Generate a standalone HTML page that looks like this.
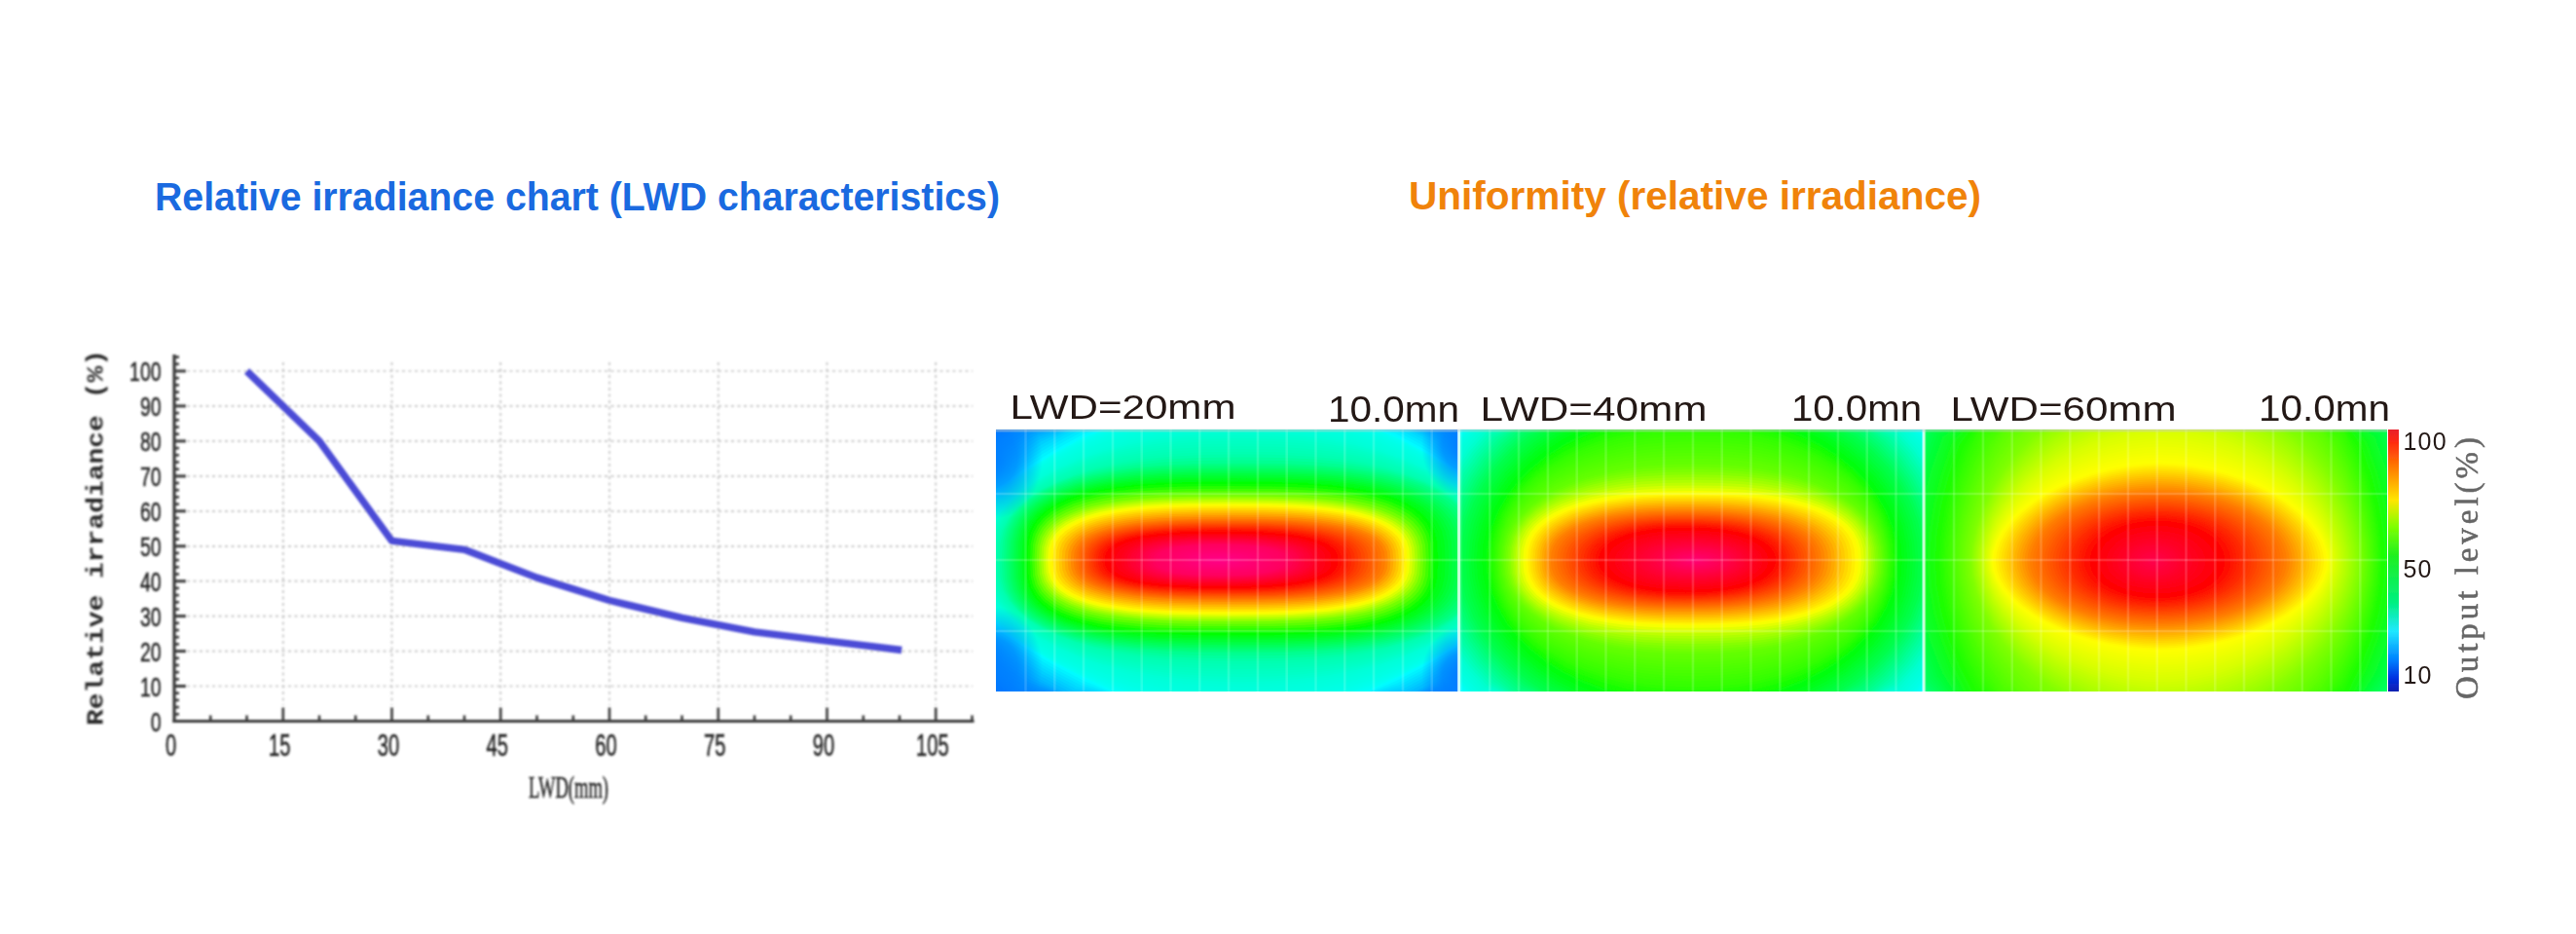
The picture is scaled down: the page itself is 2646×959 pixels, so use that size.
<!DOCTYPE html>
<html><head><meta charset="utf-8"><title>Relative irradiance</title>
<style>html,body{margin:0;padding:0;background:#fff;font-family:"Liberation Sans",sans-serif}svg{display:block}</style></head>
<body>
<svg width="2646" height="959" viewBox="0 0 2646 959">
<defs>
<clipPath id="h1c"><rect x="1023" y="441" width="475" height="269"/></clipPath>
<clipPath id="h2c"><rect x="1498" y="441" width="478" height="269"/></clipPath>
<clipPath id="h3c"><rect x="1976" y="441" width="476" height="269"/></clipPath>
<radialGradient id="h1b"><stop offset="0" stop-color="#007dff" stop-opacity="0.9"/><stop offset="0.45" stop-color="#007dff" stop-opacity="0.72"/><stop offset="1" stop-color="#007dff" stop-opacity="0"/></radialGradient>
<linearGradient id="cb" x1="0" y1="0" x2="0" y2="1">
<stop offset="0" stop-color="#e8202a"/>
<stop offset="0.05" stop-color="#ff2a10"/>
<stop offset="0.15" stop-color="#ff8000"/>
<stop offset="0.27" stop-color="#ffe600"/>
<stop offset="0.37" stop-color="#80ff00"/>
<stop offset="0.48" stop-color="#20f020"/>
<stop offset="0.66" stop-color="#00f080"/>
<stop offset="0.77" stop-color="#20e8ff"/>
<stop offset="0.88" stop-color="#0080ff"/>
<stop offset="0.95" stop-color="#0030e0"/>
<stop offset="1" stop-color="#1020b0"/>
</linearGradient>
<filter id="bl" x="-5%" y="-5%" width="110%" height="110%"><feGaussianBlur stdDeviation="0.8"/></filter>
<filter id="bl2" x="-5%" y="-5%" width="110%" height="110%"><feGaussianBlur stdDeviation="0.5"/></filter>
</defs>
<rect width="2646" height="959" fill="#fff"/>
<text x="159" y="215.5" font-family="'Liberation Sans',sans-serif" font-weight="700" font-size="40" fill="#1a6ae0" textLength="868" lengthAdjust="spacingAndGlyphs">Relative irradiance chart (LWD characteristics)</text>
<text x="1447" y="214.5" font-family="'Liberation Sans',sans-serif" font-weight="700" font-size="40" fill="#f0830a" textLength="588" lengthAdjust="spacingAndGlyphs">Uniformity (relative irradiance)</text>
<g filter="url(#bl)">
<g stroke="#c4c4c4" stroke-width="1.7" stroke-dasharray="3 3.5" fill="none">
<line x1="192" y1="704.5" x2="999" y2="704.5"/>
<line x1="192" y1="668.6" x2="999" y2="668.6"/>
<line x1="192" y1="632.6" x2="999" y2="632.6"/>
<line x1="192" y1="596.7" x2="999" y2="596.7"/>
<line x1="192" y1="560.8" x2="999" y2="560.8"/>
<line x1="192" y1="524.8" x2="999" y2="524.8"/>
<line x1="192" y1="488.9" x2="999" y2="488.9"/>
<line x1="192" y1="452.9" x2="999" y2="452.9"/>
<line x1="192" y1="416.9" x2="999" y2="416.9"/>
<line x1="192" y1="381.0" x2="999" y2="381.0"/>
<line x1="290.8" y1="372" x2="290.8" y2="724"/>
<line x1="402.5" y1="372" x2="402.5" y2="724"/>
<line x1="514.2" y1="372" x2="514.2" y2="724"/>
<line x1="626.0" y1="372" x2="626.0" y2="724"/>
<line x1="737.8" y1="372" x2="737.8" y2="724"/>
<line x1="849.5" y1="372" x2="849.5" y2="724"/>
<line x1="961.2" y1="372" x2="961.2" y2="724"/>
</g>
<g stroke="#3a3a3a" fill="none">
<line x1="179.0" y1="364" x2="179.0" y2="742.0" stroke-width="3.2"/>
<line x1="177.5" y1="740.5" x2="1000.5" y2="740.5" stroke-width="3.2"/>
<line x1="179.0" y1="740.5" x2="191.0" y2="740.5" stroke-width="3"/>
<line x1="179.0" y1="733.3" x2="184.0" y2="733.3" stroke-width="2.6"/>
<line x1="179.0" y1="726.1" x2="184.0" y2="726.1" stroke-width="2.6"/>
<line x1="179.0" y1="718.9" x2="184.0" y2="718.9" stroke-width="2.6"/>
<line x1="179.0" y1="711.7" x2="184.0" y2="711.7" stroke-width="2.6"/>
<line x1="179.0" y1="704.5" x2="191.0" y2="704.5" stroke-width="3"/>
<line x1="179.0" y1="697.4" x2="184.0" y2="697.4" stroke-width="2.6"/>
<line x1="179.0" y1="690.2" x2="184.0" y2="690.2" stroke-width="2.6"/>
<line x1="179.0" y1="683.0" x2="184.0" y2="683.0" stroke-width="2.6"/>
<line x1="179.0" y1="675.8" x2="184.0" y2="675.8" stroke-width="2.6"/>
<line x1="179.0" y1="668.6" x2="191.0" y2="668.6" stroke-width="3"/>
<line x1="179.0" y1="661.4" x2="184.0" y2="661.4" stroke-width="2.6"/>
<line x1="179.0" y1="654.2" x2="184.0" y2="654.2" stroke-width="2.6"/>
<line x1="179.0" y1="647.0" x2="184.0" y2="647.0" stroke-width="2.6"/>
<line x1="179.0" y1="639.8" x2="184.0" y2="639.8" stroke-width="2.6"/>
<line x1="179.0" y1="632.6" x2="191.0" y2="632.6" stroke-width="3"/>
<line x1="179.0" y1="625.5" x2="184.0" y2="625.5" stroke-width="2.6"/>
<line x1="179.0" y1="618.3" x2="184.0" y2="618.3" stroke-width="2.6"/>
<line x1="179.0" y1="611.1" x2="184.0" y2="611.1" stroke-width="2.6"/>
<line x1="179.0" y1="603.9" x2="184.0" y2="603.9" stroke-width="2.6"/>
<line x1="179.0" y1="596.7" x2="191.0" y2="596.7" stroke-width="3"/>
<line x1="179.0" y1="589.5" x2="184.0" y2="589.5" stroke-width="2.6"/>
<line x1="179.0" y1="582.3" x2="184.0" y2="582.3" stroke-width="2.6"/>
<line x1="179.0" y1="575.1" x2="184.0" y2="575.1" stroke-width="2.6"/>
<line x1="179.0" y1="567.9" x2="184.0" y2="567.9" stroke-width="2.6"/>
<line x1="179.0" y1="560.8" x2="191.0" y2="560.8" stroke-width="3"/>
<line x1="179.0" y1="553.6" x2="184.0" y2="553.6" stroke-width="2.6"/>
<line x1="179.0" y1="546.4" x2="184.0" y2="546.4" stroke-width="2.6"/>
<line x1="179.0" y1="539.2" x2="184.0" y2="539.2" stroke-width="2.6"/>
<line x1="179.0" y1="532.0" x2="184.0" y2="532.0" stroke-width="2.6"/>
<line x1="179.0" y1="524.8" x2="191.0" y2="524.8" stroke-width="3"/>
<line x1="179.0" y1="517.6" x2="184.0" y2="517.6" stroke-width="2.6"/>
<line x1="179.0" y1="510.4" x2="184.0" y2="510.4" stroke-width="2.6"/>
<line x1="179.0" y1="503.2" x2="184.0" y2="503.2" stroke-width="2.6"/>
<line x1="179.0" y1="496.0" x2="184.0" y2="496.0" stroke-width="2.6"/>
<line x1="179.0" y1="488.9" x2="191.0" y2="488.9" stroke-width="3"/>
<line x1="179.0" y1="481.7" x2="184.0" y2="481.7" stroke-width="2.6"/>
<line x1="179.0" y1="474.5" x2="184.0" y2="474.5" stroke-width="2.6"/>
<line x1="179.0" y1="467.3" x2="184.0" y2="467.3" stroke-width="2.6"/>
<line x1="179.0" y1="460.1" x2="184.0" y2="460.1" stroke-width="2.6"/>
<line x1="179.0" y1="452.9" x2="191.0" y2="452.9" stroke-width="3"/>
<line x1="179.0" y1="445.7" x2="184.0" y2="445.7" stroke-width="2.6"/>
<line x1="179.0" y1="438.5" x2="184.0" y2="438.5" stroke-width="2.6"/>
<line x1="179.0" y1="431.3" x2="184.0" y2="431.3" stroke-width="2.6"/>
<line x1="179.0" y1="424.1" x2="184.0" y2="424.1" stroke-width="2.6"/>
<line x1="179.0" y1="416.9" x2="191.0" y2="416.9" stroke-width="3"/>
<line x1="179.0" y1="409.8" x2="184.0" y2="409.8" stroke-width="2.6"/>
<line x1="179.0" y1="402.6" x2="184.0" y2="402.6" stroke-width="2.6"/>
<line x1="179.0" y1="395.4" x2="184.0" y2="395.4" stroke-width="2.6"/>
<line x1="179.0" y1="388.2" x2="184.0" y2="388.2" stroke-width="2.6"/>
<line x1="179.0" y1="381.0" x2="191.0" y2="381.0" stroke-width="3"/>
<line x1="179.0" y1="373.8" x2="184.0" y2="373.8" stroke-width="2.6"/>
<line x1="179.0" y1="366.6" x2="184.0" y2="366.6" stroke-width="2.6"/>
<line x1="216.2" y1="740.5" x2="216.2" y2="734.5" stroke-width="2.6"/>
<line x1="253.5" y1="740.5" x2="253.5" y2="734.5" stroke-width="2.6"/>
<line x1="290.8" y1="740.5" x2="290.8" y2="726.5" stroke-width="2.6"/>
<line x1="328.0" y1="740.5" x2="328.0" y2="734.5" stroke-width="2.6"/>
<line x1="365.2" y1="740.5" x2="365.2" y2="734.5" stroke-width="2.6"/>
<line x1="402.5" y1="740.5" x2="402.5" y2="726.5" stroke-width="2.6"/>
<line x1="439.8" y1="740.5" x2="439.8" y2="734.5" stroke-width="2.6"/>
<line x1="477.0" y1="740.5" x2="477.0" y2="734.5" stroke-width="2.6"/>
<line x1="514.2" y1="740.5" x2="514.2" y2="726.5" stroke-width="2.6"/>
<line x1="551.5" y1="740.5" x2="551.5" y2="734.5" stroke-width="2.6"/>
<line x1="588.8" y1="740.5" x2="588.8" y2="734.5" stroke-width="2.6"/>
<line x1="626.0" y1="740.5" x2="626.0" y2="726.5" stroke-width="2.6"/>
<line x1="663.2" y1="740.5" x2="663.2" y2="734.5" stroke-width="2.6"/>
<line x1="700.5" y1="740.5" x2="700.5" y2="734.5" stroke-width="2.6"/>
<line x1="737.8" y1="740.5" x2="737.8" y2="726.5" stroke-width="2.6"/>
<line x1="775.0" y1="740.5" x2="775.0" y2="734.5" stroke-width="2.6"/>
<line x1="812.2" y1="740.5" x2="812.2" y2="734.5" stroke-width="2.6"/>
<line x1="849.5" y1="740.5" x2="849.5" y2="726.5" stroke-width="2.6"/>
<line x1="886.8" y1="740.5" x2="886.8" y2="734.5" stroke-width="2.6"/>
<line x1="924.0" y1="740.5" x2="924.0" y2="734.5" stroke-width="2.6"/>
<line x1="961.2" y1="740.5" x2="961.2" y2="726.5" stroke-width="2.6"/>
<line x1="998.5" y1="740.5" x2="998.5" y2="734.5" stroke-width="2.6"/>
</g>
<text x="154.7" y="750.5" font-family="'Liberation Sans',sans-serif" font-size="28" fill="#222" stroke="#222" stroke-width="0.5" textLength="10.8" lengthAdjust="spacingAndGlyphs">0</text>
<text x="143.9" y="714.5" font-family="'Liberation Sans',sans-serif" font-size="28" fill="#222" stroke="#222" stroke-width="0.5" textLength="21.6" lengthAdjust="spacingAndGlyphs">10</text>
<text x="143.9" y="678.6" font-family="'Liberation Sans',sans-serif" font-size="28" fill="#222" stroke="#222" stroke-width="0.5" textLength="21.6" lengthAdjust="spacingAndGlyphs">20</text>
<text x="143.9" y="642.6" font-family="'Liberation Sans',sans-serif" font-size="28" fill="#222" stroke="#222" stroke-width="0.5" textLength="21.6" lengthAdjust="spacingAndGlyphs">30</text>
<text x="143.9" y="606.7" font-family="'Liberation Sans',sans-serif" font-size="28" fill="#222" stroke="#222" stroke-width="0.5" textLength="21.6" lengthAdjust="spacingAndGlyphs">40</text>
<text x="143.9" y="570.8" font-family="'Liberation Sans',sans-serif" font-size="28" fill="#222" stroke="#222" stroke-width="0.5" textLength="21.6" lengthAdjust="spacingAndGlyphs">50</text>
<text x="143.9" y="534.8" font-family="'Liberation Sans',sans-serif" font-size="28" fill="#222" stroke="#222" stroke-width="0.5" textLength="21.6" lengthAdjust="spacingAndGlyphs">60</text>
<text x="143.9" y="498.9" font-family="'Liberation Sans',sans-serif" font-size="28" fill="#222" stroke="#222" stroke-width="0.5" textLength="21.6" lengthAdjust="spacingAndGlyphs">70</text>
<text x="143.9" y="462.9" font-family="'Liberation Sans',sans-serif" font-size="28" fill="#222" stroke="#222" stroke-width="0.5" textLength="21.6" lengthAdjust="spacingAndGlyphs">80</text>
<text x="143.9" y="426.9" font-family="'Liberation Sans',sans-serif" font-size="28" fill="#222" stroke="#222" stroke-width="0.5" textLength="21.6" lengthAdjust="spacingAndGlyphs">90</text>
<text x="133.1" y="391.0" font-family="'Liberation Sans',sans-serif" font-size="28" fill="#222" stroke="#222" stroke-width="0.5" textLength="32.4" lengthAdjust="spacingAndGlyphs">100</text>
<text x="169.9" y="775.5" font-family="'Liberation Sans',sans-serif" font-size="30.5" fill="#222" stroke="#222" stroke-width="0.5" textLength="11.2" lengthAdjust="spacingAndGlyphs">0</text>
<text x="276.1" y="775.5" font-family="'Liberation Sans',sans-serif" font-size="30.5" fill="#222" stroke="#222" stroke-width="0.5" textLength="22.4" lengthAdjust="spacingAndGlyphs">15</text>
<text x="387.8" y="775.5" font-family="'Liberation Sans',sans-serif" font-size="30.5" fill="#222" stroke="#222" stroke-width="0.5" textLength="22.4" lengthAdjust="spacingAndGlyphs">30</text>
<text x="499.6" y="775.5" font-family="'Liberation Sans',sans-serif" font-size="30.5" fill="#222" stroke="#222" stroke-width="0.5" textLength="22.4" lengthAdjust="spacingAndGlyphs">45</text>
<text x="611.3" y="775.5" font-family="'Liberation Sans',sans-serif" font-size="30.5" fill="#222" stroke="#222" stroke-width="0.5" textLength="22.4" lengthAdjust="spacingAndGlyphs">60</text>
<text x="723.0" y="775.5" font-family="'Liberation Sans',sans-serif" font-size="30.5" fill="#222" stroke="#222" stroke-width="0.5" textLength="22.4" lengthAdjust="spacingAndGlyphs">75</text>
<text x="834.8" y="775.5" font-family="'Liberation Sans',sans-serif" font-size="30.5" fill="#222" stroke="#222" stroke-width="0.5" textLength="22.4" lengthAdjust="spacingAndGlyphs">90</text>
<text x="941.0" y="775.5" font-family="'Liberation Sans',sans-serif" font-size="30.5" fill="#222" stroke="#222" stroke-width="0.5" textLength="33.6" lengthAdjust="spacingAndGlyphs">105</text>
<text x="543" y="818.5" font-family="'Liberation Serif',serif" font-size="32" fill="#222" stroke="#222" stroke-width="0.5" textLength="82" lengthAdjust="spacingAndGlyphs">LWD(mm)</text>
<text transform="translate(105.5,745) rotate(-90)" font-family="'Liberation Mono',monospace" font-weight="700" font-size="23.5" fill="#2a2a2a" textLength="386" lengthAdjust="spacingAndGlyphs">Relative irradiance (%)</text>
<polyline fill="none" stroke="#4b4bd6" stroke-width="7.4" stroke-linejoin="round" stroke-linecap="butt" points="253.5,381.0 328.0,452.9 402.5,555.4 477.0,564.3 551.5,593.1 626.0,616.5 700.5,634.4 775.0,648.8 849.5,658.2 926.2,667.5"/>
</g>
<g filter="url(#bl2)">
<g clip-path="url(#h1c)">
<rect x="1023" y="441" width="475" height="269" fill="#006eff"/>
<g transform="translate(1260,575.5)">
<path fill="#0070ff" d="M241,137.5 -225.5,137.5 -241,121.4 -241,-127.8 -225.5,-137.5 241,-137.5Z"/>
<path fill="#0075ff" d="M241,137.5 -223.3,137.5 -241,119.8 -241,-126.1 -223.3,-137.5 241,-137.5Z"/>
<path fill="#0079ff" d="M241,137.5 -221.2,137.5 -241,118.1 -241,-124.3 -221.2,-137.5 241,-137.5Z"/>
<path fill="#007eff" d="M241,137.5 -219,137.5 -241,116.4 -241,-122.5 -219,-137.5 241,-137.5Z"/>
<path fill="#0082ff" d="M241,114.7 240.9,136 205.1,137.5 -181.1,137.5 -216.9,136 -241,114.7 -241,-120.8 -216.9,-137.5 240.9,-137.5 241,-120.8Z"/>
<path fill="#0086ff" d="M241,113.1 238.8,134.1 203.1,137.5 -179.1,137.5 -214.8,134.1 -241,113.1 -241,-119 -214.8,-137.5 238.8,-137.5 241,-119Z"/>
<path fill="#008bff" d="M241,111.4 236.6,132.3 201.2,137.5 -177.2,137.5 -212.6,132.3 -241,111.4 -241,-117.3 -212.6,-137.5 236.6,-137.5 241,-117.3Z"/>
<path fill="#008fff" d="M241,109.7 234.5,130.4 199.3,137.5 -175.3,137.5 -210.5,130.4 -241,109.7 -241,-115.5 -210.5,-137.2 -175.3,-137.5 199.3,-137.5 234.5,-137.2 241,-115.5Z"/>
<path fill="#0094ff" d="M241,108.1 232.4,128.5 197.4,137.5 -173.4,137.5 -208.4,128.5 -241,108.1 -241,-113.8 -208.4,-135.3 -173.4,-137.5 197.4,-137.5 232.4,-135.3 241,-113.8Z"/>
<path fill="#009aff" d="M241,106.5 230.2,126.6 195.5,137.5 -171.5,137.5 -206.2,126.6 -238.7,106.5 -241,85.5 -241,-90 -238.7,-112.1 -206.2,-133.3 -171.5,-137.5 195.5,-137.5 230.2,-133.3 241,-112.1Z"/>
<path fill="#00a3ff" d="M241,104.8 228,124.8 193.4,137.5 -169.1,137.5 -203.7,124.8 -235.9,104.8 -241,84.1 -241,-88.5 -235.9,-110.3 -203.7,-131.4 -169.1,-137.5 193.4,-137.5 228,-131.4 241,-110.3Z"/>
<path fill="#00acff" d="M241,103.2 225.8,123 191.4,137.5 -166.7,137.5 -201.1,123 -233.2,103.2 -241,82.7 -241,-87.1 -233.2,-108.6 -201.1,-129.5 -166.7,-137.5 191.4,-137.5 225.8,-129.5 241,-108.6Z"/>
<path fill="#00b5ff" d="M241,101.6 223.5,121.2 189.4,137.5 -164.4,137.5 -198.5,121.2 -230.5,101.6 -241,81.3 -241,-85.6 -230.5,-106.9 -198.5,-127.6 -164.4,-137.5 189.4,-137.5 223.5,-127.6 241,-106.9Z"/>
<path fill="#00bdff" d="M241,100 221.3,119.4 187.4,137.5 -162,137.5 -196,119.4 -227.8,100 -241,79.9 -241,-84.1 -227.8,-105.2 -196,-125.7 -162,-137.5 187.4,-137.5 221.3,-125.7 241,-105.2Z"/>
<path fill="#00c6ff" d="M241,98.4 219.1,117.6 185.3,135.6 150.5,137.5 -124.9,137.5 -159.7,135.6 -193.4,117.6 -225.1,98.4 -241,78.5 -241,-82.6 -225.1,-103.5 -193.4,-123.8 -159.7,-137.5 185.3,-137.5 219.1,-123.8 241,-103.5Z"/>
<path fill="#00cfff" d="M241,96.8 216.9,115.8 183.3,133.7 148.8,137.5 -122.8,137.5 -157.3,133.7 -190.9,115.8 -222.3,96.8 -241,77.1 -241,-81.2 -222.3,-101.8 -190.9,-121.9 -157.3,-137.5 183.3,-137.5 216.9,-121.9 241,-101.8Z"/>
<path fill="#00d8ff" d="M241,95.2 214.7,114 181.3,131.7 147.1,137.5 -120.7,137.5 -155,131.7 -188.3,114 -219.6,95.2 -241,75.8 -241,-79.7 -219.6,-100.2 -188.3,-120 -155,-137.5 181.3,-137.5 214.7,-120 241,-100.2Z"/>
<path fill="#00e0ff" d="M241,93.6 212.5,112.2 179.3,129.8 145.3,137.5 -118.7,137.5 -152.7,129.8 -185.8,112.2 -216.9,93.6 -241,74.4 -241,-78.3 -216.9,-98.5 -185.8,-118.1 -152.7,-136.6 -118.7,-137.5 145.3,-137.5 179.3,-136.6 212.5,-118.1 241,-98.5Z"/>
<path fill="#00e9ff" d="M241,92 210.3,110.5 177.4,127.8 143.6,137.5 -116.6,137.5 -150.4,127.8 -183.3,110.5 -214.2,92 -241,73 -241,-76.9 -214.2,-96.8 -183.3,-116.3 -150.4,-134.6 -116.6,-137.5 143.6,-137.5 177.4,-134.6 210.3,-116.3 241,-96.8Z"/>
<path fill="#00f2ff" d="M241,71.7 238.9,90.4 208.1,108.7 175.4,125.9 141.9,137.5 -114.5,137.5 -148,125.9 -180.7,108.7 -211.5,90.4 -239.4,71.7 -241,53.2 -241,-56 -239.4,-75.5 -211.5,-95.2 -180.7,-114.4 -148,-132.5 -114.5,-137.5 141.9,-137.5 175.4,-132.5 208.1,-114.4 238.9,-95.2 241,-75.5Z"/>
<path fill="#00fbff" d="M241,70.3 236.5,88.8 205.9,106.9 173.4,124 140.2,137.5 -112.5,137.5 -145.7,124 -178.2,106.9 -208.8,88.8 -236.6,70.3 -241,52.1 -241,-54.8 -236.6,-74 -208.8,-93.5 -178.2,-112.6 -145.7,-130.5 -112.5,-137.5 140.2,-137.5 173.4,-130.5 205.9,-112.6 236.5,-93.5 241,-74Z"/>
<path fill="#00fffe" d="M241,69 234.1,87.3 203.7,105.2 171.4,122.1 138.5,137.4 106,137.5 -78,137.5 -110.5,137.4 -143.4,122.1 -175.7,105.2 -206.1,87.3 -233.7,69 -241,51 -241,-53.7 -233.7,-72.6 -206.1,-91.9 -175.7,-110.7 -143.4,-128.5 -110.5,-137.5 138.5,-137.5 171.4,-128.5 203.7,-110.7 234.1,-91.9 241,-72.6Z"/>
<path fill="#00fffb" d="M241,69.7 234.4,87.5 204.7,104.9 173.1,121.3 140.6,136 108.4,137.5 -80.3,137.5 -112.5,136 -145,121.3 -176.6,104.9 -206.2,87.5 -233.1,69.7 -241,51.9 -241,-54.7 -233.1,-73.3 -206.2,-92.1 -176.6,-110.5 -145,-127.7 -112.5,-137.5 140.6,-137.5 173.1,-127.7 204.7,-110.5 234.4,-92.1 241,-73.3Z"/>
<path fill="#00fff9" d="M241,70.2 234.4,87.7 205.5,104.6 174.5,120.4 142.5,134.7 110.6,137.5 -82.4,137.5 -114.3,134.7 -146.3,120.4 -177.3,104.6 -206.2,87.7 -232.3,70.2 -241,52.7 -241,-55.5 -232.3,-73.9 -206.2,-92.3 -177.3,-110.1 -146.3,-126.8 -114.3,-137.5 142.5,-137.5 174.5,-126.8 205.5,-110.1 234.4,-92.3 241,-73.9Z"/>
<path fill="#00fff7" d="M241,70.6 234.4,87.7 206.2,104.2 175.9,119.5 144.4,133.2 112.7,137.5 -84.4,137.5 -116,133.2 -147.5,119.5 -177.8,104.2 -206,87.7 -231.4,70.6 -241,53.5 -241,-56.3 -231.4,-74.4 -206,-92.3 -177.8,-109.6 -147.5,-125.8 -116,-137.5 144.4,-137.5 175.9,-125.8 206.2,-109.6 234.4,-92.3 241,-74.4Z"/>
<path fill="#00fff4" d="M241,71 234.2,87.6 206.7,103.6 177,118.4 146,131.7 114.7,137.5 -86.2,137.5 -117.6,131.7 -148.5,118.4 -178.2,103.6 -205.8,87.6 -230.4,71 -241,54.1 -241,-56.9 -230.4,-74.7 -205.8,-92.3 -178.2,-109.1 -148.5,-124.7 -117.6,-137.5 146,-137.5 177,-124.7 206.7,-109.1 234.2,-92.3 241,-74.7Z"/>
<path fill="#00fff2" d="M241,71.2 233.9,87.5 207.1,103 178,117.3 147.6,130.1 116.6,137.5 -88,137.5 -119,130.1 -149.5,117.3 -178.5,103 -205.4,87.5 -229.3,71.2 -241,54.6 -241,-57.5 -229.3,-75 -205.4,-92.1 -178.5,-108.4 -149.5,-123.5 -119,-137 -88,-137.5 116.6,-137.5 147.6,-137 178,-123.5 207.1,-108.4 233.9,-92.1 241,-75Z"/>
<path fill="#00fff0" d="M241,71.4 233.5,87.2 207.4,102.3 178.9,116.2 149,128.5 118.3,137.5 -89.6,137.5 -120.3,128.5 -150.2,116.2 -178.7,102.3 -204.8,87.2 -228.1,71.4 -241,55.1 -241,-58 -228.1,-75.1 -204.8,-91.8 -178.7,-107.7 -150.2,-122.3 -120.3,-135.3 -89.6,-137.5 118.3,-137.5 149,-135.3 178.9,-122.3 207.4,-107.7 233.5,-91.8 241,-75.1Z"/>
<path fill="#00ffed" d="M241,71.4 233.1,86.9 207.5,101.5 179.7,114.9 150.3,126.8 120,137 89.8,137.5 -60.9,137.5 -91.2,137 -121.4,126.8 -150.9,114.9 -178.7,101.5 -204.2,86.9 -226.9,71.4 -241,55.5 -241,-58.4 -226.9,-75.2 -204.2,-91.4 -178.7,-106.8 -150.9,-121 -121.4,-133.5 -91.2,-137.5 120,-137.5 150.3,-133.5 179.7,-121 207.5,-106.8 233.1,-91.4 241,-75.2Z"/>
<path fill="#00ffeb" d="M241,71.4 232.5,86.4 207.6,100.6 180.3,113.6 151.4,125.1 121.5,134.8 91.5,137.5 -62.5,137.5 -92.6,134.8 -122.5,125.1 -151.4,113.6 -178.6,100.6 -203.5,86.4 -225.6,71.4 -241,55.8 -241,-58.7 -225.6,-75.1 -203.5,-91 -178.6,-105.9 -151.4,-119.6 -122.5,-131.7 -92.6,-137.5 121.5,-137.5 151.4,-131.7 180.3,-119.6 207.6,-105.9 232.5,-91 241,-75.1Z"/>
<path fill="#00ffe9" d="M241,71.3 231.8,85.9 207.5,99.7 180.9,112.3 152.5,123.3 122.9,132.7 93.1,137.5 -64,137.5 -93.9,132.7 -123.4,123.3 -151.8,112.3 -178.4,99.7 -202.7,85.9 -224.2,71.3 -241,56 -241,-59 -224.2,-75 -202.7,-90.5 -178.4,-104.9 -151.8,-118.2 -123.4,-129.8 -93.9,-137.5 122.9,-137.5 152.5,-129.8 180.9,-118.2 207.5,-104.9 231.8,-90.5 241,-75Z"/>
<path fill="#00ffe6" d="M241,71.1 231,85.3 207.3,98.7 181.3,110.8 153.4,121.5 124.3,130.5 94.6,137.5 -65.5,137.5 -95.1,130.5 -124.2,121.5 -152.1,110.8 -178.2,98.7 -201.9,85.3 -222.7,71.1 -240.4,56.2 -241,41 -241,-43.1 -240.4,-59.1 -222.7,-74.8 -201.9,-89.8 -178.2,-103.9 -152.1,-116.7 -124.2,-127.9 -95.1,-137.4 -65.5,-137.5 94.6,-137.5 124.3,-137.4 153.4,-127.9 181.3,-116.7 207.3,-103.9 231,-89.8 241,-74.8Z"/>
<path fill="#00ffe4" d="M241,70.8 230.2,84.7 207.1,97.6 181.6,109.4 154.2,119.7 125.5,128.4 96.1,135.3 66.8,137.5 -37.5,137.5 -66.8,135.3 -96.2,128.4 -124.9,119.7 -152.3,109.4 -177.8,97.6 -200.9,84.7 -221.2,70.8 -238.4,56.2 -241,41.3 -241,-43.5 -238.4,-59.2 -221.2,-74.5 -200.9,-89.1 -177.8,-102.8 -152.3,-115.1 -124.9,-126 -96.2,-135.1 -66.8,-137.5 96.1,-137.5 125.5,-135.1 154.2,-126 181.6,-115.1 207.1,-102.8 230.2,-89.1 241,-74.5Z"/>
<path fill="#00ffe2" d="M241,70.5 229.3,84 206.7,96.5 181.8,107.8 154.9,117.8 126.6,126.1 97.5,132.8 68.2,137.5 -38.8,137.5 -68.1,132.8 -97.2,126.1 -125.5,117.8 -152.4,107.8 -177.3,96.5 -199.9,84 -219.7,70.5 -236.3,56.2 -241,41.6 -241,-43.8 -236.3,-59.2 -219.7,-74.2 -199.9,-88.4 -177.3,-101.6 -152.4,-113.5 -125.5,-124 -97.2,-132.8 -68.1,-137.5 97.5,-137.5 126.6,-132.8 154.9,-124 181.8,-113.5 206.7,-101.6 229.3,-88.4 241,-74.2Z"/>
<path fill="#00ffdf" d="M241,70 228.3,83.2 206.3,95.3 181.9,106.3 155.5,115.8 127.6,123.9 98.8,130.3 69.5,134.9 40.8,137.5 -11.3,137.5 -40,134.9 -69.2,130.3 -98.1,123.9 -126,115.8 -152.4,106.3 -176.8,95.3 -198.8,83.2 -218,70 -234.2,56.2 -241,41.8 -241,-44 -234.2,-59.1 -218,-73.7 -198.8,-87.5 -176.8,-100.3 -152.4,-111.8 -126,-121.9 -98.1,-130.4 -69.2,-137.1 -40,-137.5 69.5,-137.5 98.8,-137.1 127.6,-130.4 155.5,-121.9 181.9,-111.8 206.3,-100.3 228.3,-87.5 241,-73.7Z"/>
<path fill="#00ffdd" d="M241,69.6 227.3,82.3 205.8,94.1 181.9,104.6 156,113.9 128.6,121.6 100,127.8 70.8,132.2 41.9,134.9 14.8,135.8 -12.2,134.9 -41.2,132.2 -70.3,127.8 -98.9,121.6 -126.4,113.9 -152.3,104.6 -176.1,94.1 -197.6,82.3 -216.4,69.6 -232.1,56 -241,41.9 -241,-44.2 -232.1,-59 -216.4,-73.2 -197.6,-86.6 -176.1,-99 -152.3,-110.1 -126.4,-119.9 -98.9,-128 -70.3,-134.5 -41.2,-137.5 70.8,-137.5 100,-134.5 128.6,-128 156,-119.9 181.9,-110.1 205.8,-99 227.3,-86.6 241,-73.2Z"/>
<path fill="#00ffdb" d="M241,69 226.2,81.4 205.2,92.8 181.9,103 156.5,111.9 129.4,119.3 101.1,125.2 72.1,129.5 42.9,132.1 14.9,133 -13.1,132.1 -42.3,129.5 -71.4,125.2 -99.7,119.3 -126.7,111.9 -152.1,103 -175.4,92.8 -196.4,81.4 -214.7,69 -230,55.8 -241,42 -241,-44.2 -230,-58.8 -214.7,-72.6 -196.4,-85.7 -175.4,-97.6 -152.1,-108.4 -126.7,-117.8 -99.7,-125.6 -71.4,-131.8 -42.3,-136.4 -13.1,-137.5 42.9,-137.5 72.1,-136.4 101.1,-131.8 129.4,-125.6 156.5,-117.8 181.9,-108.4 205.2,-97.6 226.2,-85.7 241,-72.6Z"/>
<path fill="#00ffd8" d="M241,68.4 225,80.4 204.5,91.4 181.7,101.3 156.8,109.8 130.2,117 102.2,122.7 73.3,126.8 43.9,129.3 14.9,130.2 -14,129.3 -43.4,126.8 -72.3,122.7 -100.3,117 -126.9,109.8 -151.8,101.3 -174.7,91.4 -195.1,80.4 -212.9,68.4 -227.8,55.6 -239.6,42.1 -241,28.1 -241,-29.6 -239.6,-44.3 -227.8,-58.5 -212.9,-72 -195.1,-84.6 -174.7,-96.2 -151.8,-106.6 -126.9,-115.6 -100.3,-123.2 -72.3,-129.2 -43.4,-133.5 -14,-136.1 14.9,-137 43.9,-136.1 73.3,-133.5 102.2,-129.2 130.2,-123.2 156.8,-115.6 181.7,-106.6 204.5,-96.2 225,-84.6 241,-72Z"/>
<path fill="#00ffd5" d="M241,67.7 223.7,79.4 203.8,90 181.5,99.5 157.1,107.8 130.8,114.7 103.2,120.2 74.4,124.1 44.9,126.5 15,127.3 -14.9,126.5 -44.4,124.1 -73.2,120.2 -100.8,114.7 -127.1,107.8 -151.5,99.5 -173.8,90 -193.7,79.4 -211.1,67.7 -225.6,55.2 -237,42 -241,28.3 -241,-29.8 -237,-44.3 -225.6,-58.1 -211.1,-71.3 -193.7,-83.5 -173.8,-94.8 -151.5,-104.8 -127.1,-113.5 -100.8,-120.7 -73.2,-126.5 -44.4,-130.6 -14.9,-133.2 15,-134 44.9,-133.2 74.4,-130.6 103.2,-126.5 130.8,-120.7 157.1,-113.5 181.5,-104.8 203.8,-94.8 223.7,-83.5 241,-71.3Z"/>
<path fill="#00ffd0" d="M241,55.1 240.4,67.2 223.5,78.5 204,88.8 182.1,98 158.1,105.9 132.2,112.6 104.7,117.8 76,121.6 46.1,123.9 15,124.7 -16.1,123.9 -46,121.6 -74.7,117.8 -102.2,112.6 -128.1,105.9 -152.1,98 -174,88.8 -193.5,78.5 -210.4,67.2 -224.5,55.1 -235.7,42.2 -241,28.7 -241,-30.2 -235.7,-44.4 -224.5,-58 -210.4,-70.8 -193.5,-82.7 -174,-93.5 -152.1,-103.1 -128.1,-111.5 -102.2,-118.5 -74.7,-124 -46,-128 -16.1,-130.4 15,-131.2 46.1,-130.4 76,-128 104.7,-124 132.2,-118.5 158.1,-111.5 182.1,-103.1 204,-93.5 223.5,-82.7 240.4,-70.8 241,-58Z"/>
<path fill="#00ffcc" d="M241,54.9 239.6,66.7 223.1,77.6 204.1,87.6 182.6,96.4 159,104.1 133.4,110.4 106.2,115.5 77.5,119.1 47.4,121.3 15,122 -17.4,121.3 -47.5,119.1 -76.2,115.5 -103.4,110.4 -129,104.1 -152.6,96.4 -174.1,87.6 -193.1,77.6 -209.6,66.7 -223.4,54.9 -234.3,42.2 -241,28.9 -241,-30.5 -234.3,-44.5 -223.4,-57.7 -209.6,-70.2 -193.1,-81.7 -174.1,-92.2 -152.6,-101.5 -129,-109.5 -103.4,-116.2 -76.2,-121.5 -47.5,-125.4 -17.4,-127.7 15,-128.4 47.4,-127.7 77.5,-125.4 106.2,-121.5 133.4,-116.2 159,-109.5 182.6,-101.5 204.1,-92.2 223.1,-81.7 239.6,-70.2 241,-57.7Z"/>
<path fill="#00ffc7" d="M241,54.6 238.9,66.1 222.8,76.7 204.1,86.3 183,94.8 159.8,102.1 134.6,108.3 107.6,113.1 79,116.6 48.6,118.7 15,119.4 -18.6,118.7 -49,116.6 -77.6,113.1 -104.6,108.3 -129.8,102.1 -153,94.8 -174.1,86.3 -192.8,76.7 -208.9,66.1 -222.3,54.6 -232.9,42.3 -240.5,29.2 -241,15.3 -241,-16.1 -240.5,-30.7 -232.9,-44.5 -222.3,-57.4 -208.9,-69.5 -192.8,-80.7 -174.1,-90.8 -153,-99.8 -129.8,-107.5 -104.6,-114 -77.6,-119 -49,-122.7 -18.6,-124.9 15,-125.7 48.6,-124.9 79,-122.7 107.6,-119 134.6,-114 159.8,-107.5 183,-99.8 204.1,-90.8 222.8,-80.7 238.9,-69.5 241,-57.4Z"/>
<path fill="#00ffc3" d="M241,54.2 238.1,65.4 222.3,75.7 204,84.9 183.4,93.1 160.6,100.2 135.7,106.1 109,110.7 80.4,114.1 49.8,116.1 15,116.7 -19.8,116.1 -50.4,114.1 -79,110.7 -105.7,106.1 -130.6,100.2 -153.4,93.1 -174,84.9 -192.3,75.7 -208.1,65.4 -221.2,54.2 -231.5,42.2 -238.9,29.4 -241,15.6 -241,-16.5 -238.9,-30.9 -231.5,-44.4 -221.2,-57.1 -208.1,-68.8 -192.3,-79.6 -174,-89.4 -153.4,-98 -130.6,-105.5 -105.7,-111.7 -79,-116.5 -50.4,-120.1 -19.8,-122.2 15,-122.9 49.8,-122.2 80.4,-120.1 109,-116.5 135.7,-111.7 160.6,-105.5 183.4,-98 204,-89.4 222.3,-79.6 238.1,-68.8 241,-57.1Z"/>
<path fill="#00ffbf" d="M241,53.8 237.2,64.7 221.8,74.6 203.9,83.5 183.7,91.4 161.3,98.2 136.7,103.9 110.2,108.3 81.7,111.5 51,113.5 15,114.1 -21,113.5 -51.7,111.5 -80.2,108.3 -106.7,103.9 -131.3,98.2 -153.7,91.4 -173.9,83.5 -191.8,74.6 -207.2,64.7 -220,53.8 -230,42.1 -237.3,29.5 -241,15.9 -241,-16.7 -237.3,-31.1 -230,-44.3 -220,-56.7 -207.2,-68.1 -191.8,-78.5 -173.9,-87.9 -153.7,-96.2 -131.3,-103.4 -106.7,-109.4 -80.2,-114 -51.7,-117.4 -21,-119.4 15,-120.1 51,-119.4 81.7,-117.4 110.2,-114 136.7,-109.4 161.3,-103.4 183.7,-96.2 203.9,-87.9 221.8,-78.5 237.2,-68.1 241,-56.7Z"/>
<path fill="#00ffba" d="M241,53.4 236.3,63.9 221.3,73.5 203.8,82.1 184,89.7 161.9,96.2 137.7,101.7 111.4,105.9 83.1,109 52.1,110.8 15,111.5 -22.1,110.8 -53.1,109 -81.4,105.9 -107.7,101.7 -131.9,96.2 -154,89.7 -173.8,82.1 -191.3,73.5 -206.3,63.9 -218.8,53.4 -228.6,41.9 -235.7,29.6 -239.9,16.1 -241,0 -239.9,-17 -235.7,-31.2 -228.6,-44.1 -218.8,-56.2 -206.3,-67.2 -191.3,-77.3 -173.8,-86.4 -154,-94.4 -131.9,-101.3 -107.7,-107 -81.4,-111.5 -53.1,-114.7 -22.1,-116.7 15,-117.3 52.1,-116.7 83.1,-114.7 111.4,-111.5 137.7,-107 161.9,-101.3 184,-94.4 203.8,-86.4 221.3,-77.3 236.3,-67.2 241,-56.2Z"/>
<path fill="#00ffb6" d="M241,52.8 235.4,63 220.7,72.3 203.6,80.6 184.1,88 162.4,94.2 138.6,99.4 112.6,103.5 84.3,106.5 53.3,108.2 15,108.8 -23.3,108.2 -54.3,106.5 -82.6,103.5 -108.6,99.4 -132.4,94.2 -154.1,88 -173.6,80.6 -190.7,72.3 -205.4,63 -217.6,52.8 -227.1,41.7 -234,29.6 -238.2,16.4 -239.6,0 -238.2,-17.2 -234,-31.2 -227.1,-43.9 -217.6,-55.6 -205.4,-66.4 -190.7,-76.1 -173.6,-84.9 -154.1,-92.6 -132.4,-99.2 -108.6,-104.7 -82.6,-109 -54.3,-112.1 -23.3,-113.9 15,-114.6 53.3,-113.9 84.3,-112.1 112.6,-109 138.6,-104.7 162.4,-99.2 184.1,-92.6 203.6,-84.9 220.7,-76.1 235.4,-66.4 241,-55.6Z"/>
<path fill="#00ffb1" d="M241,52.3 234.5,62.1 220.1,71.1 203.3,79.1 184.3,86.2 162.9,92.2 139.4,97.2 113.7,101.1 85.6,103.9 54.4,105.6 15,106.2 -24.4,105.6 -55.6,103.9 -83.7,101.1 -109.4,97.2 -132.9,92.2 -154.3,86.2 -173.3,79.1 -190.1,71.1 -204.5,62.1 -216.4,52.3 -225.7,41.5 -232.4,29.6 -236.4,16.5 -237.8,0 -236.4,-17.4 -232.4,-31.2 -225.7,-43.6 -216.4,-55 -204.5,-65.4 -190.1,-74.8 -173.3,-83.3 -154.3,-90.7 -132.9,-97.1 -109.4,-102.3 -83.7,-106.4 -55.6,-109.4 -24.4,-111.2 15,-111.8 54.4,-111.2 85.6,-109.4 113.7,-106.4 139.4,-102.3 162.9,-97.1 184.3,-90.7 203.3,-83.3 220.1,-74.8 234.5,-65.4 241,-55Z"/>
<path fill="#00ffa9" d="M241,51.6 233.5,61.2 219.5,69.9 203,77.6 184.3,84.3 163.4,90.1 140.2,94.9 114.7,98.7 86.7,101.4 55.5,103 15,103.5 -25.5,103 -56.7,101.4 -84.7,98.7 -110.2,94.9 -133.4,90.1 -154.3,84.3 -173,77.6 -189.5,69.9 -203.5,61.2 -215.1,51.6 -224.2,41.1 -230.7,29.6 -234.7,16.7 -236,0 -234.7,-17.6 -230.7,-31.2 -224.2,-43.3 -215.1,-54.4 -203.5,-64.4 -189.5,-73.5 -173,-81.7 -154.3,-88.8 -133.4,-94.9 -110.2,-99.9 -84.7,-103.9 -56.7,-106.7 -25.5,-108.4 15,-109 55.5,-108.4 86.7,-106.7 114.7,-103.9 140.2,-99.9 163.4,-94.9 184.3,-88.8 203,-81.7 219.5,-73.5 233.5,-64.4 241,-54.4Z"/>
<path fill="#00ff9e" d="M241,51.6 232.1,60.8 218.6,69 202.9,76.3 184.8,82.7 164.6,88.2 142,92.6 117,96.2 89.3,98.7 57.7,100.2 14.7,100.7 -28.4,100.2 -60,98.7 -87.7,96.2 -112.7,92.6 -135.2,88.2 -155.5,82.7 -173.5,76.3 -189.3,69 -202.7,60.8 -213.8,51.6 -222.5,41.5 -228.7,30.3 -232.4,17.5 -233.7,0 -232.4,-18.4 -228.7,-31.9 -222.5,-43.7 -213.8,-54.4 -202.7,-64 -189.3,-72.6 -173.5,-80.3 -155.5,-87.1 -135.2,-92.8 -112.7,-97.5 -87.7,-101.2 -60,-103.9 -28.4,-105.5 14.7,-106 57.7,-105.5 89.3,-103.9 117,-101.2 142,-97.5 164.6,-92.8 184.8,-87.1 202.9,-80.3 218.6,-72.6 232.1,-64 241,-54.4Z"/>
<path fill="#00ff92" d="M241,51.5 230.5,60.2 217.6,68 202.5,75 185.1,81 165.5,86.1 143.6,90.3 119.1,93.6 91.7,96 59.9,97.4 14.3,97.8 -31.3,97.4 -63,96 -90.4,93.6 -114.9,90.3 -136.9,86.1 -156.5,81 -173.8,75 -189,68 -201.8,60.2 -212.4,51.5 -220.7,41.7 -226.6,30.8 -230.1,18.2 -231.3,0 -230.1,-19.1 -226.6,-32.4 -220.7,-43.9 -212.4,-54.2 -201.8,-63.4 -189,-71.6 -173.8,-78.9 -156.5,-85.2 -136.9,-90.6 -114.9,-95.1 -90.4,-98.5 -63,-101 -31.3,-102.5 14.3,-103 59.9,-102.5 91.7,-101 119.1,-98.5 143.6,-95.1 165.5,-90.6 185.1,-85.2 202.5,-78.9 217.6,-71.6 230.5,-63.4 241,-54.2Z"/>
<path fill="#00ff86" d="M241,41.8 238.9,51.2 228.8,59.5 216.5,66.9 202,73.5 185.2,79.2 166.3,84 144.9,87.9 121,91 93.8,93.2 62,94.6 14,95 -34,94.6 -65.8,93.2 -93,91 -116.9,87.9 -138.3,84 -157.2,79.2 -174,73.5 -188.5,66.9 -200.8,59.5 -210.9,51.2 -218.8,41.8 -224.5,31.2 -227.9,18.8 -229,0 -227.9,-19.8 -224.5,-32.9 -218.8,-44 -210.9,-53.9 -200.8,-62.7 -188.5,-70.5 -174,-77.4 -157.2,-83.3 -138.3,-88.4 -116.9,-92.6 -93,-95.8 -65.8,-98.1 -34,-99.5 14,-100 62,-99.5 93.8,-98.1 121,-95.8 144.9,-92.6 166.3,-88.4 185.2,-83.3 202,-77.4 216.5,-70.5 228.8,-62.7 238.9,-53.9 241,-44Z"/>
<path fill="#00ff7a" d="M241,41.4 235.7,50.6 225.8,58.7 213.7,66 199.5,72.4 183,77.9 164.4,82.6 143.4,86.5 119.7,89.5 92.9,91.6 61.4,92.9 13.2,93.3 -34.9,92.9 -66.5,91.6 -93.3,89.5 -116.9,86.5 -137.9,82.6 -156.6,77.9 -173,72.4 -187.3,66 -199.3,58.7 -209.2,50.6 -217,41.4 -222.5,31 -225.8,18.7 -226.9,0 -225.8,-19.7 -222.5,-32.6 -217,-43.6 -209.2,-53.2 -199.3,-61.8 -187.3,-69.5 -173,-76.2 -156.6,-82 -137.9,-87 -116.9,-91 -93.3,-94.2 -66.5,-96.4 -34.9,-97.8 13.2,-98.2 61.4,-97.8 92.9,-96.4 119.7,-94.2 143.4,-91 164.4,-87 183,-82 199.5,-76.2 213.7,-69.5 225.8,-61.8 235.7,-53.2 241,-43.6Z"/>
<path fill="#00ff6f" d="M241,30.7 240,41 232.4,49.9 222.7,57.9 210.9,65 196.9,71.3 180.8,76.7 162.4,81.2 141.8,85 118.5,87.9 92,90 60.7,91.3 12.5,91.7 -35.8,91.3 -67.1,90 -93.6,87.9 -116.9,85 -137.5,81.2 -155.9,76.7 -172,71.3 -186,65 -197.8,57.9 -207.5,49.9 -215.1,41 -220.5,30.7 -223.8,18.6 -224.9,0 -223.8,-19.6 -220.5,-32.4 -215.1,-43.1 -207.5,-52.6 -197.8,-61 -186,-68.4 -172,-75 -155.9,-80.7 -137.5,-85.5 -116.9,-89.5 -93.6,-92.5 -67.1,-94.7 -35.8,-96.1 12.4,-96.5 60.7,-96.1 92,-94.7 118.5,-92.5 141.8,-89.5 162.4,-85.5 180.8,-80.7 196.9,-75 210.9,-68.4 222.7,-61 232.4,-52.6 240,-43.1 241,-32.4Z"/>
<path fill="#00ff63" d="M241,30.5 236.6,40.5 229.2,49.3 219.7,57.1 208.1,64 194.3,70.1 178.5,75.4 160.5,79.8 140.1,83.5 117.2,86.3 91.1,88.4 60.1,89.6 11.7,90 -36.7,89.6 -67.7,88.4 -93.9,86.3 -116.8,83.5 -137.1,79.8 -155.2,75.4 -171,70.1 -184.7,64 -196.3,57.1 -205.8,49.3 -213.3,40.5 -218.6,30.5 -221.8,18.6 -222.8,0 -221.8,-19.6 -218.6,-32.1 -213.3,-42.6 -205.8,-51.9 -196.3,-60.1 -184.7,-67.4 -171,-73.8 -155.2,-79.3 -137.1,-84 -116.8,-87.9 -93.9,-90.9 -67.7,-93 -36.7,-94.3 11.7,-94.8 60.1,-94.3 91.1,-93 117.2,-90.9 140.1,-87.9 160.5,-84 178.5,-79.3 194.3,-73.8 208.1,-67.4 219.7,-60.1 229.2,-51.9 236.6,-42.6 241,-32.1Z"/>
<path fill="#00ff58" d="M241,18.5 238.4,30.2 233.2,40 225.9,48.7 216.6,56.3 205.2,63 191.8,69 176.2,74.1 158.5,78.5 138.5,82 115.9,84.8 90.1,86.8 59.4,88 10.9,88.3 -37.6,88 -68.3,86.8 -94.1,84.8 -116.7,82 -136.7,78.5 -154.4,74.1 -170,69 -183.4,63 -194.8,56.3 -204.1,48.7 -211.4,40 -216.6,30.2 -219.7,18.5 -220.8,0 -219.7,-19.5 -216.6,-31.8 -211.4,-42.2 -204.1,-51.2 -194.8,-59.3 -183.4,-66.4 -170,-72.6 -154.4,-78 -136.7,-82.6 -116.7,-86.3 -94.1,-89.2 -68.3,-91.3 -37.6,-92.6 10.9,-93 59.4,-92.6 90.1,-91.3 115.9,-89.2 138.5,-86.3 158.5,-82.6 176.2,-78 191.8,-72.6 205.2,-66.4 216.6,-59.3 225.9,-51.2 233.2,-42.2 238.4,-31.8 241,-19.5Z"/>
<path fill="#00ff4c" d="M239,0 237.9,18.4 234.9,29.9 229.8,39.6 222.7,48 213.5,55.5 202.4,62 189.2,67.8 173.9,72.8 156.5,77.1 136.8,80.5 114.6,83.2 89.1,85.1 58.7,86.3 10.1,86.7 -38.4,86.3 -68.8,85.1 -94.3,83.2 -116.6,80.5 -136.3,77.1 -153.7,72.8 -168.9,67.8 -182.1,62 -193.3,55.5 -202.4,48 -209.5,39.6 -214.6,29.9 -217.7,18.4 -218.7,0 -217.7,-19.4 -214.6,-31.5 -209.5,-41.7 -202.4,-50.5 -193.3,-58.4 -182.1,-65.3 -168.9,-71.4 -153.7,-76.7 -136.3,-81.1 -116.6,-84.8 -94.3,-87.6 -68.8,-89.6 -38.4,-90.8 10.1,-91.2 58.7,-90.8 89.1,-89.6 114.6,-87.6 136.8,-84.8 156.5,-81.1 173.9,-76.7 189.2,-71.4 202.4,-65.3 213.5,-58.4 222.7,-50.5 229.8,-41.7 234.9,-31.5 237.9,-19.4Z"/>
<path fill="#00ff40" d="M235.3,0 234.4,18.3 231.4,29.6 226.4,39.1 219.4,47.3 210.4,54.6 199.5,61 186.6,66.7 171.6,71.5 154.5,75.7 135.1,79 113.2,81.6 88.1,83.5 58,84.6 9.4,85 -39.3,84.6 -69.4,83.5 -94.5,81.6 -116.4,79 -135.8,75.7 -152.9,71.5 -167.9,66.7 -180.8,61 -191.7,54.6 -200.7,47.3 -207.7,39.1 -212.7,29.6 -215.7,18.3 -216.7,0 -215.7,-19.3 -212.7,-31.2 -207.7,-41.1 -200.7,-49.8 -191.7,-57.5 -180.8,-64.2 -167.9,-70.2 -152.9,-75.3 -135.8,-79.6 -116.4,-83.2 -94.5,-85.9 -69.4,-87.9 -39.3,-89.1 9.3,-89.5 58,-89.1 88.1,-87.9 113.2,-85.9 135.1,-83.2 154.5,-79.6 171.6,-75.3 186.6,-70.2 199.5,-64.2 210.4,-57.5 219.4,-49.8 226.4,-41.1 231.4,-31.2 234.4,-19.3Z"/>
<path fill="#00ff34" d="M231.7,0 230.8,18.2 227.8,29.3 223,38.6 216.1,46.6 207.4,53.7 196.6,60 183.9,65.5 169.2,70.2 152.4,74.3 133.4,77.5 111.8,80.1 87,81.9 57.2,83 8.6,83.4 -40.1,83 -69.9,81.9 -94.7,80.1 -116.3,77.5 -135.3,74.3 -152.1,70.2 -166.8,65.5 -179.5,60 -190.2,53.7 -199,46.6 -205.8,38.6 -210.7,29.3 -213.6,18.2 -214.6,0 -213.6,-19.1 -210.7,-30.8 -205.8,-40.6 -199,-49.1 -190.2,-56.6 -179.5,-63.2 -166.8,-69 -152.1,-73.9 -135.3,-78.2 -116.3,-81.6 -94.7,-84.3 -69.9,-86.2 -40.1,-87.4 8.6,-87.8 57.2,-87.4 87,-86.2 111.8,-84.3 133.4,-81.6 152.4,-78.2 169.2,-73.9 183.9,-69 196.6,-63.2 207.4,-56.6 216.1,-49.1 223,-40.6 227.8,-30.8 230.8,-19.1Z"/>
<path fill="#00ff29" d="M228.1,0 227.2,18 224.3,29 219.5,38.1 212.8,45.9 204.2,52.9 193.7,59 181.3,64.3 166.9,68.9 150.4,72.8 131.7,76 110.4,78.5 86,80.3 56.5,81.3 7.8,81.7 -40.9,81.3 -70.4,80.3 -94.8,78.5 -116.1,76 -134.8,72.8 -151.3,68.9 -165.7,64.3 -178.1,59 -188.6,52.9 -197.2,45.9 -203.9,38.1 -208.7,29 -211.6,18 -212.5,0 -211.6,-19 -208.7,-30.5 -203.9,-40.1 -197.2,-48.4 -188.6,-55.7 -178.1,-62.1 -165.7,-67.7 -151.3,-72.6 -134.8,-76.7 -116.1,-80 -94.8,-82.6 -70.4,-84.5 -40.9,-85.6 7.8,-86 56.5,-85.6 86,-84.5 110.4,-82.6 131.7,-80 150.4,-76.7 166.9,-72.6 181.3,-67.7 193.7,-62.1 204.2,-55.7 212.8,-48.4 219.5,-40.1 224.3,-30.5 227.2,-19Z"/>
<path fill="#00ff1d" d="M224.5,0 223.6,17.9 220.8,28.6 216.1,37.5 209.6,45.2 201.1,52 190.8,57.9 178.6,63.2 164.5,67.6 148.3,71.4 129.9,74.5 109,76.9 84.9,78.7 55.7,79.7 7,80 -41.6,79.7 -70.8,78.7 -94.9,76.9 -115.9,74.5 -134.3,71.4 -150.4,67.6 -164.6,63.2 -176.8,57.9 -187.1,52 -195.5,45.2 -202.1,37.5 -206.7,28.6 -209.5,17.9 -210.5,0 -209.5,-18.9 -206.7,-30.2 -202.1,-39.5 -195.5,-47.6 -187.1,-54.7 -176.8,-61 -164.6,-66.5 -150.4,-71.2 -134.3,-75.2 -115.9,-78.5 -94.9,-81 -70.8,-82.8 -41.6,-83.9 7,-84.2 55.7,-83.9 84.9,-82.8 109,-81 129.9,-78.5 148.3,-75.2 164.5,-71.2 178.6,-66.5 190.8,-61 201.1,-54.7 209.6,-47.6 216.1,-39.5 220.8,-30.2 223.6,-18.9Z"/>
<path fill="#00ff12" d="M220.9,0 220,17.8 217.3,28.3 212.7,37 206.3,44.5 198,51.1 187.9,56.9 176,62 162.1,66.3 146.2,70 128.1,73 107.5,75.4 83.8,77 54.9,78 6.3,78.4 -42.4,78 -71.3,77 -95,75.4 -115.6,73 -133.7,70 -149.6,66.3 -163.5,62 -175.4,56.9 -185.5,51.1 -193.8,44.5 -200.2,37 -204.8,28.3 -207.5,17.8 -208.4,0 -207.5,-18.7 -204.8,-29.8 -200.2,-38.9 -193.8,-46.8 -185.5,-53.8 -175.4,-59.9 -163.5,-65.2 -149.6,-69.8 -133.7,-73.7 -115.6,-76.9 -95,-79.3 -71.3,-81.1 -42.4,-82.1 6.2,-82.5 54.9,-82.1 83.8,-81.1 107.5,-79.3 128.1,-76.9 146.2,-73.7 162.1,-69.8 176,-65.2 187.9,-59.9 198,-53.8 206.3,-46.8 212.7,-38.9 217.3,-29.8 220,-18.7Z"/>
<path fill="#00ff06" d="M217.3,0 216.4,17.6 213.7,27.9 209.2,36.4 203,43.8 194.9,50.2 185,55.8 173.3,60.8 159.7,65 144.1,68.6 126.3,71.5 106.1,73.8 82.6,75.4 54.1,76.4 5.5,76.7 -43.1,76.4 -71.7,75.4 -95.1,73.8 -115.4,71.5 -133.1,68.6 -148.7,65 -162.3,60.8 -174.1,55.8 -183.9,50.2 -192,43.8 -198.3,36.4 -202.8,27.9 -205.5,17.6 -206.4,0 -205.5,-18.5 -202.8,-29.4 -198.3,-38.3 -192,-46.1 -183.9,-52.8 -174.1,-58.8 -162.3,-64 -148.7,-68.4 -133.1,-72.2 -115.4,-75.3 -95.1,-77.7 -71.7,-79.4 -43.1,-80.4 5.5,-80.8 54.1,-80.4 82.6,-79.4 106.1,-77.7 126.3,-75.3 144.1,-72.2 159.7,-68.4 173.3,-64 185,-58.8 194.9,-52.8 203,-46.1 209.2,-38.3 213.7,-29.4 216.4,-18.5Z"/>
<path fill="#0dff00" d="M213.7,0 212.8,17.4 210.2,27.6 205.8,35.9 199.7,43 191.8,49.3 182.1,54.8 170.6,59.6 157.2,63.7 141.9,67.2 124.5,70 104.6,72.2 81.4,73.8 53.3,74.7 4.7,75 -43.9,74.7 -72,73.8 -95.2,72.2 -115.1,70 -132.5,67.2 -147.8,63.7 -161.2,59.6 -172.7,54.8 -182.4,49.3 -190.3,43 -196.4,35.9 -200.8,27.6 -203.4,17.4 -204.3,0 -203.4,-18.4 -200.8,-29 -196.4,-37.7 -190.3,-45.3 -182.4,-51.9 -172.7,-57.7 -161.2,-62.7 -147.8,-67 -132.5,-70.7 -115.1,-73.7 -95.2,-76 -72,-77.7 -43.9,-78.7 4.7,-79 53.3,-78.7 81.4,-77.7 104.6,-76 124.5,-73.7 141.9,-70.7 157.2,-67 170.6,-62.7 182.1,-57.7 191.8,-51.9 199.7,-45.3 205.8,-37.7 210.2,-29 212.8,-18.4Z"/>
<path fill="#26ff00" d="M210.8,0 209.9,16.7 207.3,26.5 202.9,34.5 196.8,41.4 189,47.5 179.3,52.9 167.9,57.5 154.7,61.5 139.5,64.9 122.2,67.7 102.5,69.8 79.6,71.4 51.8,72.3 4.4,72.6 -43.1,72.3 -70.9,71.4 -93.8,69.8 -113.5,67.7 -130.8,64.9 -146,61.5 -159.2,57.5 -170.6,52.9 -180.2,47.5 -188.1,41.4 -194.2,34.5 -198.6,26.5 -201.2,16.7 -202,0 -201.2,-17.6 -198.6,-27.9 -194.2,-36.3 -188.1,-43.6 -180.2,-50 -170.6,-55.6 -159.2,-60.5 -146,-64.8 -130.8,-68.3 -113.5,-71.2 -93.8,-73.5 -70.9,-75.1 -43.1,-76.1 4.4,-76.4 51.8,-76.1 79.6,-75.1 102.5,-73.5 122.2,-71.2 139.5,-68.3 154.7,-64.8 167.9,-60.5 179.3,-55.6 189,-50 196.8,-43.6 202.9,-36.3 207.3,-27.9 209.9,-17.6Z"/>
<path fill="#40ff00" d="M207.8,0 207,16 204.4,25.4 200,33.2 194,39.9 186.1,45.8 176.6,51 165.3,55.5 152.1,59.4 137.1,62.7 119.9,65.3 100.4,67.4 77.9,68.9 50.4,69.8 4,70.1 -42.4,69.8 -69.8,68.9 -92.4,67.4 -111.9,65.3 -129,62.7 -144.1,59.4 -157.2,55.5 -168.6,51 -178.1,45.8 -185.9,39.9 -192,33.2 -196.3,25.4 -198.9,16 -199.8,0 -198.9,-16.8 -196.3,-26.7 -192,-34.9 -185.9,-42 -178.1,-48.2 -168.6,-53.6 -157.2,-58.4 -144.1,-62.5 -129,-66 -111.9,-68.8 -92.4,-71 -69.8,-72.5 -42.4,-73.5 4,-73.8 50.4,-73.5 77.9,-72.5 100.4,-71 119.9,-68.8 137.1,-66 152.1,-62.5 165.3,-58.4 176.6,-53.6 186.1,-48.2 194,-42 200,-34.9 204.4,-26.7 207,-16.8Z"/>
<path fill="#5aff00" d="M204.9,0 204,15.3 201.4,24.3 197.1,31.8 191.1,38.3 183.3,44 173.9,49 162.6,53.4 149.6,57.2 134.7,60.4 117.7,63 98.4,65 76.1,66.5 49,67.4 3.7,67.6 -41.7,67.4 -68.7,66.5 -91,65 -110.3,63 -127.3,60.4 -142.2,57.2 -155.3,53.4 -166.5,49 -176,44 -183.7,38.3 -189.8,31.8 -194.1,24.3 -196.7,15.3 -197.5,0 -196.7,-16.1 -194.1,-25.6 -189.8,-33.5 -183.7,-40.3 -176,-46.3 -166.5,-51.6 -155.3,-56.2 -142.2,-60.2 -127.3,-63.6 -110.3,-66.3 -91,-68.5 -68.7,-70 -41.7,-70.9 3.7,-71.2 49,-70.9 76.1,-70 98.4,-68.5 117.7,-66.3 134.7,-63.6 149.6,-60.2 162.6,-56.2 173.9,-51.6 183.3,-46.3 191.1,-40.3 197.1,-33.5 201.4,-25.6 204,-16.1Z"/>
<path fill="#73ff00" d="M201.9,0 201.1,14.5 198.5,23.3 194.2,30.5 188.2,36.8 180.5,42.3 171.1,47.2 160,51.4 147,55.1 132.2,58.2 115.4,60.7 96.3,62.6 74.3,64 47.7,64.9 3.3,65.2 -41,64.9 -67.6,64 -89.7,62.6 -108.8,60.7 -125.6,58.2 -140.4,55.1 -153.3,51.4 -164.5,47.2 -173.9,42.3 -181.6,36.8 -187.6,30.5 -191.8,23.3 -194.4,14.5 -195.3,0 -194.4,-15.3 -191.8,-24.5 -187.6,-32.1 -181.6,-38.7 -173.9,-44.5 -164.5,-49.6 -153.3,-54.1 -140.4,-58 -125.6,-61.2 -108.8,-63.9 -89.7,-65.9 -67.6,-67.4 -41,-68.3 3.3,-68.6 47.7,-68.3 74.3,-67.4 96.3,-65.9 115.4,-63.9 132.2,-61.2 147,-58 160,-54.1 171.1,-49.6 180.5,-44.5 188.2,-38.7 194.2,-32.1 198.5,-24.5 201.1,-15.3Z"/>
<path fill="#8dff00" d="M199,0 198.1,13.9 195.6,22.2 191.3,29.2 185.4,35.3 177.8,40.6 168.4,45.3 157.3,49.4 144.5,52.9 129.8,55.9 113.2,58.3 94.3,60.3 72.5,61.6 46.3,62.4 3,62.7 -40.3,62.4 -66.5,61.6 -88.3,60.3 -107.2,58.3 -123.8,55.9 -138.5,52.9 -151.3,49.4 -162.4,45.3 -171.8,40.6 -179.4,35.3 -185.3,29.2 -189.6,22.2 -192.1,13.9 -193,0 -192.1,-14.6 -189.6,-23.4 -185.3,-30.7 -179.4,-37.1 -171.8,-42.7 -162.4,-47.6 -151.3,-52 -138.5,-55.7 -123.8,-58.8 -107.2,-61.4 -88.3,-63.4 -66.5,-64.9 -40.3,-65.7 3,-66 46.3,-65.7 72.5,-64.9 94.3,-63.4 113.2,-61.4 129.8,-58.8 144.5,-55.7 157.3,-52 168.4,-47.6 177.8,-42.7 185.4,-37.1 191.3,-30.7 195.6,-23.4 198.1,-14.6Z"/>
<path fill="#a6ff00" d="M196.3,0 195.4,13.3 192.9,21.5 188.7,28.3 182.8,34.2 175.2,39.3 165.9,43.9 154.9,47.9 142.2,51.4 127.6,54.3 111.1,56.7 92.4,58.6 70.9,59.9 45.1,60.7 2.8,61 -39.5,60.7 -65.4,59.9 -86.9,58.6 -105.6,56.7 -122.1,54.3 -136.6,51.4 -149.3,47.9 -160.3,43.9 -169.6,39.3 -177.2,34.2 -183.1,28.3 -187.3,21.5 -189.9,13.3 -190.7,0 -189.9,-14 -187.3,-22.6 -183.1,-29.7 -177.2,-36 -169.6,-41.4 -160.3,-46.2 -149.3,-50.5 -136.6,-54.1 -122.1,-57.2 -105.6,-59.7 -86.9,-61.7 -65.4,-63.1 -39.5,-63.9 2.8,-64.2 45.1,-63.9 70.9,-63.1 92.4,-61.7 111.1,-59.7 127.6,-57.2 142.2,-54.1 154.9,-50.5 165.9,-46.2 175.2,-41.4 182.8,-36 188.7,-29.7 192.9,-22.6 195.4,-14Z"/>
<path fill="#c0ff00" d="M193.6,0 192.7,12.8 190.2,20.7 186,27.3 180.1,33.1 172.6,38.1 163.4,42.6 152.5,46.5 139.8,49.9 125.4,52.8 109.1,55.1 90.6,56.9 69.3,58.2 43.9,59 2.6,59.3 -38.7,59 -64.2,58.2 -85.5,56.9 -104,55.1 -120.3,52.8 -134.7,49.9 -147.3,46.5 -158.2,42.6 -167.5,38.1 -175,33.1 -180.9,27.3 -185.1,20.7 -187.6,12.8 -188.4,0 -187.6,-13.5 -185.1,-21.8 -180.9,-28.8 -175,-34.8 -167.5,-40.1 -158.2,-44.8 -147.3,-49 -134.7,-52.5 -120.3,-55.5 -104,-58 -85.5,-59.9 -64.2,-61.3 -38.7,-62.1 2.6,-62.4 43.9,-62.1 69.3,-61.3 90.6,-59.9 109.1,-58 125.4,-55.5 139.8,-52.5 152.5,-49 163.4,-44.8 172.6,-40.1 180.1,-34.8 186,-28.8 190.2,-21.8 192.7,-13.5Z"/>
<path fill="#d9ff00" d="M190.8,0 190,12.3 187.5,20 183.3,26.4 177.5,32 170,36.9 160.8,41.3 150,45.1 137.5,48.4 123.2,51.2 107,53.5 88.7,55.3 67.8,56.5 42.7,57.3 2.3,57.6 -38,57.3 -63.1,56.5 -84.1,55.3 -102.4,53.5 -118.5,51.2 -132.8,48.4 -145.3,45.1 -156.2,41.3 -165.3,36.9 -172.8,32 -178.6,26.4 -182.8,20 -185.3,12.3 -186.2,0 -185.3,-13 -182.8,-21 -178.6,-27.8 -172.8,-33.7 -165.3,-38.9 -156.2,-43.4 -145.3,-47.5 -132.8,-51 -118.5,-53.9 -102.4,-56.3 -84.1,-58.2 -63.1,-59.5 -38,-60.3 2.3,-60.6 42.7,-60.3 67.8,-59.5 88.7,-58.2 107,-56.3 123.2,-53.9 137.5,-51 150,-47.5 160.8,-43.4 170,-38.9 177.5,-33.7 183.3,-27.8 187.5,-21 190,-13Z"/>
<path fill="#f2ff00" d="M188.1,0 187.3,11.8 184.8,19.2 180.7,25.5 174.9,30.9 167.4,35.7 158.3,40 147.6,43.7 135.2,46.9 121,49.6 105,51.9 86.9,53.6 66.2,54.9 41.5,55.6 2.1,55.9 -37.2,55.6 -62,54.9 -82.7,53.6 -100.8,51.9 -116.8,49.6 -130.9,46.9 -143.3,43.7 -154.1,40 -163.2,35.7 -170.6,30.9 -176.4,25.5 -180.6,19.2 -183,11.8 -183.9,0 -183,-12.4 -180.6,-20.3 -176.4,-26.8 -170.6,-32.5 -163.2,-37.6 -154.1,-42.1 -143.3,-46 -130.9,-49.4 -116.8,-52.3 -100.8,-54.6 -82.7,-56.4 -62,-57.8 -37.2,-58.5 2.1,-58.8 41.5,-58.5 66.2,-57.8 86.9,-56.4 105,-54.6 121,-52.3 135.2,-49.4 147.6,-46 158.3,-42.1 167.4,-37.6 174.9,-32.5 180.7,-26.8 184.8,-20.3 187.3,-12.4Z"/>
<path fill="#fff700" d="M185.4,0 184.6,11.3 182.1,18.5 178,24.5 172.2,29.8 164.8,34.5 155.8,38.6 145.2,42.3 132.8,45.4 118.8,48.1 103,50.3 85.1,52 64.6,53.2 40.3,53.9 1.9,54.1 -36.5,53.9 -60.8,53.2 -81.3,52 -99.2,50.3 -115,48.1 -129,45.4 -141.4,42.3 -152,38.6 -161,34.5 -168.4,29.8 -174.2,24.5 -178.3,18.5 -180.8,11.3 -181.6,0 -180.8,-11.9 -178.3,-19.5 -174.2,-25.8 -168.4,-31.4 -161,-36.3 -152,-40.7 -141.4,-44.5 -129,-47.8 -115,-50.6 -99.2,-52.9 -81.3,-54.7 -60.8,-56 -36.5,-56.7 1.9,-57 40.3,-56.7 64.6,-56 85.1,-54.7 103,-52.9 118.8,-50.6 132.8,-47.8 145.2,-44.5 155.8,-40.7 164.8,-36.3 172.2,-31.4 178,-25.8 182.1,-19.5 184.6,-11.9Z"/>
<path fill="#ffe700" d="M182.6,0 181.8,10.9 179.3,17.9 175.2,23.7 169.6,28.8 162.3,33.4 153.3,37.4 142.8,40.9 130.7,44 116.8,46.6 101.2,48.7 83.6,50.4 63.4,51.5 39.5,52.3 2,52.5 -35.5,52.3 -59.4,51.5 -79.5,50.4 -97.2,48.7 -112.8,46.6 -126.6,44 -138.8,40.9 -149.3,37.4 -158.2,33.4 -165.5,28.8 -171.2,23.7 -175.3,17.9 -177.7,10.9 -178.6,0 -177.7,-11.5 -175.3,-18.8 -171.2,-25 -165.5,-30.3 -158.2,-35.1 -149.3,-39.4 -138.8,-43.1 -126.6,-46.3 -112.8,-49 -97.2,-51.3 -79.5,-53 -59.4,-54.3 -35.5,-55 2,-55.2 39.5,-55 63.4,-54.3 83.6,-53 101.2,-51.3 116.8,-49 130.7,-46.3 142.8,-43.1 153.3,-39.4 162.3,-35.1 169.6,-30.3 175.2,-25 179.3,-18.8 181.8,-11.5Z"/>
<path fill="#ffd700" d="M179.8,0 178.9,10.5 176.5,17.2 172.5,22.9 166.9,27.8 159.7,32.3 150.9,36.2 140.5,39.6 128.5,42.6 114.8,45.1 99.4,47.1 82.1,48.8 62.3,49.9 38.8,50.6 2.1,50.8 -34.5,50.6 -58,49.9 -77.8,48.8 -95.2,47.1 -110.6,45.1 -124.2,42.6 -136.2,39.6 -146.6,36.2 -155.4,32.3 -162.6,27.8 -168.3,22.9 -172.3,17.2 -174.7,10.5 -175.5,0 -174.7,-11 -172.3,-18.1 -168.3,-24.1 -162.6,-29.3 -155.4,-33.9 -146.6,-38.1 -136.2,-41.7 -124.2,-44.8 -110.6,-47.5 -95.2,-49.6 -77.8,-51.3 -58,-52.5 -34.5,-53.3 2.1,-53.5 38.8,-53.3 62.3,-52.5 82.1,-51.3 99.4,-49.6 114.8,-47.5 128.5,-44.8 140.5,-41.7 150.9,-38.1 159.7,-33.9 166.9,-29.3 172.5,-24.1 176.5,-18.1 178.9,-11Z"/>
<path fill="#ffc700" d="M176.9,0 176.1,10.1 173.7,16.6 169.8,22 164.2,26.9 157.1,31.1 148.4,34.9 138.2,38.3 126.3,41.1 112.9,43.6 97.7,45.6 80.6,47.1 61.1,48.3 38,48.9 2.2,49.2 -33.6,48.9 -56.6,48.3 -76.1,47.1 -93.2,45.6 -108.4,43.6 -121.8,41.1 -133.7,38.3 -143.9,34.9 -152.6,31.1 -159.7,26.9 -165.3,22 -169.3,16.6 -171.7,10.1 -172.4,0 -171.7,-10.6 -169.3,-17.4 -165.3,-23.2 -159.7,-28.3 -152.6,-32.8 -143.9,-36.8 -133.7,-40.3 -121.8,-43.3 -108.4,-45.9 -93.2,-48 -76.1,-49.6 -56.6,-50.8 -33.6,-51.5 2.2,-51.8 38,-51.5 61.1,-50.8 80.6,-49.6 97.7,-48 112.9,-45.9 126.3,-43.3 138.2,-40.3 148.4,-36.8 157.1,-32.8 164.2,-28.3 169.8,-23.2 173.7,-17.4 176.1,-10.6Z"/>
<path fill="#ffb800" d="M174.1,0 173.3,9.7 171,15.9 167,21.2 161.6,25.9 154.5,30 146,33.7 135.8,36.9 124.2,39.7 110.9,42.1 95.9,44 79.1,45.5 59.9,46.6 37.3,47.3 2.4,47.5 -32.6,47.3 -55.2,46.6 -74.4,45.5 -91.2,44 -106.2,42.1 -119.5,39.7 -131.1,36.9 -141.3,33.7 -149.8,30 -156.9,25.9 -162.3,21.2 -166.3,15.9 -168.6,9.7 -169.4,0 -168.6,-10.2 -166.3,-16.8 -162.3,-22.3 -156.9,-27.2 -149.8,-31.6 -141.3,-35.5 -131.1,-38.9 -119.5,-41.8 -106.2,-44.3 -91.2,-46.3 -74.4,-47.9 -55.2,-49.1 -32.6,-49.8 2.3,-50 37.3,-49.8 59.9,-49.1 79.1,-47.9 95.9,-46.3 110.9,-44.3 124.2,-41.8 135.8,-38.9 146,-35.5 154.5,-31.6 161.6,-27.2 167,-22.3 171,-16.8 173.3,-10.2Z"/>
<path fill="#ffa800" d="M171.3,0 170.5,9.3 168.2,15.3 164.3,20.4 158.9,24.9 152,28.9 143.5,32.5 133.5,35.6 122,38.3 108.9,40.6 94.2,42.5 77.6,43.9 58.8,45 36.6,45.6 2.5,45.8 -31.6,45.6 -53.8,45 -72.7,43.9 -89.3,42.5 -104,40.6 -117.1,38.3 -128.6,35.6 -138.6,32.5 -147,28.9 -154,24.9 -159.4,20.4 -163.2,15.3 -165.6,9.3 -166.3,0 -165.6,-9.7 -163.2,-16.1 -159.4,-21.5 -154,-26.2 -147,-30.4 -138.6,-34.2 -128.6,-37.5 -117.1,-40.3 -104,-42.7 -89.3,-44.7 -72.7,-46.3 -53.8,-47.4 -31.6,-48 2.5,-48.2 36.6,-48 58.8,-47.4 77.6,-46.3 94.2,-44.7 108.9,-42.7 122,-40.3 133.5,-37.5 143.5,-34.2 152,-30.4 158.9,-26.2 164.3,-21.5 168.2,-16.1 170.5,-9.7Z"/>
<path fill="#ff9800" d="M168.4,0 167.7,8.9 165.4,14.7 161.6,19.6 156.2,23.9 149.4,27.8 141,31.2 131.2,34.3 119.8,36.9 107,39.1 92.4,40.9 76.1,42.3 57.6,43.4 35.8,44 2.6,44.2 -30.7,44 -52.5,43.4 -71,42.3 -87.3,40.9 -101.8,39.1 -114.7,36.9 -126,34.3 -135.9,31.2 -144.2,27.8 -151.1,23.9 -156.4,19.6 -160.2,14.7 -162.5,8.9 -163.3,0 -162.5,-9.3 -160.2,-15.4 -156.4,-20.6 -151.1,-25.2 -144.2,-29.3 -135.9,-32.9 -126,-36.1 -114.7,-38.8 -101.8,-41.2 -87.3,-43.1 -71,-44.6 -52.5,-45.6 -30.7,-46.3 2.6,-46.5 35.8,-46.3 57.6,-45.6 76.1,-44.6 92.4,-43.1 107,-41.2 119.8,-38.8 131.2,-36.1 141,-32.9 149.4,-29.3 156.2,-25.2 161.6,-20.6 165.4,-15.4 167.7,-9.3Z"/>
<path fill="#ff8800" d="M165.6,0 164.9,8.5 162.6,14 158.8,18.8 153.6,23 146.8,26.7 138.6,30 128.9,32.9 117.7,35.5 105,37.6 90.7,39.4 74.7,40.7 56.5,41.7 35.1,42.3 2.7,42.5 -29.7,42.3 -51.1,41.7 -69.3,40.7 -85.3,39.4 -99.6,37.6 -112.3,35.5 -123.5,32.9 -133.2,30 -141.4,26.7 -148.2,23 -153.5,18.8 -157.2,14 -159.5,8.5 -160.2,0 -159.5,-8.9 -157.2,-14.8 -153.5,-19.8 -148.2,-24.2 -141.4,-28.1 -133.2,-31.6 -123.5,-34.7 -112.3,-37.3 -99.6,-39.6 -85.3,-41.4 -69.3,-42.9 -51.1,-43.9 -29.7,-44.5 2.7,-44.8 35.1,-44.5 56.5,-43.9 74.7,-42.9 90.7,-41.4 105,-39.6 117.7,-37.3 128.9,-34.7 138.6,-31.6 146.8,-28.1 153.6,-24.2 158.8,-19.8 162.6,-14.8 164.9,-8.9Z"/>
<path fill="#ff7c00" d="M162.8,0 162.1,8.1 159.8,13.4 156.1,18 150.9,22 144.2,25.6 136.1,28.8 126.6,31.6 115.6,34 103.1,36.1 89,37.8 73.2,39.1 55.4,40.1 34.4,40.7 2.8,40.9 -28.8,40.7 -49.8,40.1 -67.6,39.1 -83.4,37.8 -97.5,36.1 -110,34 -121,31.6 -130.5,28.8 -138.6,25.6 -145.3,22 -150.5,18 -154.2,13.4 -156.5,8.1 -157.2,0 -156.5,-8.5 -154.2,-14.1 -150.5,-18.9 -145.3,-23.2 -138.6,-26.9 -130.5,-30.3 -121,-33.3 -110,-35.8 -97.5,-38 -83.4,-39.8 -67.6,-41.2 -49.8,-42.2 -28.8,-42.8 2.8,-43 34.4,-42.8 55.4,-42.2 73.2,-41.2 89,-39.8 103.1,-38 115.6,-35.8 126.6,-33.3 136.1,-30.3 144.2,-26.9 150.9,-23.2 156.1,-18.9 159.8,-14.1 162.1,-8.5Z"/>
<path fill="#ff7300" d="M159.3,0 158.6,7.9 156.4,13.1 152.8,17.6 147.6,21.5 141.1,25 133.1,28.1 123.7,30.9 112.9,33.3 100.6,35.3 86.7,37 71.2,38.3 53.7,39.2 33.1,39.8 2.2,40 -28.7,39.8 -49.3,39.2 -66.8,38.3 -82.3,37 -96.1,35.3 -108.4,33.3 -119.3,30.9 -128.7,28.1 -136.7,25 -143.2,21.5 -148.3,17.6 -152,13.1 -154.2,7.9 -154.9,0 -154.2,-8.3 -152,-13.8 -148.3,-18.5 -143.2,-22.6 -136.7,-26.3 -128.7,-29.6 -119.3,-32.5 -108.4,-35 -96.1,-37.2 -82.3,-38.9 -66.8,-40.3 -49.3,-41.3 -28.7,-41.9 2.2,-42.1 33.1,-41.9 53.7,-41.3 71.2,-40.3 86.7,-38.9 100.6,-37.2 112.9,-35 123.7,-32.5 133.1,-29.6 141.1,-26.3 147.6,-22.6 152.8,-18.5 156.4,-13.8 158.6,-8.3Z"/>
<path fill="#ff6b00" d="M155.9,0 155.2,7.7 153,12.8 149.4,17.1 144.4,21 137.9,24.4 130.1,27.5 120.8,30.2 110.2,32.5 98.1,34.5 84.5,36.2 69.3,37.4 52,38.3 31.9,38.9 1.6,39.1 -28.6,38.9 -48.8,38.3 -66,37.4 -81.2,36.2 -94.8,34.5 -106.9,32.5 -117.6,30.2 -126.8,27.5 -134.7,24.4 -141.1,21 -146.1,17.1 -149.8,12.8 -151.9,7.7 -152.6,0 -151.9,-8.1 -149.8,-13.4 -146.1,-18 -141.1,-22.1 -134.7,-25.7 -126.8,-28.9 -117.6,-31.8 -106.9,-34.2 -94.8,-36.3 -81.2,-38.1 -66,-39.4 -48.8,-40.4 -28.6,-40.9 1.6,-41.1 31.9,-40.9 52,-40.4 69.3,-39.4 84.5,-38.1 98.1,-36.3 110.2,-34.2 120.8,-31.8 130.1,-28.9 137.9,-25.7 144.4,-22.1 149.4,-18 153,-13.4 155.2,-8.1Z"/>
<path fill="#ff6200" d="M152.4,0 151.7,7.5 149.6,12.4 146.1,16.7 141.1,20.5 134.8,23.8 127,26.8 117.9,29.5 107.5,31.8 95.6,33.7 82.2,35.3 67.3,36.6 50.4,37.5 30.6,38 1,38.2 -28.5,38 -48.3,37.5 -65.2,36.6 -80.2,35.3 -93.5,33.7 -105.4,31.8 -115.9,29.5 -125,26.8 -132.7,23.8 -139,20.5 -144,16.7 -147.5,12.4 -149.6,7.5 -150.4,0 -149.6,-7.8 -147.5,-13.1 -144,-17.6 -139,-21.6 -132.7,-25.1 -125,-28.3 -115.9,-31 -105.4,-33.5 -93.5,-35.5 -80.2,-37.2 -65.2,-38.5 -48.3,-39.4 -28.5,-40 1,-40.2 30.6,-40 50.4,-39.4 67.3,-38.5 82.2,-37.2 95.6,-35.5 107.5,-33.5 117.9,-31 127,-28.3 134.8,-25.1 141.1,-21.6 146.1,-17.6 149.6,-13.1 151.7,-7.8Z"/>
<path fill="#ff5a00" d="M149,0 148.3,7.2 146.2,12.1 142.7,16.3 137.8,20 131.6,23.3 124,26.2 115.1,28.8 104.8,31 93.1,32.9 80,34.5 65.3,35.7 48.7,36.6 29.3,37.1 0.5,37.3 -28.4,37.1 -47.8,36.6 -64.4,35.7 -79.1,34.5 -92.2,32.9 -103.9,31 -114.2,28.8 -123.1,26.2 -130.7,23.3 -136.9,20 -141.8,16.3 -145.3,12.1 -147.4,7.2 -148.1,0 -147.4,-7.6 -145.3,-12.8 -141.8,-17.1 -136.9,-21 -130.7,-24.5 -123.1,-27.6 -114.2,-30.3 -103.9,-32.7 -92.2,-34.7 -79.1,-36.3 -64.4,-37.6 -47.8,-38.5 -28.4,-39.1 0.5,-39.3 29.3,-39.1 48.7,-38.5 65.3,-37.6 80,-36.3 93.1,-34.7 104.8,-32.7 115.1,-30.3 124,-27.6 131.6,-24.5 137.8,-21 142.7,-17.1 146.2,-12.8 148.3,-7.6Z"/>
<path fill="#ff5100" d="M145.5,0 144.8,7 142.8,11.8 139.4,15.9 134.6,19.5 128.4,22.7 121,25.6 112.2,28.1 102.1,30.3 90.6,32.1 77.7,33.7 63.3,34.9 47.1,35.7 28.1,36.2 -0.1,36.4 -28.3,36.2 -47.3,35.7 -63.6,34.9 -78,33.7 -90.9,32.1 -102.3,30.3 -112.5,28.1 -121.2,25.6 -128.7,22.7 -134.8,19.5 -139.6,15.9 -143.1,11.8 -145.1,7 -145.8,0 -145.1,-7.4 -143.1,-12.4 -139.6,-16.7 -134.8,-20.5 -128.7,-23.9 -121.2,-26.9 -112.5,-29.6 -102.3,-31.9 -90.9,-33.8 -78,-35.4 -63.6,-36.7 -47.3,-37.6 -28.3,-38.2 -0.1,-38.3 28.1,-38.2 47.1,-37.6 63.3,-36.7 77.7,-35.4 90.6,-33.8 102.1,-31.9 112.2,-29.6 121,-26.9 128.4,-23.9 134.6,-20.5 139.4,-16.7 142.8,-12.4 144.8,-7.4Z"/>
<path fill="#ff4900" d="M142.1,0 141.4,6.8 139.4,11.5 136,15.4 131.3,19 125.3,22.1 118,24.9 109.3,27.4 99.4,29.5 88.1,31.4 75.5,32.9 61.4,34 45.4,34.9 26.8,35.4 -0.7,35.5 -28.2,35.4 -46.9,34.9 -62.8,34 -76.9,32.9 -89.6,31.4 -100.8,29.5 -110.8,27.4 -119.4,24.9 -126.7,22.1 -132.8,19 -137.5,15.4 -140.8,11.5 -142.8,6.8 -143.5,0 -142.8,-7.2 -140.8,-12.1 -137.5,-16.3 -132.8,-20 -126.7,-23.3 -119.4,-26.2 -110.8,-28.8 -100.8,-31.1 -89.6,-33 -76.9,-34.6 -62.8,-35.8 -46.9,-36.7 -28.2,-37.2 -0.7,-37.4 26.8,-37.2 45.4,-36.7 61.4,-35.8 75.5,-34.6 88.1,-33 99.4,-31.1 109.3,-28.8 118,-26.2 125.3,-23.3 131.3,-20 136,-16.3 139.4,-12.1 141.4,-7.2Z"/>
<path fill="#ff4000" d="M138.6,0 138,6.7 136,11.2 132.7,15 128,18.5 122.1,21.5 114.9,24.3 106.5,26.7 96.7,28.8 85.7,30.6 73.3,32 59.4,33.2 43.8,34 25.6,34.5 -1.3,34.6 -28.2,34.5 -46.4,34 -62,33.2 -75.9,32 -88.3,30.6 -99.3,28.8 -109.1,26.7 -117.5,24.3 -124.7,21.5 -130.7,18.5 -135.3,15 -138.6,11.2 -140.6,6.7 -141.2,0 -140.6,-7 -138.6,-11.7 -135.3,-15.8 -130.7,-19.4 -124.7,-22.7 -117.5,-25.5 -109.1,-28.1 -99.3,-30.3 -88.3,-32.2 -75.9,-33.7 -62,-34.9 -46.4,-35.8 -28.2,-36.3 -1.3,-36.5 25.6,-36.3 43.8,-35.8 59.4,-34.9 73.3,-33.7 85.7,-32.2 96.7,-30.3 106.5,-28.1 114.9,-25.5 122.1,-22.7 128,-19.4 132.7,-15.8 136,-11.7 138,-7Z"/>
<path fill="#ff3700" d="M135.2,0 134.5,6.5 132.6,10.8 129.3,14.6 124.8,18 119,21 111.9,23.6 103.6,26 94,28 83.2,29.8 71,31.2 57.4,32.3 42.1,33.1 24.3,33.6 -1.9,33.8 -28.1,33.6 -45.9,33.1 -61.2,32.3 -74.8,31.2 -87,29.8 -97.8,28 -107.4,26 -115.7,23.6 -122.8,21 -128.6,18 -133.1,14.6 -136.4,10.8 -138.3,6.5 -139,0 -138.3,-6.8 -136.4,-11.4 -133.1,-15.4 -128.6,-18.9 -122.8,-22.1 -115.7,-24.9 -107.4,-27.3 -97.8,-29.5 -87,-31.3 -74.8,-32.8 -61.2,-34 -45.9,-34.9 -28.1,-35.4 -1.9,-35.5 24.3,-35.4 42.1,-34.9 57.4,-34 71,-32.8 83.2,-31.3 94,-29.5 103.6,-27.3 111.9,-24.9 119,-22.1 124.8,-18.9 129.3,-15.4 132.6,-11.4 134.5,-6.8Z"/>
<path fill="#ff2f00" d="M131.7,0 131.1,6.3 129.2,10.5 126,14.2 121.5,17.5 115.8,20.4 108.9,23 100.7,25.3 91.3,27.3 80.7,29 68.8,30.4 55.5,31.5 40.5,32.2 23.1,32.7 -2.5,32.9 -28,32.7 -45.5,32.2 -60.5,31.5 -73.8,30.4 -85.7,29 -96.3,27.3 -105.7,25.3 -113.9,23 -120.8,20.4 -126.5,17.5 -130.9,14.2 -134.1,10.5 -136,6.3 -136.7,0 -136,-6.6 -134.1,-11.1 -130.9,-14.9 -126.5,-18.4 -120.8,-21.5 -113.9,-24.2 -105.7,-26.6 -96.3,-28.7 -85.7,-30.5 -73.8,-32 -60.5,-33.1 -45.5,-33.9 -28,-34.4 -2.5,-34.6 23.1,-34.4 40.5,-33.9 55.5,-33.1 68.8,-32 80.7,-30.5 91.3,-28.7 100.7,-26.6 108.9,-24.2 115.8,-21.5 121.5,-18.4 126,-14.9 129.2,-11.1 131.1,-6.6Z"/>
<path fill="#ff2600" d="M128.3,0 127.6,6.1 125.8,10.2 122.6,13.8 118.3,17 112.7,19.8 105.9,22.3 97.9,24.6 88.7,26.5 78.3,28.2 66.6,29.5 53.6,30.6 38.9,31.4 21.8,31.8 -3.1,32 -28,31.8 -45,31.4 -59.7,30.6 -72.7,29.5 -84.4,28.2 -94.8,26.5 -104,24.6 -112,22.3 -118.8,19.8 -124.4,17 -128.8,13.8 -131.9,10.2 -133.8,6.1 -134.4,0 -133.8,-6.4 -131.9,-10.8 -128.8,-14.5 -124.4,-17.9 -118.8,-20.8 -112,-23.5 -104,-25.9 -94.8,-27.9 -84.4,-29.7 -72.7,-31.1 -59.7,-32.2 -45,-33 -28,-33.5 -3.1,-33.7 21.8,-33.5 38.9,-33 53.6,-32.2 66.6,-31.1 78.3,-29.7 88.7,-27.9 97.9,-25.9 105.9,-23.5 112.7,-20.8 118.3,-17.9 122.6,-14.5 125.8,-10.8 127.6,-6.4Z"/>
<path fill="#ff1e00" d="M124.8,0 124.2,5.9 122.4,9.9 119.3,13.4 115,16.5 109.5,19.2 102.9,21.7 95,23.9 86,25.8 75.8,27.4 64.4,28.7 51.6,29.8 37.3,30.5 20.6,30.9 -3.7,31.1 -27.9,30.9 -44.6,30.5 -58.9,29.8 -71.7,28.7 -83.1,27.4 -93.3,25.8 -102.3,23.9 -110.2,21.7 -116.8,19.2 -122.3,16.5 -126.6,13.4 -129.7,9.9 -131.5,5.9 -132.1,0 -131.5,-6.2 -129.7,-10.4 -126.6,-14.1 -122.3,-17.3 -116.8,-20.2 -110.2,-22.8 -102.3,-25.1 -93.3,-27.1 -83.1,-28.8 -71.7,-30.2 -58.9,-31.3 -44.6,-32.1 -27.9,-32.6 -3.7,-32.7 20.6,-32.6 37.3,-32.1 51.6,-31.3 64.4,-30.2 75.8,-28.8 86,-27.1 95,-25.1 102.9,-22.8 109.5,-20.2 115,-17.3 119.3,-14.1 122.4,-10.4 124.2,-6.2Z"/>
<path fill="#ff1500" d="M121.4,0 120.8,5.7 118.9,9.6 115.9,13 111.7,16 106.4,18.7 99.8,21.1 92.2,23.2 83.3,25 73.3,26.6 62.2,27.9 49.7,28.9 35.6,29.6 19.4,30.1 -4.2,30.2 -27.9,30.1 -44.1,29.6 -58.2,28.9 -70.6,27.9 -81.8,26.6 -91.8,25 -100.6,23.2 -108.3,21.1 -114.9,18.7 -120.2,16 -124.4,13 -127.4,9.6 -129.2,5.7 -129.8,0 -129.2,-6 -127.4,-10.1 -124.4,-13.7 -120.2,-16.8 -114.9,-19.6 -108.3,-22.2 -100.6,-24.4 -91.8,-26.4 -81.8,-28 -70.6,-29.4 -58.2,-30.4 -44.1,-31.2 -27.9,-31.6 -4.2,-31.8 19.4,-31.6 35.6,-31.2 49.7,-30.4 62.2,-29.4 73.3,-28 83.3,-26.4 92.2,-24.4 99.8,-22.2 106.4,-19.6 111.7,-16.8 115.9,-13.7 118.9,-10.1 120.8,-6Z"/>
<path fill="#ff0d00" d="M117.9,0 117.3,5.5 115.5,9.3 112.6,12.6 108.5,15.5 103.2,18.1 96.8,20.4 89.3,22.5 80.7,24.3 70.9,25.8 60,27.1 47.7,28.1 34,28.8 18.1,29.2 -4.8,29.3 -27.8,29.2 -43.7,28.8 -57.4,28.1 -69.6,27.1 -80.5,25.8 -90.3,24.3 -99,22.5 -106.5,20.4 -112.9,18.1 -118.1,15.5 -122.3,12.6 -125.2,9.3 -127,5.5 -127.6,0 -127,-5.8 -125.2,-9.8 -122.3,-13.2 -118.1,-16.3 -112.9,-19 -106.5,-21.5 -99,-23.7 -90.3,-25.6 -80.5,-27.2 -69.6,-28.5 -57.4,-29.5 -43.7,-30.3 -27.8,-30.7 -4.8,-30.9 18.1,-30.7 34,-30.3 47.7,-29.5 60,-28.5 70.9,-27.2 80.7,-25.6 89.3,-23.7 96.8,-21.5 103.2,-19 108.5,-16.3 112.6,-13.2 115.5,-9.8 117.3,-5.8Z"/>
<path fill="#ff0400" d="M114.5,0 113.9,5.3 112.1,9 109.3,12.2 105.2,15 100.1,17.5 93.8,19.8 86.5,21.8 78,23.5 68.4,25 57.8,26.2 45.8,27.2 32.4,27.9 16.9,28.3 -5.4,28.4 -27.8,28.3 -43.3,27.9 -56.6,27.2 -68.6,26.2 -79.3,25 -88.8,23.5 -97.3,21.8 -104.7,19.8 -110.9,17.5 -116.1,15 -120.1,12.2 -123,9 -124.7,5.3 -125.3,0 -124.7,-5.6 -123,-9.4 -120.1,-12.8 -116.1,-15.8 -110.9,-18.4 -104.7,-20.8 -97.3,-22.9 -88.8,-24.8 -79.3,-26.3 -68.6,-27.6 -56.6,-28.6 -43.3,-29.4 -27.8,-29.8 -5.4,-29.9 16.9,-29.8 32.4,-29.4 45.8,-28.6 57.8,-27.6 68.4,-26.3 78,-24.8 86.5,-22.9 93.8,-20.8 100.1,-18.4 105.2,-15.8 109.3,-12.8 112.1,-9.4 113.9,-5.6Z"/>
<path fill="#ff0003" d="M111,0 110.4,5.1 108.7,8.7 105.9,11.7 102,14.5 96.9,17 90.8,19.2 83.6,21.1 75.4,22.8 66,24.2 55.6,25.4 43.9,26.4 30.8,27 15.7,27.4 -6,27.5 -27.7,27.4 -42.8,27 -55.9,26.4 -67.6,25.4 -78,24.2 -87.4,22.8 -95.6,21.1 -102.8,19.2 -108.9,17 -114,14.5 -117.9,11.7 -120.7,8.7 -122.4,5.1 -123,0 -122.4,-5.4 -120.7,-9.1 -117.9,-12.4 -114,-15.3 -108.9,-17.8 -102.8,-20.2 -95.6,-22.2 -87.4,-24 -78,-25.5 -67.6,-26.8 -55.9,-27.7 -42.8,-28.4 -27.7,-28.9 -6,-29 15.7,-28.9 30.8,-28.4 43.9,-27.7 55.6,-26.8 66,-25.5 75.4,-24 83.6,-22.2 90.8,-20.2 96.9,-17.8 102,-15.3 105.9,-12.4 108.7,-9.1 110.4,-5.4Z"/>
<path fill="#ff0008" d="M107.9,0 107.4,5 105.7,8.4 103,11.4 99.1,14.1 94.2,16.5 88.2,18.6 81.2,20.5 73.1,22.2 64,23.6 53.8,24.8 42.5,25.7 29.7,26.3 15,26.7 -6.1,26.8 -27.1,26.7 -41.8,26.3 -54.6,25.7 -65.9,24.8 -76.1,23.6 -85.3,22.2 -93.3,20.5 -100.4,18.6 -106.3,16.5 -111.3,14.1 -115.1,11.4 -117.8,8.4 -119.5,5 -120.1,0 -119.5,-5.2 -117.8,-8.9 -115.1,-12 -111.3,-14.8 -106.3,-17.4 -100.4,-19.6 -93.3,-21.6 -85.3,-23.4 -76.1,-24.8 -65.9,-26.1 -54.6,-27 -41.8,-27.7 -27.1,-28.1 -6.1,-28.2 15,-28.1 29.7,-27.7 42.5,-27 53.8,-26.1 64,-24.8 73.1,-23.4 81.2,-21.6 88.2,-19.6 94.2,-17.4 99.1,-14.8 103,-12 105.7,-8.9 107.4,-5.2Z"/>
<path fill="#ff000e" d="M104.9,0 104.3,4.8 102.7,8.2 100,11.1 96.3,13.7 91.5,16 85.7,18.1 78.8,20 70.9,21.6 62,22.9 52.1,24.1 41,25 28.6,25.6 14.3,26 -6.1,26.1 -26.6,26 -40.9,25.6 -53.3,25 -64.3,24.1 -74.3,22.9 -83.2,21.6 -91,20 -97.9,18.1 -103.7,16 -108.5,13.7 -112.3,11.1 -115,8.2 -116.6,4.8 -117.1,0 -116.6,-5.1 -115,-8.6 -112.3,-11.7 -108.5,-14.4 -103.7,-16.9 -97.9,-19.1 -91,-21 -83.2,-22.7 -74.3,-24.2 -64.3,-25.3 -53.3,-26.3 -40.9,-26.9 -26.6,-27.3 -6.1,-27.5 14.3,-27.3 28.6,-26.9 41,-26.3 52.1,-25.3 62,-24.2 70.9,-22.7 78.8,-21 85.7,-19.1 91.5,-16.9 96.3,-14.4 100,-11.7 102.7,-8.6 104.3,-5.1Z"/>
<path fill="#ff0014" d="M101.8,0 101.3,4.7 99.7,7.9 97.1,10.8 93.4,13.3 88.8,15.6 83.1,17.6 76.4,19.4 68.7,21 60.1,22.3 50.4,23.4 39.6,24.3 27.5,24.9 13.6,25.2 -6.2,25.4 -26,25.2 -39.9,24.9 -52,24.3 -62.7,23.4 -72.4,22.3 -81.1,21 -88.8,19.4 -95.4,17.6 -101.1,15.6 -105.8,13.3 -109.5,10.8 -112.1,7.9 -113.7,4.7 -114.2,0 -113.7,-4.9 -112.1,-8.3 -109.5,-11.3 -105.8,-14 -101.1,-16.4 -95.4,-18.5 -88.8,-20.4 -81.1,-22.1 -72.4,-23.5 -62.7,-24.6 -52,-25.5 -39.9,-26.2 -26,-26.6 -6.2,-26.7 13.6,-26.6 27.5,-26.2 39.6,-25.5 50.4,-24.6 60.1,-23.5 68.7,-22.1 76.4,-20.4 83.1,-18.5 88.8,-16.4 93.4,-14 97.1,-11.3 99.7,-8.3 101.3,-4.9Z"/>
<path fill="#ff0019" d="M98.8,0 98.3,4.5 96.7,7.7 94.2,10.4 90.6,12.9 86,15.1 80.5,17.1 74,18.8 66.5,20.4 58.1,21.7 48.7,22.7 38.2,23.6 26.5,24.2 13,24.5 -6.2,24.6 -25.4,24.5 -38.9,24.2 -50.7,23.6 -61.2,22.7 -70.6,21.7 -79,20.4 -86.5,18.8 -93,17.1 -98.5,15.1 -103.1,12.9 -106.6,10.4 -109.2,7.7 -110.7,4.5 -111.2,0 -110.7,-4.7 -109.2,-8.1 -106.6,-11 -103.1,-13.6 -98.5,-15.9 -93,-18 -86.5,-19.8 -79,-21.4 -70.6,-22.8 -61.2,-23.9 -50.7,-24.8 -38.9,-25.4 -25.4,-25.8 -6.2,-25.9 13,-25.8 26.5,-25.4 38.2,-24.8 48.7,-23.9 58.1,-22.8 66.5,-21.4 74,-19.8 80.5,-18 86,-15.9 90.6,-13.6 94.2,-11 96.7,-8.1 98.3,-4.7Z"/>
<path fill="#ff001f" d="M95.7,0 95.2,4.4 93.7,7.4 91.2,10.1 87.8,12.5 83.3,14.6 77.9,16.6 71.6,18.3 64.3,19.7 56.1,21 47,22.1 36.8,22.9 25.4,23.4 12.3,23.8 -6.3,23.9 -24.9,23.8 -38,23.4 -49.4,22.9 -59.6,22.1 -68.7,21 -76.9,19.7 -84.2,18.3 -90.5,16.6 -95.9,14.6 -100.3,12.5 -103.8,10.1 -106.3,7.4 -107.8,4.4 -108.3,0 -107.8,-4.6 -106.3,-7.8 -103.8,-10.6 -100.3,-13.1 -95.9,-15.4 -90.5,-17.4 -84.2,-19.2 -76.9,-20.8 -68.7,-22.1 -59.6,-23.2 -49.4,-24.1 -38,-24.7 -24.9,-25.1 -6.3,-25.2 12.3,-25.1 25.4,-24.7 36.8,-24.1 47,-23.2 56.1,-22.1 64.3,-20.8 71.6,-19.2 77.9,-17.4 83.3,-15.4 87.8,-13.1 91.2,-10.6 93.7,-7.8 95.2,-4.6Z"/>
<path fill="#ff0024" d="M92.6,0 92.2,4.2 90.7,7.2 88.3,9.8 84.9,12.1 80.6,14.2 75.4,16 69.2,17.7 62.1,19.1 54.2,20.4 45.3,21.4 35.4,22.2 24.3,22.7 11.6,23.1 -6.4,23.2 -24.3,23.1 -37,22.7 -48.1,22.2 -58,21.4 -66.9,20.4 -74.8,19.1 -81.9,17.7 -88.1,16 -93.3,14.2 -97.6,12.1 -101,9.8 -103.4,7.2 -104.9,4.2 -105.4,0 -104.9,-4.4 -103.4,-7.6 -101,-10.3 -97.6,-12.7 -93.3,-14.9 -88.1,-16.9 -81.9,-18.6 -74.8,-20.1 -66.9,-21.4 -58,-22.5 -48.1,-23.3 -37,-23.9 -24.3,-24.3 -6.4,-24.4 11.6,-24.3 24.3,-23.9 35.4,-23.3 45.3,-22.5 54.2,-21.4 62.1,-20.1 69.2,-18.6 75.4,-16.9 80.6,-14.9 84.9,-12.7 88.3,-10.3 90.7,-7.6 92.2,-4.4Z"/>
<path fill="#ff002a" d="M89.6,0 89.1,4.1 87.7,6.9 85.4,9.5 82.1,11.7 77.9,13.7 72.8,15.5 66.8,17.1 59.9,18.5 52.2,19.7 43.6,20.7 34,21.5 23.2,22 10.9,22.4 -6.4,22.5 -23.8,22.4 -36.1,22 -46.8,21.5 -56.4,20.7 -65,19.7 -72.8,18.5 -79.6,17.1 -85.6,15.5 -90.7,13.7 -94.9,11.7 -98.2,9.5 -100.5,6.9 -101.9,4.1 -102.4,0 -101.9,-4.3 -100.5,-7.3 -98.2,-9.9 -94.9,-12.3 -90.7,-14.4 -85.6,-16.3 -79.6,-18 -72.8,-19.5 -65,-20.8 -56.4,-21.8 -46.8,-22.6 -36.1,-23.2 -23.8,-23.5 -6.4,-23.6 10.9,-23.5 23.2,-23.2 34,-22.6 43.6,-21.8 52.2,-20.8 59.9,-19.5 66.8,-18 72.8,-16.3 77.9,-14.4 82.1,-12.3 85.4,-9.9 87.7,-7.3 89.1,-4.3Z"/>
<path fill="#ff0030" d="M86.5,0 86.1,3.9 84.7,6.7 82.4,9.1 79.2,11.3 75.2,13.3 70.2,15 64.4,16.6 57.8,17.9 50.3,19.1 41.9,20 32.6,20.8 22.2,21.3 10.3,21.6 -6.5,21.7 -23.2,21.6 -35.1,21.3 -45.5,20.8 -54.8,20 -63.2,19.1 -70.7,17.9 -77.4,16.6 -83.2,15 -88.1,13.3 -92.2,11.3 -95.4,9.1 -97.6,6.7 -99,3.9 -99.5,0 -99,-4.1 -97.6,-7.1 -95.4,-9.6 -92.2,-11.9 -88.1,-14 -83.2,-15.8 -77.4,-17.4 -70.7,-18.9 -63.2,-20.1 -54.8,-21.1 -45.5,-21.9 -35.1,-22.4 -23.2,-22.8 -6.5,-22.9 10.3,-22.8 22.2,-22.4 32.6,-21.9 41.9,-21.1 50.3,-20.1 57.8,-18.9 64.4,-17.4 70.2,-15.8 75.2,-14 79.2,-11.9 82.4,-9.6 84.7,-7.1 86.1,-4.1Z"/>
<path fill="#ff0035" d="M83.5,0 83,3.8 81.7,6.5 79.5,8.8 76.4,10.9 72.4,12.8 67.7,14.5 62,16 55.6,17.3 48.3,18.4 40.2,19.4 31.2,20.1 21.1,20.6 9.6,20.9 -6.5,21 -22.7,20.9 -34.2,20.6 -44.2,20.1 -53.2,19.4 -61.4,18.4 -68.6,17.3 -75.1,16 -80.7,14.5 -85.5,12.8 -89.5,10.9 -92.5,8.8 -94.8,6.5 -96.1,3.8 -96.5,0 -96.1,-4 -94.8,-6.8 -92.5,-9.3 -89.5,-11.5 -85.5,-13.5 -80.7,-15.3 -75.1,-16.8 -68.6,-18.2 -61.4,-19.4 -53.2,-20.4 -44.2,-21.1 -34.2,-21.7 -22.7,-22 -6.5,-22.1 9.6,-22 21.1,-21.7 31.2,-21.1 40.2,-20.4 48.3,-19.4 55.6,-18.2 62,-16.8 67.7,-15.3 72.4,-13.5 76.4,-11.5 79.5,-9.3 81.7,-6.8 83,-4Z"/>
<path fill="#ff003b" d="M80.4,0 80,3.6 78.7,6.2 76.5,8.5 73.6,10.5 69.7,12.3 65.1,14 59.6,15.4 53.4,16.7 46.4,17.8 38.5,18.7 29.8,19.4 20.1,19.9 8.9,20.2 -6.6,20.3 -22.1,20.2 -33.2,19.9 -43,19.4 -51.7,18.7 -59.5,17.8 -66.6,16.7 -72.8,15.4 -78.3,14 -82.9,12.3 -86.7,10.5 -89.7,8.5 -91.9,6.2 -93.2,3.6 -93.6,0 -93.2,-3.8 -91.9,-6.5 -89.7,-8.9 -86.7,-11.1 -82.9,-13 -78.3,-14.7 -72.8,-16.3 -66.6,-17.6 -59.5,-18.7 -51.7,-19.7 -43,-20.4 -33.2,-20.9 -22.1,-21.2 -6.6,-21.4 8.9,-21.2 20.1,-20.9 29.8,-20.4 38.5,-19.7 46.4,-18.7 53.4,-17.6 59.6,-16.3 65.1,-14.7 69.7,-13 73.6,-11.1 76.5,-8.9 78.7,-6.5 80,-3.8Z"/>
<path fill="#ff0040" d="M77.4,0 76.9,3.5 75.7,6 73.6,8.2 70.7,10.1 67,11.9 62.5,13.5 57.3,14.9 51.2,16.1 44.4,17.2 36.8,18 28.4,18.7 19,19.2 8.3,19.5 -6.6,19.6 -21.6,19.5 -32.3,19.2 -41.7,18.7 -50.1,18 -57.7,17.2 -64.5,16.1 -70.6,14.9 -75.8,13.5 -80.3,11.9 -84,10.1 -86.9,8.2 -89,6 -90.2,3.5 -90.6,0 -90.2,-3.7 -89,-6.3 -86.9,-8.6 -84,-10.7 -80.3,-12.5 -75.8,-14.2 -70.6,-15.7 -64.5,-17 -57.7,-18.1 -50.1,-19 -41.7,-19.7 -32.3,-20.2 -21.6,-20.5 -6.6,-20.6 8.3,-20.5 19,-20.2 28.4,-19.7 36.8,-19 44.4,-18.1 51.2,-17 57.3,-15.7 62.5,-14.2 67,-12.5 70.7,-10.7 73.6,-8.6 75.7,-6.3 76.9,-3.7Z"/>
<path fill="#ff0046" d="M74.3,0 73.9,3.3 72.7,5.7 70.7,7.8 67.9,9.7 64.3,11.4 60,13 54.9,14.3 49,15.5 42.5,16.5 35.2,17.3 27,18 18,18.5 7.6,18.7 -6.7,18.8 -21,18.7 -31.4,18.5 -40.4,18 -48.6,17.3 -55.9,16.5 -62.5,15.5 -68.3,14.3 -73.4,13 -77.7,11.4 -81.3,9.7 -84.1,7.8 -86.1,5.7 -87.3,3.3 -87.7,0 -87.3,-3.5 -86.1,-6 -84.1,-8.3 -81.3,-10.2 -77.7,-12 -73.4,-13.6 -68.3,-15.1 -62.5,-16.3 -55.9,-17.4 -48.6,-18.3 -40.4,-18.9 -31.4,-19.4 -21,-19.7 -6.7,-19.8 7.6,-19.7 18,-19.4 27,-18.9 35.2,-18.3 42.5,-17.4 49,-16.3 54.9,-15.1 60,-13.6 64.3,-12 67.9,-10.2 70.7,-8.3 72.7,-6 73.9,-3.5Z"/>
<path fill="#ff004b" d="M71.2,0 70.8,3.2 69.7,5.5 67.7,7.5 65,9.3 61.6,11 57.4,12.5 52.5,13.8 46.9,14.9 40.5,15.9 33.5,16.7 25.7,17.3 16.9,17.7 7,18 -6.8,18.1 -20.5,18 -30.5,17.7 -39.2,17.3 -47,16.7 -54.1,15.9 -60.4,14.9 -66,13.8 -70.9,12.5 -75.1,11 -78.6,9.3 -81.3,7.5 -83.2,5.5 -84.4,3.2 -84.8,0 -84.4,-3.4 -83.2,-5.8 -81.3,-7.9 -78.6,-9.8 -75.1,-11.6 -70.9,-13.1 -66,-14.5 -60.4,-15.7 -54.1,-16.7 -47,-17.5 -39.2,-18.2 -30.5,-18.7 -20.5,-19 -6.8,-19.1 7,-19 16.9,-18.7 25.7,-18.2 33.5,-17.5 40.5,-16.7 46.9,-15.7 52.5,-14.5 57.4,-13.1 61.6,-11.6 65,-9.8 67.7,-7.9 69.7,-5.8 70.8,-3.4Z"/>
<path fill="#ff0051" d="M68.2,0 67.8,3.1 66.7,5.3 64.8,7.2 62.2,9 58.9,10.5 54.9,11.9 50.1,13.2 44.7,14.3 38.6,15.2 31.8,16 24.3,16.6 15.9,17 6.3,17.3 -6.8,17.4 -20,17.3 -29.6,17 -37.9,16.6 -45.5,16 -52.3,15.2 -58.4,14.3 -63.8,13.2 -68.5,11.9 -72.5,10.5 -75.9,9 -78.5,7.2 -80.3,5.3 -81.4,3.1 -81.8,0 -81.4,-3.2 -80.3,-5.5 -78.5,-7.6 -75.9,-9.4 -72.5,-11.1 -68.5,-12.6 -63.8,-13.9 -58.4,-15 -52.3,-16 -45.5,-16.8 -37.9,-17.5 -29.6,-17.9 -20,-18.2 -6.8,-18.3 6.3,-18.2 15.9,-17.9 24.3,-17.5 31.8,-16.8 38.6,-16 44.7,-15 50.1,-13.9 54.9,-12.6 58.9,-11.1 62.2,-9.4 64.8,-7.6 66.7,-5.5 67.8,-3.2Z"/>
<path fill="#ff0057" d="M65.1,0 64.8,2.9 63.7,5 61.9,6.9 59.4,8.6 56.2,10.1 52.3,11.4 47.8,12.6 42.5,13.7 36.7,14.6 30.2,15.3 22.9,15.9 14.9,16.3 5.7,16.6 -6.9,16.7 -19.5,16.6 -28.6,16.3 -36.7,15.9 -43.9,15.3 -50.4,14.6 -56.3,13.7 -61.5,12.6 -66.1,11.4 -69.9,10.1 -73.1,8.6 -75.6,6.9 -77.4,5 -78.5,2.9 -78.9,0 -78.5,-3.1 -77.4,-5.3 -75.6,-7.3 -73.1,-9 -69.9,-10.6 -66.1,-12 -61.5,-13.3 -56.3,-14.4 -50.4,-15.4 -43.9,-16.1 -36.7,-16.7 -28.6,-17.2 -19.5,-17.4 -6.9,-17.5 5.7,-17.4 14.9,-17.2 22.9,-16.7 30.2,-16.1 36.7,-15.4 42.5,-14.4 47.8,-13.3 52.3,-12 56.2,-10.6 59.4,-9 61.9,-7.3 63.7,-5.3 64.8,-3.1Z"/>
<path fill="#ff005c" d="M62.1,0 61.7,2.8 60.7,4.8 59,6.6 56.5,8.2 53.5,9.6 49.8,10.9 45.4,12.1 40.4,13.1 34.8,13.9 28.5,14.7 21.6,15.2 13.9,15.6 5.1,15.8 -6.9,15.9 -19,15.8 -27.7,15.6 -35.4,15.2 -42.4,14.7 -48.6,13.9 -54.3,13.1 -59.3,12.1 -63.6,10.9 -67.4,9.6 -70.4,8.2 -72.8,6.6 -74.6,4.8 -75.6,2.8 -75.9,0 -75.6,-2.9 -74.6,-5.1 -72.8,-6.9 -70.4,-8.6 -67.4,-10.1 -63.6,-11.5 -59.3,-12.7 -54.3,-13.8 -48.6,-14.7 -42.4,-15.4 -35.4,-16 -27.7,-16.4 -19,-16.7 -6.9,-16.8 5.1,-16.7 13.9,-16.4 21.6,-16 28.5,-15.4 34.8,-14.7 40.4,-13.8 45.4,-12.7 49.8,-11.5 53.5,-10.1 56.5,-8.6 59,-6.9 60.7,-5.1 61.7,-2.9Z"/>
<path fill="#ff0060" d="M59,0 58.7,2.6 57.7,4.6 56,6.3 53.7,7.8 50.8,9.2 47.2,10.4 43,11.5 38.2,12.5 32.8,13.3 26.8,14 20.2,14.5 12.8,14.9 4.5,15.1 -7,15.2 -18.5,15.1 -26.8,14.9 -34.2,14.5 -40.8,14 -46.8,13.3 -52.2,12.5 -57,11.5 -61.2,10.4 -64.8,9.2 -67.7,7.8 -70,6.3 -71.7,4.6 -72.7,2.6 -73,0 -72.7,-2.8 -71.7,-4.8 -70,-6.6 -67.7,-8.2 -64.8,-9.7 -61.2,-11 -57,-12.1 -52.2,-13.1 -46.8,-14 -40.8,-14.7 -34.2,-15.3 -26.8,-15.7 -18.5,-15.9 -7,-16 4.5,-15.9 12.8,-15.7 20.2,-15.3 26.8,-14.7 32.8,-14 38.2,-13.1 43,-12.1 47.2,-11 50.8,-9.7 53.7,-8.2 56,-6.6 57.7,-4.8 58.7,-2.8Z"/>
<path fill="#ff0062" d="M56,0 55.7,2.5 54.7,4.3 53.1,6 50.9,7.4 48.1,8.7 44.7,9.9 40.7,11 36.1,11.9 31,12.7 25.2,13.3 18.9,13.9 11.9,14.2 3.9,14.4 -7,14.5 -17.9,14.4 -25.9,14.2 -32.9,13.9 -39.2,13.3 -45,12.7 -50.1,11.9 -54.7,11 -58.7,9.9 -62.1,8.7 -64.9,7.4 -67.1,6 -68.7,4.3 -69.7,2.5 -70,0 -69.7,-2.6 -68.7,-4.6 -67.1,-6.3 -64.9,-7.8 -62.1,-9.2 -58.7,-10.5 -54.7,-11.6 -50.1,-12.5 -45,-13.4 -39.2,-14 -32.9,-14.6 -25.9,-15 -17.9,-15.2 -7,-15.3 3.9,-15.2 11.9,-15 18.9,-14.6 25.2,-14 31,-13.4 36.1,-12.5 40.7,-11.6 44.7,-10.5 48.1,-9.2 50.9,-7.8 53.1,-6.3 54.7,-4.6 55.7,-2.6Z"/>
<path fill="#ff0064" d="M53,0 52.7,2.4 51.8,4.1 50.3,5.7 48.2,7.1 45.5,8.3 42.2,9.4 38.4,10.5 34,11.3 29.1,12.1 23.6,12.7 17.6,13.2 10.9,13.5 3.3,13.7 -7,13.8 -17.3,13.7 -24.9,13.5 -31.6,13.2 -37.6,12.7 -43.1,12.1 -48,11.3 -52.4,10.5 -56.2,9.4 -59.5,8.3 -62.2,7.1 -64.3,5.7 -65.8,4.1 -66.7,2.4 -67,0 -66.7,-2.5 -65.8,-4.3 -64.3,-6 -62.2,-7.4 -59.5,-8.7 -56.2,-9.9 -52.4,-11 -48,-11.9 -43.1,-12.7 -37.6,-13.4 -31.6,-13.9 -24.9,-14.3 -17.3,-14.5 3.3,-14.5 10.9,-14.3 17.6,-13.9 23.6,-13.4 29.1,-12.7 34,-11.9 38.4,-11 42.2,-9.9 45.5,-8.7 48.2,-7.4 50.3,-6 51.8,-4.3 52.7,-2.5Z"/>
<path fill="#ff0065" d="M50,0 49.7,2.2 48.8,3.9 47.4,5.4 45.4,6.7 42.8,7.9 39.7,9 36.1,9.9 31.9,10.8 27.2,11.5 22,12.1 16.3,12.5 9.9,12.9 2.7,13.1 -16.7,13.1 -23.9,12.9 -30.3,12.5 -36,12.1 -41.2,11.5 -45.9,10.8 -50.1,9.9 -53.7,9 -56.8,7.9 -59.4,6.7 -61.4,5.4 -62.8,3.9 -63.7,2.2 -64,0 -63.7,-2.4 -62.8,-4.1 -61.4,-5.6 -59.4,-7 -56.8,-8.3 -53.7,-9.4 -50.1,-10.4 -45.9,-11.3 -41.2,-12.1 -36,-12.7 -30.3,-13.2 -23.9,-13.5 -16.7,-13.7 -7,-13.8 2.7,-13.7 9.9,-13.5 16.3,-13.2 22,-12.7 27.2,-12.1 31.9,-11.3 36.1,-10.4 39.7,-9.4 42.8,-8.3 45.4,-7 47.4,-5.6 48.8,-4.1 49.7,-2.4Z"/>
<path fill="#ff0067" d="M47,0 46.7,2.1 45.9,3.7 44.5,5.1 42.6,6.3 40.2,7.5 37.2,8.5 33.8,9.4 29.8,10.2 25.4,10.9 20.4,11.4 15,11.9 8.9,12.2 2.1,12.4 -16.1,12.4 -22.9,12.2 -29,11.9 -34.4,11.4 -39.4,10.9 -43.8,10.2 -47.8,9.4 -51.2,8.5 -54.2,7.5 -56.6,6.3 -58.5,5.1 -59.9,3.7 -60.7,2.1 -61,0 -60.7,-2.2 -59.9,-3.9 -58.5,-5.3 -56.6,-6.6 -54.2,-7.8 -51.2,-8.9 -47.8,-9.9 -43.8,-10.7 -39.4,-11.4 -34.4,-12 -29,-12.5 -22.9,-12.8 -16.1,-13 -7,-13.1 2.1,-13 8.9,-12.8 15,-12.5 20.4,-12 25.4,-11.4 29.8,-10.7 33.8,-9.9 37.2,-8.9 40.2,-7.8 42.6,-6.6 44.5,-5.3 45.9,-3.9 46.7,-2.2Z"/>
<path fill="#ff0069" d="M44,0 43.7,2 43,3.5 41.7,4.8 39.8,5.9 37.5,7 34.7,8 31.5,8.9 27.7,9.6 23.5,10.3 18.8,10.8 13.7,11.2 8,11.5 1.6,11.7 -15.6,11.7 -22,11.5 -27.7,11.2 -32.8,10.8 -37.5,10.3 -41.7,9.6 -45.5,8.9 -48.7,8 -51.5,7 -53.8,5.9 -55.7,4.8 -57,3.5 -57.7,2 -58,0 -57.7,-2.1 -57,-3.6 -55.7,-5 -53.8,-6.3 -51.5,-7.4 -48.7,-8.4 -45.5,-9.3 -41.7,-10.1 -37.5,-10.8 -32.8,-11.4 -27.7,-11.8 -22,-12.1 -15.6,-12.3 -7,-12.4 1.6,-12.3 8,-12.1 13.7,-11.8 18.8,-11.4 23.5,-10.8 27.7,-10.1 31.5,-9.3 34.7,-8.4 37.5,-7.4 39.8,-6.3 41.7,-5 43,-3.6 43.7,-2.1Z"/>
<path fill="#ff006b" d="M41,0 40.8,1.8 40,3.2 38.8,4.5 37.1,5.6 34.9,6.6 32.2,7.5 29.2,8.3 25.6,9 21.6,9.6 17.2,10.2 12.4,10.5 7,10.8 1,11 -7,11.1 -15,11 -21,10.8 -26.4,10.5 -31.2,10.2 -35.6,9.6 -39.6,9 -43.2,8.3 -46.2,7.5 -48.9,6.6 -51.1,5.6 -52.8,4.5 -54,3.2 -54.8,1.8 -55,0 -54.8,-1.9 -54,-3.4 -52.8,-4.7 -51.1,-5.9 -48.9,-6.9 -46.2,-7.9 -43.2,-8.8 -39.6,-9.5 -35.6,-10.2 -31.2,-10.7 -26.4,-11.1 -21,-11.4 -15,-11.6 1,-11.6 7,-11.4 12.4,-11.1 17.2,-10.7 21.6,-10.2 25.6,-9.5 29.2,-8.8 32.2,-7.9 34.9,-6.9 37.1,-5.9 38.8,-4.7 40,-3.4 40.8,-1.9Z"/>
<path fill="#ff006d" d="M38,0 37.8,1.7 37.1,3 35.9,4.2 34.3,5.2 32.3,6.2 29.8,7 26.9,7.8 23.5,8.5 19.8,9 15.7,9.5 11.1,9.9 6.1,10.1 0.5,10.3 -7,10.4 -14.5,10.3 -20.1,10.1 -25.1,9.9 -29.7,9.5 -33.8,9 -37.5,8.5 -40.9,7.8 -43.8,7 -46.3,6.2 -48.3,5.2 -49.9,4.2 -51.1,3 -51.8,1.7 -52,0 -51.8,-1.8 -51.1,-3.2 -49.9,-4.4 -48.3,-5.5 -46.3,-6.5 -43.8,-7.4 -40.9,-8.2 -37.5,-8.9 -33.8,-9.5 -29.7,-10 -25.1,-10.4 -20.1,-10.7 -14.5,-10.9 0.5,-10.9 6.1,-10.7 11.1,-10.4 15.7,-10 19.8,-9.5 23.5,-8.9 26.9,-8.2 29.8,-7.4 32.3,-6.5 34.3,-5.5 35.9,-4.4 37.1,-3.2 37.8,-1.8Z"/>
<path fill="#ff006e" d="M35,0 34.8,1.6 34.1,2.8 33,3.9 31.5,4.9 29.6,5.8 27.3,6.6 24.6,7.3 21.5,7.9 18,8.4 14.1,8.9 9.9,9.2 5.2,9.5 -0.1,9.6 -7,9.7 -13.9,9.6 -19.2,9.5 -23.9,9.2 -28.1,8.9 -32,8.4 -35.5,7.9 -38.6,7.3 -41.3,6.6 -43.6,5.8 -45.5,4.9 -47,3.9 -48.1,2.8 -48.8,1.6 -49,0 -48.8,-1.7 -48.1,-3 -47,-4.1 -45.5,-5.1 -43.6,-6.1 -41.3,-6.9 -38.6,-7.7 -35.5,-8.3 -32,-8.9 -28.1,-9.3 -23.9,-9.7 -19.2,-10 -13.9,-10.1 -7,-10.2 -0.1,-10.1 5.2,-10 9.9,-9.7 14.1,-9.3 18,-8.9 21.5,-8.3 24.6,-7.7 27.3,-6.9 29.6,-6.1 31.5,-5.1 33,-4.1 34.1,-3 34.8,-1.7Z"/>
<path fill="#ff0070" d="M32,0 31.8,1.5 31.2,2.6 30.2,3.6 28.8,4.5 27,5.3 24.8,6.1 22.3,6.7 19.4,7.3 16.1,7.8 12.6,8.2 8.6,8.6 4.3,8.8 -0.6,8.9 -7,9 -13.4,8.9 -18.3,8.8 -22.6,8.6 -26.6,8.2 -30.1,7.8 -33.4,7.3 -36.3,6.7 -38.8,6.1 -41,5.3 -42.8,4.5 -44.2,3.6 -45.2,2.6 -45.8,1.5 -46,0 -45.8,-1.5 -45.2,-2.7 -44.2,-3.8 -42.8,-4.7 -41,-5.6 -38.8,-6.4 -36.3,-7.1 -33.4,-7.7 -30.1,-8.2 -26.6,-8.7 -22.6,-9 -18.3,-9.3 -13.4,-9.4 -7,-9.5 -0.6,-9.4 4.3,-9.3 8.6,-9 12.6,-8.7 16.1,-8.2 19.4,-7.7 22.3,-7.1 24.8,-6.4 27,-5.6 28.8,-4.7 30.2,-3.8 31.2,-2.7 31.8,-1.5Z"/>
<path fill="#ff0072" d="M29,0 28.8,1.3 28.2,2.4 27.3,3.3 26,4.1 24.4,4.9 22.3,5.6 20,6.2 17.3,6.8 14.3,7.2 11,7.6 7.4,7.9 3.3,8.1 -1.2,8.2 -7,8.3 -12.8,8.2 -17.3,8.1 -21.4,7.9 -25,7.6 -28.3,7.2 -31.3,6.8 -34,6.2 -36.3,5.6 -38.4,4.9 -40,4.1 -41.3,3.3 -42.2,2.4 -42.8,1.3 -43,0 -42.8,-1.4 -42.2,-2.5 -41.3,-3.5 -40,-4.4 -38.4,-5.2 -36.3,-5.9 -34,-6.5 -31.3,-7.1 -28.3,-7.6 -25,-8 -21.4,-8.3 -17.3,-8.5 -12.8,-8.7 -1.2,-8.7 3.3,-8.5 7.4,-8.3 11,-8 14.3,-7.6 17.3,-7.1 20,-6.5 22.3,-5.9 24.4,-5.2 26,-4.4 27.3,-3.5 28.2,-2.5 28.8,-1.4Z"/>
<path fill="#ff0074" d="M26,0 25.8,1.2 25.3,2.2 24.4,3 23.3,3.8 21.7,4.5 19.9,5.1 17.7,5.7 15.3,6.2 12.5,6.6 9.5,7 6.1,7.2 2.4,7.4 -1.7,7.6 -12.3,7.6 -16.4,7.4 -20.1,7.2 -23.5,7 -26.5,6.6 -29.3,6.2 -31.7,5.7 -33.9,5.1 -35.7,4.5 -37.3,3.8 -38.4,3 -39.3,2.2 -39.8,1.2 -40,0 -39.8,-1.3 -39.3,-2.3 -38.4,-3.2 -37.3,-4 -35.7,-4.7 -33.9,-5.4 -31.7,-6 -29.3,-6.5 -26.5,-7 -23.5,-7.3 -20.1,-7.6 -16.4,-7.8 -12.3,-8 -1.7,-8 2.4,-7.8 6.1,-7.6 9.5,-7.3 12.5,-7 15.3,-6.5 17.7,-6 19.9,-5.4 21.7,-4.7 23.3,-4 24.4,-3.2 25.3,-2.3 25.8,-1.3Z"/>
<path fill="#ff0076" d="M23,0 22.8,1.1 22.4,2 21.6,2.7 20.5,3.4 19.1,4.1 17.4,4.7 15.4,5.2 13.2,5.6 10.7,6 7.9,6.3 4.9,6.6 1.5,6.8 -2.2,6.9 -11.8,6.9 -15.5,6.8 -18.9,6.6 -21.9,6.3 -24.7,6 -27.2,5.6 -29.4,5.2 -31.4,4.7 -33.1,4.1 -34.5,3.4 -35.6,2.7 -36.4,2 -36.8,1.1 -37,0 -36.8,-1.2 -36.4,-2.1 -35.6,-2.9 -34.5,-3.6 -33.1,-4.3 -31.4,-4.9 -29.4,-5.4 -27.2,-5.9 -24.7,-6.3 -21.9,-6.7 -18.9,-6.9 -15.5,-7.1 -11.8,-7.2 -7,-7.3 -2.2,-7.2 1.5,-7.1 4.9,-6.9 7.9,-6.7 10.7,-6.3 13.2,-5.9 15.4,-5.4 17.4,-4.9 19.1,-4.3 20.5,-3.6 21.6,-2.9 22.4,-2.1 22.8,-1.2Z"/>
<path fill="#ff0078" d="M20,0 19.9,1 19.4,1.8 18.7,2.5 17.7,3.1 16.5,3.7 15,4.2 13.2,4.6 11.2,5.1 8.9,5.4 6.4,5.7 3.7,5.9 0.6,6.1 -2.7,6.2 -11.3,6.2 -14.6,6.1 -17.7,5.9 -20.4,5.7 -22.9,5.4 -25.2,5.1 -27.2,4.6 -29,4.2 -30.5,3.7 -31.7,3.1 -32.7,2.5 -33.4,1.8 -33.9,1 -34,0 -33.9,-1 -33.4,-1.9 -32.7,-2.6 -31.7,-3.2 -30.5,-3.9 -29,-4.4 -27.2,-4.9 -25.2,-5.3 -22.9,-5.7 -20.4,-6 -17.7,-6.2 -14.6,-6.4 -11.3,-6.5 -2.7,-6.5 0.6,-6.4 3.7,-6.2 6.4,-6 8.9,-5.7 11.2,-5.3 13.2,-4.9 15,-4.4 16.5,-3.9 17.7,-3.2 18.7,-2.6 19.4,-1.9 19.9,-1Z"/>
<path fill="#ff0079" d="M17,0 16.9,0.9 16.5,1.6 15.9,2.2 15,2.7 13.9,3.2 12.5,3.7 10.9,4.1 9.1,4.5 7.1,4.8 4.9,5.1 2.4,5.3 -0.2,5.4 -3.2,5.5 -10.8,5.5 -13.8,5.4 -16.4,5.3 -18.9,5.1 -21.1,4.8 -23.1,4.5 -24.9,4.1 -26.5,3.7 -27.9,3.2 -29,2.7 -29.9,2.2 -30.5,1.6 -30.9,0.9 -31,0 -30.9,-0.9 -30.5,-1.6 -29.9,-2.3 -29,-2.9 -27.9,-3.4 -26.5,-3.9 -24.9,-4.3 -23.1,-4.7 -21.1,-5.1 -18.9,-5.3 -16.4,-5.5 -13.8,-5.7 -10.8,-5.8 -3.2,-5.8 -0.2,-5.7 2.4,-5.5 4.9,-5.3 7.1,-5.1 9.1,-4.7 10.9,-4.3 12.5,-3.9 13.9,-3.4 15,-2.9 15.9,-2.3 16.5,-1.6 16.9,-0.9Z"/>
<path fill="#ff007b" d="M14,0 13.9,0.8 13.6,1.4 13,1.9 12.2,2.4 11.2,2.8 10.1,3.2 8.7,3.6 7.1,3.9 5.3,4.2 3.4,4.4 1.2,4.6 -1.1,4.7 -3.7,4.8 -10.3,4.8 -12.9,4.7 -15.2,4.6 -17.4,4.4 -19.3,4.2 -21.1,3.9 -22.7,3.6 -24.1,3.2 -25.2,2.8 -26.2,2.4 -27,1.9 -27.6,1.4 -27.9,0.8 -28,0 -27.9,-0.8 -27.6,-1.4 -27,-2 -26.2,-2.5 -25.2,-3 -24.1,-3.4 -22.7,-3.8 -21.1,-4.1 -19.3,-4.4 -17.4,-4.7 -15.2,-4.8 -12.9,-5 -10.3,-5.1 -3.7,-5.1 -1.1,-5 1.2,-4.8 3.4,-4.7 5.3,-4.4 7.1,-4.1 8.7,-3.8 10.1,-3.4 11.2,-3 12.2,-2.5 13,-2 13.6,-1.4 13.9,-0.8Z"/>
<path fill="#ff007d" d="M11,0 10.9,0.6 10.6,1.2 10.1,1.6 9.5,2 8.6,2.4 7.6,2.8 6.4,3.1 5.1,3.4 1.9,3.8 0,3.9 -2,4.1 -12,4.1 -14,3.9 -15.9,3.8 -19.1,3.4 -20.4,3.1 -21.6,2.8 -22.6,2.4 -23.5,2 -24.1,1.6 -24.6,1.2 -24.9,0.6 -25,0 -24.9,-0.7 -24.6,-1.2 -24.1,-1.7 -23.5,-2.1 -22.6,-2.6 -21.6,-2.9 -20.4,-3.3 -19.1,-3.5 -17.5,-3.8 -15.9,-4 -14,-4.2 -12,-4.3 -9.8,-4.3 -7,-4.4 -4.2,-4.3 -2,-4.3 0,-4.2 1.9,-4 3.5,-3.8 5.1,-3.5 6.4,-3.3 7.6,-2.9 8.6,-2.6 9.5,-2.1 10.1,-1.7 10.6,-1.2 10.9,-0.7Z"/>
<path fill="#ff007f" d="M8,0 7.9,0.5 7.7,1 7.3,1.3 6.7,1.7 6,2 5.2,2.3 4.2,2.6 1.8,3 0.4,3.2 -2.8,3.4 -4.7,3.4 -7,3.5 -9.3,3.4 -11.2,3.4 -14.4,3.2 -15.8,3 -18.2,2.6 -19.2,2.3 -20,2 -20.7,1.7 -21.3,1.3 -21.7,1 -21.9,0.5 -22,0 -21.9,-0.6 -21.7,-1 -21.3,-1.4 -20.7,-1.8 -20,-2.1 -19.2,-2.4 -18.2,-2.7 -17,-2.9 -15.8,-3.2 -14.4,-3.3 -12.8,-3.5 -11.2,-3.6 -2.8,-3.6 -1.2,-3.5 0.4,-3.3 1.8,-3.2 3,-2.9 4.2,-2.7 5.2,-2.4 6,-2.1 6.7,-1.8 7.3,-1.4 7.7,-1 7.9,-0.6Z"/>
<path fill="#ff0081" d="M5,0 4.9,0.4 4.7,0.8 4.4,1.1 4,1.4 3.4,1.6 2.7,1.8 1.9,2.1 1,2.2 0,2.4 -1.1,2.5 -3.7,2.7 -5.2,2.7 -7,2.8 -8.8,2.7 -10.3,2.7 -12.9,2.5 -14,2.4 -15,2.2 -15.9,2.1 -16.7,1.8 -17.4,1.6 -18,1.4 -18.4,1.1 -18.7,0.8 -18.9,0.4 -19,0 -18.9,-0.4 -18.7,-0.8 -18.4,-1.1 -18,-1.4 -17.4,-1.7 -16.7,-1.9 -15.9,-2.2 -15,-2.4 -14,-2.5 -12.9,-2.7 -11.6,-2.8 -10.3,-2.8 -8.8,-2.9 -5.2,-2.9 -3.7,-2.8 -2.4,-2.8 -1.1,-2.7 0,-2.5 1,-2.4 1.9,-2.2 2.7,-1.9 3.4,-1.7 4,-1.4 4.4,-1.1 4.7,-0.8 4.9,-0.4Z"/>
<path fill="#ff0082" d="M2,0.3 1.8,0.6 1.6,0.8 0.8,1.2 0.3,1.4 -0.3,1.5 -1,1.7 -2.6,1.9 -3.5,2 -4.5,2 -5.6,2.1 -8.4,2.1 -9.5,2 -10.5,2 -11.4,1.9 -13,1.7 -13.7,1.5 -14.3,1.4 -14.8,1.2 -15.6,0.8 -15.8,0.6 -16,0.3 -16,-0.3 -15.8,-0.6 -15.6,-0.8 -15.2,-1.1 -14.8,-1.3 -14.3,-1.5 -13.7,-1.6 -13,-1.8 -11.4,-2 -10.5,-2.1 -9.5,-2.1 -8.4,-2.2 -5.6,-2.2 -4.5,-2.1 -3.5,-2.1 -2.6,-2 -1,-1.8 -0.3,-1.6 0.3,-1.5 0.8,-1.3 1.2,-1.1 1.6,-0.8 1.8,-0.6 2,-0.3Z"/>
<path fill="#ff0084" d="M-1,0.2 -1.1,0.4 -1.3,0.5 -1.5,0.7 -2.1,0.9 -2.6,1 -3,1.1 -3.5,1.2 -4.1,1.3 -4.7,1.3 -5.4,1.4 -8.6,1.4 -9.3,1.3 -9.9,1.3 -10.5,1.2 -11,1.1 -11.4,1 -11.9,0.9 -12.5,0.7 -12.7,0.5 -12.9,0.4 -13,0.2 -13,-0.2 -12.9,-0.4 -12.7,-0.6 -12.5,-0.7 -12.2,-0.8 -11.9,-1 -11.4,-1.1 -11,-1.2 -10.5,-1.3 -9.9,-1.3 -9.3,-1.4 -7.9,-1.4 -7,-1.5 -6.1,-1.4 -4.7,-1.4 -4.1,-1.3 -3.5,-1.3 -3,-1.2 -2.6,-1.1 -2.1,-1 -1.8,-0.8 -1.5,-0.7 -1.3,-0.6 -1.1,-0.4 -1,-0.2Z"/>
<path fill="#ff0086" d="M-4,0.1 -4.1,0.2 -4.1,0.3 -4.3,0.3 -4.4,0.4 -4.6,0.5 -4.8,0.5 -5,0.6 -5.5,0.6 -5.9,0.7 -8.1,0.7 -8.5,0.6 -9,0.6 -9.2,0.5 -9.4,0.5 -9.6,0.4 -9.7,0.3 -9.9,0.3 -9.9,0.2 -10,0.1 -10,-0.1 -9.9,-0.2 -9.9,-0.3 -9.7,-0.4 -9.6,-0.4 -9.4,-0.5 -9.2,-0.5 -9,-0.6 -8.7,-0.6 -8.5,-0.7 -5.5,-0.7 -5.3,-0.6 -5,-0.6 -4.8,-0.5 -4.6,-0.5 -4.4,-0.4 -4.3,-0.4 -4.1,-0.3 -4.1,-0.2 -4,-0.1Z"/>
<ellipse cx="-237" cy="-105" rx="48" ry="62" fill="url(#h1b)"/>
<ellipse cx="240" cy="-118" rx="40" ry="52" fill="url(#h1b)"/>
<ellipse cx="-237" cy="108" rx="48" ry="60" fill="url(#h1b)"/>
<ellipse cx="240" cy="118" rx="40" ry="50" fill="url(#h1b)"/>
</g></g>
<g clip-path="url(#h2c)">
<rect x="1498" y="441" width="478" height="269" fill="#00ffff"/>
<g transform="translate(1738,575.5)">
<path fill="#00fffd" d="M243,123.9 234.5,137.5 -234.5,137.5 -243,123.9 -243,-127.7 -234.5,-137.5 234.5,-137.5 243,-127.7Z"/>
<path fill="#00fff8" d="M243,122.6 232.4,137.5 -232.4,137.5 -243,122.6 -243,-126.4 -232.4,-137.5 232.4,-137.5 243,-126.4Z"/>
<path fill="#00fff4" d="M243,121.3 230.2,137.5 -230.2,137.5 -243,121.3 -243,-125 -230.2,-137.5 230.2,-137.5 243,-125Z"/>
<path fill="#00ffef" d="M243,120 228,137.5 -228,137.5 -243,120 -243,-123.7 -228,-137.5 228,-137.5 243,-123.7Z"/>
<path fill="#00ffeb" d="M243,118.7 225.8,137.5 -225.8,137.5 -243,118.7 -243,-122.4 -225.8,-137.5 225.8,-137.5 243,-122.4Z"/>
<path fill="#00ffe6" d="M243,95.7 242.2,117.4 223.6,137.5 -223.6,137.5 -242.2,117.4 -243,95.7 -243,-98.7 -242.2,-121 -223.6,-137.5 223.6,-137.5 242.2,-121 243,-98.7Z"/>
<path fill="#00ffe2" d="M243,94.7 239.8,116.1 221.4,136.1 200.3,137.5 -200.3,137.5 -221.4,136.1 -239.8,116.1 -243,94.7 -243,-97.6 -239.8,-119.7 -221.4,-137.5 221.4,-137.5 239.8,-119.7 243,-97.6Z"/>
<path fill="#00ffdd" d="M243,93.6 237.4,114.8 219.2,134.6 198.3,137.5 -198.3,137.5 -219.2,134.6 -237.4,114.8 -243,93.6 -243,-96.5 -237.4,-118.4 -219.2,-137.5 219.2,-137.5 237.4,-118.4 243,-96.5Z"/>
<path fill="#00ffd9" d="M243,92.6 235.1,113.5 217,133.1 196.3,137.5 -196.3,137.5 -217,133.1 -235.1,113.5 -243,92.6 -243,-95.5 -235.1,-117 -217,-137.2 -196.3,-137.5 196.3,-137.5 217,-137.2 235.1,-117 243,-95.5Z"/>
<path fill="#00ffd4" d="M243,91.5 232.7,112.2 214.8,131.5 194.3,137.5 -194.3,137.5 -214.8,131.5 -232.7,112.2 -243,91.5 -243,-94.4 -232.7,-115.7 -214.8,-135.6 -194.3,-137.5 194.3,-137.5 214.8,-135.6 232.7,-115.7 243,-94.4Z"/>
<path fill="#00ffcd" d="M243,90.5 230.3,111 212.7,130 192.3,137.5 -192.3,137.5 -212.7,130 -230.3,111 -243,90.5 -243,-93.3 -230.3,-114.4 -212.7,-134.1 -192.3,-137.5 192.3,-137.5 212.7,-134.1 230.3,-114.4 243,-93.3Z"/>
<path fill="#00ffc3" d="M243,68.1 242.5,89.4 227.9,109.7 210.4,128.5 190.3,137.5 -190.3,137.5 -210.4,128.5 -227.9,109.7 -242.5,89.4 -243,68.1 -243,-70.2 -242.5,-92.2 -227.9,-113.1 -210.4,-132.5 -190.3,-137.5 190.3,-137.5 210.4,-132.5 227.9,-113.1 242.5,-92.2 243,-70.2Z"/>
<path fill="#00ffb9" d="M243,67.3 240,88.4 225.5,108.4 208.2,127 188.3,137.5 -188.3,137.5 -208.2,127 -225.5,108.4 -240,88.4 -243,67.3 -243,-69.4 -240,-91.1 -225.5,-111.7 -208.2,-130.9 -188.3,-137.5 188.3,-137.5 208.2,-130.9 225.5,-111.7 240,-91.1 243,-69.4Z"/>
<path fill="#00ffaf" d="M243,66.5 237.4,87.3 223.1,107.1 206,125.5 186.3,137.5 -186.3,137.5 -206,125.5 -223.1,107.1 -237.4,87.3 -243,66.5 -243,-68.5 -237.4,-90 -223.1,-110.4 -206,-129.4 -186.3,-137.5 186.3,-137.5 206,-129.4 223.1,-110.4 237.4,-90 243,-68.5Z"/>
<path fill="#00ffa5" d="M243,65.7 234.9,86.3 220.7,105.8 203.8,124 184.3,137.5 -184.3,137.5 -203.8,124 -220.7,105.8 -234.9,86.3 -243,65.7 -243,-67.7 -234.9,-88.9 -220.7,-109.1 -203.8,-127.8 -184.3,-137.5 184.3,-137.5 203.8,-127.8 220.7,-109.1 234.9,-88.9 243,-67.7Z"/>
<path fill="#00ff9b" d="M243,64.9 232.3,85.2 218.3,104.5 201.6,122.5 182.3,137.5 -182.3,137.5 -201.6,122.5 -218.3,104.5 -232.3,85.2 -243,64.9 -243,-66.9 -232.3,-87.9 -218.3,-107.7 -201.6,-126.3 -182.3,-137.5 182.3,-137.5 201.6,-126.3 218.3,-107.7 232.3,-87.9 243,-66.9Z"/>
<path fill="#00ff91" d="M243,43.2 240.7,64.1 229.7,84.2 215.9,103.2 199.4,121 180.3,137.2 159,137.5 -159,137.5 -180.3,137.2 -199.4,121 -215.9,103.2 -229.7,84.2 -240.7,64.1 -243,43.2 -243,-44.5 -240.7,-66.1 -229.7,-86.8 -215.9,-106.4 -199.4,-124.7 -180.3,-137.5 180.3,-137.5 199.4,-124.7 215.9,-106.4 229.7,-86.8 240.7,-66.1 243,-44.5Z"/>
<path fill="#00ff87" d="M243,42.6 238.4,63.2 227.6,83 213.9,101.7 197.5,119.2 178.6,135.2 157.5,137.5 -157.5,137.5 -178.6,135.2 -197.5,119.2 -213.9,101.7 -227.6,83 -238.4,63.2 -243,42.6 -243,-43.9 -238.4,-65.1 -227.6,-85.5 -213.9,-104.9 -197.5,-122.9 -178.6,-137.5 178.6,-137.5 197.5,-122.9 213.9,-104.9 227.6,-85.5 238.4,-65.1 243,-43.9Z"/>
<path fill="#00ff7d" d="M243,41.9 236.1,62.2 225.4,81.8 211.8,100.3 195.6,117.5 176.9,133.3 156,137.5 -156,137.5 -176.9,133.3 -195.6,117.5 -211.8,100.3 -225.4,81.8 -236.1,62.2 -243,41.9 -243,-43.2 -236.1,-64.2 -225.4,-84.3 -211.8,-103.4 -195.6,-121.1 -176.9,-137.4 -156,-137.5 156,-137.5 176.9,-137.4 195.6,-121.1 211.8,-103.4 225.4,-84.3 236.1,-64.2 243,-43.2Z"/>
<path fill="#00ff73" d="M243,20.8 241.5,41.3 233.8,61.3 223.2,80.6 209.7,98.8 193.7,115.8 175.2,131.3 154.4,137.5 -154.4,137.5 -175.2,131.3 -193.7,115.8 -209.7,98.8 -223.2,80.6 -233.8,61.3 -241.5,41.3 -243,20.8 -243,-21.4 -241.5,-42.6 -233.8,-63.2 -223.2,-83.1 -209.7,-101.8 -193.7,-119.4 -175.2,-135.4 -154.4,-137.5 154.4,-137.5 175.2,-135.4 193.7,-119.4 209.7,-101.8 223.2,-83.1 233.8,-63.2 241.5,-42.6 243,-21.4Z"/>
<path fill="#00ff69" d="M243,20.5 239.1,40.7 231.5,60.4 221,79.4 207.7,97.3 191.8,114 173.4,129.3 152.9,137.5 -152.9,137.5 -173.4,129.3 -191.8,114 -207.7,97.3 -221,79.4 -231.5,60.4 -239.1,40.7 -243,20.5 -243,-21.1 -239.1,-42 -231.5,-62.3 -221,-81.8 -207.7,-100.3 -191.8,-117.6 -173.4,-133.3 -152.9,-137.5 152.9,-137.5 173.4,-133.3 191.8,-117.6 207.7,-100.3 221,-81.8 231.5,-62.3 239.1,-42 243,-21.1Z"/>
<path fill="#00ff5f" d="M242.9,0 241.3,20.2 236.8,40.1 229.2,59.5 218.8,78.2 205.6,95.8 189.9,112.3 171.7,127.4 151.4,137.5 -151.4,137.5 -171.7,127.4 -189.9,112.3 -205.6,95.8 -218.8,78.2 -229.2,59.5 -236.8,40.1 -241.3,20.2 -242.9,0 -241.3,-20.8 -236.8,-41.3 -229.2,-61.3 -218.8,-80.6 -205.6,-98.8 -189.9,-115.8 -171.7,-131.3 -151.4,-137.5 151.4,-137.5 171.7,-131.3 189.9,-115.8 205.6,-98.8 218.8,-80.6 229.2,-61.3 236.8,-41.3 241.3,-20.8Z"/>
<path fill="#00ff55" d="M240.4,0 238.9,19.9 234.4,39.5 226.9,58.6 216.6,77 203.6,94.4 188,110.6 170,125.4 149.9,137.5 -149.9,137.5 -170,125.4 -188,110.6 -203.6,94.4 -216.6,77 -226.9,58.6 -234.4,39.5 -238.9,19.9 -240.4,0 -238.9,-20.5 -234.4,-40.7 -226.9,-60.4 -216.6,-79.3 -203.6,-97.3 -188,-114 -170,-129.3 -149.9,-137.5 149.9,-137.5 170,-129.3 188,-114 203.6,-97.3 216.6,-79.3 226.9,-60.4 234.4,-40.7 238.9,-20.5Z"/>
<path fill="#00ff4c" d="M238,0 236.5,19.5 232,38.9 224.6,57.7 214.4,75.8 201.5,92.9 186.1,108.9 168.3,123.5 148.4,136.5 126.6,137.5 -126.6,137.5 -148.4,136.5 -168.3,123.5 -186.1,108.9 -201.5,92.9 -214.4,75.8 -224.6,57.7 -232,38.9 -236.5,19.5 -238,0 -236.5,-20.2 -232,-40.1 -224.6,-59.5 -214.4,-78.1 -201.5,-95.8 -186.1,-112.2 -168.3,-127.3 -148.4,-137.5 148.4,-137.5 168.3,-127.3 186.1,-112.2 201.5,-95.8 214.4,-78.1 224.6,-59.5 232,-40.1 236.5,-20.2Z"/>
<path fill="#00ff44" d="M235.2,0 233.7,19.2 229.3,38.3 222,56.8 211.9,74.6 199.2,91.5 183.9,107.2 166.3,121.6 146.7,134.4 125.1,137.5 -125.1,137.5 -146.7,134.4 -166.3,121.6 -183.9,107.2 -199.2,91.5 -211.9,74.6 -222,56.8 -229.3,38.3 -233.7,19.2 -235.2,0 -233.7,-19.8 -229.3,-39.4 -222,-58.5 -211.9,-76.9 -199.2,-94.3 -183.9,-110.5 -166.3,-125.3 -146.7,-137.5 146.7,-137.5 166.3,-125.3 183.9,-110.5 199.2,-94.3 211.9,-76.9 222,-58.5 229.3,-39.4 233.7,-19.8Z"/>
<path fill="#00ff3d" d="M232.4,0 231,18.9 226.6,37.7 219.4,55.9 209.4,73.4 196.8,90 181.7,105.5 164.4,119.7 144.9,132.3 123.7,137.5 -123.7,137.5 -144.9,132.3 -164.4,119.7 -181.7,105.5 -196.8,90 -209.4,73.4 -219.4,55.9 -226.6,37.7 -231,18.9 -232.4,0 -231,-19.5 -226.6,-38.8 -219.4,-57.6 -209.4,-75.7 -196.8,-92.8 -181.7,-108.8 -164.4,-123.4 -144.9,-136.4 -123.7,-137.5 123.7,-137.5 144.9,-136.4 164.4,-123.4 181.7,-108.8 196.8,-92.8 209.4,-75.7 219.4,-57.6 226.6,-38.8 231,-19.5Z"/>
<path fill="#00ff35" d="M229.7,0 228.2,18.6 223.9,37.1 216.8,55 206.9,72.2 194.5,88.6 179.6,103.8 162.4,117.7 143.2,130.2 122.2,137.5 -122.2,137.5 -143.2,130.2 -162.4,117.7 -179.6,103.8 -194.5,88.6 -206.9,72.2 -216.8,55 -223.9,37.1 -228.2,18.6 -229.7,0 -228.2,-19.2 -223.9,-38.2 -216.8,-56.7 -206.9,-74.5 -194.5,-91.3 -179.6,-107 -162.4,-121.4 -143.2,-134.2 -122.2,-137.5 122.2,-137.5 143.2,-134.2 162.4,-121.4 179.6,-107 194.5,-91.3 206.9,-74.5 216.8,-56.7 223.9,-38.2 228.2,-19.2Z"/>
<path fill="#00ff2d" d="M226.9,0 225.5,18.3 221.2,36.5 214.2,54.1 204.4,71.1 192.1,87.2 177.4,102.1 160.4,115.8 141.5,128.1 120.7,137.5 -120.7,137.5 -141.5,128.1 -160.4,115.8 -177.4,102.1 -192.1,87.2 -204.4,71.1 -214.2,54.1 -221.2,36.5 -225.5,18.3 -226.9,0 -225.5,-18.9 -221.2,-37.6 -214.2,-55.8 -204.4,-73.3 -192.1,-89.9 -177.4,-105.3 -160.4,-119.4 -141.5,-132 -120.7,-137.5 120.7,-137.5 141.5,-132 160.4,-119.4 177.4,-105.3 192.1,-89.9 204.4,-73.3 214.2,-55.8 221.2,-37.6 225.5,-18.9Z"/>
<path fill="#00ff25" d="M224.1,0 222.7,18 218.5,35.9 211.5,53.2 201.9,69.9 189.8,85.7 175.2,100.5 158.5,113.9 139.7,126 119.2,136.4 97.2,137.5 -97.2,137.5 -119.2,136.4 -139.7,126 -158.5,113.9 -175.2,100.5 -189.8,85.7 -201.9,69.9 -211.5,53.2 -218.5,35.9 -222.7,18 -224.1,0 -222.7,-18.6 -218.5,-37 -211.5,-54.9 -201.9,-72.1 -189.8,-88.4 -175.2,-103.6 -158.5,-117.5 -139.7,-129.9 -119.2,-137.5 119.2,-137.5 139.7,-129.9 158.5,-117.5 175.2,-103.6 189.8,-88.4 201.9,-72.1 211.5,-54.9 218.5,-37 222.7,-18.6Z"/>
<path fill="#00ff1d" d="M221.3,0 219.9,17.7 215.8,35.3 208.9,52.3 199.4,68.7 187.4,84.3 173,98.8 156.5,112 138,123.9 117.8,134.1 96,137.5 -96,137.5 -117.8,134.1 -138,123.9 -156.5,112 -173,98.8 -187.4,84.3 -199.4,68.7 -208.9,52.3 -215.8,35.3 -219.9,17.7 -221.3,0 -219.9,-18.3 -215.8,-36.3 -208.9,-53.9 -199.4,-70.9 -187.4,-86.9 -173,-101.8 -156.5,-115.5 -138,-127.7 -117.8,-137.5 117.8,-137.5 138,-127.7 156.5,-115.5 173,-101.8 187.4,-86.9 199.4,-70.9 208.9,-53.9 215.8,-36.3 219.9,-18.3Z"/>
<path fill="#00ff16" d="M218.6,0 217.2,17.4 213.1,34.7 206.3,51.4 196.9,67.6 185.1,82.9 170.9,97.1 154.5,110.1 136.3,121.8 116.3,131.9 94.8,137.5 -94.8,137.5 -116.3,131.9 -136.3,121.8 -154.5,110.1 -170.9,97.1 -185.1,82.9 -196.9,67.6 -206.3,51.4 -213.1,34.7 -217.2,17.4 -218.6,0 -217.2,-18 -213.1,-35.7 -206.3,-53 -196.9,-69.7 -185.1,-85.4 -170.9,-100.1 -154.5,-113.5 -136.3,-125.5 -116.3,-135.9 -94.8,-137.5 94.8,-137.5 116.3,-135.9 136.3,-125.5 154.5,-113.5 170.9,-100.1 185.1,-85.4 196.9,-69.7 206.3,-53 213.1,-35.7 217.2,-18Z"/>
<path fill="#00ff0e" d="M215.8,0 214.4,17.1 210.4,34.1 203.7,50.5 194.4,66.4 182.7,81.4 168.7,95.4 152.6,108.2 134.5,119.7 114.8,129.6 93.6,137.5 -93.6,137.5 -114.8,129.6 -134.5,119.7 -152.6,108.2 -168.7,95.4 -182.7,81.4 -194.4,66.4 -203.7,50.5 -210.4,34.1 -214.4,17.1 -215.8,0 -214.4,-17.7 -210.4,-35.1 -203.7,-52.1 -194.4,-68.5 -182.7,-83.9 -168.7,-98.4 -152.6,-111.6 -134.5,-123.4 -114.8,-133.6 -93.6,-137.5 93.6,-137.5 114.8,-133.6 134.5,-123.4 152.6,-111.6 168.7,-98.4 182.7,-83.9 194.4,-68.5 203.7,-52.1 210.4,-35.1 214.4,-17.7Z"/>
<path fill="#04ff09" d="M213,0 211.7,16.8 207.7,33.5 201,49.7 191.9,65.2 180.4,80 166.5,93.7 150.6,106.3 132.8,117.5 113.3,127.3 92.4,135.5 70.3,137.5 -70.3,137.5 -92.4,135.5 -113.3,127.3 -132.8,117.5 -150.6,106.3 -166.5,93.7 -180.4,80 -191.9,65.2 -201,49.7 -207.7,33.5 -211.7,16.8 -213,0 -211.7,-17.4 -207.7,-34.5 -201,-51.2 -191.9,-67.3 -180.4,-82.5 -166.5,-96.6 -150.6,-109.6 -132.8,-121.2 -113.3,-131.2 -92.4,-137.5 92.4,-137.5 113.3,-131.2 132.8,-121.2 150.6,-109.6 166.5,-96.6 180.4,-82.5 191.9,-67.3 201,-51.2 207.7,-34.5 211.7,-17.4Z"/>
<path fill="#0bff08" d="M211.6,0 210.3,16.8 206.4,33.2 199.9,49.1 190.8,64.4 179.4,78.8 165.8,92.2 150,104.5 132.4,115.5 113.1,125 92.4,132.9 70.5,137.5 -70.4,137.5 -92.3,132.9 -113,125 -132.3,115.5 -149.9,104.5 -165.6,92.2 -179.3,78.8 -190.7,64.4 -199.7,49.1 -206.2,33.2 -210.2,16.8 -211.5,0 -210.2,-17.3 -206.2,-34.2 -199.7,-50.6 -190.7,-66.3 -179.3,-81.2 -165.6,-95.1 -149.9,-107.7 -132.3,-119 -113,-128.9 -92.3,-137 -70.4,-137.5 70.5,-137.5 92.4,-137 113.1,-128.9 132.4,-119 150,-107.7 165.8,-95.1 179.4,-81.2 190.8,-66.3 199.9,-50.6 206.4,-34.2 210.3,-17.3Z"/>
<path fill="#12ff06" d="M210.3,0 209,16.7 205.1,32.8 198.7,48.5 189.8,63.5 178.5,77.6 165,90.7 149.5,102.7 132,113.4 112.9,122.7 92.4,130.4 70.6,136.5 47.9,137.5 -47.6,137.5 -70.4,136.5 -92.1,130.4 -112.7,122.7 -131.8,113.4 -149.2,102.7 -164.7,90.7 -178.2,77.6 -189.5,63.5 -198.4,48.5 -204.8,32.8 -208.7,16.7 -210,0 -208.7,-17.2 -204.8,-33.9 -198.4,-50 -189.5,-65.4 -178.2,-80 -164.7,-93.5 -149.2,-105.9 -131.8,-116.9 -112.7,-126.5 -92.1,-134.4 -70.4,-137.5 70.6,-137.5 92.4,-134.4 112.9,-126.5 132,-116.9 149.5,-105.9 165,-93.5 178.5,-80 189.8,-65.4 198.7,-50 205.1,-33.9 209,-17.2Z"/>
<path fill="#19ff05" d="M208.9,0 207.6,16.6 203.8,32.5 197.5,47.9 188.7,62.5 177.6,76.4 164.2,89.2 148.9,100.9 131.6,111.3 112.7,120.3 92.4,127.9 70.8,133.8 48.1,137.5 -47.7,137.5 -70.3,133.8 -91.9,127.9 -112.3,120.3 -131.2,111.3 -148.4,100.9 -163.8,89.2 -177.1,76.4 -188.2,62.5 -197,47.9 -203.4,32.5 -207.2,16.6 -208.5,0 -207.2,-17.1 -203.4,-33.5 -197,-49.4 -188.2,-64.5 -177.1,-78.7 -163.8,-91.9 -148.4,-104 -131.2,-114.7 -112.3,-124.1 -91.9,-131.8 -70.3,-137.5 70.8,-137.5 92.4,-131.8 112.7,-124.1 131.6,-114.7 148.9,-104 164.2,-91.9 177.6,-78.7 188.7,-64.5 197.5,-49.4 203.8,-33.5 207.6,-17.1Z"/>
<path fill="#20ff04" d="M207.6,0 206.3,16.5 202.5,32.2 196.3,47.2 187.6,61.6 176.6,75.1 163.5,87.6 148.3,99 131.2,109.2 112.5,118 92.3,125.3 70.9,131.1 48.4,135.3 24.9,137.5 -24.4,137.5 -47.8,135.3 -70.3,131.1 -91.8,125.3 -111.9,118 -130.7,109.2 -147.7,99 -162.9,87.6 -176,75.1 -187,61.6 -195.7,47.2 -201.9,32.2 -205.7,16.5 -207,0 -205.7,-17 -201.9,-33.2 -195.7,-48.7 -187,-63.5 -176,-77.4 -162.9,-90.3 -147.7,-102.1 -130.7,-112.6 -111.9,-121.6 -91.8,-129.2 -70.3,-135.2 -47.8,-137.5 48.4,-137.5 70.9,-135.2 92.3,-129.2 112.5,-121.6 131.2,-112.6 148.3,-102.1 163.5,-90.3 176.6,-77.4 187.6,-63.5 196.3,-48.7 202.5,-33.2 206.3,-17Z"/>
<path fill="#27ff02" d="M206.2,0 205,16.4 201.2,31.8 195,46.6 186.5,60.6 175.7,73.8 162.7,86.1 147.7,97.2 130.8,107.1 112.3,115.6 92.3,122.8 71,128.4 48.6,132.5 25.2,135 0.4,135.8 -24.5,135 -47.9,132.5 -70.3,128.4 -91.6,122.8 -111.6,115.6 -130.1,107.1 -147,97.2 -162,86.1 -174.9,73.8 -185.8,60.6 -194.3,46.6 -200.5,31.8 -204.3,16.4 -205.5,0 -204.3,-16.9 -200.5,-32.8 -194.3,-48 -185.8,-62.5 -174.9,-76.1 -162,-88.7 -147,-100.2 -130.1,-110.4 -111.6,-119.2 -91.6,-126.6 -70.3,-132.4 -47.9,-136.6 -24.5,-137.5 25.2,-137.5 48.6,-136.6 71,-132.4 92.3,-126.6 112.3,-119.2 130.8,-110.4 147.7,-100.2 162.7,-88.7 175.7,-76.1 186.5,-62.5 195,-48 201.2,-32.8 205,-16.9Z"/>
<path fill="#2eff01" d="M204.9,0 203.6,16.3 199.9,31.5 193.8,45.9 185.4,59.7 174.7,72.6 161.9,84.5 147.1,95.3 130.4,105 112,113.3 92.2,120.2 71.1,125.7 48.8,129.7 25.5,132.1 0.4,132.9 -24.6,132.1 -48,129.7 -70.2,125.7 -91.4,120.2 -111.2,113.3 -129.5,105 -146.2,95.3 -161,84.5 -173.9,72.6 -184.5,59.7 -193,45.9 -199.1,31.5 -202.8,16.3 -204,0 -202.8,-16.8 -199.1,-32.4 -193,-47.4 -184.5,-61.5 -173.9,-74.8 -161,-87.1 -146.2,-98.3 -129.5,-108.2 -111.2,-116.8 -91.4,-124 -70.2,-129.6 -48,-133.7 -24.6,-136.2 0.4,-137 25.5,-136.2 48.8,-133.7 71.1,-129.6 92.2,-124 112,-116.8 130.4,-108.2 147.1,-98.3 161.9,-87.1 174.7,-74.8 185.4,-61.5 193.8,-47.4 199.9,-32.4 203.6,-16.8Z"/>
<path fill="#34ff00" d="M203.5,0 202.3,16.2 198.6,31.1 192.6,45.3 184.3,58.7 173.8,71.3 161.1,82.9 146.4,93.4 129.9,102.8 111.8,110.9 92.2,117.7 71.2,123 49,126.9 25.7,129.2 0.5,130 -24.7,129.2 -48,126.9 -70.2,123 -91.2,117.7 -110.8,110.9 -128.9,102.8 -145.4,93.4 -160.1,82.9 -172.8,71.3 -183.3,58.7 -191.6,45.3 -197.6,31.1 -201.3,16.2 -202.5,0 -201.3,-16.7 -197.6,-32 -191.6,-46.7 -183.3,-60.5 -172.8,-73.5 -160.1,-85.4 -145.4,-96.3 -128.9,-106 -110.8,-114.4 -91.2,-121.3 -70.2,-126.8 -48,-130.8 -24.7,-133.2 0.5,-134 25.7,-133.2 49,-130.8 71.2,-126.8 92.2,-121.3 111.8,-114.4 129.9,-106 146.4,-96.3 161.1,-85.4 173.8,-73.5 184.3,-60.5 192.6,-46.7 198.6,-32 202.3,-16.7Z"/>
<path fill="#38ff00" d="M202.8,0 201.6,15.9 198,30.6 192,44.5 183.7,57.6 173.3,69.9 160.7,81.2 146.1,91.5 129.7,100.7 111.7,108.6 92.1,115.2 71.3,120.4 49.2,124.1 25.9,126.4 0.5,127.2 -24.8,126.4 -48.1,124.1 -70.2,120.4 -91.1,115.2 -110.6,108.6 -128.7,100.7 -145,91.5 -159.6,81.2 -172.2,69.9 -182.7,57.6 -190.9,44.5 -196.9,30.6 -200.5,15.9 -201.7,0 -200.5,-16.4 -196.9,-31.5 -190.9,-45.8 -182.7,-59.4 -172.2,-72 -159.6,-83.7 -145,-94.4 -128.7,-103.8 -110.6,-111.9 -91.1,-118.7 -70.2,-124.1 -48.1,-128 -24.8,-130.3 0.5,-131.1 25.9,-130.3 49.2,-128 71.3,-124.1 92.1,-118.7 111.7,-111.9 129.7,-103.8 146.1,-94.4 160.7,-83.7 173.3,-72 183.7,-59.4 192,-45.8 198,-31.5 201.6,-16.4Z"/>
<path fill="#3cff00" d="M202.1,0 200.9,15.7 197.3,30.1 191.4,43.6 183.2,56.5 172.8,68.5 160.3,79.6 145.8,89.6 129.5,98.5 111.6,106.2 92.1,112.7 71.3,117.7 49.3,121.4 26,123.6 0.6,124.3 -24.9,123.6 -48.1,121.4 -70.2,117.7 -91,112.7 -110.4,106.2 -128.4,98.5 -144.6,89.6 -159.1,79.6 -171.6,68.5 -182,56.5 -190.2,43.6 -196.1,30.1 -199.7,15.7 -200.9,0 -199.7,-16.2 -196.1,-31 -190.2,-45 -182,-58.2 -171.6,-70.6 -159.1,-82 -144.6,-92.4 -128.4,-101.6 -110.4,-109.5 -91,-116.1 -70.2,-121.4 -48.1,-125.1 -24.9,-127.4 0.6,-128.2 26,-127.4 49.3,-125.1 71.3,-121.4 92.1,-116.1 111.6,-109.5 129.5,-101.6 145.8,-92.4 160.3,-82 172.8,-70.6 183.2,-58.2 191.4,-45 197.3,-31 200.9,-16.2Z"/>
<path fill="#41ff00" d="M201.4,0 200.2,15.5 196.6,29.5 190.8,42.8 182.6,55.4 172.3,67.1 159.9,77.9 145.5,87.7 129.3,96.4 111.5,103.9 92.1,110.1 71.4,115.1 49.4,118.6 26.2,120.8 0.6,121.5 -24.9,120.8 -48.2,118.6 -70.1,115.1 -90.9,110.1 -110.2,103.9 -128.1,96.4 -144.3,87.7 -158.6,77.9 -171,67.1 -181.4,55.4 -189.5,42.8 -195.4,29.5 -198.9,15.5 -200.1,0 -198.9,-16 -195.4,-30.4 -189.5,-44.2 -181.4,-57.1 -171,-69.2 -158.6,-80.3 -144.3,-90.4 -128.1,-99.4 -110.2,-107.1 -90.9,-113.5 -70.1,-118.6 -48.2,-122.3 -24.9,-124.5 0.6,-125.2 26.2,-124.5 49.4,-122.3 71.4,-118.6 92.1,-113.5 111.5,-107.1 129.3,-99.4 145.5,-90.4 159.9,-80.3 172.3,-69.2 182.6,-57.1 190.8,-44.2 196.6,-30.4 200.2,-16Z"/>
<path fill="#45ff00" d="M200.7,0 199.5,15.2 196,29 190.1,42 182,54.2 171.8,65.7 159.5,76.2 145.2,85.7 129.1,94.2 111.4,101.5 92.1,107.6 71.5,112.4 49.6,115.9 26.3,118 0.7,118.7 -25,118 -48.2,115.9 -70.1,112.4 -90.8,107.6 -110,101.5 -127.8,94.2 -143.9,85.7 -158.1,76.2 -170.4,65.7 -180.7,54.2 -188.8,42 -194.6,29 -198.2,15.2 -199.3,0 -198.2,-15.7 -194.6,-29.9 -188.8,-43.3 -180.7,-55.9 -170.4,-67.7 -158.1,-78.6 -143.9,-88.4 -127.8,-97.1 -110,-104.7 -90.8,-110.9 -70.1,-115.9 -48.2,-119.5 -25,-121.6 0.7,-122.3 26.3,-121.6 49.6,-119.5 71.5,-115.9 92.1,-110.9 111.4,-104.7 129.1,-97.1 145.2,-88.4 159.5,-78.6 171.8,-67.7 182,-55.9 190.1,-43.3 196,-29.9 199.5,-15.7Z"/>
<path fill="#49ff00" d="M200,0 198.8,15 195.3,28.5 189.5,41.2 181.5,53.1 171.3,64.3 159,74.5 144.9,83.8 128.9,92 111.2,99.2 92.1,105.1 71.5,109.8 49.7,113.1 26.5,115.2 0.7,115.8 -25.1,115.2 -48.3,113.1 -70.1,109.8 -90.7,105.1 -109.8,99.2 -127.5,92 -143.4,83.8 -157.6,74.5 -169.9,64.3 -180.1,53.1 -188.1,41.2 -193.9,28.5 -197.4,15 -198.5,0 -197.4,-15.5 -193.9,-29.3 -188.1,-42.4 -180.1,-54.8 -169.9,-66.2 -157.6,-76.8 -143.4,-86.4 -127.5,-94.9 -109.8,-102.2 -90.7,-108.3 -70.1,-113.1 -48.3,-116.6 -25.1,-118.7 0.7,-119.4 26.5,-118.7 49.7,-116.6 71.5,-113.1 92.1,-108.3 111.2,-102.2 128.9,-94.9 144.9,-86.4 159,-76.8 171.3,-66.2 181.5,-54.8 189.5,-42.4 195.3,-29.3 198.8,-15.5Z"/>
<path fill="#4dff00" d="M199.2,0 198.1,14.7 194.6,27.9 188.9,40.3 180.9,52 170.8,62.8 158.6,72.8 144.5,81.9 128.7,89.9 111.1,96.8 92,102.6 71.6,107.1 49.8,110.4 26.6,112.3 0.8,113 -25.1,112.3 -48.3,110.4 -70.1,107.1 -90.5,102.6 -109.6,96.8 -127.2,89.9 -143,81.9 -157.1,72.8 -169.3,62.8 -179.4,52 -187.4,40.3 -193.1,27.9 -196.6,14.7 -197.8,0 -196.6,-15.2 -193.1,-28.8 -187.4,-41.6 -179.4,-53.6 -169.3,-64.8 -157.1,-75.1 -143,-84.4 -127.2,-92.7 -109.6,-99.8 -90.5,-105.7 -70.1,-110.4 -48.3,-113.8 -25.1,-115.8 0.7,-116.5 26.6,-115.8 49.8,-113.8 71.6,-110.4 92,-105.7 111.1,-99.8 128.7,-92.7 144.5,-84.4 158.6,-75.1 170.8,-64.8 180.9,-53.6 188.9,-41.6 194.6,-28.8 198.1,-15.2Z"/>
<path fill="#51ff00" d="M198.5,0 197.4,14.5 193.9,27.4 188.2,39.5 180.3,50.8 170.3,61.4 158.2,71.1 144.2,79.9 128.4,87.7 111,94.4 92,100 71.6,104.4 49.9,107.6 26.8,109.5 0.8,110.2 -25.2,109.5 -48.3,107.6 -70.1,104.4 -90.4,100 -109.4,94.4 -126.9,87.7 -142.6,79.9 -156.6,71.1 -168.7,61.4 -178.7,50.8 -186.7,39.5 -192.4,27.4 -195.8,14.5 -197,0 -195.8,-14.9 -192.4,-28.2 -186.7,-40.7 -178.7,-52.4 -168.7,-63.3 -156.6,-73.3 -142.6,-82.4 -126.9,-90.4 -109.4,-97.4 -90.4,-103.1 -70.1,-107.7 -48.3,-110.9 -25.2,-112.9 0.8,-113.6 26.8,-112.9 49.9,-110.9 71.6,-107.7 92,-103.1 111,-97.4 128.4,-90.4 144.2,-82.4 158.2,-73.3 170.3,-63.3 180.3,-52.4 188.2,-40.7 193.9,-28.2 197.4,-14.9Z"/>
<path fill="#55ff00" d="M197.8,0 196.7,14.2 193.3,26.8 187.6,38.6 179.8,49.7 169.8,60 157.8,69.4 143.9,78 128.2,85.5 110.9,92.1 92,97.5 71.7,101.8 50,104.9 26.9,106.7 0.8,107.3 -25.3,106.7 -48.4,104.9 -70,101.8 -90.3,97.5 -109.2,92.1 -126.5,85.5 -142.2,78 -156.1,69.4 -168.1,60 -178.1,49.7 -185.9,38.6 -191.6,26.8 -195,14.2 -196.2,0 -195,-14.7 -191.6,-27.6 -185.9,-39.8 -178.1,-51.2 -168.1,-61.8 -156.1,-71.6 -142.2,-80.4 -126.5,-88.2 -109.2,-94.9 -90.3,-100.5 -70,-104.9 -48.4,-108.1 -25.3,-110 0.8,-110.7 26.9,-110 50,-108.1 71.7,-104.9 92,-100.5 110.9,-94.9 128.2,-88.2 143.9,-80.4 157.8,-71.6 169.8,-61.8 179.8,-51.2 187.6,-39.8 193.3,-27.6 196.7,-14.7Z"/>
<path fill="#5aff00" d="M197.1,0 196,14 192.6,26.2 187,37.7 179.2,48.5 169.3,58.5 157.4,67.7 143.6,76 128,83.3 110.7,89.7 91.9,95 71.7,99.1 50.2,102.1 27.1,103.9 0.9,104.5 -25.3,103.9 -48.4,102.1 -70,99.1 -90.2,95 -109,89.7 -126.2,83.3 -141.8,76 -155.6,67.7 -167.5,58.5 -177.4,48.5 -185.2,37.7 -190.8,26.2 -194.2,14 -195.4,0 -194.2,-14.4 -190.8,-27.1 -185.2,-38.9 -177.4,-50 -167.5,-60.3 -155.6,-69.8 -141.8,-78.3 -126.2,-85.9 -109,-92.5 -90.2,-97.9 -70,-102.2 -48.4,-105.3 -25.3,-107.1 0.9,-107.8 27.1,-107.1 50.2,-105.3 71.7,-102.2 91.9,-97.9 110.7,-92.5 128,-85.9 143.6,-78.3 157.4,-69.8 169.3,-60.3 179.2,-50 187,-38.9 192.6,-27.1 196,-14.4Z"/>
<path fill="#5eff00" d="M196.4,0 195.3,13.7 191.9,25.7 186.3,36.9 178.6,47.3 168.8,57 157,66 143.2,74 127.7,81.2 110.6,87.3 91.9,92.4 71.8,96.4 50.3,99.4 27.2,101.1 0.9,101.7 -25.4,101.1 -48.4,99.4 -69.9,96.4 -90.1,92.4 -108.8,87.3 -125.9,81.2 -141.4,74 -155.1,66 -166.9,57 -176.8,47.3 -184.5,36.9 -190.1,25.7 -193.5,13.7 -194.6,0 -193.5,-14.1 -190.1,-26.5 -184.5,-38 -176.8,-48.8 -166.9,-58.8 -155.1,-68 -141.4,-76.3 -125.9,-83.7 -108.8,-90 -90.1,-95.3 -69.9,-99.4 -48.4,-102.4 -25.4,-104.2 0.9,-104.8 27.2,-104.2 50.3,-102.4 71.8,-99.4 91.9,-95.3 110.6,-90 127.7,-83.7 143.2,-76.3 157,-68 168.8,-58.8 178.6,-48.8 186.3,-38 191.9,-26.5 195.3,-14.1Z"/>
<path fill="#62ff00" d="M195.7,0 194.6,13.4 191.2,25.1 185.7,36 178,46.1 168.3,55.6 156.5,64.2 142.9,72.1 127.5,79 110.5,84.9 91.9,89.9 71.8,93.8 50.4,96.6 27.4,98.3 1,98.9 -25.4,98.3 -48.5,96.6 -69.9,93.8 -89.9,89.9 -108.5,84.9 -125.6,79 -141,72.1 -154.6,64.2 -166.4,55.6 -176.1,46.1 -183.8,36 -189.3,25.1 -192.7,13.4 -193.8,0 -192.7,-13.8 -189.3,-25.9 -183.8,-37.1 -176.1,-47.6 -166.4,-57.3 -154.6,-66.2 -141,-74.3 -125.6,-81.4 -108.5,-87.6 -89.9,-92.7 -69.9,-96.7 -48.5,-99.6 -25.4,-101.3 1,-101.9 27.4,-101.3 50.4,-99.6 71.8,-96.7 91.9,-92.7 110.5,-87.6 127.5,-81.4 142.9,-74.3 156.5,-66.2 168.3,-57.3 178,-47.6 185.7,-37.1 191.2,-25.9 194.6,-13.8Z"/>
<path fill="#69ff00" d="M195,0 193.9,13.1 190.6,24.5 185.1,35.1 177.5,45 167.8,54.1 156.1,62.5 142.6,70.1 127.3,76.8 110.3,82.6 91.8,87.3 71.9,91.1 50.5,93.8 27.5,95.5 1,96 -25.5,95.5 -48.5,93.8 -69.9,91.1 -89.8,87.3 -108.3,82.6 -125.3,76.8 -140.6,70.1 -154.1,62.5 -165.8,54.1 -175.5,45 -183.1,35.1 -188.6,24.5 -191.9,13.1 -193,0 -191.9,-13.5 -188.6,-25.3 -183.1,-36.2 -175.5,-46.3 -165.8,-55.8 -154.1,-64.4 -140.6,-72.2 -125.3,-79.2 -108.3,-85.1 -89.8,-90 -69.9,-93.9 -48.5,-96.7 -25.5,-98.4 1,-99 27.5,-98.4 50.5,-96.7 71.9,-93.9 91.8,-90 110.3,-85.1 127.3,-79.2 142.6,-72.2 156.1,-64.4 167.8,-55.8 177.5,-46.3 185.1,-36.2 190.6,-25.3 193.9,-13.5Z"/>
<path fill="#72ff00" d="M193.3,0 192.2,13.2 189,24.3 183.6,34.6 176.2,44.2 166.7,53.1 155.3,61.2 142,68.5 127,75 110.3,80.5 92.1,85.1 72.3,88.7 51.1,91.3 28.1,92.9 1,93.4 -26.1,92.9 -49.1,91.3 -70.3,88.7 -90.1,85.1 -108.3,80.5 -125,75 -140,68.5 -153.3,61.2 -164.7,53.1 -174.2,44.2 -181.6,34.6 -187,24.3 -190.2,13.2 -191.3,0 -190.2,-13.6 -187,-25.1 -181.6,-35.7 -174.2,-45.6 -164.7,-54.7 -153.3,-63.1 -140,-70.6 -125,-77.3 -108.3,-83 -90.1,-87.7 -70.3,-91.5 -49.1,-94.2 -26.1,-95.8 1,-96.3 28.1,-95.8 51.1,-94.2 72.3,-91.5 92.1,-87.7 110.3,-83 127,-77.3 142,-70.6 155.3,-63.1 166.7,-54.7 176.2,-45.6 183.6,-35.7 189,-25.1 192.2,-13.6Z"/>
<path fill="#7bff00" d="M191.7,0 190.6,13.2 187.4,24.1 182.2,34.2 174.9,43.5 165.6,52.1 154.4,59.9 141.4,66.9 126.7,73.1 110.3,78.5 92.3,82.9 72.7,86.3 51.6,88.8 28.6,90.4 1,90.9 -26.6,90.4 -49.6,88.8 -70.7,86.3 -90.3,82.9 -108.3,78.5 -124.7,73.1 -139.4,66.9 -152.4,59.9 -163.6,52.1 -172.9,43.5 -180.2,34.2 -185.4,24.1 -188.6,13.2 -189.7,0 -188.6,-13.6 -185.4,-24.9 -180.2,-35.2 -172.9,-44.8 -163.6,-53.7 -152.4,-61.7 -139.4,-69 -124.7,-75.4 -108.3,-80.9 -90.3,-85.4 -70.7,-89 -49.6,-91.6 -26.6,-93.1 1,-93.7 28.6,-93.1 51.6,-91.6 72.7,-89 92.3,-85.4 110.3,-80.9 126.7,-75.4 141.4,-69 154.4,-61.7 165.6,-53.7 174.9,-44.8 182.2,-35.2 187.4,-24.9 190.6,-13.6Z"/>
<path fill="#86ff00" d="M190,0 189,13.2 185.9,23.9 180.7,33.7 173.6,42.7 164.5,51 153.6,58.5 140.8,65.3 126.3,71.3 110.2,76.4 92.4,80.6 73.1,83.9 52.2,86.3 29.2,87.8 1,88.3 -27.2,87.8 -50.2,86.3 -71.1,83.9 -90.4,80.6 -108.2,76.4 -124.3,71.3 -138.8,65.3 -151.6,58.5 -162.5,51 -171.6,42.7 -178.7,33.7 -183.9,23.9 -187,13.2 -188,0 -187,-13.6 -183.9,-24.6 -178.7,-34.7 -171.6,-44 -162.5,-52.6 -151.6,-60.3 -138.8,-67.3 -124.3,-73.5 -108.2,-78.7 -90.4,-83.1 -71.1,-86.5 -50.2,-89 -27.2,-90.5 1,-91 29.2,-90.5 52.2,-89 73.1,-86.5 92.4,-83.1 110.2,-78.7 126.3,-73.5 140.8,-67.3 153.6,-60.3 164.5,-52.6 173.6,-44 180.7,-34.7 185.9,-24.6 189,-13.6Z"/>
<path fill="#94ff00" d="M188.1,0 187.1,13 184.1,23.5 179,33 172.1,41.7 163.2,49.7 152.4,57 139.9,63.5 125.6,69.3 109.7,74.2 92.2,78.3 73.1,81.5 52.3,83.8 29.3,85.1 0.9,85.6 -27.6,85.1 -50.5,83.8 -71.3,81.5 -90.4,78.3 -107.9,74.2 -123.8,69.3 -138.1,63.5 -150.6,57 -161.4,49.7 -170.3,41.7 -177.3,33 -182.3,23.5 -185.4,13 -186.4,0 -185.4,-13.4 -182.3,-24.2 -177.3,-34 -170.3,-43 -161.4,-51.3 -150.6,-58.8 -138.1,-65.5 -123.8,-71.4 -107.9,-76.5 -90.4,-80.7 -71.3,-84 -50.5,-86.3 -27.6,-87.8 0.9,-88.2 29.3,-87.8 52.3,-86.3 73.1,-84 92.2,-80.7 109.7,-76.5 125.6,-71.4 139.9,-65.5 152.4,-58.8 163.2,-51.3 172.1,-43 179,-34 184.1,-24.2 187.1,-13.4Z"/>
<path fill="#a0ff00" d="M186.2,0 185.3,12.9 182.3,23.1 177.4,32.3 170.5,40.7 161.8,48.5 151.2,55.5 138.9,61.8 124.8,67.3 109.2,72 91.9,75.9 73,79 52.4,81.2 29.5,82.5 0.8,82.9 -28,82.5 -50.9,81.2 -71.5,79 -90.4,75.9 -107.7,72 -123.3,67.3 -137.4,61.8 -149.7,55.5 -160.3,48.5 -169,40.7 -175.9,32.3 -180.8,23.1 -183.8,12.9 -184.8,0 -183.8,-13.3 -180.8,-23.8 -175.9,-33.3 -169,-42 -160.3,-50 -149.7,-57.2 -137.4,-63.7 -123.3,-69.3 -107.7,-74.2 -90.4,-78.2 -71.5,-81.4 -50.9,-83.7 -28,-85 0.7,-85.5 29.5,-85 52.4,-83.7 73,-81.4 91.9,-78.2 109.2,-74.2 124.8,-69.3 138.9,-63.7 151.2,-57.2 161.8,-50 170.5,-42 177.4,-33.3 182.3,-23.8 185.3,-13.3Z"/>
<path fill="#aeff00" d="M184.4,0 183.4,12.7 180.5,22.6 175.7,31.6 168.9,39.7 160.4,47.2 150,53.9 137.9,60 124.1,65.2 108.6,69.8 91.6,73.5 72.9,76.5 52.5,78.6 29.7,79.8 0.6,80.3 -28.4,79.8 -51.2,78.6 -71.7,76.5 -90.3,73.5 -107.4,69.8 -122.8,65.2 -136.6,60 -148.7,53.9 -159.1,47.2 -167.7,39.7 -174.4,31.6 -179.2,22.6 -182.2,12.7 -183.1,0 -182.2,-13.1 -179.2,-23.3 -174.4,-32.6 -167.7,-41 -159.1,-48.6 -148.7,-55.6 -136.6,-61.8 -122.8,-67.3 -107.4,-71.9 -90.3,-75.8 -71.7,-78.8 -51.2,-81 -28.4,-82.3 0.6,-82.8 29.7,-82.3 52.5,-81 72.9,-78.8 91.6,-75.8 108.6,-71.9 124.1,-67.3 137.9,-61.8 150,-55.6 160.4,-48.6 168.9,-41 175.7,-32.6 180.5,-23.3 183.4,-13.1Z"/>
<path fill="#bdff00" d="M182.5,0 181.5,12.5 178.7,22.2 173.9,30.8 167.4,38.7 158.9,45.9 148.8,52.3 136.8,58.1 123.3,63.2 108.1,67.6 91.3,71.1 72.8,74 52.5,76 29.9,77.2 0.5,77.6 -28.9,77.2 -51.5,76 -71.8,74 -90.3,71.1 -107.1,67.6 -122.3,63.2 -135.8,58.1 -147.8,52.3 -157.9,45.9 -166.4,38.7 -172.9,30.8 -177.7,22.2 -180.5,12.5 -181.5,0 -180.5,-12.9 -177.7,-22.9 -172.9,-31.8 -166.4,-39.9 -157.9,-47.3 -147.8,-54 -135.8,-59.9 -122.3,-65.2 -107.1,-69.6 -90.3,-73.3 -71.8,-76.2 -51.5,-78.3 -28.9,-79.6 0.5,-80 29.9,-79.6 52.5,-78.3 72.8,-76.2 91.3,-73.3 108.1,-69.6 123.3,-65.2 136.8,-59.9 148.8,-54 158.9,-47.3 167.4,-39.9 173.9,-31.8 178.7,-22.9 181.5,-12.9Z"/>
<path fill="#d0ff00" d="M179.6,0 178.7,12.3 175.9,21.7 171.3,30 164.9,37.6 156.6,44.5 146.7,50.7 135.1,56.2 121.8,61.1 106.9,65.2 90.4,68.6 72.3,71.3 52.3,73.3 29.8,74.4 0.4,74.8 -29.1,74.4 -51.5,73.3 -71.5,71.3 -89.7,68.6 -106.1,65.2 -121,61.1 -134.3,56.2 -145.9,50.7 -155.9,44.5 -164.1,37.6 -170.5,30 -175.2,21.7 -177.9,12.3 -178.9,0 -177.9,-12.7 -175.2,-22.3 -170.5,-30.9 -164.1,-38.7 -155.9,-45.8 -145.9,-52.2 -134.3,-58 -121,-63 -106.1,-67.2 -89.7,-70.8 -71.5,-73.5 -51.5,-75.5 -29.1,-76.7 0.4,-77.1 29.8,-76.7 52.3,-75.5 72.3,-73.5 90.4,-70.8 106.9,-67.2 121.8,-63 135.1,-58 146.7,-52.2 156.6,-45.8 164.9,-38.7 171.3,-30.9 175.9,-22.3 178.7,-12.7Z"/>
<path fill="#e3ff00" d="M176.8,0 175.8,12.1 173.1,21.1 168.6,29.2 162.3,36.4 154.3,43 144.6,49 133.3,54.3 120.3,58.9 105.7,62.9 89.5,66.1 71.7,68.7 52,70.5 29.8,71.7 0.3,72 -29.3,71.7 -51.5,70.5 -71.2,68.7 -89,66.1 -105.2,62.9 -119.8,58.9 -132.8,54.3 -144.1,49 -153.8,43 -161.8,36.4 -168.1,29.2 -172.6,21.1 -175.3,12.1 -176.2,0 -175.3,-12.4 -172.6,-21.8 -168.1,-30.1 -161.8,-37.6 -153.8,-44.4 -144.1,-50.5 -132.8,-56 -119.8,-60.7 -105.2,-64.8 -89,-68.2 -71.2,-70.8 -51.5,-72.7 -29.3,-73.9 0.2,-74.2 29.8,-73.9 52,-72.7 71.7,-70.8 89.5,-68.2 105.7,-64.8 120.3,-60.7 133.3,-56 144.6,-50.5 154.3,-44.4 162.3,-37.6 168.6,-30.1 173.1,-21.8 175.8,-12.4Z"/>
<path fill="#f6ff00" d="M173.9,0 173,11.8 170.3,20.6 166,28.3 159.8,35.3 152,41.6 142.5,47.3 131.4,52.3 118.7,56.7 104.5,60.5 88.6,63.6 71.1,66.1 51.7,67.8 29.7,68.9 0.1,69.2 -29.5,68.9 -51.5,67.8 -70.9,66.1 -88.4,63.6 -104.2,60.5 -118.5,56.7 -131.2,52.3 -142.3,47.3 -151.8,41.6 -159.6,35.3 -165.7,28.3 -170.1,20.6 -172.7,11.8 -173.6,0 -172.7,-12.2 -170.1,-21.2 -165.7,-29.2 -159.6,-36.4 -151.8,-42.9 -142.3,-48.7 -131.2,-53.9 -118.5,-58.5 -104.2,-62.4 -88.4,-65.6 -70.9,-68.1 -51.5,-69.9 -29.5,-71 0.1,-71.4 29.7,-71 51.7,-69.9 71.1,-68.1 88.6,-65.6 104.5,-62.4 118.7,-58.5 131.4,-53.9 142.5,-48.7 152,-42.9 159.8,-36.4 166,-29.2 170.3,-21.2 173,-12.2Z"/>
<path fill="#fff900" d="M171,0 170.1,11.5 167.6,20 163.3,27.4 157.3,34.1 149.7,40.1 140.4,45.5 129.6,50.4 117.2,54.6 103.2,58.2 87.7,61.1 70.5,63.4 51.4,65.1 29.7,66.1 0,66.4 -29.7,66.1 -51.4,65.1 -70.5,63.4 -87.7,61.1 -103.2,58.2 -117.2,54.6 -129.6,50.4 -140.4,45.5 -149.7,40.1 -157.3,34.1 -163.3,27.4 -167.6,20 -170.1,11.5 -171,0 -170.1,-11.9 -167.6,-20.6 -163.3,-28.2 -157.3,-35.1 -149.7,-41.3 -140.4,-46.9 -129.6,-51.9 -117.2,-56.3 -103.2,-60 -87.7,-63 -70.5,-65.4 -51.4,-67.1 -29.7,-68.2 0,-68.5 29.7,-68.2 51.4,-67.1 70.5,-65.4 87.7,-63 103.2,-60 117.2,-56.3 129.6,-51.9 140.4,-46.9 149.7,-41.3 157.3,-35.1 163.3,-28.2 167.6,-20.6 170.1,-11.9Z"/>
<path fill="#ffee00" d="M167.5,0 166.7,11.2 164.2,19.4 159.9,26.7 154,33.2 146.5,39.1 137.4,44.4 126.7,49.1 114.5,53.3 100.7,56.8 85.4,59.7 68.5,62 49.8,63.6 28.4,64.6 -0.5,64.9 -29.5,64.6 -50.8,63.6 -69.6,62 -86.5,59.7 -101.8,56.8 -115.6,53.3 -127.8,49.1 -138.5,44.4 -147.6,39.1 -155.1,33.2 -161,26.7 -165.2,19.4 -167.8,11.2 -168.6,0 -167.8,-11.5 -165.2,-20 -161,-27.5 -155.1,-34.2 -147.6,-40.3 -138.5,-45.8 -127.8,-50.7 -115.6,-54.9 -101.8,-58.5 -86.5,-61.5 -69.6,-63.9 -50.8,-65.6 -29.5,-66.6 -0.5,-66.9 28.4,-66.6 49.8,-65.6 68.5,-63.9 85.4,-61.5 100.7,-58.5 114.5,-54.9 126.7,-50.7 137.4,-45.8 146.5,-40.3 154,-34.2 159.9,-27.5 164.2,-20 166.7,-11.5Z"/>
<path fill="#ffe200" d="M164.1,0 163.3,10.9 160.7,18.9 156.6,25.9 150.8,32.3 143.4,38.1 134.4,43.3 123.8,47.9 111.8,52 98.2,55.4 83.2,58.3 66.6,60.5 48.1,62.1 27.2,63 -1.1,63.4 -29.4,63 -50.3,62.1 -68.7,60.5 -85.4,58.3 -100.4,55.4 -114,52 -126,47.9 -136.6,43.3 -145.5,38.1 -153,32.3 -158.8,25.9 -162.9,18.9 -165.4,10.9 -166.3,0 -165.4,-11.2 -162.9,-19.5 -158.8,-26.7 -153,-33.3 -145.5,-39.3 -136.6,-44.6 -126,-49.4 -114,-53.6 -100.4,-57.1 -85.4,-60.1 -68.7,-62.3 -50.3,-64 -29.4,-65 -1.1,-65.3 27.2,-65 48.1,-64 66.6,-62.3 83.2,-60.1 98.2,-57.1 111.8,-53.6 123.8,-49.4 134.4,-44.6 143.4,-39.3 150.8,-33.3 156.6,-26.7 160.7,-19.5 163.3,-11.2Z"/>
<path fill="#ffd700" d="M160.6,0 159.8,10.5 157.3,18.3 153.2,25.2 147.5,31.5 140.2,37.1 131.3,42.2 121,46.7 109.1,50.7 95.8,54 81,56.8 64.6,59 46.5,60.6 26,61.5 -1.6,61.8 -29.2,61.5 -49.8,60.6 -67.9,59 -84.2,56.8 -99,54 -112.4,50.7 -124.2,46.7 -134.6,42.2 -143.5,37.1 -150.8,31.5 -156.5,25.2 -160.6,18.3 -163.1,10.5 -163.9,0 -163.1,-10.8 -160.6,-18.9 -156.5,-26 -150.8,-32.4 -143.5,-38.3 -134.6,-43.5 -124.2,-48.1 -112.4,-52.2 -99,-55.7 -84.2,-58.6 -67.9,-60.8 -49.8,-62.4 -29.2,-63.4 -1.6,-63.7 26,-63.4 46.5,-62.4 64.6,-60.8 81,-58.6 95.8,-55.7 109.1,-52.2 121,-48.1 131.3,-43.5 140.2,-38.3 147.5,-32.4 153.2,-26 157.3,-18.9 159.8,-10.8Z"/>
<path fill="#ffcb00" d="M157.2,0 156.4,10.2 153.9,17.8 149.9,24.5 144.2,30.6 137,36.1 128.3,41.1 118.1,45.5 106.4,49.4 93.3,52.7 78.7,55.4 62.7,57.5 44.9,59 24.8,60 -2.2,60.3 -29.1,60 -49.2,59 -67,57.5 -83.1,55.4 -97.7,52.7 -110.8,49.4 -122.5,45.5 -132.7,41.1 -141.4,36.1 -148.6,30.6 -154.2,24.5 -158.3,17.8 -160.7,10.2 -161.5,0 -160.7,-10.5 -158.3,-18.3 -154.2,-25.3 -148.6,-31.5 -141.4,-37.2 -132.7,-42.3 -122.5,-46.9 -110.8,-50.9 -97.7,-54.3 -83.1,-57.1 -67,-59.3 -49.2,-60.9 -29.1,-61.8 -2.2,-62.1 24.8,-61.8 44.9,-60.9 62.7,-59.3 78.7,-57.1 93.3,-54.3 106.4,-50.9 118.1,-46.9 128.3,-42.3 137,-37.2 144.2,-31.5 149.9,-25.3 153.9,-18.3 156.4,-10.5Z"/>
<path fill="#ffc000" d="M153.7,0 152.9,9.9 150.5,17.3 146.5,23.8 141,29.7 133.9,35.1 125.3,40 115.2,44.3 103.7,48.1 90.8,51.3 76.5,53.9 60.7,56 43.3,57.5 23.5,58.4 -2.7,58.7 -29,58.4 -48.7,57.5 -66.2,56 -82,53.9 -96.3,51.3 -109.2,48.1 -120.7,44.3 -130.8,40 -139.3,35.1 -146.4,29.7 -152,23.8 -156,17.3 -158.4,9.9 -159.2,0 -158.4,-10.2 -156,-17.8 -152,-24.6 -146.4,-30.7 -139.3,-36.2 -130.8,-41.2 -120.7,-45.6 -109.2,-49.5 -96.3,-52.9 -82,-55.6 -66.2,-57.8 -48.7,-59.3 -29,-60.2 -2.7,-60.5 23.5,-60.2 43.3,-59.3 60.7,-57.8 76.5,-55.6 90.8,-52.9 103.7,-49.5 115.2,-45.6 125.3,-41.2 133.9,-36.2 141,-30.7 146.5,-24.6 150.5,-17.8 152.9,-10.2Z"/>
<path fill="#ffb400" d="M150.3,0 149.5,9.5 147.1,16.7 143.2,23.1 137.7,28.9 130.7,34.1 122.3,38.9 112.4,43.1 101.1,46.8 88.4,49.9 74.3,52.5 58.8,54.5 41.7,56 22.3,56.9 -3.3,57.2 -28.9,56.9 -48.2,56 -65.3,54.5 -80.8,52.5 -94.9,49.9 -107.6,46.8 -118.9,43.1 -128.8,38.9 -137.3,34.1 -144.3,28.9 -149.7,23.1 -153.7,16.7 -156,9.5 -156.8,0 -156,-9.8 -153.7,-17.2 -149.7,-23.8 -144.3,-29.8 -137.3,-35.2 -128.8,-40.1 -118.9,-44.4 -107.6,-48.2 -94.9,-51.5 -80.8,-54.1 -65.3,-56.2 -48.2,-57.7 -28.9,-58.7 -3.3,-59 22.3,-58.7 41.7,-57.7 58.8,-56.2 74.3,-54.1 88.4,-51.5 101.1,-48.2 112.4,-44.4 122.3,-40.1 130.7,-35.2 137.7,-29.8 143.2,-23.8 147.1,-17.2 149.5,-9.8Z"/>
<path fill="#ffa800" d="M146.8,0 146,9.2 143.7,16.2 139.8,22.4 134.5,28 127.6,33.1 119.3,37.8 109.5,41.9 98.4,45.5 85.9,48.5 72.1,51.1 56.9,53.1 40.1,54.5 21.1,55.4 -3.8,55.6 -28.8,55.4 -47.7,54.5 -64.5,53.1 -79.7,51.1 -93.6,48.5 -106,45.5 -117.2,41.9 -126.9,37.8 -135.2,33.1 -142.1,28 -147.5,22.4 -151.3,16.2 -153.7,9.2 -154.5,0 -153.7,-9.5 -151.3,-16.7 -147.5,-23.1 -142.1,-28.9 -135.2,-34.2 -126.9,-38.9 -117.2,-43.2 -106,-46.9 -93.6,-50 -79.7,-52.7 -64.5,-54.7 -47.7,-56.2 -28.8,-57.1 -3.8,-57.4 21.1,-57.1 40.1,-56.2 56.9,-54.7 72.1,-52.7 85.9,-50 98.4,-46.9 109.5,-43.2 119.3,-38.9 127.6,-34.2 134.5,-28.9 139.8,-23.1 143.7,-16.7 146,-9.5Z"/>
<path fill="#ff9d00" d="M143.4,0 142.6,8.9 140.3,15.7 136.5,21.7 131.2,27.2 124.4,32.2 116.2,36.7 106.7,40.7 95.7,44.2 83.5,47.2 69.9,49.6 54.9,51.6 38.5,53 20,53.8 -4.4,54.1 -28.7,53.8 -47.2,53 -63.7,51.6 -78.6,49.6 -92.2,47.2 -104.5,44.2 -115.4,40.7 -125,36.7 -133.2,32.2 -139.9,27.2 -145.2,21.7 -149,15.7 -151.3,8.9 -152.1,0 -151.3,-9.2 -149,-16.2 -145.2,-22.4 -139.9,-28 -133.2,-33.2 -125,-37.8 -115.4,-41.9 -104.5,-45.5 -92.2,-48.6 -78.6,-51.2 -63.7,-53.2 -47.2,-54.6 -28.7,-55.5 -4.4,-55.8 20,-55.5 38.5,-54.6 54.9,-53.2 69.9,-51.2 83.5,-48.6 95.7,-45.5 106.7,-41.9 116.2,-37.8 124.4,-33.2 131.2,-28 136.5,-22.4 140.3,-16.2 142.6,-9.2Z"/>
<path fill="#ff9100" d="M139.9,0 139.2,8.6 136.9,15.2 133.2,21 127.9,26.3 121.3,31.2 113.2,35.6 103.8,39.5 93.1,42.9 81,45.8 67.7,48.2 53,50.1 36.9,51.5 18.8,52.3 -4.9,52.6 -28.6,52.3 -46.7,51.5 -62.8,50.1 -77.5,48.2 -90.8,45.8 -102.9,42.9 -113.6,39.5 -123.1,35.6 -131.1,31.2 -137.8,26.3 -143,21 -146.7,15.2 -149,8.6 -149.7,0 -149,-8.9 -146.7,-15.6 -143,-21.7 -137.8,-27.2 -131.1,-32.2 -123.1,-36.7 -113.6,-40.7 -102.9,-44.2 -90.8,-47.2 -77.5,-49.7 -62.8,-51.7 -46.7,-53.1 -28.6,-53.9 -4.9,-54.2 18.8,-53.9 36.9,-53.1 53,-51.7 67.7,-49.7 81,-47.2 93.1,-44.2 103.8,-40.7 113.2,-36.7 121.3,-32.2 127.9,-27.2 133.2,-21.7 136.9,-15.6 139.2,-8.9Z"/>
<path fill="#ff8600" d="M136.5,0 135.7,8.3 133.5,14.7 129.8,20.3 124.7,25.5 118.1,30.2 110.2,34.5 101,38.3 90.4,41.6 78.6,44.4 65.5,46.8 51.1,48.6 35.3,49.9 17.6,50.7 -5.5,51 -28.5,50.7 -46.2,49.9 -62,48.6 -76.4,46.8 -89.5,44.4 -101.3,41.6 -111.9,38.3 -121.1,34.5 -129.1,30.2 -135.6,25.5 -140.7,20.3 -144.4,14.7 -146.6,8.3 -147.4,0 -146.6,-8.5 -144.4,-15.1 -140.7,-21 -135.6,-26.3 -129.1,-31.1 -121.1,-35.5 -111.9,-39.4 -101.3,-42.9 -89.5,-45.8 -76.4,-48.2 -62,-50.1 -46.2,-51.5 -28.5,-52.3 -5.5,-52.6 17.6,-52.3 35.3,-51.5 51.1,-50.1 65.5,-48.2 78.6,-45.8 90.4,-42.9 101,-39.4 110.2,-35.5 118.1,-31.1 124.7,-26.3 129.8,-21 133.5,-15.1 135.7,-8.5Z"/>
<path fill="#ff7c00" d="M133,0 132.3,8 130.1,14.1 126.5,19.7 121.4,24.7 115,29.2 107.2,33.4 98.1,37.1 87.8,40.3 76.2,43.1 63.3,45.4 49.2,47.1 33.7,48.4 16.4,49.2 -6,49.5 -28.4,49.2 -45.7,48.4 -61.2,47.1 -75.3,45.4 -88.2,43.1 -99.8,40.3 -110.1,37.1 -119.2,33.4 -127,29.2 -133.4,24.7 -138.5,19.7 -142.1,14.1 -144.3,8 -145,0 -144.3,-8.2 -142.1,-14.6 -138.5,-20.3 -133.4,-25.4 -127,-30.1 -119.2,-34.4 -110.1,-38.2 -99.8,-41.5 -88.2,-44.4 -75.3,-46.8 -61.2,-48.6 -45.7,-49.9 -28.4,-50.7 -6,-51 16.4,-50.7 33.7,-49.9 49.2,-48.6 63.3,-46.8 76.2,-44.4 87.8,-41.5 98.1,-38.2 107.2,-34.4 115,-30.1 121.4,-25.4 126.5,-20.3 130.1,-14.6 132.3,-8.2Z"/>
<path fill="#ff7500" d="M130.1,0 129.3,7.7 127.2,13.8 123.6,19.2 118.7,24.1 112.4,28.6 104.7,32.6 95.8,36.2 85.6,39.4 74.2,42.1 61.6,44.4 47.8,46.2 32.7,47.4 15.8,48.2 -5.9,48.4 -27.7,48.2 -44.6,47.4 -59.7,46.2 -73.5,44.4 -86.1,42.1 -97.5,39.4 -107.7,36.2 -116.6,32.6 -124.3,28.6 -130.6,24.1 -135.5,19.2 -139.1,13.8 -141.2,7.7 -141.9,0 -141.2,-8 -139.1,-14.2 -135.5,-19.7 -130.6,-24.8 -124.3,-29.4 -116.6,-33.6 -107.7,-37.4 -97.5,-40.6 -86.1,-43.4 -73.5,-45.8 -59.7,-47.6 -44.6,-48.9 -27.7,-49.7 -5.9,-49.9 15.8,-49.7 32.7,-48.9 47.8,-47.6 61.6,-45.8 74.2,-43.4 85.6,-40.6 95.8,-37.4 104.7,-33.6 112.4,-29.4 118.7,-24.8 123.6,-19.7 127.2,-14.2 129.3,-8Z"/>
<path fill="#ff6d00" d="M127.1,0 126.4,7.5 124.3,13.4 120.8,18.7 115.9,23.5 109.7,27.9 102.2,31.9 93.5,35.4 83.5,38.5 72.3,41.2 60,43.4 46.5,45.2 31.7,46.4 15.2,47.2 -5.9,47.4 -26.9,47.2 -43.4,46.4 -58.2,45.2 -71.7,43.4 -84.1,41.2 -95.3,38.5 -105.2,35.4 -114,31.9 -121.5,27.9 -127.7,23.5 -132.6,18.7 -136.1,13.4 -138.2,7.5 -138.9,0 -138.2,-7.7 -136.1,-13.8 -132.6,-19.2 -127.7,-24.2 -121.5,-28.7 -114,-32.8 -105.2,-36.5 -95.3,-39.7 -84.1,-42.5 -71.7,-44.8 -58.2,-46.6 -43.4,-47.8 -26.9,-48.6 -5.9,-48.9 15.2,-48.6 31.7,-47.8 46.5,-46.6 60,-44.8 72.3,-42.5 83.5,-39.7 93.5,-36.5 102.2,-32.8 109.7,-28.7 115.9,-24.2 120.8,-19.2 124.3,-13.8 126.4,-7.7Z"/>
<path fill="#ff6600" d="M124.2,0 123.5,7.3 121.4,13 118,18.2 113.2,22.9 107.1,27.2 99.7,31.1 91.1,34.6 81.4,37.7 70.4,40.3 58.3,42.5 45.1,44.2 30.6,45.4 14.6,46.1 -5.8,46.4 -26.2,46.1 -42.3,45.4 -56.8,44.2 -70,42.5 -82.1,40.3 -93,37.7 -102.8,34.6 -111.4,31.1 -118.8,27.2 -124.8,22.9 -129.6,18.2 -133.1,13 -135.1,7.3 -135.8,0 -135.1,-7.5 -133.1,-13.4 -129.6,-18.7 -124.8,-23.6 -118.8,-28 -111.4,-32.1 -102.8,-35.7 -93,-38.8 -82.1,-41.5 -70,-43.8 -56.8,-45.5 -42.3,-46.8 -26.2,-47.6 -5.8,-47.8 14.6,-47.6 30.6,-46.8 45.1,-45.5 58.3,-43.8 70.4,-41.5 81.4,-38.8 91.1,-35.7 99.7,-32.1 107.1,-28 113.2,-23.6 118,-18.7 121.4,-13.4 123.5,-7.5Z"/>
<path fill="#ff5e00" d="M121.2,0 120.6,7.1 118.5,12.6 115.2,17.7 110.5,22.3 104.5,26.5 97.3,30.4 88.8,33.8 79.2,36.8 68.5,39.4 56.7,41.5 43.8,43.2 29.6,44.4 14,45.1 -5.8,45.4 -25.5,45.1 -41.2,44.4 -55.3,43.2 -68.2,41.5 -80,39.4 -90.8,36.8 -100.4,33.8 -108.8,30.4 -116,26.5 -122,22.3 -126.7,17.7 -130.1,12.6 -132.1,7.1 -132.8,0 -132.1,-7.3 -130.1,-13 -126.7,-18.2 -122,-23 -116,-27.4 -108.8,-31.3 -100.4,-34.8 -90.8,-37.9 -80,-40.6 -68.2,-42.8 -55.3,-44.5 -41.2,-45.8 -25.5,-46.5 -5.8,-46.8 14,-46.5 29.6,-45.8 43.8,-44.5 56.7,-42.8 68.5,-40.6 79.2,-37.9 88.8,-34.8 97.3,-31.3 104.5,-27.4 110.5,-23 115.2,-18.2 118.5,-13 120.6,-7.3Z"/>
<path fill="#ff5700" d="M118.3,0 117.6,6.8 115.6,12.3 112.3,17.2 107.7,21.7 101.9,25.9 94.8,29.6 86.5,33 77.1,35.9 66.6,38.5 55.1,40.6 42.4,42.2 28.6,43.4 13.4,44.1 -5.7,44.3 -24.8,44.1 -40.1,43.4 -53.8,42.2 -66.5,40.6 -78,38.5 -88.5,35.9 -97.9,33 -106.2,29.6 -113.3,25.9 -119.1,21.7 -123.7,17.2 -127,12.3 -129,6.8 -129.7,0 -129,-7 -127,-12.7 -123.7,-17.7 -119.1,-22.4 -113.3,-26.7 -106.2,-30.5 -97.9,-34 -88.5,-37 -78,-39.7 -66.5,-41.8 -53.8,-43.5 -40.1,-44.7 -24.8,-45.5 -5.7,-45.7 13.4,-45.5 28.6,-44.7 42.4,-43.5 55.1,-41.8 66.6,-39.7 77.1,-37 86.5,-34 94.8,-30.5 101.9,-26.7 107.7,-22.4 112.3,-17.7 115.6,-12.7 117.6,-7Z"/>
<path fill="#ff4f00" d="M115.4,0 114.7,6.6 112.7,11.9 109.5,16.7 105,21.1 99.2,25.2 92.3,28.9 84.2,32.2 75,35.1 64.7,37.5 53.4,39.6 41.1,41.2 27.7,42.4 12.8,43.1 -5.6,43.3 -24.1,43.1 -38.9,42.4 -52.4,41.2 -64.7,39.6 -76,37.5 -86.3,35.1 -95.5,32.2 -103.6,28.9 -110.5,25.2 -116.3,21.1 -120.8,16.7 -124,11.9 -126,6.6 -126.6,0 -126,-6.8 -124,-12.3 -120.8,-17.2 -116.3,-21.8 -110.5,-26 -103.6,-29.8 -95.5,-33.2 -86.3,-36.1 -76,-38.7 -64.7,-40.8 -52.4,-42.5 -38.9,-43.7 -24.1,-44.4 -5.6,-44.6 12.8,-44.4 27.7,-43.7 41.1,-42.5 53.4,-40.8 64.7,-38.7 75,-36.1 84.2,-33.2 92.3,-29.8 99.2,-26 105,-21.8 109.5,-17.2 112.7,-12.3 114.7,-6.8Z"/>
<path fill="#ff4800" d="M112.4,0 111.8,6.4 109.9,11.6 106.7,16.3 102.3,20.6 96.6,24.5 89.8,28.1 81.9,31.4 72.9,34.2 62.9,36.6 51.8,38.6 39.8,40.2 26.7,41.4 12.2,42.1 -5.6,42.3 -23.4,42.1 -37.9,41.4 -51,40.2 -63,38.6 -74,36.6 -84.1,34.2 -93.1,31.4 -101,28.1 -107.8,24.5 -113.4,20.6 -117.9,16.3 -121,11.6 -122.9,6.4 -123.6,0 -122.9,-6.6 -121,-11.9 -117.9,-16.8 -113.4,-21.2 -107.8,-25.3 -101,-29 -93.1,-32.3 -84.1,-35.2 -74,-37.8 -63,-39.8 -51,-41.5 -37.9,-42.6 -23.4,-43.4 -5.6,-43.6 12.2,-43.4 26.7,-42.6 39.8,-41.5 51.8,-39.8 62.9,-37.8 72.9,-35.2 81.9,-32.3 89.8,-29 96.6,-25.3 102.3,-21.2 106.7,-16.8 109.9,-11.9 111.8,-6.6Z"/>
<path fill="#ff4000" d="M109.5,0 108.8,6.2 107,11.2 103.9,15.8 99.5,20 94,23.9 87.4,27.4 79.6,30.5 70.8,33.3 61,35.7 50.2,37.7 38.5,39.2 25.7,40.4 11.7,41 -5.5,41.3 -22.7,41 -36.8,40.4 -49.5,39.2 -61.3,37.7 -72.1,35.7 -81.9,33.3 -90.7,30.5 -98.4,27.4 -105.1,23.9 -110.6,20 -114.9,15.8 -118,11.2 -119.9,6.2 -120.5,0 -119.9,-6.4 -118,-11.6 -114.9,-16.3 -110.6,-20.6 -105.1,-24.6 -98.4,-28.2 -90.7,-31.5 -81.9,-34.4 -72.1,-36.8 -61.3,-38.9 -49.5,-40.5 -36.8,-41.6 -22.7,-42.3 -5.5,-42.5 11.7,-42.3 25.7,-41.6 38.5,-40.5 50.2,-38.9 61,-36.8 70.8,-34.4 79.6,-31.5 87.4,-28.2 94,-24.6 99.5,-20.6 103.9,-16.3 107,-11.6 108.8,-6.4Z"/>
<path fill="#ff3800" d="M106.5,0 105.9,6 104.1,10.9 101,15.3 96.8,19.4 91.4,23.2 84.9,26.6 77.3,29.7 68.7,32.5 59.1,34.8 48.6,36.7 37.2,38.3 24.7,39.3 11.1,40 -5.5,40.2 -22.1,40 -35.7,39.3 -48.1,38.3 -59.6,36.7 -70.1,34.8 -79.7,32.5 -88.3,29.7 -95.8,26.6 -102.3,23.2 -107.7,19.4 -112,15.3 -115,10.9 -116.9,6 -117.5,0 -116.9,-6.1 -115,-11.2 -112,-15.8 -107.7,-20 -102.3,-23.9 -95.8,-27.5 -88.3,-30.7 -79.7,-33.5 -70.1,-35.9 -59.6,-37.9 -48.1,-39.4 -35.7,-40.6 -22.1,-41.2 -5.5,-41.5 11.1,-41.2 24.7,-40.6 37.2,-39.4 48.6,-37.9 59.1,-35.9 68.7,-33.5 77.3,-30.7 84.9,-27.5 91.4,-23.9 96.8,-20 101,-15.8 104.1,-11.2 105.9,-6.1Z"/>
<path fill="#ff3100" d="M103.6,0 103,5.8 101.2,10.5 98.2,14.8 94.1,18.9 88.8,22.5 82.4,25.9 75,28.9 66.6,31.6 57.3,33.9 47,35.8 35.9,37.3 23.8,38.3 10.6,39 -5.4,39.2 -21.4,39 -34.6,38.3 -46.7,37.3 -57.9,35.8 -68.1,33.9 -77.5,31.6 -85.9,28.9 -93.3,25.9 -99.6,22.5 -104.9,18.9 -109,14.8 -112,10.5 -113.8,5.8 -114.4,0 -113.8,-5.9 -112,-10.8 -109,-15.3 -104.9,-19.4 -99.6,-23.2 -93.3,-26.7 -85.9,-29.8 -77.5,-32.6 -68.1,-34.9 -57.9,-36.9 -46.7,-38.4 -34.6,-39.5 -21.4,-40.2 -5.4,-40.4 10.6,-40.2 23.8,-39.5 35.9,-38.4 47,-36.9 57.3,-34.9 66.6,-32.6 75,-29.8 82.4,-26.7 88.8,-23.2 94.1,-19.4 98.2,-15.3 101.2,-10.8 103,-5.9Z"/>
<path fill="#ff2900" d="M100.6,0 100.1,5.5 98.3,10.2 95.4,14.4 91.3,18.3 86.2,21.9 80,25.2 72.8,28.1 64.6,30.7 55.4,33 45.5,34.8 34.6,36.3 22.9,37.3 10.1,38 -5.4,38.2 -20.8,38 -33.6,37.3 -45.3,36.3 -56.2,34.8 -66.2,33 -75.3,30.7 -83.5,28.1 -90.7,25.2 -96.9,21.9 -102,18.3 -106.1,14.4 -109,10.2 -110.8,5.5 -111.4,0 -110.8,-5.7 -109,-10.5 -106.1,-14.8 -102,-18.9 -96.9,-22.6 -90.7,-26 -83.5,-29 -75.3,-31.7 -66.2,-34 -56.2,-35.9 -45.3,-37.4 -33.6,-38.5 -20.8,-39.1 -5.4,-39.4 10.1,-39.1 22.9,-38.5 34.6,-37.4 45.5,-35.9 55.4,-34 64.6,-31.7 72.8,-29 80,-26 86.2,-22.6 91.3,-18.9 95.4,-14.8 98.3,-10.5 100.1,-5.7Z"/>
<path fill="#ff2200" d="M97.7,0 97.1,5.3 95.4,9.8 92.6,13.9 88.6,17.7 83.6,21.2 77.5,24.4 70.5,27.3 62.5,29.9 53.6,32.1 43.9,33.9 33.3,35.3 21.9,36.3 9.5,36.9 -5.3,37.1 -20.1,36.9 -32.5,36.3 -43.9,35.3 -54.5,33.9 -64.2,32.1 -73.1,29.9 -81.1,27.3 -88.1,24.4 -94.2,21.2 -99.2,17.7 -103.2,13.9 -106,9.8 -107.7,5.3 -108.3,0 -107.7,-5.5 -106,-10.1 -103.2,-14.4 -99.2,-18.3 -94.2,-21.9 -88.1,-25.2 -81.1,-28.2 -73.1,-30.8 -64.2,-33 -54.5,-34.9 -43.9,-36.4 -32.5,-37.4 -20.1,-38.1 -5.3,-38.3 9.5,-38.1 21.9,-37.4 33.3,-36.4 43.9,-34.9 53.6,-33 62.5,-30.8 70.5,-28.2 77.5,-25.2 83.6,-21.9 88.6,-18.3 92.6,-14.4 95.4,-10.1 97.1,-5.5Z"/>
<path fill="#ff1a00" d="M94.8,0 94.2,5.1 92.5,9.5 89.8,13.5 85.9,17.2 81,20.6 75.1,23.7 68.2,26.5 60.4,29 51.8,31.1 42.3,32.9 32.1,34.3 21,35.3 9,35.9 -5.2,36.1 -19.5,35.9 -31.5,35.3 -42.5,34.3 -52.8,32.9 -62.3,31.1 -70.9,29 -78.7,26.5 -85.6,23.7 -91.5,20.6 -96.4,17.2 -100.2,13.5 -103,9.5 -104.7,5.1 -105.2,0 -104.7,-5.3 -103,-9.8 -100.2,-13.9 -96.4,-17.7 -91.5,-21.2 -85.6,-24.5 -78.7,-27.4 -70.9,-29.9 -62.3,-32.1 -52.8,-33.9 -42.5,-35.4 -31.5,-36.4 -19.5,-37 -5.2,-37.2 9,-37 21,-36.4 32.1,-35.4 42.3,-33.9 51.8,-32.1 60.4,-29.9 68.2,-27.4 75.1,-24.5 81,-21.2 85.9,-17.7 89.8,-13.9 92.5,-9.8 94.2,-5.3Z"/>
<path fill="#ff1300" d="M91.8,0 91.3,4.9 89.6,9.1 86.9,13 83.2,16.6 78.4,20 72.7,23 66,25.7 58.4,28.2 50,30.2 40.8,32 30.8,33.3 20.1,34.3 8.5,34.9 -5.2,35.1 -18.9,34.9 -30.5,34.3 -41.2,33.3 -51.1,32 -60.3,30.2 -68.7,28.2 -76.3,25.7 -83,23 -88.8,20 -93.5,16.6 -97.3,13 -100,9.1 -101.6,4.9 -102.2,0 -101.6,-5.1 -100,-9.4 -97.3,-13.4 -93.5,-17.1 -88.8,-20.6 -83,-23.7 -76.3,-26.5 -68.7,-29 -60.3,-31.2 -51.1,-33 -41.2,-34.4 -30.5,-35.4 -18.9,-36 -5.2,-36.2 8.5,-36 20.1,-35.4 30.8,-34.4 40.8,-33 50,-31.2 58.4,-29 66,-26.5 72.7,-23.7 78.4,-20.6 83.2,-17.1 86.9,-13.4 89.6,-9.4 91.3,-5.1Z"/>
<path fill="#ff0b00" d="M88.9,0 88.4,4.8 86.8,8.8 84.1,12.6 80.5,16.1 75.8,19.3 70.2,22.3 63.7,24.9 56.3,27.3 48.2,29.3 39.2,31 29.6,32.3 19.2,33.3 8,33.9 -5.1,34.1 -18.2,33.9 -29.4,33.3 -39.8,32.3 -49.5,31 -58.4,29.3 -66.6,27.3 -73.9,24.9 -80.5,22.3 -86.1,19.3 -90.7,16.1 -94.4,12.6 -97,8.8 -98.6,4.8 -99.1,0 -98.6,-4.9 -97,-9.1 -94.4,-13 -90.7,-16.6 -86.1,-19.9 -80.5,-23 -73.9,-25.7 -66.6,-28.1 -58.4,-30.2 -49.5,-32 -39.8,-33.3 -29.4,-34.3 -18.2,-34.9 -5.1,-35.1 8,-34.9 19.2,-34.3 29.6,-33.3 39.2,-32 48.2,-30.2 56.3,-28.1 63.7,-25.7 70.2,-23 75.8,-19.9 80.5,-16.6 84.1,-13 86.8,-9.1 88.4,-4.9Z"/>
<path fill="#ff0400" d="M85.9,0 85.4,4.6 83.9,8.5 81.3,12.1 77.8,15.5 73.2,18.7 67.8,21.6 61.5,24.1 54.3,26.4 46.4,28.4 37.7,30.1 28.4,31.4 18.3,32.3 7.5,32.8 -5.1,33 -17.6,32.8 -28.4,32.3 -38.5,31.4 -47.8,30.1 -56.5,28.4 -64.4,26.4 -71.6,24.1 -77.9,21.6 -83.3,18.7 -87.9,15.5 -91.4,12.1 -94,8.5 -95.5,4.6 -96.1,0 -95.5,-4.7 -94,-8.8 -91.4,-12.5 -87.9,-16 -83.3,-19.2 -77.9,-22.2 -71.6,-24.9 -64.4,-27.3 -56.5,-29.3 -47.8,-31 -38.5,-32.3 -28.4,-33.3 -17.6,-33.9 -5.1,-34.1 7.5,-33.9 18.3,-33.3 28.4,-32.3 37.7,-31 46.4,-29.3 54.3,-27.3 61.5,-24.9 67.8,-22.2 73.2,-19.2 77.8,-16 81.3,-12.5 83.9,-8.8 85.4,-4.7Z"/>
<path fill="#ff0002" d="M83,0 82.5,4.4 81,8.2 78.5,11.7 75,15 70.6,18 65.4,20.8 59.2,23.4 52.3,25.6 44.6,27.5 36.2,29.1 27.1,30.4 17.4,31.3 7,31.8 -5,32 -17,31.8 -27.4,31.3 -37.1,30.4 -46.2,29.1 -54.6,27.5 -62.3,25.6 -69.2,23.4 -75.4,20.8 -80.6,18 -85,15 -88.5,11.7 -91,8.2 -92.5,4.4 -93,0 -92.5,-4.5 -91,-8.4 -88.5,-12.1 -85,-15.4 -80.6,-18.6 -75.4,-21.5 -69.2,-24.1 -62.3,-26.4 -54.6,-28.4 -46.2,-30 -37.1,-31.3 -27.4,-32.2 -17,-32.8 -5,-33 7,-32.8 17.4,-32.2 27.1,-31.3 36.2,-30 44.6,-28.4 52.3,-26.4 59.2,-24.1 65.4,-21.5 70.6,-18.6 75,-15.4 78.5,-12.1 81,-8.4 82.5,-4.5Z"/>
<path fill="#ff0006" d="M80.5,0 80,4.2 78.6,7.9 76.1,11.3 72.8,14.5 68.5,17.4 63.4,20.1 57.5,22.6 50.7,24.7 43.3,26.6 35.2,28.1 26.4,29.4 17,30.2 7,30.8 -4.6,30.9 -16.2,30.8 -26.2,30.2 -35.6,29.4 -44.4,28.1 -52.5,26.6 -59.9,24.7 -66.7,22.6 -72.6,20.1 -77.7,17.4 -82,14.5 -85.3,11.3 -87.8,7.9 -89.2,4.2 -89.7,0 -89.2,-4.3 -87.8,-8.1 -85.3,-11.6 -82,-14.9 -77.7,-17.9 -72.6,-20.7 -66.7,-23.3 -59.9,-25.5 -52.5,-27.4 -44.4,-29 -35.6,-30.3 -26.2,-31.2 -16.2,-31.7 -4.6,-31.9 7,-31.7 17,-31.2 26.4,-30.3 35.2,-29 43.3,-27.4 50.7,-25.5 57.5,-23.3 63.4,-20.7 68.5,-17.9 72.8,-14.9 76.1,-11.6 78.6,-8.1 80,-4.3Z"/>
<path fill="#ff000a" d="M78,0 77.5,4 76.1,7.6 73.8,10.9 70.6,13.9 66.4,16.8 61.5,19.4 55.7,21.8 49.2,23.9 42,25.7 34.2,27.2 25.7,28.3 16.6,29.2 6.9,29.7 -4.2,29.9 -15.3,29.7 -25,29.2 -34.1,28.3 -42.5,27.2 -50.4,25.7 -57.6,23.9 -64.1,21.8 -69.8,19.4 -74.8,16.8 -78.9,13.9 -82.2,10.9 -84.5,7.6 -85.9,4 -86.4,0 -85.9,-4.2 -84.5,-7.8 -82.2,-11.2 -78.9,-14.4 -74.8,-17.3 -69.8,-20 -64.1,-22.4 -57.6,-24.6 -50.4,-26.4 -42.5,-28 -34.1,-29.2 -25,-30.1 -15.3,-30.6 -4.2,-30.8 6.9,-30.6 16.6,-30.1 25.7,-29.2 34.2,-28 42,-26.4 49.2,-24.6 55.7,-22.4 61.5,-20 66.4,-17.3 70.6,-14.4 73.8,-11.2 76.1,-7.8 77.5,-4.2Z"/>
<path fill="#ff000e" d="M75.5,0 75.1,3.9 73.7,7.3 71.4,10.4 68.3,13.4 64.3,16.2 59.5,18.7 54,21 47.7,23 40.7,24.7 33.1,26.2 25,27.3 16.2,28.1 6.9,28.6 -3.8,28.8 -14.5,28.6 -23.8,28.1 -32.5,27.3 -40.7,26.2 -48.3,24.7 -55.2,23 -61.5,21 -67.1,18.7 -71.9,16.2 -75.9,13.4 -79,10.4 -81.3,7.3 -82.6,3.9 -83.1,0 -82.6,-4 -81.3,-7.5 -79,-10.8 -75.9,-13.8 -71.9,-16.7 -67.1,-19.3 -61.5,-21.6 -55.2,-23.7 -48.3,-25.5 -40.7,-27 -32.5,-28.2 -23.8,-29 -14.5,-29.5 -3.8,-29.7 6.9,-29.5 16.2,-29 25,-28.2 33.1,-27 40.7,-25.5 47.7,-23.7 54,-21.6 59.5,-19.3 64.3,-16.7 68.3,-13.8 71.4,-10.8 73.7,-7.5 75.1,-4Z"/>
<path fill="#ff0012" d="M73,0 72.6,3.7 71.3,7 69.1,10 66.1,12.9 62.2,15.5 57.6,18 52.2,20.2 46.2,22.1 39.4,23.8 32.1,25.2 24.3,26.3 15.9,27.1 6.9,27.6 -3.4,27.7 -13.6,27.6 -22.6,27.1 -31,26.3 -38.9,25.2 -46.2,23.8 -52.9,22.1 -59,20.2 -64.3,18 -69,15.5 -72.8,12.9 -75.9,10 -78,7 -79.4,3.7 -79.8,0 -79.4,-3.8 -78,-7.2 -75.9,-10.3 -72.8,-13.3 -69,-16 -64.3,-18.5 -59,-20.8 -52.9,-22.8 -46.2,-24.5 -38.9,-26 -31,-27.1 -22.6,-27.9 -13.6,-28.4 -3.4,-28.6 6.9,-28.4 15.9,-27.9 24.3,-27.1 32.1,-26 39.4,-24.5 46.2,-22.8 52.2,-20.8 57.6,-18.5 62.2,-16 66.1,-13.3 69.1,-10.3 71.3,-7.2 72.6,-3.8Z"/>
<path fill="#ff0016" d="M70.6,0 70.1,3.6 68.9,6.7 66.7,9.6 63.8,12.4 60.1,14.9 55.7,17.3 50.5,19.4 44.6,21.2 38.2,22.9 31.1,24.2 23.6,25.3 15.5,26 6.8,26.5 -3,26.6 -12.8,26.5 -21.4,26 -29.5,25.3 -37.1,24.2 -44.1,22.9 -50.6,21.2 -56.4,19.4 -61.6,17.3 -66.1,14.9 -69.8,12.4 -72.7,9.6 -74.8,6.7 -76.1,3.6 -76.5,0 -76.1,-3.7 -74.8,-6.9 -72.7,-9.9 -69.8,-12.7 -66.1,-15.4 -61.6,-17.8 -56.4,-20 -50.6,-21.9 -44.1,-23.6 -37.1,-25 -29.5,-26.1 -21.4,-26.8 -12.8,-27.3 -3,-27.5 6.8,-27.3 15.5,-26.8 23.6,-26.1 31.1,-25 38.2,-23.6 44.6,-21.9 50.5,-20 55.7,-17.8 60.1,-15.4 63.8,-12.7 66.7,-9.9 68.9,-6.9 70.1,-3.7Z"/>
<path fill="#ff001a" d="M68.1,0 67.7,3.4 66.4,6.4 64.4,9.2 61.6,11.8 58,14.3 53.7,16.5 48.7,18.6 43.1,20.4 36.9,21.9 30.1,23.2 22.9,24.3 15.1,25 6.8,25.4 -2.6,25.6 -11.9,25.4 -20.2,25 -28,24.3 -35.3,23.2 -42,21.9 -48.3,20.4 -53.9,18.6 -58.9,16.5 -63.2,14.3 -66.7,11.8 -69.5,9.2 -71.6,6.4 -72.8,3.4 -73.2,0 -72.8,-3.5 -71.6,-6.6 -69.5,-9.5 -66.7,-12.2 -63.2,-14.7 -58.9,-17.1 -53.9,-19.2 -48.3,-21 -42,-22.6 -35.3,-24 -28,-25 -20.2,-25.8 -11.9,-26.2 -2.6,-26.4 6.8,-26.2 15.1,-25.8 22.9,-25 30.1,-24 36.9,-22.6 43.1,-21 48.7,-19.2 53.7,-17.1 58,-14.7 61.6,-12.2 64.4,-9.5 66.4,-6.6 67.7,-3.5Z"/>
<path fill="#ff001e" d="M65.6,0 65.2,3.2 64,6.1 62.1,8.8 59.3,11.3 55.9,13.7 51.8,15.8 47,17.8 41.6,19.5 35.6,21 29.1,22.3 22.2,23.2 14.7,23.9 6.8,24.4 -2.2,24.5 -11.1,24.4 -19,23.9 -26.5,23.2 -33.5,22.3 -40,21 -45.9,19.5 -51.3,17.8 -56.1,15.8 -60.2,13.7 -63.7,11.3 -66.4,8.8 -68.3,6.1 -69.5,3.2 -69.9,0 -69.5,-3.3 -68.3,-6.3 -66.4,-9.1 -63.7,-11.7 -60.2,-14.1 -56.1,-16.3 -51.3,-18.3 -45.9,-20.1 -40,-21.7 -33.5,-22.9 -26.5,-23.9 -19,-24.7 -11.1,-25.1 -2.2,-25.3 6.8,-25.1 14.7,-24.7 22.2,-23.9 29.1,-22.9 35.6,-21.7 41.6,-20.1 47,-18.3 51.8,-16.3 55.9,-14.1 59.3,-11.7 62.1,-9.1 64,-6.3 65.2,-3.3Z"/>
<path fill="#ff0022" d="M63.1,0 62.7,3.1 61.6,5.8 59.7,8.4 57.1,10.8 53.8,13.1 49.9,15.1 45.3,17 40.1,18.7 34.4,20.1 28.1,21.3 21.5,22.2 14.3,22.9 6.8,23.3 -1.8,23.4 -10.3,23.3 -17.9,22.9 -25,22.2 -31.7,21.3 -37.9,20.1 -43.6,18.7 -48.8,17 -53.4,15.1 -57.3,13.1 -60.6,10.8 -63.2,8.4 -65.1,5.8 -66.2,3.1 -66.6,0 -66.2,-3.2 -65.1,-6 -63.2,-8.7 -60.6,-11.1 -57.3,-13.5 -53.4,-15.6 -48.8,-17.5 -43.6,-19.2 -37.9,-20.7 -31.7,-21.9 -25,-22.9 -17.9,-23.6 -10.3,-24 -1.8,-24.2 6.8,-24 14.3,-23.6 21.5,-22.9 28.1,-21.9 34.4,-20.7 40.1,-19.2 45.3,-17.5 49.9,-15.6 53.8,-13.5 57.1,-11.1 59.7,-8.7 61.6,-6 62.7,-3.2Z"/>
<path fill="#ff0026" d="M60.6,0 60.2,2.9 59.2,5.5 57.4,8 54.9,10.3 51.7,12.4 47.9,14.4 43.5,16.2 38.6,17.8 33.1,19.2 27.2,20.3 20.8,21.2 14,21.8 6.7,22.2 -1.4,22.4 -9.5,22.2 -16.7,21.8 -23.5,21.2 -29.9,20.3 -35.8,19.2 -41.3,17.8 -46.2,16.2 -50.6,14.4 -54.4,12.4 -57.6,10.3 -60.1,8 -61.9,5.5 -62.9,2.9 -63.3,0 -62.9,-3 -61.9,-5.7 -60.1,-8.2 -57.6,-10.6 -54.4,-12.8 -50.6,-14.9 -46.2,-16.7 -41.3,-18.3 -35.8,-19.8 -29.9,-20.9 -23.5,-21.8 -16.7,-22.5 -9.5,-22.9 -1.4,-23.1 6.7,-22.9 14,-22.5 20.8,-21.8 27.2,-20.9 33.1,-19.8 38.6,-18.3 43.5,-16.7 47.9,-14.9 51.7,-12.8 54.9,-10.6 57.4,-8.2 59.2,-5.7 60.2,-3Z"/>
<path fill="#ff0029" d="M58.1,0 57.8,2.8 56.7,5.3 55,7.6 52.6,9.8 49.6,11.8 46,13.7 41.8,15.4 37.1,16.9 31.9,18.2 26.2,19.3 20.1,20.2 13.6,20.8 6.7,21.2 -0.9,21.3 -8.6,21.2 -15.5,20.8 -22,20.2 -28.1,19.3 -33.8,18.2 -39,16.9 -43.7,15.4 -47.9,13.7 -51.5,11.8 -54.5,9.8 -56.9,7.6 -58.6,5.3 -59.7,2.8 -60,0 -59.7,-2.9 -58.6,-5.4 -56.9,-7.8 -54.5,-10.1 -51.5,-12.2 -47.9,-14.1 -43.7,-15.9 -39,-17.5 -33.8,-18.8 -28.1,-19.9 -22,-20.8 -15.5,-21.4 -8.6,-21.8 -0.9,-21.9 6.7,-21.8 13.6,-21.4 20.1,-20.8 26.2,-19.9 31.9,-18.8 37.1,-17.5 41.8,-15.9 46,-14.1 49.6,-12.2 52.6,-10.1 55,-7.8 56.7,-5.4 57.8,-2.9Z"/>
<path fill="#ff002d" d="M55.6,0 55.3,2.6 54.3,5 52.7,7.2 50.4,9.3 47.5,11.2 44.1,13 40.1,14.6 35.6,16.1 30.6,17.3 25.2,18.3 19.4,19.2 13.3,19.7 6.7,20.1 -0.5,20.2 -7.8,20.1 -14.3,19.7 -20.5,19.2 -26.3,18.3 -31.7,17.3 -36.7,16.1 -41.2,14.6 -45.2,13 -48.6,11.2 -51.5,9.3 -53.8,7.2 -55.4,5 -56.4,2.6 -56.7,0 -56.4,-2.7 -55.4,-5.1 -53.8,-7.4 -51.5,-9.6 -48.6,-11.6 -45.2,-13.4 -41.2,-15.1 -36.7,-16.6 -31.7,-17.8 -26.3,-18.9 -20.5,-19.7 -14.3,-20.4 -7.8,-20.7 -0.5,-20.8 6.7,-20.7 13.3,-20.4 19.4,-19.7 25.2,-18.9 30.6,-17.8 35.6,-16.6 40.1,-15.1 44.1,-13.4 47.5,-11.6 50.4,-9.6 52.7,-7.4 54.3,-5.1 55.3,-2.7Z"/>
<path fill="#ff0031" d="M53.1,0 52.8,2.5 51.9,4.7 50.3,6.8 48.2,8.8 45.4,10.6 42.2,12.3 38.4,13.8 34.1,15.2 29.4,16.4 24.2,17.4 18.7,18.1 12.9,18.7 6.7,19 -0.1,19.1 -7,19 -13.2,18.7 -19,18.1 -24.5,17.4 -29.6,16.4 -34.4,15.2 -38.6,13.8 -42.4,12.3 -45.7,10.6 -48.4,8.8 -50.6,6.8 -52.1,4.7 -53.1,2.5 -53.4,0 -53.1,-2.5 -52.1,-4.8 -50.6,-7 -48.4,-9 -45.7,-10.9 -42.4,-12.7 -38.6,-14.3 -34.4,-15.7 -29.6,-16.9 -24.5,-17.9 -19,-18.7 -13.2,-19.3 -7,-19.6 -0.1,-19.7 6.7,-19.6 12.9,-19.3 18.7,-18.7 24.2,-17.9 29.4,-16.9 34.1,-15.7 38.4,-14.3 42.2,-12.7 45.4,-10.9 48.2,-9 50.3,-7 51.9,-4.8 52.8,-2.5Z"/>
<path fill="#ff0035" d="M50.6,0 50.3,2.3 49.5,4.4 48,6.4 45.9,8.3 43.4,10 40.3,11.6 36.7,13.1 32.6,14.3 28.1,15.5 23.3,16.4 18.1,17.1 12.6,17.6 6.7,18 0.3,18.1 -6.2,18 -12,17.6 -17.5,17.1 -22.7,16.4 -27.6,15.5 -32.1,14.3 -36.1,13.1 -39.7,11.6 -42.8,10 -45.4,8.3 -47.4,6.4 -48.9,4.4 -49.8,2.3 -50.1,0 -49.8,-2.4 -48.9,-4.5 -47.4,-6.6 -45.4,-8.5 -42.8,-10.3 -39.7,-12 -36.1,-13.5 -32.1,-14.8 -27.6,-15.9 -22.7,-16.9 -17.5,-17.6 -12,-18.2 -6.2,-18.5 0.3,-18.6 6.7,-18.5 12.6,-18.2 18.1,-17.6 23.3,-16.9 28.1,-15.9 32.6,-14.8 36.7,-13.5 40.3,-12 43.4,-10.3 45.9,-8.5 48,-6.6 49.5,-4.5 50.3,-2.4Z"/>
<path fill="#ff0039" d="M48.1,0 47.9,2.2 47,4.1 45.6,6 43.7,7.8 41.3,9.4 38.3,10.9 34.9,12.3 31.1,13.5 26.9,14.5 22.3,15.4 17.4,16.1 12.2,16.6 6.7,16.9 0.7,17 -5.4,16.9 -10.9,16.6 -16.1,16.1 -21,15.4 -25.5,14.5 -29.8,13.5 -33.6,12.3 -37,10.9 -39.9,9.4 -42.4,7.8 -44.3,6 -45.7,4.1 -46.5,2.2 -46.8,0 -46.5,-2.2 -45.7,-4.3 -44.3,-6.2 -42.4,-8 -39.9,-9.7 -37,-11.2 -33.6,-12.7 -29.8,-13.9 -25.5,-15 -21,-15.9 -16.1,-16.6 -10.9,-17.1 -5.4,-17.4 0.7,-17.5 6.7,-17.4 12.2,-17.1 17.4,-16.6 22.3,-15.9 26.9,-15 31.1,-13.9 34.9,-12.7 38.3,-11.2 41.3,-9.7 43.7,-8 45.6,-6.2 47,-4.3 47.9,-2.2Z"/>
<path fill="#ff003d" d="M45.7,0 45.4,2 44.6,3.9 43.3,5.6 41.5,7.2 39.2,8.8 36.4,10.2 33.2,11.5 29.6,12.6 25.7,13.6 21.4,14.4 16.8,15.1 11.9,15.6 6.7,15.8 1.1,15.9 -4.6,15.8 -9.7,15.6 -14.6,15.1 -19.2,14.4 -23.5,13.6 -27.5,12.6 -31.1,11.5 -34.3,10.2 -37,8.8 -39.3,7.2 -41.1,5.6 -42.4,3.9 -43.2,2 -43.5,0 -43.2,-2.1 -42.4,-4 -41.1,-5.8 -39.3,-7.5 -37,-9.1 -34.3,-10.5 -31.1,-11.8 -27.5,-13 -23.5,-14 -19.2,-14.9 -14.6,-15.6 -9.7,-16 -4.6,-16.3 1.1,-16.4 6.7,-16.3 11.9,-16 16.8,-15.6 21.4,-14.9 25.7,-14 29.6,-13 33.2,-11.8 36.4,-10.5 39.2,-9.1 41.5,-7.5 43.3,-5.8 44.6,-4 45.4,-2.1Z"/>
<path fill="#ff0041" d="M43.2,0 42.9,1.9 42.2,3.6 41,5.2 39.3,6.7 37.1,8.2 34.5,9.5 31.5,10.7 28.2,11.8 24.4,12.7 20.4,13.5 16.1,14.1 11.6,14.5 6.7,14.8 1.5,14.9 -3.8,14.8 -8.6,14.5 -13.1,14.1 -17.4,13.5 -21.5,12.7 -25.2,11.8 -28.6,10.7 -31.5,9.5 -34.1,8.2 -36.3,6.7 -38,5.2 -39.2,3.6 -40,1.9 -40.2,0 -40,-1.9 -39.2,-3.7 -38,-5.4 -36.3,-7 -34.1,-8.4 -31.5,-9.8 -28.6,-11 -25.2,-12.1 -21.5,-13.1 -17.4,-13.9 -13.1,-14.5 -8.6,-15 -3.8,-15.2 1.5,-15.3 6.7,-15.2 11.6,-15 16.1,-14.5 20.4,-13.9 24.4,-13.1 28.2,-12.1 31.5,-11 34.5,-9.8 37.1,-8.4 39.3,-7 41,-5.4 42.2,-3.7 42.9,-1.9Z"/>
<path fill="#ff0045" d="M40.7,0 40.4,1.7 39.8,3.3 38.6,4.8 37,6.2 35,7.6 32.6,8.8 29.8,9.9 26.7,10.9 23.2,11.8 19.5,12.5 15.5,13.1 11.2,13.5 6.8,13.7 1.9,13.8 -3,13.7 -7.4,13.5 -11.7,13.1 -15.7,12.5 -19.4,11.8 -22.9,10.9 -26,9.9 -28.8,8.8 -31.2,7.6 -33.3,6.2 -34.8,4.8 -36,3.3 -36.7,1.7 -36.9,0 -36.7,-1.8 -36,-3.4 -34.8,-5 -33.3,-6.4 -31.2,-7.8 -28.8,-9.1 -26,-10.2 -22.9,-11.3 -19.4,-12.1 -15.7,-12.9 -11.7,-13.5 -7.4,-13.9 -3,-14.1 1.9,-14.2 6.8,-14.1 11.2,-13.9 15.5,-13.5 19.5,-12.9 23.2,-12.1 26.7,-11.3 29.8,-10.2 32.6,-9.1 35,-7.8 37,-6.4 38.6,-5 39.8,-3.4 40.4,-1.8Z"/>
<path fill="#ff0049" d="M38.2,0 38,1.6 37.3,3 36.3,4.4 34.8,5.8 32.9,7 30.7,8.1 28.1,9.1 25.2,10.1 22,10.9 18.5,11.5 14.8,12 10.9,12.4 6.8,12.6 2.3,12.7 -2.2,12.6 -6.3,12.4 -10.2,12 -13.9,11.5 -17.4,10.9 -20.6,10.1 -23.5,9.1 -26.1,8.1 -28.4,7 -30.2,5.8 -31.7,4.4 -32.7,3 -33.4,1.6 -33.6,0 -33.4,-1.6 -32.7,-3.1 -31.7,-4.6 -30.2,-5.9 -28.4,-7.2 -26.1,-8.4 -23.5,-9.4 -20.6,-10.4 -17.4,-11.2 -13.9,-11.9 -10.2,-12.4 -6.3,-12.8 -2.2,-13 2.3,-13.1 6.8,-13 10.9,-12.8 14.8,-12.4 18.5,-11.9 22,-11.2 25.2,-10.4 28.1,-9.4 30.7,-8.4 32.9,-7.2 34.8,-5.9 36.3,-4.6 37.3,-3.1 38,-1.6Z"/>
<path fill="#ff004d" d="M35.7,0 35.5,1.4 34.9,2.8 33.9,4.1 32.6,5.3 30.9,6.4 28.8,7.4 26.4,8.4 23.7,9.2 20.8,9.9 17.6,10.5 14.2,11 10.6,11.4 6.8,11.6 -1.4,11.6 -5.2,11.4 -8.8,11 -12.2,10.5 -15.4,9.9 -18.3,9.2 -21,8.4 -23.4,7.4 -25.5,6.4 -27.2,5.3 -28.5,4.1 -29.5,2.8 -30.1,1.4 -30.3,0 -30.1,-1.5 -29.5,-2.9 -28.5,-4.2 -27.2,-5.4 -25.5,-6.6 -23.4,-7.7 -21,-8.6 -18.3,-9.5 -15.4,-10.2 -12.2,-10.9 -8.8,-11.4 -5.2,-11.7 -1.4,-11.9 2.7,-12 6.8,-11.9 10.6,-11.7 14.2,-11.4 17.6,-10.9 20.8,-10.2 23.7,-9.5 26.4,-8.6 28.8,-7.7 30.9,-6.6 32.6,-5.4 33.9,-4.2 34.9,-2.9 35.5,-1.5Z"/>
<path fill="#ff0050" d="M32.7,0 32.5,1.3 32,2.5 31.1,3.7 29.9,4.8 28.3,5.8 26.4,6.7 24.2,7.6 21.8,8.4 19.1,9 16.2,9.6 13.1,10 9.8,10.3 6.4,10.5 2.7,10.6 -1,10.5 -4.4,10.3 -7.7,10 -10.8,9.6 -13.7,9 -16.4,8.4 -18.8,7.6 -21,6.7 -22.9,5.8 -24.5,4.8 -25.7,3.7 -26.6,2.5 -27.1,1.3 -27.3,0 -27.1,-1.3 -26.6,-2.6 -25.7,-3.8 -24.5,-4.9 -22.9,-6 -21,-6.9 -18.8,-7.8 -16.4,-8.6 -13.7,-9.3 -10.8,-9.9 -7.7,-10.3 -4.4,-10.6 -1,-10.8 2.7,-10.9 6.4,-10.8 9.8,-10.6 13.1,-10.3 16.2,-9.9 19.1,-9.3 21.8,-8.6 24.2,-7.8 26.4,-6.9 28.3,-6 29.9,-4.9 31.1,-3.8 32,-2.6 32.5,-1.3Z"/>
<path fill="#ff0054" d="M29.7,0 29.5,1.2 29,2.2 28.2,3.3 27.1,4.3 25.7,5.2 24,6 22.1,6.8 19.8,7.5 17.4,8.1 14.8,8.6 12,9 9.1,9.3 6,9.5 -0.6,9.5 -3.7,9.3 -6.6,9 -9.4,8.6 -12,8.1 -14.4,7.5 -16.7,6.8 -18.6,6 -20.3,5.2 -21.7,4.3 -22.8,3.3 -23.6,2.2 -24.1,1.2 -24.3,0 -24.1,-1.2 -23.6,-2.3 -22.8,-3.4 -21.7,-4.4 -20.3,-5.4 -18.6,-6.2 -16.7,-7 -14.4,-7.8 -12,-8.4 -9.4,-8.9 -6.6,-9.3 -3.7,-9.6 -0.6,-9.8 6,-9.8 9.1,-9.6 12,-9.3 14.8,-8.9 17.4,-8.4 19.8,-7.8 22.1,-7 24,-6.2 25.7,-5.4 27.1,-4.4 28.2,-3.4 29,-2.3 29.5,-1.2Z"/>
<path fill="#ff0058" d="M26.7,0 26.6,1 26.1,2 25.4,2.9 24.4,3.8 23.1,4.6 21.6,5.4 19.9,6.1 17.9,6.7 15.8,7.2 13.4,7.7 10.9,8 8.3,8.3 5.6,8.4 2.7,8.5 -0.2,8.4 -2.9,8.3 -5.5,8 -8,7.7 -10.4,7.2 -12.5,6.7 -14.5,6.1 -16.2,5.4 -17.7,4.6 -19,3.8 -20,2.9 -20.7,2 -21.2,1 -21.3,0 -21.2,-1.1 -20.7,-2 -20,-3 -19,-3.9 -17.7,-4.7 -16.2,-5.5 -14.5,-6.2 -12.5,-6.9 -10.4,-7.4 -8,-7.9 -5.5,-8.3 -2.9,-8.5 -0.2,-8.7 5.6,-8.7 8.3,-8.5 10.9,-8.3 13.4,-7.9 15.8,-7.4 17.9,-6.9 19.9,-6.2 21.6,-5.5 23.1,-4.7 24.4,-3.9 25.4,-3 26.1,-2 26.6,-1.1Z"/>
<path fill="#ff005b" d="M23.7,0 23.6,0.9 23.2,1.7 22.6,2.5 21.7,3.3 20.6,4 19.2,4.7 17.7,5.3 16,5.8 14.1,6.3 12,6.7 9.9,7 7.6,7.2 5.2,7.4 0.2,7.4 -2.2,7.2 -4.5,7 -6.6,6.7 -8.7,6.3 -10.6,5.8 -12.3,5.3 -13.8,4.7 -15.2,4 -16.3,3.3 -17.2,2.5 -17.8,1.7 -18.2,0.9 -18.3,0 -18.2,-0.9 -17.8,-1.8 -17.2,-2.6 -16.3,-3.4 -15.2,-4.1 -13.8,-4.8 -12.3,-5.5 -10.6,-6 -8.7,-6.5 -6.6,-6.9 -4.5,-7.2 -2.2,-7.5 0.2,-7.6 5.2,-7.6 7.6,-7.5 9.9,-7.2 12,-6.9 14.1,-6.5 16,-6 17.7,-5.5 19.2,-4.8 20.6,-4.1 21.7,-3.4 22.6,-2.6 23.2,-1.8 23.6,-0.9Z"/>
<path fill="#ff005f" d="M20.7,0 20.6,0.8 20.3,1.5 19.7,2.2 19,2.8 18,3.4 16.9,4 14.1,5 12.4,5.4 10.7,5.7 8.8,6 6.9,6.2 4.8,6.3 0.6,6.3 -1.5,6.2 -3.4,6 -5.3,5.7 -7,5.4 -8.7,5 -11.5,4 -12.6,3.4 -13.6,2.8 -14.3,2.2 -14.9,1.5 -15.2,0.8 -15.3,0 -15.2,-0.8 -14.9,-1.5 -14.3,-2.2 -13.6,-2.9 -12.6,-3.5 -11.5,-4.1 -10.1,-4.7 -8.7,-5.2 -7,-5.6 -5.3,-5.9 -3.4,-6.2 -1.5,-6.4 0.6,-6.5 4.8,-6.5 6.9,-6.4 8.8,-6.2 10.7,-5.9 12.4,-5.6 14.1,-5.2 15.5,-4.7 16.9,-4.1 18,-3.5 19,-2.9 19.7,-2.2 20.3,-1.5 20.6,-0.8Z"/>
<path fill="#ff0063" d="M17.7,0 17.6,0.6 17.3,1.2 16.9,1.8 16.2,2.3 15.4,2.9 14.5,3.3 13.4,3.8 12.2,4.2 10.8,4.5 9.3,4.8 7.8,5 6.2,5.2 4.5,5.3 0.9,5.3 -0.8,5.2 -2.4,5 -3.9,4.8 -5.4,4.5 -6.8,4.2 -8,3.8 -9.1,3.3 -10,2.9 -10.8,2.3 -11.5,1.8 -11.9,1.2 -12.2,0.6 -12.3,0 -12.2,-0.6 -11.9,-1.3 -11.5,-1.8 -10.8,-2.4 -10,-2.9 -9.1,-3.4 -8,-3.9 -6.8,-4.3 -5.4,-4.6 -2.4,-5.2 -0.8,-5.3 0.9,-5.4 2.7,-5.5 4.5,-5.4 6.2,-5.3 7.8,-5.2 10.8,-4.6 12.2,-4.3 13.4,-3.9 14.5,-3.4 15.4,-2.9 16.2,-2.4 16.9,-1.8 17.3,-1.3 17.6,-0.6Z"/>
<path fill="#ff0066" d="M14.7,0 14.6,0.5 14.4,1 13.5,1.9 12.9,2.3 12.1,2.7 11.2,3 9.2,3.6 8,3.8 6.7,4 4.1,4.2 1.3,4.2 -1.3,4 -2.6,3.8 -3.8,3.6 -5.8,3 -6.7,2.7 -7.5,2.3 -8.1,1.9 -9,1 -9.2,0.5 -9.3,0 -9.2,-0.5 -9,-1 -8.6,-1.5 -8.1,-1.9 -7.5,-2.3 -6.7,-2.7 -5.8,-3.1 -3.8,-3.7 -2.6,-3.9 0,-4.3 1.3,-4.3 2.7,-4.4 4.1,-4.3 5.4,-4.3 8,-3.9 9.2,-3.7 11.2,-3.1 12.1,-2.7 12.9,-2.3 13.5,-1.9 14,-1.5 14.4,-1 14.6,-0.5Z"/>
<path fill="#ff006a" d="M11.7,0 11.6,0.4 11.5,0.7 11.2,1.1 10.8,1.4 9.8,2 9.1,2.3 7.5,2.7 6.6,2.9 5.7,3 3.7,3.2 1.7,3.2 -0.3,3 -1.2,2.9 -2.1,2.7 -3.7,2.3 -4.4,2 -5.4,1.4 -5.8,1.1 -6.1,0.7 -6.2,0.4 -6.3,0 -6.2,-0.4 -6.1,-0.7 -5.8,-1.1 -5.4,-1.4 -4.9,-1.8 -4.4,-2.1 -3.7,-2.3 -2.9,-2.6 -2.1,-2.8 -1.2,-3 -0.3,-3.1 1.7,-3.3 3.7,-3.3 5.7,-3.1 6.6,-3 7.5,-2.8 8.3,-2.6 9.1,-2.3 9.8,-2.1 10.3,-1.8 10.8,-1.4 11.2,-1.1 11.5,-0.7 11.6,-0.4Z"/>
<path fill="#ff006e" d="M8.7,0.2 8.6,0.5 8.4,0.7 7.8,1.1 7,1.5 6.5,1.7 4.1,2.1 1.3,2.1 -1.1,1.7 -1.6,1.5 -2.4,1.1 -3,0.7 -3.2,0.5 -3.3,0.2 -3.3,-0.2 -3.2,-0.5 -2.7,-1 -2.4,-1.2 -2,-1.4 -1.6,-1.5 -1.1,-1.7 -0.5,-1.9 0.7,-2.1 1.3,-2.1 2,-2.2 3.4,-2.2 4.1,-2.1 4.7,-2.1 5.9,-1.9 6.5,-1.7 7,-1.5 7.4,-1.4 7.8,-1.2 8.1,-1 8.6,-0.5 8.7,-0.2Z"/>
<path fill="#ff0071" d="M5.7,0.1 5.6,0.2 5.5,0.4 5.4,0.5 5,0.7 4.8,0.7 4.6,0.8 4,1 3.4,1 3,1.1 2.4,1.1 2,1 1.4,1 0.8,0.8 0.6,0.7 0.4,0.7 0,0.5 -0.1,0.4 -0.2,0.2 -0.3,0.1 -0.3,-0.1 -0.2,-0.2 -0.1,-0.4 0,-0.5 0.8,-0.9 1.1,-0.9 1.4,-1 1.7,-1 2,-1.1 3.4,-1.1 3.7,-1 4,-1 4.3,-0.9 4.6,-0.9 5.4,-0.5 5.5,-0.4 5.6,-0.2 5.7,-0.1Z"/>
</g></g>
<g clip-path="url(#h3c)">
<rect x="1976" y="441" width="476" height="269" fill="#00ff8c"/>
<g transform="translate(2217,576.5)">
<path fill="#00ff89" d="M244,128.1 241.1,138.5 -241.1,138.5 -244,128.1 -244,-138.5 244,-138.5Z"/>
<path fill="#00ff82" d="M244,127.2 238.6,138.5 -238.6,138.5 -244,127.2 -244,-138.5 244,-138.5Z"/>
<path fill="#00ff7b" d="M244,126.3 236.2,138.5 -236.2,138.5 -244,126.3 -244,-138.5 244,-138.5Z"/>
<path fill="#00ff75" d="M244,125.5 233.8,138.5 -233.8,138.5 -244,125.5 -244,-138.5 244,-138.5Z"/>
<path fill="#00ff6e" d="M244,124.6 231.4,138.5 -231.4,138.5 -244,124.6 -244,-138.4 -231.4,-138.5 231.4,-138.5 244,-138.4Z"/>
<path fill="#00ff67" d="M244,123.7 228.9,138.5 -228.9,138.5 -244,123.7 -244,-137.4 -228.9,-138.5 228.9,-138.5 244,-137.4Z"/>
<path fill="#00ff61" d="M244,90.7 242.7,122.8 226.5,138.5 -226.5,138.5 -242.7,122.8 -244,90.7 -244,-100.7 -242.7,-136.4 -226.5,-138.5 226.5,-138.5 242.7,-136.4 244,-100.7Z"/>
<path fill="#00ff5a" d="M244,90 240.1,121.9 224.1,138.5 -224.1,138.5 -240.1,121.9 -244,90 -244,-100 -240.1,-135.4 -224.1,-138.5 224.1,-138.5 240.1,-135.4 244,-100Z"/>
<path fill="#00ff53" d="M244,89.4 237.5,121 221.7,138.5 -221.7,138.5 -237.5,121 -244,89.4 -244,-99.3 -237.5,-134.4 -221.7,-138.5 221.7,-138.5 237.5,-134.4 244,-99.3Z"/>
<path fill="#00ff4d" d="M244,88.7 234.9,120.1 219.2,138.5 -219.2,138.5 -234.9,120.1 -244,88.7 -244,-98.6 -234.9,-133.5 -219.2,-138.5 219.2,-138.5 234.9,-133.5 244,-98.6Z"/>
<path fill="#00ff46" d="M244,88 232.3,119.2 216.8,138.5 -216.8,138.5 -232.3,119.2 -244,88 -244,-97.8 -232.3,-132.5 -216.8,-138.5 216.8,-138.5 232.3,-132.5 244,-97.8Z"/>
<path fill="#00ff3f" d="M244,56.3 241.9,87.4 229.7,118.3 214.4,138.5 -214.4,138.5 -229.7,118.3 -241.9,87.4 -244,56.3 -244,-62.6 -241.9,-97.1 -229.7,-131.5 -214.4,-138.5 214.4,-138.5 229.7,-131.5 241.9,-97.1 244,-62.6Z"/>
<path fill="#02ff39" d="M244,55.9 239.2,86.7 227.1,117.4 212,138.5 -212,138.5 -227.1,117.4 -239.2,86.7 -244,55.9 -244,-62.1 -239.2,-96.4 -227.1,-130.5 -212,-138.5 212,-138.5 227.1,-130.5 239.2,-96.4 244,-62.1Z"/>
<path fill="#04ff33" d="M244,55.4 236.8,85.9 224.9,116.4 209.9,138.5 -209.5,138.5 -224.5,116.4 -236.4,85.9 -244,55.4 -244,-61.6 -236.4,-95.5 -224.5,-129.3 -209.5,-138.5 209.9,-138.5 224.9,-129.3 236.8,-95.5 244,-61.6Z"/>
<path fill="#08ff2d" d="M244,25.6 243.1,54.9 234.5,85.2 222.7,115.3 207.9,138.5 -207.1,138.5 -221.9,115.3 -233.7,85.2 -242.3,54.9 -244,25.6 -244,-28.4 -242.3,-61 -233.7,-94.6 -221.9,-128.1 -207.1,-138.5 207.9,-138.5 222.7,-128.1 234.5,-94.6 243.1,-61 244,-28.4Z"/>
<path fill="#0aff27" d="M244,25.4 240.6,54.4 232.2,84.4 220.5,114.2 205.8,138.5 -204.6,138.5 -219.3,114.2 -231,84.4 -239.4,54.4 -244,25.4 -244,-28.2 -239.4,-60.4 -231,-93.7 -219.3,-126.9 -204.6,-138.5 205.8,-138.5 220.5,-126.9 232.2,-93.7 240.6,-60.4 244,-28.2Z"/>
<path fill="#0eff21" d="M244,0 243.3,25.1 238.2,53.9 229.8,83.6 218.3,113.2 203.8,138.5 -202.2,138.5 -216.7,113.2 -228.2,83.6 -236.6,53.9 -241.7,25.1 -243.4,0 -241.7,-27.9 -236.6,-59.9 -228.2,-92.9 -216.7,-125.8 -202.2,-138.5 203.8,-138.5 218.3,-125.8 229.8,-92.9 238.2,-59.9 243.3,-27.9Z"/>
<path fill="#10ff1b" d="M242.5,0 240.8,24.9 235.8,53.4 227.5,82.8 216.1,112.1 201.7,138.5 -199.7,138.5 -214.1,112.1 -225.5,82.8 -233.8,53.4 -238.8,24.9 -240.5,0 -238.8,-27.7 -233.8,-59.3 -225.5,-92 -214.1,-124.6 -199.7,-138.5 201.7,-138.5 216.1,-124.6 227.5,-92 235.8,-59.3 240.8,-27.7Z"/>
<path fill="#14ff15" d="M240,0 238.3,24.7 233.4,52.9 225.2,82 213.9,111 199.7,138.5 -197.3,138.5 -211.5,111 -222.8,82 -231,52.9 -235.9,24.7 -237.6,0 -235.9,-27.4 -231,-58.8 -222.8,-91.1 -211.5,-123.4 -197.3,-138.5 199.7,-138.5 213.9,-123.4 225.2,-91.1 233.4,-58.8 238.3,-27.4Z"/>
<path fill="#16ff0f" d="M237.5,0 235.9,24.4 230.9,52.4 222.8,81.2 211.7,110 197.6,137.9 181,138.5 -178.2,138.5 -194.8,137.9 -208.9,110 -220,81.2 -228.1,52.4 -233.1,24.4 -234.7,0 -233.1,-27.1 -228.1,-58.2 -220,-90.2 -208.9,-122.2 -194.8,-138.5 197.6,-138.5 211.7,-122.2 222.8,-90.2 230.9,-58.2 235.9,-27.1Z"/>
<path fill="#1aff09" d="M235,0 233.4,24.2 228.5,51.9 220.5,80.4 209.5,108.9 195.6,136.6 179.2,138.5 -176,138.5 -192.4,136.6 -206.3,108.9 -217.3,80.4 -225.3,51.9 -230.2,24.2 -231.8,0 -230.2,-26.9 -225.3,-57.6 -217.3,-89.4 -206.3,-121 -192.4,-138.5 195.6,-138.5 209.5,-121 220.5,-89.4 228.5,-57.6 233.4,-26.9Z"/>
<path fill="#1cff03" d="M232.5,0 230.9,23.9 226.1,51.4 218.2,79.6 207.3,107.8 193.6,135.3 177.3,138.5 -173.7,138.5 -190,135.3 -203.7,107.8 -214.6,79.6 -222.5,51.4 -227.3,23.9 -228.9,0 -227.3,-26.6 -222.5,-57.1 -214.6,-88.5 -203.7,-119.8 -190,-138.5 193.6,-138.5 207.3,-119.8 218.2,-88.5 226.1,-57.1 230.9,-26.6Z"/>
<path fill="#1fff00" d="M230,0 228.4,23.7 223.7,50.8 215.8,78.8 205.1,106.8 191.5,133.9 175.4,138.5 -171.4,138.5 -187.5,133.9 -201.1,106.8 -211.8,78.8 -219.7,50.8 -224.4,23.7 -226,0 -224.4,-26.3 -219.7,-56.5 -211.8,-87.6 -201.1,-118.6 -187.5,-138.5 191.5,-138.5 205.1,-118.6 215.8,-87.6 223.7,-56.5 228.4,-26.3Z"/>
<path fill="#22ff00" d="M229.4,0 227.8,23.5 223.1,50.3 215.3,78.1 204.5,105.7 191,132.6 175,138.5 -170.7,138.5 -186.8,132.6 -200.2,105.7 -211,78.1 -218.8,50.3 -223.5,23.5 -225.1,0 -223.5,-26.1 -218.8,-55.9 -211,-86.7 -200.2,-117.5 -186.8,-138.5 191,-138.5 204.5,-117.5 215.3,-86.7 223.1,-55.9 227.8,-26.1Z"/>
<path fill="#25ff00" d="M228.8,0 227.2,23.2 222.5,49.8 214.7,77.3 204,104.7 190.5,131.3 174.6,138.5 -170,138.5 -186,131.3 -199.4,104.7 -210.1,77.3 -217.9,49.8 -222.6,23.2 -224.2,0 -222.6,-25.8 -217.9,-55.4 -210.1,-85.9 -199.4,-116.3 -186,-138.5 190.5,-138.5 204,-116.3 214.7,-85.9 222.5,-55.4 227.2,-25.8Z"/>
<path fill="#27ff00" d="M228.1,0 226.6,23 221.9,49.3 214.1,76.5 203.4,103.6 190,129.9 174.1,138.5 -169.3,138.5 -185.2,129.9 -198.6,103.6 -209.3,76.5 -217,49.3 -221.7,23 -223.3,0 -221.7,-25.6 -217,-54.8 -209.3,-85 -198.6,-115.1 -185.2,-138.5 190,-138.5 203.4,-115.1 214.1,-85 221.9,-54.8 226.6,-25.6Z"/>
<path fill="#2aff00" d="M227.5,0 225.9,22.8 221.3,48.8 213.5,75.7 202.9,102.5 189.5,128.6 173.7,138.5 -168.6,138.5 -184.5,128.6 -197.8,102.5 -208.4,75.7 -216.2,48.8 -220.9,22.8 -222.4,0 -220.9,-25.3 -216.2,-54.3 -208.4,-84.1 -197.8,-113.9 -184.5,-138.5 189.5,-138.5 202.9,-113.9 213.5,-84.1 221.3,-54.3 225.9,-25.3Z"/>
<path fill="#2dff00" d="M226.9,0 225.3,22.5 220.7,48.3 213,74.9 202.4,101.5 189,127.3 173.2,138.5 -167.9,138.5 -183.7,127.3 -197,101.5 -207.6,74.9 -215.3,48.3 -220,22.5 -221.5,0 -220,-25 -215.3,-53.7 -207.6,-83.3 -197,-112.8 -183.7,-138.5 189,-138.5 202.4,-112.8 213,-83.3 220.7,-53.7 225.3,-25Z"/>
<path fill="#2fff00" d="M226.3,0 224.7,22.3 220.1,47.8 212.4,74.2 201.8,100.4 188.6,126 172.8,138.5 -167.2,138.5 -182.9,126 -196.2,100.4 -206.8,74.2 -214.4,47.8 -219.1,22.3 -220.6,0 -219.1,-24.8 -214.4,-53.1 -206.8,-82.4 -196.2,-111.6 -182.9,-138.5 188.6,-138.5 201.8,-111.6 212.4,-82.4 220.1,-53.1 224.7,-24.8Z"/>
<path fill="#32ff00" d="M225.6,0 224.1,22.1 219.5,47.3 211.8,73.4 201.3,99.4 188.1,124.6 172.4,138.5 -166.5,138.5 -182.2,124.6 -195.4,99.4 -205.9,73.4 -213.6,47.3 -218.2,22.1 -219.8,0 -218.2,-24.5 -213.6,-52.6 -205.9,-81.5 -195.4,-110.4 -182.2,-138.5 188.1,-138.5 201.3,-110.4 211.8,-81.5 219.5,-52.6 224.1,-24.5Z"/>
<path fill="#35ff00" d="M225,0 223.5,21.8 218.9,46.8 211.2,72.6 200.7,98.3 187.6,123.3 171.9,138.5 -165.8,138.5 -181.4,123.3 -194.6,98.3 -205.1,72.6 -212.7,46.8 -217.3,21.8 -218.9,0 -217.3,-24.2 -212.7,-52 -205.1,-80.7 -194.6,-109.2 -181.4,-137 -165.8,-138.5 171.9,-138.5 187.6,-137 200.7,-109.2 211.2,-80.7 218.9,-52 223.5,-24.2Z"/>
<path fill="#37ff00" d="M224.4,0 222.9,21.6 218.3,46.3 210.7,71.8 200.2,97.2 187.1,122 171.5,138.5 -165.1,138.5 -180.6,122 -193.8,97.2 -204.2,71.8 -211.8,46.3 -216.4,21.6 -218,0 -216.4,-24 -211.8,-51.5 -204.2,-79.8 -193.8,-108.1 -180.6,-135.5 -165.1,-138.5 171.5,-138.5 187.1,-135.5 200.2,-108.1 210.7,-79.8 218.3,-51.5 222.9,-24Z"/>
<path fill="#3aff00" d="M223.8,0 222.2,21.4 217.7,45.8 210.1,71 199.7,96.2 186.6,120.6 171,138.5 -164.3,138.5 -179.9,120.6 -193,96.2 -203.4,71 -210.9,45.8 -215.5,21.4 -217.1,0 -215.5,-23.7 -210.9,-50.9 -203.4,-78.9 -193,-106.9 -179.9,-134.1 -164.3,-138.5 171,-138.5 186.6,-134.1 199.7,-106.9 210.1,-78.9 217.7,-50.9 222.2,-23.7Z"/>
<path fill="#3cff00" d="M223.2,0 221.6,21.1 217.1,45.3 209.5,70.3 199.1,95.1 186.1,119.3 170.6,138.5 -163.6,138.5 -179.1,119.3 -192.2,95.1 -202.5,70.3 -210.1,45.3 -214.7,21.1 -216.2,0 -214.7,-23.5 -210.1,-50.3 -202.5,-78.1 -192.2,-105.7 -179.1,-132.6 -163.6,-138.5 170.6,-138.5 186.1,-132.6 199.1,-105.7 209.5,-78.1 217.1,-50.3 221.6,-23.5Z"/>
<path fill="#3fff00" d="M222.5,0 221,20.9 216.5,44.8 208.9,69.5 198.6,94.1 185.6,118 170.2,138.5 -162.9,138.5 -178.3,118 -191.3,94.1 -201.7,69.5 -209.2,44.8 -213.8,20.9 -215.3,0 -213.8,-23.2 -209.2,-49.8 -201.7,-77.2 -191.3,-104.5 -178.3,-131.1 -162.9,-138.5 170.2,-138.5 185.6,-131.1 198.6,-104.5 208.9,-77.2 216.5,-49.8 221,-23.2Z"/>
<path fill="#42ff00" d="M221.9,0 220.4,20.6 215.8,44.3 208.4,68.7 198,93 185.1,116.7 169.7,138.5 -162.2,138.5 -177.6,116.7 -190.5,93 -200.8,68.7 -208.3,44.3 -212.9,20.6 -214.4,0 -212.9,-22.9 -208.3,-49.2 -200.8,-76.3 -190.5,-103.3 -177.6,-129.6 -162.2,-138.5 169.7,-138.5 185.1,-129.6 198,-103.3 208.4,-76.3 215.8,-49.2 220.4,-22.9Z"/>
<path fill="#44ff00" d="M221.3,0 219.8,20.4 215.2,43.8 207.8,67.9 197.5,92 184.6,115.3 169.3,137.6 151.8,138.5 -144,138.5 -161.5,137.6 -176.8,115.3 -189.7,92 -200,67.9 -207.5,43.8 -212,20.4 -213.5,0 -212,-22.7 -207.5,-48.7 -200,-75.5 -189.7,-102.2 -176.8,-128.2 -161.5,-138.5 169.3,-138.5 184.6,-128.2 197.5,-102.2 207.8,-75.5 215.2,-48.7 219.8,-22.7Z"/>
<path fill="#47ff00" d="M220.7,0 219.2,20.2 214.6,43.3 207.2,67.1 197,90.9 184.1,114 168.8,136 151.4,138.5 -143.4,138.5 -160.8,136 -176.1,114 -188.9,90.9 -199.2,67.1 -206.6,43.3 -211.1,20.2 -212.6,0 -211.1,-22.4 -206.6,-48.1 -199.2,-74.6 -188.9,-101 -176.1,-126.7 -160.8,-138.5 168.8,-138.5 184.1,-126.7 197,-101 207.2,-74.6 214.6,-48.1 219.2,-22.4Z"/>
<path fill="#4aff00" d="M220.1,0 218.5,19.9 214,42.8 206.6,66.3 196.4,89.8 183.6,112.7 168.4,134.4 151.1,138.5 -142.7,138.5 -160.1,134.4 -175.3,112.7 -188.1,89.8 -198.3,66.3 -205.7,42.8 -210.2,19.9 -211.7,0 -210.2,-22.2 -205.7,-47.5 -198.3,-73.7 -188.1,-99.8 -175.3,-125.2 -160.1,-138.5 168.4,-138.5 183.6,-125.2 196.4,-99.8 206.6,-73.7 214,-47.5 218.5,-22.2Z"/>
<path fill="#4cff00" d="M219.4,0 217.9,19.7 213.4,42.3 206.1,65.6 195.9,88.8 183.1,111.4 168,132.8 150.7,138.5 -142.1,138.5 -159.4,132.8 -174.5,111.4 -187.3,88.8 -197.5,65.6 -204.9,42.3 -209.3,19.7 -210.8,0 -209.3,-21.9 -204.9,-47 -197.5,-72.8 -187.3,-98.6 -174.5,-123.7 -159.4,-138.5 168,-138.5 183.1,-123.7 195.9,-98.6 206.1,-72.8 213.4,-47 217.9,-21.9Z"/>
<path fill="#4fff00" d="M218.8,0 217.3,19.5 212.8,41.8 205.5,64.8 195.4,87.7 182.6,110 167.5,131.2 150.3,138.5 -141.4,138.5 -158.7,131.2 -173.8,110 -186.5,87.7 -196.6,64.8 -204,41.8 -208.4,19.5 -209.9,0 -208.4,-21.6 -204,-46.4 -196.6,-72 -186.5,-97.5 -173.8,-122.3 -158.7,-138.5 167.5,-138.5 182.6,-122.3 195.4,-97.5 205.5,-72 212.8,-46.4 217.3,-21.6Z"/>
<path fill="#52ff00" d="M218.2,0 216.7,19.2 212.2,41.3 204.9,64 194.8,86.7 182.1,108.7 167.1,129.7 149.9,138.5 -140.8,138.5 -157.9,129.7 -173,108.7 -185.7,86.7 -195.8,64 -203.1,41.3 -207.6,19.2 -209.1,0 -207.6,-21.4 -203.1,-45.9 -195.8,-71.1 -185.7,-96.3 -173,-120.8 -157.9,-138.5 167.1,-138.5 182.1,-120.8 194.8,-96.3 204.9,-71.1 212.2,-45.9 216.7,-21.4Z"/>
<path fill="#54ff00" d="M217.6,0 216.1,19 211.6,40.8 204.3,63.2 194.3,85.6 181.6,107.4 166.6,128.1 149.5,138.5 -140.1,138.5 -157.2,128.1 -172.2,107.4 -184.9,85.6 -194.9,63.2 -202.2,40.8 -206.7,19 -208.2,0 -206.7,-21.1 -202.2,-45.3 -194.9,-70.2 -184.9,-95.1 -172.2,-119.3 -157.2,-138.5 166.6,-138.5 181.6,-119.3 194.3,-95.1 204.3,-70.2 211.6,-45.3 216.1,-21.1Z"/>
<path fill="#57ff00" d="M216.9,0 215.5,18.8 211,40.3 203.8,62.4 193.7,84.5 181.1,106.1 166.2,126.5 149.2,138.5 -139.5,138.5 -156.5,126.5 -171.5,106.1 -184.1,84.5 -194.1,62.4 -201.4,40.3 -205.8,18.8 -207.3,0 -205.8,-20.9 -201.4,-44.7 -194.1,-69.4 -184.1,-93.9 -171.5,-117.8 -156.5,-138.5 166.2,-138.5 181.1,-117.8 193.7,-93.9 203.8,-69.4 211,-44.7 215.5,-20.9Z"/>
<path fill="#5aff00" d="M216.3,0 214.8,18.5 210.4,39.8 203.2,61.7 193.2,83.5 180.7,104.7 165.8,124.9 148.8,138.5 -138.8,138.5 -155.8,124.9 -170.7,104.7 -183.3,83.5 -193.2,61.7 -200.5,39.8 -204.9,18.5 -206.4,0 -204.9,-20.6 -200.5,-44.2 -193.2,-68.5 -183.3,-92.8 -170.7,-116.4 -155.8,-138.5 165.8,-138.5 180.7,-116.4 193.2,-92.8 203.2,-68.5 210.4,-44.2 214.8,-20.6Z"/>
<path fill="#5cff00" d="M215.7,0 214.2,18.3 209.8,39.3 202.6,60.9 192.7,82.4 180.2,103.4 165.3,123.3 148.4,138.5 -138.2,138.5 -155.1,123.3 -169.9,103.4 -182.4,82.4 -192.4,60.9 -199.6,39.3 -204,18.3 -205.5,0 -204,-20.3 -199.6,-43.6 -192.4,-67.6 -182.4,-91.6 -169.9,-114.9 -155.1,-137 -138.2,-138.5 148.4,-138.5 165.3,-137 180.2,-114.9 192.7,-91.6 202.6,-67.6 209.8,-43.6 214.2,-20.3Z"/>
<path fill="#5fff00" d="M215.1,0 213.6,18.1 209.2,38.7 202,60.1 192.1,81.4 179.7,102.1 164.9,121.7 148,138.5 -137.5,138.5 -154.4,121.7 -169.2,102.1 -181.6,81.4 -191.6,60.1 -198.8,38.7 -203.1,18.1 -204.6,0 -203.1,-20.1 -198.8,-43.1 -191.6,-66.8 -181.6,-90.4 -169.2,-113.4 -154.4,-135.3 -137.5,-138.5 148,-138.5 164.9,-135.3 179.7,-113.4 192.1,-90.4 202,-66.8 209.2,-43.1 213.6,-20.1Z"/>
<path fill="#62ff00" d="M214.5,0 213,17.8 208.6,38.2 201.5,59.3 191.6,80.3 179.2,100.7 164.4,120.2 147.6,138.2 129.1,138.5 -118.3,138.5 -136.9,138.2 -153.7,120.2 -168.4,100.7 -180.8,80.3 -190.7,59.3 -197.9,38.2 -202.2,17.8 -203.7,0 -202.2,-19.8 -197.9,-42.5 -190.7,-65.9 -180.8,-89.2 -168.4,-111.9 -153.7,-133.5 -136.9,-138.5 147.6,-138.5 164.4,-133.5 179.2,-111.9 191.6,-89.2 201.5,-65.9 208.6,-42.5 213,-19.8Z"/>
<path fill="#64ff00" d="M213.8,0 212.4,17.6 208,37.7 200.9,58.5 191,79.3 178.7,99.4 164,118.6 147.3,136.4 128.8,138.5 -117.7,138.5 -136.2,136.4 -153,118.6 -167.6,99.4 -180,79.3 -189.9,58.5 -197,37.7 -201.4,17.6 -202.8,0 -201.4,-19.6 -197,-41.9 -189.9,-65 -180,-88.1 -167.6,-110.5 -153,-131.8 -136.2,-138.5 147.3,-138.5 164,-131.8 178.7,-110.5 191,-88.1 200.9,-65 208,-41.9 212.4,-19.6Z"/>
<path fill="#67ff00" d="M213.2,0 211.8,17.4 207.4,37.2 200.3,57.8 190.5,78.2 178.2,98.1 163.6,117 146.9,134.6 128.4,138.5 -117.1,138.5 -135.6,134.6 -152.3,117 -166.9,98.1 -179.2,78.2 -189,57.8 -196.1,37.2 -200.5,17.4 -201.9,0 -200.5,-19.3 -196.1,-41.4 -189,-64.2 -179.2,-86.9 -166.9,-109 -152.3,-130 -135.6,-138.5 146.9,-138.5 163.6,-130 178.2,-109 190.5,-86.9 200.3,-64.2 207.4,-41.4 211.8,-19.3Z"/>
<path fill="#69ff00" d="M212.6,0 211.2,17.1 206.8,36.7 199.7,57 190,77.1 177.7,96.8 163.1,115.4 146.5,132.7 128.1,138.5 -116.6,138.5 -134.9,132.7 -151.5,115.4 -166.1,96.8 -178.4,77.1 -188.2,57 -195.3,36.7 -199.6,17.1 -201,0 -199.6,-19 -195.3,-40.8 -188.2,-63.3 -178.4,-85.7 -166.1,-107.5 -151.5,-128.2 -134.9,-138.5 146.5,-138.5 163.1,-128.2 177.7,-107.5 190,-85.7 199.7,-63.3 206.8,-40.8 211.2,-19Z"/>
<path fill="#6cff00" d="M212,0 210.5,16.9 206.2,36.2 199.2,56.2 189.4,76.1 177.2,95.4 162.7,113.8 146.1,130.9 127.8,138.5 -116,138.5 -134.3,130.9 -150.8,113.8 -165.4,95.4 -177.6,76.1 -187.3,56.2 -194.4,36.2 -198.7,16.9 -200.1,0 -198.7,-18.8 -194.4,-40.3 -187.3,-62.4 -177.6,-84.5 -165.4,-106 -150.8,-126.5 -134.3,-138.5 146.1,-138.5 162.7,-126.5 177.2,-106 189.4,-84.5 199.2,-62.4 206.2,-40.3 210.5,-18.8Z"/>
<path fill="#6fff00" d="M211.4,0 209.9,16.7 205.6,35.7 198.6,55.4 188.9,75 176.7,94.1 162.2,112.2 145.7,129.1 127.5,138.5 -115.4,138.5 -133.6,129.1 -150.1,112.2 -164.6,94.1 -176.8,75 -186.5,55.4 -193.5,35.7 -197.8,16.7 -199.2,0 -197.8,-18.5 -193.5,-39.7 -186.5,-61.6 -176.8,-83.4 -164.6,-104.6 -150.1,-124.7 -133.6,-138.5 145.7,-138.5 162.2,-124.7 176.7,-104.6 188.9,-83.4 198.6,-61.6 205.6,-39.7 209.9,-18.5Z"/>
<path fill="#71ff00" d="M210.7,0 209.3,16.4 205,35.2 198,54.6 188.4,74 176.2,92.8 161.8,110.7 145.4,127.3 127.2,138.5 -114.8,138.5 -133,127.3 -149.4,110.7 -163.8,92.8 -176,74 -185.6,54.6 -192.7,35.2 -196.9,16.4 -198.4,0 -196.9,-18.2 -192.7,-39.1 -185.6,-60.7 -176,-82.2 -163.8,-103.1 -149.4,-123 -133,-138.5 145.4,-138.5 161.8,-123 176.2,-103.1 188.4,-82.2 198,-60.7 205,-39.1 209.3,-18.2Z"/>
<path fill="#74ff00" d="M210.1,0 208.7,16.2 204.4,34.7 197.4,53.8 187.8,72.9 175.7,91.5 161.4,109.1 145,125.5 126.9,138.5 -114.2,138.5 -132.3,125.5 -148.7,109.1 -163.1,91.5 -175.2,72.9 -184.8,53.8 -191.8,34.7 -196,16.2 -197.5,0 -196,-18 -191.8,-38.6 -184.8,-59.8 -175.2,-81 -163.1,-101.6 -148.7,-121.2 -132.3,-138.5 145,-138.5 161.4,-121.2 175.7,-101.6 187.8,-81 197.4,-59.8 204.4,-38.6 208.7,-18Z"/>
<path fill="#77ff00" d="M209.5,0 208.1,16 203.8,34.2 196.9,53.1 187.3,71.9 175.2,90.1 160.9,107.5 144.6,123.6 126.6,138.2 107.2,138.5 -94.2,138.5 -113.7,138.2 -131.7,123.6 -148,107.5 -162.3,90.1 -174.4,71.9 -183.9,53.1 -190.9,34.2 -195.1,16 -196.6,0 -195.1,-17.7 -190.9,-38 -183.9,-59 -174.4,-79.8 -162.3,-100.1 -148,-119.4 -131.7,-137.4 -113.7,-138.5 126.6,-138.5 144.6,-137.4 160.9,-119.4 175.2,-100.1 187.3,-79.8 196.9,-59 203.8,-38 208.1,-17.7Z"/>
<path fill="#79ff00" d="M208.9,0 207.5,15.7 203.2,33.7 196.3,52.3 186.7,70.8 174.7,88.8 160.5,105.9 144.2,121.8 126.3,136.2 106.9,138.5 -93.7,138.5 -113.1,136.2 -131,121.8 -147.3,105.9 -161.5,88.8 -173.5,70.8 -183.1,52.3 -190,33.7 -194.3,15.7 -195.7,0 -194.3,-17.5 -190,-37.5 -183.1,-58.1 -173.5,-78.7 -161.5,-98.7 -147.3,-117.7 -131,-135.3 -113.1,-138.5 126.3,-138.5 144.2,-135.3 160.5,-117.7 174.7,-98.7 186.7,-78.7 196.3,-58.1 203.2,-37.5 207.5,-17.5Z"/>
<path fill="#7cff00" d="M208.2,0 206.8,15.5 202.6,33.2 195.7,51.5 186.2,69.7 174.2,87.5 160,104.3 143.8,120 125.9,134.2 106.7,138.5 -93.2,138.5 -112.5,134.2 -130.4,120 -146.6,104.3 -160.8,87.5 -172.7,69.7 -182.3,51.5 -189.2,33.2 -193.4,15.5 -194.8,0 -193.4,-17.2 -189.2,-36.9 -182.3,-57.2 -172.7,-77.5 -160.8,-97.2 -146.6,-115.9 -130.4,-133.3 -112.5,-138.5 125.9,-138.5 143.8,-133.3 160,-115.9 174.2,-97.2 186.2,-77.5 195.7,-57.2 202.6,-36.9 206.8,-17.2Z"/>
<path fill="#7fff00" d="M207.6,0 206.2,15.2 202,32.7 195.1,50.7 185.7,68.7 173.7,86.1 159.6,102.7 143.5,118.2 125.6,132.1 106.4,138.5 -92.7,138.5 -111.9,132.1 -129.7,118.2 -145.9,102.7 -160,86.1 -171.9,68.7 -181.4,50.7 -188.3,32.7 -192.5,15.2 -193.9,0 -192.5,-16.9 -188.3,-36.3 -181.4,-56.4 -171.9,-76.3 -160,-95.7 -145.9,-114.2 -129.7,-131.3 -111.9,-138.5 125.6,-138.5 143.5,-131.3 159.6,-114.2 173.7,-95.7 185.7,-76.3 195.1,-56.4 202,-36.3 206.2,-16.9Z"/>
<path fill="#82ff00" d="M207,0 205.6,15 201.4,32.2 194.6,49.9 185.1,67.6 173.2,84.8 159.1,101.2 143.1,116.3 125.3,130.1 106.2,138.5 -92.2,138.5 -111.3,130.1 -129.1,116.3 -145.1,101.2 -159.2,84.8 -171.1,67.6 -180.6,49.9 -187.4,32.2 -191.6,15 -193,0 -191.6,-16.7 -187.4,-35.8 -180.6,-55.5 -171.1,-75.1 -159.2,-94.2 -145.1,-112.4 -129.1,-129.3 -111.3,-138.5 125.3,-138.5 143.1,-129.3 159.1,-112.4 173.2,-94.2 185.1,-75.1 194.6,-55.5 201.4,-35.8 205.6,-16.7Z"/>
<path fill="#87ff00" d="M205.7,0 204.3,14.8 200.2,31.7 193.4,49.2 184,66.6 172.2,83.5 158.1,99.6 142.2,114.6 124.5,128.1 105.5,138.5 -91.9,138.5 -110.9,128.1 -128.6,114.6 -144.6,99.6 -158.6,83.5 -170.4,66.6 -179.8,49.2 -186.6,31.7 -190.8,14.8 -192.2,0 -190.8,-16.4 -186.6,-35.2 -179.8,-54.6 -170.4,-74 -158.6,-92.8 -144.6,-110.7 -128.6,-127.3 -110.9,-138.5 124.5,-138.5 142.2,-127.3 158.1,-110.7 172.2,-92.8 184,-74 193.4,-54.6 200.2,-35.2 204.3,-16.4Z"/>
<path fill="#8bff00" d="M204.5,0 203.1,14.6 199,31.2 192.2,48.4 182.8,65.6 171.1,82.2 157.1,98.1 141.2,112.8 123.7,126.1 104.7,137.8 84.8,138.5 -71.7,138.5 -91.6,137.8 -110.5,126.1 -128.1,112.8 -144,98.1 -157.9,82.2 -169.7,65.6 -179,48.4 -185.8,31.2 -189.9,14.6 -191.3,0 -189.9,-16.2 -185.8,-34.7 -179,-53.8 -169.7,-72.8 -157.9,-91.4 -144,-109 -128.1,-125.3 -110.5,-138.5 123.7,-138.5 141.2,-125.3 157.1,-109 171.1,-91.4 182.8,-72.8 192.2,-53.8 199,-34.7 203.1,-16.2Z"/>
<path fill="#90ff00" d="M203.2,0 201.8,14.3 197.7,30.7 191,47.7 181.7,64.5 170,80.9 156.1,96.5 140.3,111 122.8,124.1 104,135.6 84.2,138.5 -71.5,138.5 -91.3,135.6 -110.1,124.1 -127.6,111 -143.4,96.5 -157.2,80.9 -168.9,64.5 -178.2,47.7 -185,30.7 -189.1,14.3 -190.5,0 -189.1,-15.9 -185,-34.1 -178.2,-52.9 -168.9,-71.7 -157.2,-89.9 -143.4,-107.3 -127.6,-123.4 -110.1,-137.9 -91.3,-138.5 104,-138.5 122.8,-137.9 140.3,-123.4 156.1,-107.3 170,-89.9 181.7,-71.7 191,-52.9 197.7,-34.1 201.8,-15.9Z"/>
<path fill="#95ff00" d="M201.9,0 200.6,14.1 196.5,30.2 189.8,46.9 180.5,63.5 168.9,79.6 155.1,95 139.4,109.3 122,122.2 103.3,133.5 83.6,138.5 -71.3,138.5 -91,133.5 -109.7,122.2 -127.1,109.3 -142.8,95 -156.6,79.6 -168.2,63.5 -177.5,46.9 -184.2,30.2 -188.3,14.1 -189.6,0 -188.3,-15.7 -184.2,-33.6 -177.5,-52.1 -168.2,-70.6 -156.6,-88.5 -142.8,-105.6 -127.1,-121.4 -109.7,-135.7 -91,-138.5 103.3,-138.5 122,-135.7 139.4,-121.4 155.1,-105.6 168.9,-88.5 180.5,-70.6 189.8,-52.1 196.5,-33.6 200.6,-15.7Z"/>
<path fill="#99ff00" d="M200.7,0 199.3,13.9 195.3,29.7 188.6,46.1 179.4,62.5 167.8,78.4 154.1,93.5 138.4,107.5 121.2,120.2 102.5,131.3 83,138.5 -71.1,138.5 -90.6,131.3 -109.3,120.2 -126.6,107.5 -142.2,93.5 -155.9,78.4 -167.5,62.5 -176.7,46.1 -183.4,29.7 -187.4,13.9 -188.8,0 -187.4,-15.4 -183.4,-33.1 -176.7,-51.3 -167.5,-69.4 -155.9,-87.1 -142.2,-103.8 -126.6,-119.4 -109.3,-133.5 -90.6,-138.5 102.5,-138.5 121.2,-133.5 138.4,-119.4 154.1,-103.8 167.8,-87.1 179.4,-69.4 188.6,-51.3 195.3,-33.1 199.3,-15.4Z"/>
<path fill="#9eff00" d="M199.4,0 198.1,13.6 194,29.3 187.4,45.4 178.2,61.4 166.7,77.1 153.1,91.9 137.5,105.7 120.3,118.2 101.8,129.1 82.3,138.4 62.3,138.5 -50.8,138.5 -70.9,138.4 -90.3,129.1 -108.8,118.2 -126,105.7 -141.6,91.9 -155.3,77.1 -166.8,61.4 -175.9,45.4 -182.6,29.3 -186.6,13.6 -187.9,0 -186.6,-15.2 -182.6,-32.5 -175.9,-50.4 -166.8,-68.3 -155.3,-85.6 -141.6,-102.1 -126,-117.5 -108.8,-131.3 -90.3,-138.5 101.8,-138.5 120.3,-131.3 137.5,-117.5 153.1,-102.1 166.7,-85.6 178.2,-68.3 187.4,-50.4 194,-32.5 198.1,-15.2Z"/>
<path fill="#a2ff00" d="M198.2,0 196.8,13.4 192.8,28.8 186.2,44.6 177.1,60.4 165.6,75.8 152.1,90.4 136.6,103.9 119.5,116.2 101.1,127 81.7,136 61.8,138.5 -50.7,138.5 -70.6,136 -90,127 -108.4,116.2 -125.5,103.9 -141,90.4 -154.6,75.8 -166,60.4 -175.1,44.6 -181.7,28.8 -185.8,13.4 -187.1,0 -185.8,-14.9 -181.7,-32 -175.1,-49.6 -166,-67.1 -154.6,-84.2 -141,-100.4 -125.5,-115.5 -108.4,-129.1 -90,-138.5 101.1,-138.5 119.5,-129.1 136.6,-115.5 152.1,-100.4 165.6,-84.2 177.1,-67.1 186.2,-49.6 192.8,-32 196.8,-14.9Z"/>
<path fill="#a7ff00" d="M196.9,0 195.6,13.2 191.6,28.3 185,43.9 175.9,59.4 164.6,74.5 151.1,88.8 135.7,102.2 118.7,114.2 100.3,124.8 81.1,133.7 61.3,138.5 -50.6,138.5 -70.4,133.7 -89.7,124.8 -108,114.2 -125,102.2 -140.4,88.8 -153.9,74.5 -165.3,59.4 -174.4,43.9 -180.9,28.3 -184.9,13.2 -186.3,0 -184.9,-14.6 -180.9,-31.4 -174.4,-48.7 -165.3,-66 -153.9,-82.8 -140.4,-98.7 -125,-113.5 -108,-126.9 -89.7,-138.5 100.3,-138.5 118.7,-126.9 135.7,-113.5 151.1,-98.7 164.6,-82.8 175.9,-66 185,-48.7 191.6,-31.4 195.6,-14.6Z"/>
<path fill="#acff00" d="M195.6,0 194.3,13 190.3,27.8 183.8,43.1 174.8,58.3 163.5,73.2 150,87.3 134.7,100.4 117.8,112.2 99.6,122.6 80.4,131.4 60.7,138.4 41,138.5 -30.8,138.5 -50.5,138.4 -70.2,131.4 -89.4,122.6 -107.6,112.2 -124.5,100.4 -139.8,87.3 -153.3,73.2 -164.6,58.3 -173.6,43.1 -180.1,27.8 -184.1,13 -185.4,0 -184.1,-14.4 -180.1,-30.9 -173.6,-47.9 -164.6,-64.8 -153.3,-81.3 -139.8,-97 -124.5,-111.5 -107.6,-124.7 -89.4,-136.3 -70.2,-138.5 80.4,-138.5 99.6,-136.3 117.8,-124.7 134.7,-111.5 150,-97 163.5,-81.3 174.8,-64.8 183.8,-47.9 190.3,-30.9 194.3,-14.4Z"/>
<path fill="#b0ff00" d="M194.4,0 193,12.7 189.1,27.3 182.6,42.3 173.6,57.3 162.4,71.9 149,85.8 133.8,98.6 117,110.3 98.9,120.5 79.8,129.1 60.2,135.9 40.6,138.5 -30.8,138.5 -50.4,135.9 -70,129.1 -89.1,120.5 -107.2,110.3 -124,98.6 -139.2,85.8 -152.6,71.9 -163.8,57.3 -172.8,42.3 -179.3,27.3 -183.3,12.7 -184.6,0 -183.3,-14.1 -179.3,-30.3 -172.8,-47 -163.8,-63.7 -152.6,-79.9 -139.2,-95.3 -124,-109.6 -107.2,-122.5 -89.1,-133.9 -70,-138.5 79.8,-138.5 98.9,-133.9 117,-122.5 133.8,-109.6 149,-95.3 162.4,-79.9 173.6,-63.7 182.6,-47 189.1,-30.3 193,-14.1Z"/>
<path fill="#b5ff00" d="M193.1,0 191.8,12.5 187.9,26.8 181.4,41.6 172.5,56.3 161.3,70.6 148,84.2 132.9,96.8 116.2,108.3 98.1,118.3 79.2,126.8 59.7,133.5 40.2,138.4 21.2,138.5 -11.9,138.5 -30.8,138.4 -50.3,133.5 -69.8,126.8 -88.8,118.3 -106.8,108.3 -123.5,96.8 -138.7,84.2 -151.9,70.6 -163.1,56.3 -172,41.6 -178.5,26.8 -182.4,12.5 -183.7,0 -182.4,-13.9 -178.5,-29.8 -172,-46.2 -163.1,-62.5 -151.9,-78.4 -138.7,-93.6 -123.5,-107.6 -106.8,-120.3 -88.8,-131.5 -69.8,-138.5 79.2,-138.5 98.1,-131.5 116.2,-120.3 132.9,-107.6 148,-93.6 161.3,-78.4 172.5,-62.5 181.4,-46.2 187.9,-29.8 191.8,-13.9Z"/>
<path fill="#b9ff00" d="M191.8,0 190.5,12.3 186.6,26.3 180.2,40.8 171.3,55.3 160.2,69.3 147,82.7 132,95.1 115.3,106.3 97.4,116.2 78.6,124.4 59.2,131.1 39.8,135.8 20.9,138.5 -12,138.5 -30.8,135.8 -50.2,131.1 -69.6,124.4 -88.5,116.2 -106.4,106.3 -123,95.1 -138.1,82.7 -151.3,69.3 -162.4,55.3 -171.2,40.8 -177.7,26.3 -181.6,12.3 -182.9,0 -181.6,-13.6 -177.7,-29.2 -171.2,-45.3 -162.4,-61.4 -151.3,-77 -138.1,-91.9 -123,-105.6 -106.4,-118.1 -88.5,-129.1 -69.6,-138.3 -50.2,-138.5 59.2,-138.5 78.6,-138.3 97.4,-129.1 115.3,-118.1 132,-105.6 147,-91.9 160.2,-77 171.3,-61.4 180.2,-45.3 186.6,-29.2 190.5,-13.6Z"/>
<path fill="#beff00" d="M190.6,0 189.3,12 185.4,25.8 179,40 170.2,54.2 159.1,68 146,81.1 131,93.3 114.5,104.3 96.7,114 77.9,122.1 58.7,128.6 39.3,133.3 20.6,136.2 4.3,137.1 -12.1,136.2 -30.8,133.3 -50.1,128.6 -69.4,122.1 -88.2,114 -106,104.3 -122.5,93.3 -137.5,81.1 -150.6,68 -161.7,54.2 -170.5,40 -176.9,25.8 -180.8,12 -182.1,0 -180.8,-13.4 -176.9,-28.7 -170.5,-44.5 -161.7,-60.3 -150.6,-75.6 -137.5,-90.1 -122.5,-103.7 -106,-115.9 -88.2,-126.7 -69.4,-135.7 -50.1,-138.5 58.7,-138.5 77.9,-135.7 96.7,-126.7 114.5,-115.9 131,-103.7 146,-90.1 159.1,-75.6 170.2,-60.3 179,-44.5 185.4,-28.7 189.3,-13.4Z"/>
<path fill="#c2ff00" d="M189.3,0 188,11.8 184.2,25.3 177.8,39.3 169,53.2 158,66.7 145,79.6 130.1,91.5 113.7,102.3 95.9,111.8 77.3,119.8 58.2,126.2 38.9,130.8 20.3,133.6 4.1,134.5 -12.2,133.6 -30.8,130.8 -50,126.2 -69.2,119.8 -87.8,111.8 -105.6,102.3 -122,91.5 -136.9,79.6 -149.9,66.7 -160.9,53.2 -169.7,39.3 -176.1,25.3 -179.9,11.8 -181.2,0 -179.9,-13.1 -176.1,-28.1 -169.7,-43.7 -160.9,-59.1 -149.9,-74.1 -136.9,-88.4 -122,-101.7 -105.6,-113.7 -87.8,-124.2 -69.2,-133.1 -50,-138.5 58.2,-138.5 77.3,-133.1 95.9,-124.2 113.7,-113.7 130.1,-101.7 145,-88.4 158,-74.1 169,-59.1 177.8,-43.7 184.2,-28.1 188,-13.1Z"/>
<path fill="#c7ff00" d="M188.1,0 186.8,11.6 182.9,24.8 176.6,38.5 167.9,52.2 157,65.4 144,78 129.2,89.8 112.8,100.4 95.2,109.7 76.7,117.5 57.6,123.7 38.5,128.3 20,131 3.8,131.9 -12.3,131 -30.8,128.3 -50,123.7 -69,117.5 -87.5,109.7 -105.1,100.4 -121.5,89.8 -136.3,78 -149.3,65.4 -160.2,52.2 -168.9,38.5 -175.2,24.8 -179.1,11.6 -180.4,0 -179.1,-12.9 -175.2,-27.6 -168.9,-42.8 -160.2,-58 -149.3,-72.7 -136.3,-86.7 -121.5,-99.7 -105.1,-111.5 -87.5,-121.8 -69,-130.5 -50,-137.5 -30.8,-138.5 38.5,-138.5 57.6,-137.5 76.7,-130.5 95.2,-121.8 112.8,-111.5 129.2,-99.7 144,-86.7 157,-72.7 167.9,-58 176.6,-42.8 182.9,-27.6 186.8,-12.9Z"/>
<path fill="#ccff00" d="M186.8,0 185.5,11.4 181.7,24.4 175.4,37.8 166.8,51.1 155.9,64.1 143,76.5 128.3,88 112,98.4 94.5,107.5 76.1,115.2 57.1,121.3 38.1,125.7 19.7,128.4 3.6,129.3 -12.4,128.4 -30.9,125.7 -49.9,121.3 -68.8,115.2 -87.2,107.5 -104.7,98.4 -121,88 -135.7,76.5 -148.6,64.1 -159.5,51.1 -168.1,37.8 -174.4,24.4 -178.2,11.4 -179.5,0 -178.2,-12.6 -174.4,-27.1 -168.1,-42 -159.5,-56.8 -148.6,-71.3 -135.7,-85 -121,-97.8 -104.7,-109.3 -87.2,-119.4 -68.8,-128 -49.9,-134.8 -30.9,-138.5 38.1,-138.5 57.1,-134.8 76.1,-128 94.5,-119.4 112,-109.3 128.3,-97.8 143,-85 155.9,-71.3 166.8,-56.8 175.4,-42 181.7,-27.1 185.5,-12.6Z"/>
<path fill="#d0ff00" d="M185.5,0 184.3,11.1 180.5,23.9 174.2,37 165.6,50.1 154.8,62.8 142,75 127.3,86.2 111.2,96.4 93.7,105.3 75.4,112.8 56.6,118.8 37.7,123.2 19.4,125.8 3.4,126.7 -12.6,125.8 -30.9,123.2 -49.8,118.8 -68.6,112.8 -86.9,105.3 -104.3,96.4 -120.5,86.2 -135.1,75 -147.9,62.8 -158.8,50.1 -167.4,37 -173.6,23.9 -177.4,11.1 -178.7,0 -177.4,-12.4 -173.6,-26.5 -167.4,-41.1 -158.8,-55.7 -147.9,-69.8 -135.1,-83.3 -120.5,-95.8 -104.3,-107.1 -86.9,-117 -68.6,-125.4 -49.8,-132 -30.9,-136.9 -12.6,-138.5 19.4,-138.5 37.7,-136.9 56.6,-132 75.4,-125.4 93.7,-117 111.2,-107.1 127.3,-95.8 142,-83.3 154.8,-69.8 165.6,-55.7 174.2,-41.1 180.5,-26.5 184.3,-12.4Z"/>
<path fill="#d5ff00" d="M184.3,0 183,10.9 179.2,23.4 173,36.2 164.5,49.1 153.7,61.6 140.9,73.4 126.4,84.4 110.3,94.4 93,103.2 74.8,110.5 56.1,116.4 37.3,120.7 19.1,123.2 3.2,124.1 -12.7,123.2 -30.9,120.7 -49.7,116.4 -68.4,110.5 -86.6,103.2 -103.9,94.4 -120,84.4 -134.5,73.4 -147.3,61.6 -158,49.1 -166.6,36.2 -172.8,23.4 -176.6,10.9 -177.8,0 -176.6,-12.1 -172.8,-26 -166.6,-40.3 -158,-54.5 -147.3,-68.4 -134.5,-81.6 -120,-93.8 -103.9,-104.9 -86.6,-114.6 -68.4,-122.8 -49.7,-129.3 -30.9,-134.1 -12.7,-136.9 3.2,-137.9 19.1,-136.9 37.3,-134.1 56.1,-129.3 74.8,-122.8 93,-114.6 110.3,-104.9 126.4,-93.8 140.9,-81.6 153.7,-68.4 164.5,-54.5 173,-40.3 179.2,-26 183,-12.1Z"/>
<path fill="#d9ff00" d="M183,0 181.7,10.7 178,22.9 171.8,35.5 163.3,48 152.6,60.3 139.9,71.9 125.5,82.7 109.5,92.4 92.3,101 74.2,108.2 55.6,113.9 36.9,118.1 18.8,120.7 3,121.5 -12.8,120.7 -30.9,118.1 -49.6,113.9 -68.2,108.2 -86.3,101 -103.5,92.4 -119.5,82.7 -133.9,71.9 -146.6,60.3 -157.3,48 -165.8,35.5 -172,22.9 -175.7,10.7 -177,0 -175.7,-11.9 -172,-25.4 -165.8,-39.4 -157.3,-53.4 -146.6,-67 -133.9,-79.9 -119.5,-91.9 -103.5,-102.7 -86.3,-112.2 -68.2,-120.2 -49.6,-126.6 -30.9,-131.2 -12.8,-134.1 3,-135 18.8,-134.1 36.9,-131.2 55.6,-126.6 74.2,-120.2 92.3,-112.2 109.5,-102.7 125.5,-91.9 139.9,-79.9 152.6,-67 163.3,-53.4 171.8,-39.4 178,-25.4 181.7,-11.9Z"/>
<path fill="#dcff00" d="M182.2,0 180.9,10.5 177.2,22.5 171.1,34.8 162.6,47.1 152,59.1 139.4,70.5 125,81 109.1,90.5 92,98.9 73.9,106 55.4,111.6 36.8,115.6 18.7,118.1 2.9,118.9 -12.9,118.1 -31,115.6 -49.6,111.6 -68.2,106 -86.2,98.9 -103.3,90.5 -119.2,81 -133.6,70.5 -146.2,59.1 -156.8,47.1 -165.3,34.8 -171.4,22.5 -175.2,10.5 -176.4,0 -175.2,-11.7 -171.4,-25 -165.3,-38.7 -156.8,-52.4 -146.2,-65.7 -133.6,-78.3 -119.2,-90 -103.3,-100.6 -86.2,-109.9 -68.2,-117.7 -49.6,-124 -31,-128.5 -12.9,-131.2 2.9,-132.2 18.7,-131.2 36.8,-128.5 55.4,-124 73.9,-117.7 92,-109.9 109.1,-100.6 125,-90 139.4,-78.3 152,-65.7 162.6,-52.4 171.1,-38.7 177.2,-25 180.9,-11.7Z"/>
<path fill="#dfff00" d="M181.4,0 180.1,10.3 176.4,22.1 170.3,34.2 161.9,46.2 151.4,57.9 138.8,69 124.5,79.3 108.7,88.7 91.6,96.8 73.7,103.7 55.2,109.2 36.7,113.2 18.6,115.6 2.8,116.4 -13.1,115.6 -31.1,113.2 -49.7,109.2 -68.1,103.7 -86.1,96.8 -103.1,88.7 -118.9,79.3 -133.2,69 -145.8,57.9 -156.3,46.2 -164.7,34.2 -170.9,22.1 -174.6,10.3 -175.8,0 -174.6,-11.5 -170.9,-24.5 -164.7,-38 -156.3,-51.4 -145.8,-64.4 -133.2,-76.7 -118.9,-88.2 -103.1,-98.5 -86.1,-107.6 -68.1,-115.2 -49.7,-121.3 -31.1,-125.8 -13.1,-128.4 2.8,-129.3 18.6,-128.4 36.7,-125.8 55.2,-121.3 73.7,-115.2 91.6,-107.6 108.7,-98.5 124.5,-88.2 138.8,-76.7 151.4,-64.4 161.9,-51.4 170.3,-38 176.4,-24.5 180.1,-11.5Z"/>
<path fill="#e3ff00" d="M180.6,0 179.3,10.2 175.6,21.7 169.6,33.5 161.2,45.3 150.7,56.7 138.2,67.6 124,77.7 108.3,86.8 91.3,94.8 73.5,101.5 55.1,106.8 36.6,110.7 18.6,113.1 2.7,113.9 -13.2,113.1 -31.2,110.7 -49.7,106.8 -68.1,101.5 -86,94.8 -102.9,86.8 -118.7,77.7 -132.9,67.6 -145.4,56.7 -155.9,45.3 -164.2,33.5 -170.3,21.7 -174,10.2 -175.2,0 -174,-11.3 -170.3,-24.1 -164.2,-37.3 -155.9,-50.3 -145.4,-63 -132.9,-75.1 -118.7,-86.3 -102.9,-96.4 -86,-105.3 -68.1,-112.7 -49.7,-118.7 -31.2,-123 -13.2,-125.6 2.7,-126.5 18.6,-125.6 36.6,-123 55.1,-118.7 73.5,-112.7 91.3,-105.3 108.3,-96.4 124,-86.3 138.2,-75.1 150.7,-63 161.2,-50.3 169.6,-37.3 175.6,-24.1 179.3,-11.3Z"/>
<path fill="#e6ff00" d="M179.7,0 178.5,10 174.8,21.3 168.8,32.9 160.5,44.4 150.1,55.6 137.7,66.2 123.5,76 107.9,84.9 91,92.7 73.2,99.2 54.9,104.4 36.4,108.2 18.5,110.5 2.6,111.3 -13.3,110.5 -31.3,108.2 -49.8,104.4 -68.1,99.2 -85.9,92.7 -102.8,84.9 -118.4,76 -132.5,66.2 -144.9,55.6 -155.4,44.4 -163.7,32.9 -169.7,21.3 -173.4,10 -174.6,0 -173.4,-11.1 -169.7,-23.6 -163.7,-36.5 -155.4,-49.3 -144.9,-61.7 -132.5,-73.5 -118.4,-84.4 -102.8,-94.3 -85.9,-103 -68.1,-110.3 -49.8,-116 -31.3,-120.3 -13.3,-122.8 2.6,-123.7 18.5,-122.8 36.4,-120.3 54.9,-116 73.2,-110.3 91,-103 107.9,-94.3 123.5,-84.4 137.7,-73.5 150.1,-61.7 160.5,-49.3 168.8,-36.5 174.8,-23.6 178.5,-11.1Z"/>
<path fill="#e9ff00" d="M178.9,0 177.7,9.8 174.1,20.9 168.1,32.2 159.8,43.5 149.4,54.4 137.1,64.7 123,74.3 107.5,83 90.7,90.6 73,97 54.7,102.1 36.3,105.8 18.4,108 2.5,108.8 -13.5,108 -31.4,105.8 -49.8,102.1 -68.1,97 -85.8,90.6 -102.6,83 -118.1,74.3 -132.2,64.7 -144.5,54.4 -154.9,43.5 -163.2,32.2 -169.1,20.9 -172.8,9.8 -174,0 -172.8,-10.9 -169.1,-23.2 -163.2,-35.8 -154.9,-48.3 -144.5,-60.4 -132.2,-71.9 -118.1,-82.6 -102.6,-92.2 -85.8,-100.7 -68.1,-107.8 -49.8,-113.4 -31.4,-117.5 -13.5,-120 2.5,-120.8 18.4,-120 36.3,-117.5 54.7,-113.4 73,-107.8 90.7,-100.7 107.5,-92.2 123,-82.6 137.1,-71.9 149.4,-60.4 159.8,-48.3 168.1,-35.8 174.1,-23.2 177.7,-10.9Z"/>
<path fill="#edff00" d="M178.1,0 176.9,9.6 173.3,20.5 167.3,31.5 159.1,42.5 148.8,53.2 136.6,63.3 122.6,72.6 107.1,81.1 90.4,88.5 72.7,94.7 54.5,99.7 36.2,103.3 18.3,105.5 2.4,106.2 -13.6,105.5 -31.5,103.3 -49.8,99.7 -68,94.7 -85.7,88.5 -102.4,81.1 -117.9,72.6 -131.9,63.3 -144.1,53.2 -154.4,42.5 -162.6,31.5 -168.6,20.5 -172.2,9.6 -173.4,0 -172.2,-10.7 -168.6,-22.7 -162.6,-35 -154.4,-47.3 -144.1,-59.1 -131.9,-70.3 -117.9,-80.7 -102.4,-90.1 -85.7,-98.3 -68,-105.3 -49.8,-110.8 -31.5,-114.8 -13.6,-117.2 2.3,-118 18.3,-117.2 36.2,-114.8 54.5,-110.8 72.7,-105.3 90.4,-98.3 107.1,-90.1 122.6,-80.7 136.6,-70.3 148.8,-59.1 159.1,-47.3 167.3,-35 173.3,-22.7 176.9,-10.7Z"/>
<path fill="#f0ff00" d="M177.3,0 176.1,9.5 172.5,20 166.6,30.9 158.4,41.6 148.2,52 136,61.8 122.1,71 106.7,79.2 90,86.4 72.5,92.5 54.4,97.3 36.1,100.8 18.2,102.9 2.2,103.7 -13.7,102.9 -31.6,100.8 -49.9,97.3 -68,92.5 -85.6,86.4 -102.2,79.2 -117.6,71 -131.5,61.8 -143.7,52 -153.9,41.6 -162.1,30.9 -168,20 -171.6,9.5 -172.8,0 -171.6,-10.5 -168,-22.3 -162.1,-34.3 -153.9,-46.2 -143.7,-57.8 -131.5,-68.7 -117.6,-78.8 -102.2,-88 -85.6,-96 -68,-102.8 -49.9,-108.1 -31.6,-112 -13.7,-114.4 2.2,-115.2 18.2,-114.4 36.1,-112 54.4,-108.1 72.5,-102.8 90,-96 106.7,-88 122.1,-78.8 136,-68.7 148.2,-57.8 158.4,-46.2 166.6,-34.3 172.5,-22.3 176.1,-10.5Z"/>
<path fill="#f3ff00" d="M176.5,0 175.3,9.3 171.7,19.6 165.8,30.2 157.7,40.7 147.5,50.8 135.4,60.4 121.6,69.3 106.3,77.3 89.7,84.3 72.2,90.2 54.2,94.9 36,98.3 18.1,100.4 2.1,101.1 -13.9,100.4 -31.7,98.3 -49.9,94.9 -68,90.2 -85.4,84.3 -102,77.3 -117.3,69.3 -131.2,60.4 -143.3,50.8 -153.5,40.7 -161.6,30.2 -167.4,19.6 -171,9.3 -172.2,0 -171,-10.3 -167.4,-21.8 -161.6,-33.5 -153.5,-45.2 -143.3,-56.4 -131.2,-67.1 -117.3,-77 -102,-85.9 -85.4,-93.7 -68,-100.3 -49.9,-105.5 -31.7,-109.3 -13.9,-111.6 2.1,-112.3 18.1,-111.6 36,-109.3 54.2,-105.5 72.2,-100.3 89.7,-93.7 106.3,-85.9 121.6,-77 135.4,-67.1 147.5,-56.4 157.7,-45.2 165.8,-33.5 171.7,-21.8 175.3,-10.3Z"/>
<path fill="#f7ff00" d="M175.7,0 174.5,9.1 170.9,19.2 165.1,29.5 157,39.7 146.9,49.6 134.8,58.9 121.1,67.6 105.8,75.4 89.4,82.2 72,88 54,92.5 35.9,95.9 18,97.9 2,98.5 -14,97.9 -31.8,95.9 -50,92.5 -67.9,88 -85.3,82.2 -101.8,75.4 -117,67.6 -130.8,58.9 -142.8,49.6 -153,39.7 -161,29.5 -166.9,19.2 -170.4,9.1 -171.6,0 -170.4,-10.1 -166.9,-21.3 -161,-32.8 -153,-44.1 -142.8,-55.1 -130.8,-65.5 -117,-75.1 -101.8,-83.8 -85.3,-91.4 -67.9,-97.8 -50,-102.8 -31.8,-106.5 -14,-108.8 2,-109.5 18,-108.8 35.9,-106.5 54,-102.8 72,-97.8 89.4,-91.4 105.8,-83.8 121.1,-75.1 134.8,-65.5 146.9,-55.1 157,-44.1 165.1,-32.8 170.9,-21.3 174.5,-10.1Z"/>
<path fill="#faff00" d="M174.8,0 173.7,8.9 170.1,18.8 164.3,28.8 156.3,38.8 146.2,48.4 134.3,57.5 120.6,65.9 105.4,73.5 89.1,80.1 71.7,85.7 53.8,90.2 35.7,93.4 18,95.3 1.9,96 -14.1,95.3 -31.9,93.4 -50,90.2 -67.9,85.7 -85.2,80.1 -101.6,73.5 -116.8,65.9 -130.4,57.5 -142.4,48.4 -152.5,38.8 -160.5,28.8 -166.3,18.8 -169.8,8.9 -171,0 -169.8,-9.9 -166.3,-20.9 -160.5,-32 -152.5,-43.1 -142.4,-53.8 -130.4,-63.9 -116.8,-73.2 -101.6,-81.6 -85.2,-89 -67.9,-95.2 -50,-100.2 -31.9,-103.8 -14.1,-105.9 1.9,-106.7 18,-105.9 35.7,-103.8 53.8,-100.2 71.7,-95.2 89.1,-89 105.4,-81.6 120.6,-73.2 134.3,-63.9 146.2,-53.8 156.3,-43.1 164.3,-32 170.1,-20.9 173.7,-9.9Z"/>
<path fill="#fdff00" d="M174,0 172.8,8.7 169.3,18.3 163.6,28.1 155.6,37.8 145.6,47.2 133.7,56 120.1,64.2 105,71.6 88.7,78 71.5,83.5 53.7,87.8 35.6,90.9 17.9,92.8 1.8,93.5 -14.3,92.8 -32,90.9 -50,87.8 -67.9,83.5 -85.1,78 -101.4,71.6 -116.5,64.2 -130.1,56 -142,47.2 -152,37.8 -160,28.1 -165.7,18.3 -169.2,8.7 -170.4,0 -169.2,-9.7 -165.7,-20.4 -160,-31.3 -152,-42 -142,-52.4 -130.1,-62.2 -116.5,-71.3 -101.4,-79.5 -85.1,-86.7 -67.9,-92.7 -50,-97.5 -32,-101 -14.3,-103.1 1.8,-103.8 17.9,-103.1 35.6,-101 53.7,-97.5 71.5,-92.7 88.7,-86.7 105,-79.5 120.1,-71.3 133.7,-62.2 145.6,-52.4 155.6,-42 163.6,-31.3 169.3,-20.4 172.8,-9.7Z"/>
<path fill="#fffa00" d="M173.2,0 172,8.5 168.6,17.9 162.8,27.4 154.9,36.9 145,45.9 133.1,54.5 119.6,62.5 104.6,69.7 88.4,75.9 71.2,81.2 53.5,85.4 35.5,88.4 17.8,90.3 1.7,90.9 -14.4,90.3 -32.1,88.4 -50.1,85.4 -67.8,81.2 -85,75.9 -101.2,69.7 -116.2,62.5 -129.7,54.5 -141.6,45.9 -151.5,36.9 -159.4,27.4 -165.2,17.9 -168.6,8.5 -169.8,0 -168.6,-9.5 -165.2,-19.9 -159.4,-30.5 -151.5,-41 -141.6,-51.1 -129.7,-60.6 -116.2,-69.4 -101.2,-77.4 -85,-84.4 -67.8,-90.2 -50.1,-94.9 -32.1,-98.3 -14.4,-100.3 1.7,-101 17.8,-100.3 35.5,-98.3 53.5,-94.9 71.2,-90.2 88.4,-84.4 104.6,-77.4 119.6,-69.4 133.1,-60.6 145,-51.1 154.9,-41 162.8,-30.5 168.6,-19.9 172,-9.5Z"/>
<path fill="#fff100" d="M170.3,0 169.1,8.5 165.7,17.7 160.1,27.1 152.4,36.3 142.6,45.2 131,53.6 117.8,61.3 103.1,68.3 87.2,74.5 70.3,79.6 52.9,83.7 35.1,86.6 17.6,88.4 1.6,89 -14.5,88.4 -32,86.6 -49.7,83.7 -67.2,79.6 -84,74.5 -99.9,68.3 -114.6,61.3 -127.9,53.6 -139.5,45.2 -149.2,36.3 -156.9,27.1 -162.6,17.7 -166,8.5 -167.1,0 -166,-9.4 -162.6,-19.7 -156.9,-30.1 -149.2,-40.3 -139.5,-50.2 -127.9,-59.5 -114.6,-68.2 -99.9,-75.9 -84,-82.7 -67.2,-88.4 -49.7,-93 -32,-96.3 -14.5,-98.3 1.6,-98.9 17.6,-98.3 35.1,-96.3 52.9,-93 70.3,-88.4 87.2,-82.7 103.1,-75.9 117.8,-68.2 131,-59.5 142.6,-50.2 152.4,-40.3 160.1,-30.1 165.7,-19.7 169.1,-9.4Z"/>
<path fill="#ffe800" d="M167.3,0 166.2,8.4 162.9,17.5 157.4,26.7 149.8,35.7 140.3,44.4 129,52.6 116,60.2 101.6,67 86,73 69.4,78 52.2,82 34.7,84.8 17.4,86.6 1.5,87.2 -14.5,86.6 -31.8,84.8 -49.3,82 -66.5,78 -83,73 -98.7,67 -113.1,60.2 -126,52.6 -137.4,44.4 -146.9,35.7 -154.5,26.7 -160,17.5 -163.3,8.4 -164.4,0 -163.3,-9.3 -160,-19.4 -154.5,-29.6 -146.9,-39.7 -137.4,-49.3 -126,-58.5 -113.1,-66.9 -98.7,-74.5 -83,-81.1 -66.5,-86.6 -49.3,-91.1 -31.8,-94.3 -14.5,-96.2 1.5,-96.9 17.4,-96.2 34.7,-94.3 52.2,-91.1 69.4,-86.6 86,-81.1 101.6,-74.5 116,-66.9 129,-58.5 140.3,-49.3 149.8,-39.7 157.4,-29.6 162.9,-19.4 166.2,-9.3Z"/>
<path fill="#ffdf00" d="M164.4,0 163.3,8.3 160,17.3 154.7,26.3 147.3,35.1 138,43.6 126.9,51.6 114.1,59 100,65.7 84.7,71.5 68.5,76.4 51.6,80.2 34.4,83 17.3,84.7 1.3,85.3 -14.6,84.7 -31.7,83 -48.9,80.2 -65.8,76.4 -82,71.5 -97.4,65.7 -111.5,59 -124.2,51.6 -135.3,43.6 -144.6,35.1 -152,26.3 -157.4,17.3 -160.6,8.3 -161.7,0 -160.6,-9.3 -157.4,-19.2 -152,-29.2 -144.6,-39 -135.3,-48.5 -124.2,-57.4 -111.5,-65.6 -97.4,-73 -82,-79.4 -65.8,-84.8 -48.9,-89.1 -31.7,-92.3 -14.6,-94.2 1.3,-94.8 17.3,-94.2 34.4,-92.3 51.6,-89.1 68.5,-84.8 84.7,-79.4 100,-73 114.1,-65.6 126.9,-57.4 138,-48.5 147.3,-39 154.7,-29.2 160,-19.2 163.3,-9.3Z"/>
<path fill="#ffd600" d="M161.4,0 160.4,8.3 157.2,17.1 151.9,25.9 144.7,34.5 135.6,42.8 124.7,50.7 112.3,57.9 98.5,64.3 83.5,70 67.5,74.7 50.9,78.5 34,81.2 17.1,82.9 1.2,83.4 -14.6,82.9 -31.5,81.2 -48.5,78.5 -65.1,74.7 -81,70 -96,64.3 -109.9,57.9 -122.3,50.7 -133.2,42.8 -142.3,34.5 -149.5,25.9 -154.8,17.1 -157.9,8.3 -159,0 -157.9,-9.2 -154.8,-18.9 -149.5,-28.8 -142.3,-38.4 -133.2,-47.6 -122.3,-56.3 -109.9,-64.3 -96,-71.5 -81,-77.8 -65.1,-83 -48.5,-87.2 -31.5,-90.3 -14.6,-92.1 1.2,-92.7 17.1,-92.1 34,-90.3 50.9,-87.2 67.5,-83 83.5,-77.8 98.5,-71.5 112.3,-64.3 124.7,-56.3 135.6,-47.6 144.7,-38.4 151.9,-28.8 157.2,-18.9 160.4,-9.2Z"/>
<path fill="#ffcd00" d="M158.5,0 157.4,8.2 154.3,16.8 149.2,25.5 142.2,33.9 133.2,42 122.6,49.7 110.4,56.7 96.9,63 82.2,68.5 66.6,73.1 50.2,76.8 33.5,79.4 16.9,81 1.1,81.6 -14.7,81 -31.4,79.4 -48.1,76.8 -64.4,73.1 -80,68.5 -94.7,63 -108.3,56.7 -120.4,49.7 -131.1,42 -140,33.9 -147,25.5 -152.2,16.8 -155.3,8.2 -156.3,0 -155.3,-9.1 -152.2,-18.7 -147,-28.3 -140,-37.7 -131.1,-46.7 -120.4,-55.2 -108.3,-63 -94.7,-70 -80,-76.1 -64.4,-81.2 -48.1,-85.3 -31.4,-88.3 -14.7,-90 1.1,-90.6 16.9,-90 33.5,-88.3 50.2,-85.3 66.6,-81.2 82.2,-76.1 96.9,-70 110.4,-63 122.6,-55.2 133.2,-46.7 142.2,-37.7 149.2,-28.3 154.3,-18.7 157.4,-9.1Z"/>
<path fill="#ffc400" d="M155.5,0 154.5,8.1 151.5,16.6 146.5,25.1 139.6,33.3 130.9,41.2 120.5,48.7 108.6,55.5 95.3,61.6 80.9,67 65.6,71.5 49.6,75 33.1,77.6 16.7,79.2 1,79.7 -14.7,79.2 -31.2,77.6 -47.6,75 -63.6,71.5 -79,67 -93.4,61.6 -106.6,55.5 -118.6,48.7 -128.9,41.2 -137.6,33.3 -144.5,25.1 -149.6,16.6 -152.6,8.1 -153.6,0 -152.6,-9 -149.6,-18.4 -144.5,-27.8 -137.6,-37 -128.9,-45.8 -118.6,-54.1 -106.6,-61.7 -93.4,-68.5 -79,-74.4 -63.6,-79.4 -47.6,-83.4 -31.2,-86.3 -14.7,-88 1,-88.6 16.7,-88 33.1,-86.3 49.6,-83.4 65.6,-79.4 80.9,-74.4 95.3,-68.5 108.6,-61.7 120.5,-54.1 130.9,-45.8 139.6,-37 146.5,-27.8 151.5,-18.4 154.5,-9Z"/>
<path fill="#ffbb00" d="M152.6,0 151.6,8 148.6,16.3 143.8,24.6 137,32.7 128.5,40.4 118.4,47.7 106.7,54.3 93.7,60.3 79.6,65.5 64.6,69.9 48.9,73.3 32.7,75.8 16.5,77.3 0.9,77.9 -14.8,77.3 -31,75.8 -47.2,73.3 -62.9,69.9 -77.9,65.5 -92,60.3 -105,54.3 -116.7,47.7 -126.8,40.4 -135.3,32.7 -142.1,24.6 -146.9,16.3 -149.9,8 -150.9,0 -149.9,-8.9 -146.9,-18.2 -142.1,-27.4 -135.3,-36.3 -126.8,-44.9 -116.7,-52.9 -105,-60.3 -92,-67 -77.9,-72.8 -62.9,-77.6 -47.2,-81.5 -31,-84.2 -14.8,-85.9 0.8,-86.5 16.5,-85.9 32.7,-84.2 48.9,-81.5 64.6,-77.6 79.6,-72.8 93.7,-67 106.7,-60.3 118.4,-52.9 128.5,-44.9 137,-36.3 143.8,-27.4 148.6,-18.2 151.6,-8.9Z"/>
<path fill="#ffb200" d="M149.7,0 148.7,7.9 145.8,16.1 141,24.2 134.4,32.1 126.1,39.6 116.2,46.6 104.8,53.1 92.1,58.9 78.3,64 63.6,68.2 48.1,71.6 32.3,74 16.2,75.5 0.7,76 -14.8,75.5 -30.8,74 -46.7,71.6 -62.1,68.2 -76.9,64 -90.7,58.9 -103.4,53.1 -114.8,46.6 -124.7,39.6 -133,32.1 -139.6,24.2 -144.3,16.1 -147.2,7.9 -148.2,0 -147.2,-8.8 -144.3,-17.9 -139.6,-26.9 -133,-35.6 -124.7,-44 -114.8,-51.8 -103.4,-59 -90.7,-65.5 -76.9,-71.1 -62.1,-75.8 -46.7,-79.5 -30.8,-82.2 -14.8,-83.9 0.7,-84.4 16.2,-83.9 32.3,-82.2 48.1,-79.5 63.6,-75.8 78.3,-71.1 92.1,-65.5 104.8,-59 116.2,-51.8 126.1,-44 134.4,-35.6 141,-26.9 145.8,-17.9 148.7,-8.8Z"/>
<path fill="#ffa900" d="M146.7,0 145.8,7.8 143,15.8 138.3,23.7 131.9,31.4 123.8,38.8 114.1,45.6 102.9,51.9 90.5,57.6 77,62.5 62.6,66.6 47.4,69.9 31.8,72.2 16,73.6 0.6,74.1 -14.8,73.6 -30.6,72.2 -46.2,69.9 -61.3,66.6 -75.8,62.5 -89.3,57.6 -101.7,51.9 -112.9,45.6 -122.5,38.8 -130.7,31.4 -137.1,23.7 -141.7,15.8 -144.6,7.8 -145.5,0 -144.6,-8.7 -141.7,-17.6 -137.1,-26.4 -130.7,-34.9 -122.5,-43.1 -112.9,-50.7 -101.7,-57.7 -89.3,-64 -75.8,-69.4 -61.3,-74 -46.2,-77.6 -30.6,-80.2 -14.8,-81.8 0.6,-82.4 16,-81.8 31.8,-80.2 47.4,-77.6 62.6,-74 77,-69.4 90.5,-64 102.9,-57.7 114.1,-50.7 123.8,-43.1 131.9,-34.9 138.3,-26.4 143,-17.6 145.8,-8.7Z"/>
<path fill="#ffa000" d="M143.8,0 142.9,7.7 140.1,15.6 135.6,23.3 129.3,30.8 121.4,37.9 111.9,44.6 101,50.7 88.9,56.2 75.7,61 61.5,65 46.7,68.1 31.3,70.4 15.8,71.8 0.5,72.3 -14.8,71.8 -30.4,70.4 -45.7,68.1 -60.6,65 -74.7,61 -87.9,56.2 -100.1,50.7 -110.9,44.6 -120.4,37.9 -128.3,30.8 -134.6,23.3 -139.1,15.6 -141.9,7.7 -142.8,0 -141.9,-8.6 -139.1,-17.3 -134.6,-25.9 -128.3,-34.2 -120.4,-42.1 -110.9,-49.5 -100.1,-56.3 -87.9,-62.4 -74.7,-67.7 -60.6,-72.2 -45.7,-75.7 -30.4,-78.2 -14.8,-79.8 0.5,-80.3 15.8,-79.8 31.3,-78.2 46.7,-75.7 61.5,-72.2 75.7,-67.7 88.9,-62.4 101,-56.3 111.9,-49.5 121.4,-42.1 129.3,-34.2 135.6,-25.9 140.1,-17.3 142.9,-8.6Z"/>
<path fill="#ff9700" d="M140.8,0 139.9,7.6 137.3,15.3 132.8,22.8 126.7,30.1 119,37.1 109.7,43.6 99.1,49.5 87.3,54.8 74.3,59.4 60.5,63.3 45.9,66.4 30.9,68.6 15.5,69.9 0.4,70.4 -14.8,69.9 -30.1,68.6 -45.2,66.4 -59.8,63.3 -73.6,59.4 -86.5,54.8 -98.4,49.5 -109,43.6 -118.2,37.1 -126,30.1 -132.1,22.8 -136.5,15.3 -139.2,7.6 -140.1,0 -139.2,-8.4 -136.5,-17 -132.1,-25.4 -126,-33.5 -118.2,-41.2 -109,-48.4 -98.4,-55 -86.5,-60.9 -73.6,-66 -59.8,-70.3 -45.2,-73.8 -30.1,-76.2 -14.8,-77.7 0.4,-78.2 15.5,-77.7 30.9,-76.2 45.9,-73.8 60.5,-70.3 74.3,-66 87.3,-60.9 99.1,-55 109.7,-48.4 119,-41.2 126.7,-33.5 132.8,-25.4 137.3,-17 139.9,-8.4Z"/>
<path fill="#ff8e00" d="M137.9,0 137,7.5 134.4,15 130.1,22.4 124.1,29.5 116.6,36.2 107.6,42.5 97.2,48.3 85.6,53.4 73,57.9 59.4,61.7 45.2,64.6 30.4,66.8 15.3,68.1 0.2,68.5 -14.8,68.1 -29.9,66.8 -44.7,64.6 -58.9,61.7 -72.5,57.9 -85.1,53.4 -96.7,48.3 -107.1,42.5 -116.1,36.2 -123.6,29.5 -129.6,22.4 -133.9,15 -136.5,7.5 -137.4,0 -136.5,-8.3 -133.9,-16.7 -129.6,-24.8 -123.6,-32.7 -116.1,-40.2 -107.1,-47.2 -96.7,-53.6 -85.1,-59.4 -72.5,-64.4 -58.9,-68.5 -44.7,-71.8 -29.9,-74.2 -14.8,-75.7 0.2,-76.1 15.3,-75.7 30.4,-74.2 45.2,-71.8 59.4,-68.5 73,-64.4 85.6,-59.4 97.2,-53.6 107.6,-47.2 116.6,-40.2 124.1,-32.7 130.1,-24.8 134.4,-16.7 137,-8.3Z"/>
<path fill="#ff8500" d="M134.9,0 134.1,7.4 131.5,14.7 127.3,21.9 121.5,28.8 114.2,35.3 105.4,41.5 95.3,47.1 84,52.1 71.6,56.4 58.4,60 44.4,62.9 29.9,65 15,66.2 0.1,66.7 -14.8,66.2 -29.6,65 -44.1,62.9 -58.1,60 -71.4,56.4 -83.7,52.1 -95,47.1 -105.1,41.5 -113.9,35.3 -121.3,28.8 -127.1,21.9 -131.3,14.7 -133.8,7.4 -134.7,0 -133.8,-8.2 -131.3,-16.3 -127.1,-24.3 -121.3,-32 -113.9,-39.3 -105.1,-46.1 -95,-52.3 -83.7,-57.8 -71.4,-62.7 -58.1,-66.7 -44.1,-69.9 -29.6,-72.2 -14.8,-73.6 0.1,-74.1 15,-73.6 29.9,-72.2 44.4,-69.9 58.4,-66.7 71.6,-62.7 84,-57.8 95.3,-52.3 105.4,-46.1 114.2,-39.3 121.5,-32 127.3,-24.3 131.5,-16.3 134.1,-8.2Z"/>
<path fill="#ff7d00" d="M132,0 131.2,7.3 128.7,14.4 124.6,21.4 118.9,28.1 111.8,34.5 103.2,40.4 93.3,45.8 82.3,50.7 70.2,54.9 57.3,58.4 43.6,61.2 29.4,63.2 14.8,64.4 0,64.8 -14.8,64.4 -29.4,63.2 -43.6,61.2 -57.3,58.4 -70.2,54.9 -82.3,50.7 -93.3,45.8 -103.2,40.4 -111.8,34.5 -118.9,28.1 -124.6,21.4 -128.7,14.4 -131.2,7.3 -132,0 -131.2,-8.1 -128.7,-16 -124.6,-23.8 -118.9,-31.2 -111.8,-38.3 -103.2,-44.9 -93.3,-50.9 -82.3,-56.3 -70.2,-61 -57.3,-64.9 -43.6,-68 -29.4,-70.2 -14.8,-71.5 0,-72 14.8,-71.5 29.4,-70.2 43.6,-68 57.3,-64.9 70.2,-61 82.3,-56.3 93.3,-50.9 103.2,-44.9 111.8,-38.3 118.9,-31.2 124.6,-23.8 128.7,-16 131.2,-8.1Z"/>
<path fill="#ff7700" d="M129,0 128.1,7.1 125.7,14.2 121.7,21 116.2,27.6 109.2,33.8 100.9,39.6 91.2,44.9 80.5,49.7 68.7,53.8 56,57.2 42.7,59.9 28.8,61.9 14.5,63.1 0,63.5 -14.6,63.1 -28.8,61.9 -42.8,59.9 -56.1,57.2 -68.8,53.8 -80.6,49.7 -91.3,44.9 -101,39.6 -109.3,33.8 -116.3,27.6 -121.8,21 -125.8,14.2 -128.2,7.1 -129,0 -128.2,-7.9 -125.8,-15.8 -121.8,-23.4 -116.3,-30.7 -109.3,-37.6 -101,-44 -91.3,-49.9 -80.6,-55.2 -68.8,-59.8 -56.1,-63.6 -42.8,-66.6 -28.8,-68.8 -14.6,-70.1 0,-70.5 14.5,-70.1 28.8,-68.8 42.7,-66.6 56,-63.6 68.7,-59.8 80.5,-55.2 91.2,-49.9 100.9,-44 109.2,-37.6 116.2,-30.7 121.7,-23.4 125.7,-15.8 128.1,-7.9Z"/>
<path fill="#ff7100" d="M125.9,0 125.1,7 122.8,13.9 118.9,20.6 113.5,27.1 106.7,33.2 98.5,38.9 89.1,44 78.6,48.7 67.1,52.7 54.8,56.1 41.7,58.7 28.1,60.6 14.2,61.8 -0.1,62.2 -14.3,61.8 -28.3,60.6 -41.9,58.7 -55,56.1 -67.3,52.7 -78.8,48.7 -89.3,44 -98.7,38.9 -106.9,33.2 -113.7,27.1 -119.1,20.6 -122.9,13.9 -125.3,7 -126.1,0 -125.3,-7.8 -122.9,-15.5 -119.1,-22.9 -113.7,-30.1 -106.9,-36.9 -98.7,-43.2 -89.3,-48.9 -78.8,-54.1 -67.3,-58.5 -55,-62.3 -41.9,-65.2 -28.3,-67.4 -14.3,-68.7 -0.1,-69.1 14.2,-68.7 28.1,-67.4 41.7,-65.2 54.8,-62.3 67.1,-58.5 78.6,-54.1 89.1,-48.9 98.5,-43.2 106.7,-36.9 113.5,-30.1 118.9,-22.9 122.8,-15.5 125.1,-7.8Z"/>
<path fill="#ff6c00" d="M122.9,0 122.1,6.9 119.8,13.7 116,20.3 110.8,26.6 104.1,32.5 96.2,38.1 87,43.1 76.8,47.7 65.6,51.6 53.5,54.9 40.8,57.5 27.5,59.4 13.8,60.5 -0.1,60.9 -14.1,60.5 -27.8,59.4 -41.1,57.5 -53.8,54.9 -65.9,51.6 -77.1,47.7 -87.3,43.1 -96.5,38.1 -104.4,32.5 -111,26.6 -116.3,20.3 -120.1,13.7 -122.4,6.9 -123.1,0 -122.4,-7.7 -120.1,-15.2 -116.3,-22.5 -111,-29.5 -104.4,-36.1 -96.5,-42.3 -87.3,-47.9 -77.1,-53 -65.9,-57.3 -53.8,-61 -41.1,-63.9 -27.8,-66 -14.1,-67.2 -0.1,-67.6 13.8,-67.2 27.5,-66 40.8,-63.9 53.5,-61 65.6,-57.3 76.8,-53 87,-47.9 96.2,-42.3 104.1,-36.1 110.8,-29.5 116,-22.5 119.8,-15.2 122.1,-7.7Z"/>
<path fill="#ff6600" d="M119.8,0 119.1,6.8 116.8,13.4 113.1,19.9 108,26 101.6,31.9 93.8,37.3 84.9,42.2 75,46.7 64,50.5 52.3,53.7 39.8,56.3 26.9,58.1 13.5,59.2 -0.2,59.6 -13.9,59.2 -27.2,58.1 -40.2,56.3 -52.6,53.7 -64.4,50.5 -75.3,46.7 -85.3,42.2 -94.2,37.3 -101.9,31.9 -108.4,26 -113.5,19.9 -117.2,13.4 -119.4,6.8 -120.2,0 -119.4,-7.6 -117.2,-14.9 -113.5,-22.1 -108.4,-28.9 -101.9,-35.4 -94.2,-41.4 -85.3,-46.9 -75.3,-51.9 -64.4,-56.1 -52.6,-59.7 -40.2,-62.5 -27.2,-64.5 -13.9,-65.8 -0.2,-66.2 13.5,-65.8 26.9,-64.5 39.8,-62.5 52.3,-59.7 64,-56.1 75,-51.9 84.9,-46.9 93.8,-41.4 101.6,-35.4 108,-28.9 113.1,-22.1 116.8,-14.9 119.1,-7.6Z"/>
<path fill="#ff6000" d="M116.8,0 116,6.7 113.9,13.2 110.3,19.5 105.3,25.5 99,31.2 91.5,36.5 82.8,41.4 73.1,45.7 62.5,49.4 51,52.5 38.9,55 26.3,56.8 13.2,57.9 -0.2,58.3 -13.7,57.9 -26.7,56.8 -39.4,55 -51.5,52.5 -62.9,49.4 -73.6,45.7 -83.3,41.4 -92,36.5 -99.5,31.2 -105.8,25.5 -110.7,19.5 -114.3,13.2 -116.5,6.7 -117.2,0 -116.5,-7.4 -114.3,-14.6 -110.7,-21.6 -105.8,-28.3 -99.5,-34.7 -92,-40.6 -83.3,-45.9 -73.6,-50.7 -62.9,-54.9 -51.5,-58.4 -39.4,-61.1 -26.7,-63.1 -13.7,-64.3 -0.2,-64.7 13.2,-64.3 26.3,-63.1 38.9,-61.1 51,-58.4 62.5,-54.9 73.1,-50.7 82.8,-45.9 91.5,-40.6 99,-34.7 105.3,-28.3 110.3,-21.6 113.9,-14.6 116,-7.4Z"/>
<path fill="#ff5a00" d="M113.7,0 113,6.6 110.9,12.9 107.4,19.1 102.6,25 96.5,30.6 89.2,35.7 80.7,40.5 71.3,44.7 60.9,48.3 49.7,51.4 37.9,53.8 25.6,55.5 12.9,56.6 -0.3,56.9 -13.4,56.6 -26.2,55.5 -38.5,53.8 -50.3,51.4 -61.4,48.3 -71.8,44.7 -81.3,40.5 -89.7,35.7 -97,30.6 -103.1,25 -108,19.1 -111.5,12.9 -113.6,6.6 -114.3,0 -113.6,-7.3 -111.5,-14.4 -108,-21.2 -103.1,-27.8 -97,-34 -89.7,-39.7 -81.3,-44.9 -71.8,-49.6 -61.4,-53.7 -50.3,-57.1 -38.5,-59.8 -26.2,-61.7 -13.4,-62.9 -0.3,-63.3 12.9,-62.9 25.6,-61.7 37.9,-59.8 49.7,-57.1 60.9,-53.7 71.3,-49.6 80.7,-44.9 89.2,-39.7 96.5,-34 102.6,-27.8 107.4,-21.2 110.9,-14.4 113,-7.3Z"/>
<path fill="#ff5400" d="M110.7,0 110,6.4 107.9,12.7 104.5,18.7 99.9,24.5 93.9,29.9 86.8,34.9 78.6,39.6 69.4,43.7 59.3,47.2 48.5,50.2 37,52.6 25,54.3 12.5,55.3 -0.3,55.6 -13.2,55.3 -25.6,54.3 -37.6,52.6 -49.1,50.2 -60,47.2 -70,43.7 -79.2,39.6 -87.4,34.9 -94.5,29.9 -100.5,24.5 -105.2,18.7 -108.6,12.7 -110.6,6.4 -111.3,0 -110.6,-7.2 -108.6,-14.1 -105.2,-20.8 -100.5,-27.2 -94.5,-33.2 -87.4,-38.8 -79.2,-43.9 -70,-48.5 -60,-52.5 -49.1,-55.8 -37.6,-58.4 -25.6,-60.3 -13.2,-61.4 -0.3,-61.8 12.5,-61.4 25,-60.3 37,-58.4 48.5,-55.8 59.3,-52.5 69.4,-48.5 78.6,-43.9 86.8,-38.8 93.9,-33.2 99.9,-27.2 104.5,-20.8 107.9,-14.1 110,-7.2Z"/>
<path fill="#ff4f00" d="M107.6,0 107,6.3 105,12.4 101.7,18.3 97.1,23.9 91.4,29.2 84.4,34.2 76.5,38.7 67.5,42.7 57.7,46.1 47.2,49 36,51.3 24.3,53 12.2,54 -0.4,54.3 -12.9,54 -25,53 -36.7,51.3 -47.9,49 -58.5,46.1 -68.3,42.7 -77.2,38.7 -85.2,34.2 -92.1,29.2 -97.8,23.9 -102.4,18.3 -105.7,12.4 -107.7,6.3 -108.4,0 -107.7,-7 -105.7,-13.8 -102.4,-20.3 -97.8,-26.6 -92.1,-32.5 -85.2,-38 -77.2,-42.9 -68.3,-47.4 -58.5,-51.3 -47.9,-54.5 -36.7,-57 -25,-58.9 -12.9,-60 -0.4,-60.4 12.2,-60 24.3,-58.9 36,-57 47.2,-54.5 57.7,-51.3 67.5,-47.4 76.5,-42.9 84.4,-38 91.4,-32.5 97.1,-26.6 101.7,-20.3 105,-13.8 107,-7Z"/>
<path fill="#ff4900" d="M104.6,0 103.9,6.2 102,12.2 98.8,17.9 94.4,23.4 88.8,28.6 82.1,33.4 74.4,37.8 65.7,41.7 56.2,45 45.9,47.9 35,50.1 23.7,51.7 11.9,52.7 -0.4,53 -12.7,52.7 -24.5,51.7 -35.9,50.1 -46.7,47.9 -57,45 -66.5,41.7 -75.2,37.8 -82.9,33.4 -89.6,28.6 -95.2,23.4 -99.6,17.9 -102.8,12.2 -104.8,6.2 -105.4,0 -104.8,-6.9 -102.8,-13.5 -99.6,-19.9 -95.2,-26 -89.6,-31.7 -82.9,-37.1 -75.2,-41.9 -66.5,-46.3 -57,-50 -46.7,-53.2 -35.9,-55.7 -24.5,-57.5 -12.7,-58.5 -0.4,-58.9 11.9,-58.5 23.7,-57.5 35,-55.7 45.9,-53.2 56.2,-50 65.7,-46.3 74.4,-41.9 82.1,-37.1 88.8,-31.7 94.4,-26 98.8,-19.9 102,-13.5 103.9,-6.9Z"/>
<path fill="#ff4300" d="M101.5,0 100.9,6.1 99,11.9 95.9,17.5 91.7,22.9 86.2,27.9 79.7,32.6 72.2,36.8 63.8,40.6 54.6,43.9 44.6,46.7 34.1,48.9 23,50.4 11.5,51.4 -0.5,51.7 -12.4,51.4 -23.9,50.4 -35,48.9 -45.5,46.7 -55.5,43.9 -64.7,40.6 -73.1,36.8 -80.6,32.6 -87.1,27.9 -92.6,22.9 -96.9,17.5 -100,11.9 -101.8,6.1 -102.5,0 -101.8,-6.8 -100,-13.2 -96.9,-19.4 -92.6,-25.4 -87.1,-31 -80.6,-36.2 -73.1,-40.9 -64.7,-45.2 -55.5,-48.8 -45.5,-51.9 -35,-54.3 -23.9,-56 -12.4,-57.1 -0.5,-57.5 11.5,-57.1 23,-56 34.1,-54.3 44.6,-51.9 54.6,-48.8 63.8,-45.2 72.2,-40.9 79.7,-36.2 86.2,-31 91.7,-25.4 95.9,-19.4 99,-13.2 100.9,-6.8Z"/>
<path fill="#ff3d00" d="M98.5,0 97.9,6 96.1,11.6 93.1,17.1 88.9,22.3 83.7,27.2 77.4,31.8 70.1,35.9 61.9,39.6 53,42.8 43.3,45.5 33.1,47.6 22.4,49.2 11.2,50.1 -0.5,50.4 -12.2,50.1 -23.4,49.2 -34.1,47.6 -44.3,45.5 -54,42.8 -62.9,39.6 -71.1,35.9 -78.4,31.8 -84.7,27.2 -89.9,22.3 -94.1,17.1 -97.1,11.6 -98.9,6 -99.5,0 -98.9,-6.6 -97.1,-12.9 -94.1,-19 -89.9,-24.8 -84.7,-30.3 -78.4,-35.3 -71.1,-39.9 -62.9,-44 -54,-47.6 -44.3,-50.6 -34.1,-52.9 -23.4,-54.6 -12.2,-55.7 -0.5,-56 11.2,-55.7 22.4,-54.6 33.1,-52.9 43.3,-50.6 53,-47.6 61.9,-44 70.1,-39.9 77.4,-35.3 83.7,-30.3 88.9,-24.8 93.1,-19 96.1,-12.9 97.9,-6.6Z"/>
<path fill="#ff3700" d="M95.5,0 94.9,5.8 93.1,11.4 90.2,16.7 86.2,21.8 81.1,26.6 75,31 68,35 60.1,38.6 51.4,41.8 42,44.4 32.1,46.4 21.7,47.9 10.8,48.8 -0.5,49.1 -11.9,48.8 -22.8,47.9 -33.2,46.4 -43.1,44.4 -52.5,41.8 -61.2,38.6 -69.1,35 -76.1,31 -82.2,26.6 -87.3,21.8 -91.3,16.7 -94.2,11.4 -96,5.8 -96.5,0 -96,-6.5 -94.2,-12.6 -91.3,-18.6 -87.3,-24.2 -82.2,-29.5 -76.1,-34.4 -69.1,-38.9 -61.2,-42.9 -52.5,-46.4 -43.1,-49.3 -33.2,-51.6 -22.8,-53.2 -11.9,-54.2 -0.5,-54.5 10.8,-54.2 21.7,-53.2 32.1,-51.6 42,-49.3 51.4,-46.4 60.1,-42.9 68,-38.9 75,-34.4 81.1,-29.5 86.2,-24.2 90.2,-18.6 93.1,-12.6 94.9,-6.5Z"/>
<path fill="#ff3100" d="M92.4,0 91.8,5.7 90.1,11.1 87.3,16.3 83.5,21.2 78.5,25.9 72.6,30.2 65.8,34.1 58.2,37.6 49.8,40.7 40.7,43.2 31.1,45.2 21,46.6 10.5,47.5 -0.6,47.8 -11.7,47.5 -22.2,46.6 -32.3,45.2 -41.9,43.2 -51,40.7 -59.4,37.6 -67,34.1 -73.8,30.2 -79.7,25.9 -84.6,21.2 -88.5,16.3 -91.3,11.1 -93,5.7 -93.6,0 -93,-6.3 -91.3,-12.3 -88.5,-18.1 -84.6,-23.6 -79.7,-28.8 -73.8,-33.6 -67,-37.9 -59.4,-41.8 -51,-45.2 -41.9,-48 -32.3,-50.2 -22.2,-51.8 -11.7,-52.8 -0.6,-53.1 10.5,-52.8 21,-51.8 31.1,-50.2 40.7,-48 49.8,-45.2 58.2,-41.8 65.8,-37.9 72.6,-33.6 78.5,-28.8 83.5,-23.6 87.3,-18.1 90.1,-12.3 91.8,-6.3Z"/>
<path fill="#ff2c00" d="M89.4,0 88.8,5.6 87.2,10.8 84.5,15.9 80.7,20.7 76,25.2 70.3,29.4 63.7,33.2 56.3,36.6 48.2,39.6 39.4,42 30.1,43.9 20.3,45.3 10.1,46.2 -0.6,46.5 -11.4,46.2 -21.6,45.3 -31.4,43.9 -40.7,42 -49.5,39.6 -57.6,36.6 -65,33.2 -71.5,29.4 -77.2,25.2 -82,20.7 -85.7,15.9 -88.4,10.8 -90.1,5.6 -90.6,0 -90.1,-6.2 -88.4,-12 -85.7,-17.6 -82,-23 -77.2,-28 -71.5,-32.7 -65,-36.9 -57.6,-40.7 -49.5,-43.9 -40.7,-46.7 -31.4,-48.8 -21.6,-50.4 -11.4,-51.3 -0.6,-51.6 10.1,-51.3 20.3,-50.4 30.1,-48.8 39.4,-46.7 48.2,-43.9 56.3,-40.7 63.7,-36.9 70.3,-32.7 76,-28 80.7,-23 84.5,-17.6 87.2,-12 88.8,-6.2Z"/>
<path fill="#ff2600" d="M86.3,0 85.8,5.4 84.2,10.6 81.6,15.5 78,20.1 73.4,24.5 67.9,28.6 61.5,32.3 54.4,35.6 46.6,38.5 38.1,40.8 29.1,42.7 19.7,44.1 9.8,44.9 -0.7,45.2 -11.2,44.9 -21,44.1 -30.5,42.7 -39.5,40.8 -47.9,38.5 -55.8,35.6 -62.9,32.3 -69.3,28.6 -74.8,24.5 -79.3,20.1 -83,15.5 -85.6,10.6 -87.2,5.4 -87.7,0 -87.2,-6 -85.6,-11.7 -83,-17.2 -79.3,-22.4 -74.8,-27.3 -69.3,-31.8 -62.9,-35.9 -55.8,-39.6 -47.9,-42.7 -39.5,-45.4 -30.5,-47.5 -21,-49 -11.2,-49.9 -0.7,-50.2 9.8,-49.9 19.7,-49 29.1,-47.5 38.1,-45.4 46.6,-42.7 54.4,-39.6 61.5,-35.9 67.9,-31.8 73.4,-27.3 78,-22.4 81.6,-17.2 84.2,-11.7 85.8,-6Z"/>
<path fill="#ff2000" d="M83.3,0 82.8,5.3 81.2,10.3 78.7,15.1 75.2,19.6 70.8,23.9 65.5,27.8 59.4,31.4 52.5,34.6 45,37.4 36.8,39.7 28.1,41.5 19,42.8 9.4,43.6 -0.7,43.9 -10.9,43.6 -20.4,42.8 -29.6,41.5 -38.3,39.7 -46.4,37.4 -54,34.6 -60.9,31.4 -67,27.8 -72.3,23.9 -76.7,19.6 -80.2,15.1 -82.7,10.3 -84.2,5.3 -84.7,0 -84.2,-5.9 -82.7,-11.4 -80.2,-16.7 -76.7,-21.8 -72.3,-26.5 -67,-30.9 -60.9,-34.9 -54,-38.4 -46.4,-41.5 -38.3,-44.1 -29.6,-46.1 -20.4,-47.5 -10.9,-48.4 -0.7,-48.7 9.4,-48.4 19,-47.5 28.1,-46.1 36.8,-44.1 45,-41.5 52.5,-38.4 59.4,-34.9 65.5,-30.9 70.8,-26.5 75.2,-21.8 78.7,-16.7 81.2,-11.4 82.8,-5.9Z"/>
<path fill="#ff1a00" d="M80.2,0 79.7,5.2 78.3,10 75.8,14.6 72.5,19 68.2,23.2 63.1,27 57.2,30.5 50.6,33.6 43.3,36.2 35.5,38.5 27.1,40.2 18.3,41.5 9.1,42.3 -0.8,42.5 -10.6,42.3 -19.8,41.5 -28.7,40.2 -37,38.5 -44.9,36.2 -52.2,33.6 -58.8,30.5 -64.7,27 -69.8,23.2 -74,19 -77.4,14.6 -79.8,10 -81.3,5.2 -81.8,0 -81.3,-5.7 -79.8,-11.1 -77.4,-16.3 -74,-21.2 -69.8,-25.7 -64.7,-30 -58.8,-33.9 -52.2,-37.3 -44.9,-40.3 -37,-42.8 -28.7,-44.7 -19.8,-46.1 -10.6,-47 -0.8,-47.3 9.1,-47 18.3,-46.1 27.1,-44.7 35.5,-42.8 43.3,-40.3 50.6,-37.3 57.2,-33.9 63.1,-30 68.2,-25.7 72.5,-21.2 75.8,-16.3 78.3,-11.1 79.7,-5.7Z"/>
<path fill="#ff1400" d="M77.2,0 76.7,5 75.3,9.7 73,14.2 69.7,18.5 65.7,22.5 60.8,26.2 55.1,29.6 48.7,32.6 41.7,35.1 34.2,37.3 26.1,39 17.6,40.2 8.7,41 -0.8,41.2 -10.3,41 -19.2,40.2 -27.7,39 -35.8,37.3 -43.4,35.1 -50.4,32.6 -56.7,29.6 -62.4,26.2 -67.3,22.5 -71.4,18.5 -74.6,14.2 -76.9,9.7 -78.3,5 -78.8,0 -78.3,-5.6 -76.9,-10.8 -74.6,-15.8 -71.4,-20.5 -67.3,-25 -62.4,-29.1 -56.7,-32.8 -50.4,-36.2 -43.4,-39 -35.8,-41.5 -27.7,-43.3 -19.2,-44.7 -10.3,-45.5 -0.8,-45.8 8.7,-45.5 17.6,-44.7 26.1,-43.3 34.2,-41.5 41.7,-39 48.7,-36.2 55.1,-32.8 60.8,-29.1 65.7,-25 69.7,-20.5 73,-15.8 75.3,-10.8 76.7,-5.6Z"/>
<path fill="#ff0f00" d="M74.1,0 73.7,4.9 72.3,9.5 70.1,13.8 67,17.9 63.1,21.8 58.4,25.4 52.9,28.6 46.8,31.5 40.1,34 32.8,36.1 25.1,37.8 16.9,39 8.3,39.7 -0.9,39.9 -10.1,39.7 -18.6,39 -26.8,37.8 -34.5,36.1 -41.8,34 -48.5,31.5 -54.7,28.6 -60.1,25.4 -64.8,21.8 -68.7,17.9 -71.8,13.8 -74.1,9.5 -75.4,4.9 -75.9,0 -75.4,-5.4 -74.1,-10.5 -71.8,-15.3 -68.7,-19.9 -64.8,-24.2 -60.1,-28.2 -54.7,-31.8 -48.5,-35 -41.8,-37.8 -34.5,-40.1 -26.8,-42 -18.6,-43.3 -10.1,-44.1 -0.9,-44.4 8.3,-44.1 16.9,-43.3 25.1,-42 32.8,-40.1 40.1,-37.8 46.8,-35 52.9,-31.8 58.4,-28.2 63.1,-24.2 67,-19.9 70.1,-15.3 72.3,-10.5 73.7,-5.4Z"/>
<path fill="#ff0900" d="M71.1,0 70.7,4.8 69.4,9.2 67.2,13.4 64.3,17.4 60.5,21.1 56,24.6 50.8,27.7 44.9,30.5 38.5,32.9 31.5,35 24,36.5 16.2,37.7 8,38.4 -0.9,38.6 -9.8,38.4 -18,37.7 -25.9,36.5 -33.3,35 -40.3,32.9 -46.7,30.5 -52.6,27.7 -57.8,24.6 -62.3,21.1 -66.1,17.4 -69,13.4 -71.2,9.2 -72.5,4.8 -72.9,0 -72.5,-5.3 -71.2,-10.2 -69,-14.9 -66.1,-19.3 -62.3,-23.5 -57.8,-27.3 -52.6,-30.8 -46.7,-33.9 -40.3,-36.6 -33.3,-38.8 -25.9,-40.6 -18,-41.9 -9.8,-42.7 -0.9,-42.9 8,-42.7 16.2,-41.9 24,-40.6 31.5,-38.8 38.5,-36.6 44.9,-33.9 50.8,-30.8 56,-27.3 60.5,-23.5 64.3,-19.3 67.2,-14.9 69.4,-10.2 70.7,-5.3Z"/>
<path fill="#ff0300" d="M68,0 67.6,4.6 66.4,8.9 64.3,13 61.5,16.8 57.9,20.4 53.6,23.8 48.6,26.8 43,29.5 36.8,31.8 30.1,33.8 23,35.3 15.5,36.4 7.6,37.1 -1,37.3 -9.5,37.1 -17.4,36.4 -24.9,35.3 -32.1,33.8 -38.7,31.8 -44.9,29.5 -50.5,26.8 -55.5,23.8 -59.8,20.4 -63.4,16.8 -66.3,13 -68.3,8.9 -69.5,4.6 -70,0 -69.5,-5.1 -68.3,-9.9 -66.3,-14.4 -63.4,-18.7 -59.8,-22.7 -55.5,-26.4 -50.5,-29.8 -44.9,-32.8 -38.7,-35.4 -32.1,-37.5 -24.9,-39.2 -17.4,-40.5 -9.5,-41.2 -1,-41.5 7.6,-41.2 15.5,-40.5 23,-39.2 30.1,-37.5 36.8,-35.4 43,-32.8 48.6,-29.8 53.6,-26.4 57.9,-22.7 61.5,-18.7 64.3,-14.4 66.4,-9.9 67.6,-5.1Z"/>
<path fill="#ff0002" d="M65,0 64.6,4.5 63.4,8.6 61.5,12.5 58.8,16.3 55.3,19.7 51.2,23 46.4,25.9 41.1,28.5 35.2,30.7 28.8,32.6 22,34.1 14.8,35.1 7.2,35.8 -1,36 -9.2,35.8 -16.8,35.1 -24,34.1 -30.8,32.6 -37.2,30.7 -43.1,28.5 -48.4,25.9 -53.2,23 -57.3,19.7 -60.8,16.3 -63.5,12.5 -65.4,8.6 -66.6,4.5 -67,0 -66.6,-5 -65.4,-9.6 -63.5,-13.9 -60.8,-18.1 -57.3,-21.9 -53.2,-25.5 -48.4,-28.8 -43.1,-31.6 -37.2,-34.1 -30.8,-36.2 -24,-37.9 -16.8,-39 -9.2,-39.8 -1,-40 7.2,-39.8 14.8,-39 22,-37.9 28.8,-36.2 35.2,-34.1 41.1,-31.6 46.4,-28.8 51.2,-25.5 55.3,-21.9 58.8,-18.1 61.5,-13.9 63.4,-9.6 64.6,-5Z"/>
<path fill="#ff0005" d="M61.7,0 61.3,4.3 60.2,8.2 58.3,12 55.7,15.5 52.4,18.9 48.5,21.9 43.9,24.8 38.8,27.2 33.2,29.4 27.1,31.2 20.5,32.6 13.7,33.7 6.5,34.3 -1.3,34.5 -9.1,34.3 -16.3,33.7 -23.2,32.6 -29.7,31.2 -35.8,29.4 -41.4,27.2 -46.5,24.8 -51.1,21.9 -55,18.9 -58.3,15.5 -60.9,12 -62.8,8.2 -63.9,4.3 -64.3,0 -63.9,-4.7 -62.8,-9.1 -60.9,-13.3 -58.3,-17.2 -55,-21 -51.1,-24.4 -46.5,-27.5 -41.4,-30.3 -35.8,-32.7 -29.7,-34.7 -23.2,-36.3 -16.3,-37.4 -9.1,-38.1 -1.3,-38.3 6.5,-38.1 13.7,-37.4 20.5,-36.3 27.1,-34.7 33.2,-32.7 38.8,-30.3 43.9,-27.5 48.5,-24.4 52.4,-21 55.7,-17.2 58.3,-13.3 60.2,-9.1 61.3,-4.7Z"/>
<path fill="#ff0009" d="M58.4,0 58,4 56.9,7.8 55.2,11.4 52.7,14.8 49.5,18 45.8,20.9 41.4,23.6 36.5,26 31.1,28.1 25.3,29.8 19.1,31.2 12.6,32.2 5.7,32.8 -1.6,33 -9,32.8 -15.8,32.2 -22.3,31.2 -28.5,29.8 -34.4,28.1 -39.7,26 -44.6,23.6 -49,20.9 -52.8,18 -55.9,14.8 -58.4,11.4 -60.2,7.8 -61.3,4 -61.6,0 -61.3,-4.5 -60.2,-8.7 -58.4,-12.6 -55.9,-16.4 -52.8,-20 -49,-23.3 -44.6,-26.3 -39.7,-28.9 -34.4,-31.2 -28.5,-33.1 -22.3,-34.6 -15.8,-35.7 -9,-36.4 -1.6,-36.6 5.7,-36.4 12.6,-35.7 19.1,-34.6 25.3,-33.1 31.1,-31.2 36.5,-28.9 41.4,-26.3 45.8,-23.3 49.5,-20 52.7,-16.4 55.2,-12.6 56.9,-8.7 58,-4.5Z"/>
<path fill="#ff000c" d="M55.1,0 54.7,3.8 53.7,7.4 52,10.8 49.6,14.1 46.6,17.1 43,19.9 38.9,22.5 34.2,24.8 29.1,26.8 23.6,28.4 17.7,29.7 11.5,30.7 5,31.2 -1.9,31.4 -8.8,31.2 -15.3,30.7 -21.5,29.7 -27.4,28.4 -33,26.8 -38.1,24.8 -42.7,22.5 -46.9,19.9 -50.5,17.1 -53.5,14.1 -55.8,10.8 -57.5,7.4 -58.6,3.8 -58.9,0 -58.6,-4.2 -57.5,-8.2 -55.8,-12 -53.5,-15.6 -50.5,-19 -46.9,-22.2 -42.7,-25 -38.1,-27.6 -33,-29.8 -27.4,-31.6 -21.5,-33 -15.3,-34.1 -8.8,-34.7 -1.9,-34.9 5,-34.7 11.5,-34.1 17.7,-33 23.6,-31.6 29.1,-29.8 34.2,-27.6 38.9,-25 43,-22.2 46.6,-19 49.6,-15.6 52,-12 53.7,-8.2 54.7,-4.2Z"/>
<path fill="#ff0010" d="M51.8,0 51.4,3.6 50.5,7 48.8,10.3 46.6,13.3 43.7,16.3 40.3,18.9 36.4,21.4 32,23.6 27.1,25.5 21.9,27 16.3,28.3 10.4,29.2 4.3,29.7 -2.2,29.9 -8.7,29.7 -14.9,29.2 -20.7,28.3 -26.3,27 -31.6,25.5 -36.4,23.6 -40.9,21.4 -44.8,18.9 -48.2,16.3 -51.1,13.3 -53.3,10.3 -54.9,7 -55.9,3.6 -56.2,0 -55.9,-4 -54.9,-7.8 -53.3,-11.4 -51.1,-14.8 -48.2,-18.1 -44.8,-21 -40.9,-23.8 -36.4,-26.2 -31.6,-28.3 -26.3,-30 -20.7,-31.4 -14.9,-32.4 -8.7,-33 -2.2,-33.2 4.3,-33 10.4,-32.4 16.3,-31.4 21.9,-30 27.1,-28.3 32,-26.2 36.4,-23.8 40.3,-21 43.7,-18.1 46.6,-14.8 48.8,-11.4 50.5,-7.8 51.4,-4Z"/>
<path fill="#ff0013" d="M48.5,0 48.2,3.4 47.2,6.6 45.7,9.7 43.6,12.6 40.9,15.4 37.6,17.9 33.9,20.3 29.7,22.4 25.1,24.2 20.1,25.7 14.9,26.8 9.3,27.7 3.6,28.2 -2.5,28.4 -8.6,28.2 -14.4,27.7 -19.9,26.8 -25.2,25.7 -30.2,24.2 -34.8,22.4 -39,20.3 -42.7,17.9 -45.9,15.4 -48.6,12.6 -50.8,9.7 -52.3,6.6 -53.2,3.4 -53.5,0 -53.2,-3.8 -52.3,-7.3 -50.8,-10.8 -48.6,-14 -45.9,-17.1 -42.7,-19.9 -39,-22.5 -34.8,-24.8 -30.2,-26.8 -25.2,-28.5 -19.9,-29.8 -14.4,-30.8 -8.6,-31.3 -2.5,-31.5 3.6,-31.3 9.3,-30.8 14.9,-29.8 20.1,-28.5 25.1,-26.8 29.7,-24.8 33.9,-22.5 37.6,-19.9 40.9,-17.1 43.6,-14 45.7,-10.8 47.2,-7.3 48.2,-3.8Z"/>
<path fill="#ff0016" d="M45.2,0 44.9,3.2 44,6.2 42.5,9.1 40.5,11.9 38,14.5 34.9,17 31.4,19.2 27.5,21.1 23.1,22.8 18.4,24.3 13.5,25.4 8.3,26.2 2.8,26.7 -2.8,26.9 -8.5,26.7 -14,26.2 -19.2,25.4 -24.1,24.3 -28.8,22.8 -33.1,21.1 -37.1,19.2 -40.6,17 -43.7,14.5 -46.2,11.9 -48.2,9.1 -49.7,6.2 -50.6,3.2 -50.8,0 -50.6,-3.5 -49.7,-6.9 -48.2,-10.1 -46.2,-13.2 -43.7,-16.1 -40.6,-18.8 -37.1,-21.3 -33.1,-23.5 -28.8,-25.4 -24.1,-27 -19.2,-28.2 -14,-29.1 -8.5,-29.7 -2.8,-29.8 2.8,-29.7 8.3,-29.1 13.5,-28.2 18.4,-27 23.1,-25.4 27.5,-23.5 31.4,-21.3 34.9,-18.8 38,-16.1 40.5,-13.2 42.5,-10.1 44,-6.9 44.9,-3.5Z"/>
<path fill="#ff001a" d="M41.8,0 41.6,3 40.7,5.8 39.4,8.6 37.5,11.2 35.1,13.7 32.2,16 28.9,18.1 25.2,19.9 21.1,21.5 16.7,22.9 12.1,23.9 7.2,24.7 2.1,25.2 -3.2,25.3 -8.4,25.2 -13.5,24.7 -18.4,23.9 -23,22.9 -27.4,21.5 -31.5,19.9 -35.2,18.1 -38.5,16 -41.4,13.7 -43.8,11.2 -45.7,8.6 -47.1,5.8 -47.9,3 -48.2,0 -47.9,-3.3 -47.1,-6.5 -45.7,-9.5 -43.8,-12.4 -41.4,-15.2 -38.5,-17.7 -35.2,-20.1 -31.5,-22.1 -27.4,-23.9 -23,-25.4 -18.4,-26.6 -13.5,-27.5 -8.4,-28 -3.2,-28.2 2.1,-28 7.2,-27.5 12.1,-26.6 16.7,-25.4 21.1,-23.9 25.2,-22.1 28.9,-20.1 32.2,-17.7 35.1,-15.2 37.5,-12.4 39.4,-9.5 40.7,-6.5 41.6,-3.3Z"/>
<path fill="#ff001d" d="M38.5,0 38.3,2.8 37.5,5.5 36.2,8 34.5,10.5 32.2,12.8 29.5,15 26.4,17 23,18.7 19.2,20.2 15.1,21.5 10.7,22.5 6.2,23.2 1.4,23.7 -3.5,23.8 -8.4,23.7 -13.1,23.2 -17.6,22.5 -22,21.5 -26.1,20.2 -29.9,18.7 -33.4,17 -36.5,15 -39.1,12.8 -41.4,10.5 -43.1,8 -44.4,5.5 -45.2,2.8 -45.5,0 -45.2,-3.1 -44.4,-6.1 -43.1,-8.9 -41.4,-11.7 -39.1,-14.2 -36.5,-16.6 -33.4,-18.8 -29.9,-20.8 -26.1,-22.5 -22,-23.9 -17.6,-25 -13.1,-25.8 -8.4,-26.3 -3.5,-26.5 1.4,-26.3 6.2,-25.8 10.7,-25 15.1,-23.9 19.2,-22.5 23,-20.8 26.4,-18.8 29.5,-16.6 32.2,-14.2 34.5,-11.7 36.2,-8.9 37.5,-6.1 38.3,-3.1Z"/>
<path fill="#ff0021" d="M35.2,0 35,2.6 34.3,5.1 33.1,7.5 31.4,9.8 29.3,12 26.8,14 24,15.8 20.7,17.5 17.2,18.9 13.4,20.1 9.3,21.1 5.1,21.7 0.7,22.2 -3.8,22.3 -8.3,22.2 -12.6,21.7 -16.9,21.1 -20.9,20.1 -24.7,18.9 -28.3,17.5 -31.5,15.8 -34.4,14 -36.9,12 -39,9.8 -40.6,7.5 -41.8,5.1 -42.5,2.6 -42.8,0 -42.5,-2.9 -41.8,-5.6 -40.6,-8.3 -39,-10.9 -36.9,-13.3 -34.4,-15.6 -31.5,-17.6 -28.3,-19.4 -24.7,-21 -20.9,-22.4 -16.9,-23.4 -12.6,-24.2 -8.3,-24.6 -3.8,-24.8 0.7,-24.6 5.1,-24.2 9.3,-23.4 13.4,-22.4 17.2,-21 20.7,-19.4 24,-17.6 26.8,-15.6 29.3,-13.3 31.4,-10.9 33.1,-8.3 34.3,-5.6 35,-2.9Z"/>
<path fill="#ff0024" d="M31.9,0 31.7,2.4 31,4.7 29.9,6.9 28.4,9.1 26.5,11.1 24.1,13 21.5,14.7 18.5,16.3 15.2,17.6 11.7,18.7 8,19.6 4.1,20.3 0.1,20.6 -4.1,20.8 -8.2,20.6 -12.2,20.3 -16.1,19.6 -19.8,18.7 -23.4,17.6 -26.6,16.3 -29.6,14.7 -32.3,13 -34.6,11.1 -36.6,9.1 -38.1,6.9 -39.2,4.7 -39.9,2.4 -40.1,0 -39.9,-2.6 -39.2,-5.2 -38.1,-7.7 -36.6,-10.1 -34.6,-12.4 -32.3,-14.5 -29.6,-16.4 -26.6,-18.1 -23.4,-19.6 -19.8,-20.8 -16.1,-21.8 -12.2,-22.5 -8.2,-22.9 -4.1,-23.1 0.1,-22.9 4.1,-22.5 8,-21.8 11.7,-20.8 15.2,-19.6 18.5,-18.1 21.5,-16.4 24.1,-14.5 26.5,-12.4 28.4,-10.1 29.9,-7.7 31,-5.2 31.7,-2.6Z"/>
<path fill="#ff0028" d="M28.6,0 28.4,2.2 27.8,4.3 26.8,6.4 25.4,8.4 23.6,10.3 21.5,12 19,13.6 16.3,15.1 13.3,16.3 10,17.4 6.6,18.2 3,18.8 -0.6,19.1 -4.4,19.2 -8.1,19.1 -11.8,18.8 -15.4,18.2 -18.8,17.4 -22,16.3 -25,15.1 -27.8,13.6 -30.2,12 -32.4,10.3 -34.1,8.4 -35.5,6.4 -36.6,4.3 -37.2,2.2 -37.4,0 -37.2,-2.4 -36.6,-4.8 -35.5,-7.1 -34.1,-9.3 -32.4,-11.4 -30.2,-13.4 -27.8,-15.2 -25,-16.8 -22,-18.1 -18.8,-19.3 -15.4,-20.2 -11.8,-20.9 -8.1,-21.3 -4.4,-21.4 -0.6,-21.3 3,-20.9 6.6,-20.2 10,-19.3 13.3,-18.1 16.3,-16.8 19,-15.2 21.5,-13.4 23.6,-11.4 25.4,-9.3 26.8,-7.1 27.8,-4.8 28.4,-2.4Z"/>
<path fill="#ff002b" d="M25.3,0 25.1,2 24.6,4 23.6,5.9 22.3,7.7 20.7,9.5 18.8,11.1 16.5,12.5 14,13.9 11.3,15 8.4,16 5.3,16.7 2,17.3 -1.3,17.6 -4.7,17.7 -8.1,17.6 -11.4,17.3 -14.6,16.7 -17.8,16 -20.7,15 -23.4,13.9 -25.9,12.5 -28.2,11.1 -30.1,9.5 -31.7,7.7 -33,5.9 -33.9,4 -34.5,2 -34.7,0 -34.5,-2.2 -33.9,-4.4 -33,-6.5 -31.7,-8.6 -30.1,-10.5 -28.2,-12.3 -25.9,-13.9 -23.4,-15.4 -20.7,-16.7 -17.8,-17.7 -14.6,-18.6 -11.4,-19.2 -8.1,-19.6 -4.7,-19.7 -1.3,-19.6 2,-19.2 5.3,-18.6 8.4,-17.7 11.3,-16.7 14,-15.4 16.5,-13.9 18.8,-12.3 20.7,-10.5 22.3,-8.6 23.6,-6.5 24.6,-4.4 25.1,-2.2Z"/>
<path fill="#ff002f" d="M22,0 21.8,1.8 21.3,3.6 20.5,5.4 19.3,7 17.9,8.6 16.1,10.1 14.1,11.5 11.8,12.7 9.4,13.7 6.7,14.6 3.9,15.3 1,15.8 -2,16.1 -5,16.2 -8,16.1 -11,15.8 -13.9,15.3 -16.7,14.6 -19.4,13.7 -21.8,12.7 -24.1,11.5 -26.1,10.1 -27.9,8.6 -29.3,7 -30.5,5.4 -31.3,3.6 -31.8,1.8 -32,0 -31.8,-2 -31.3,-4 -30.5,-5.9 -29.3,-7.8 -27.9,-9.6 -26.1,-11.2 -24.1,-12.7 -21.8,-14.1 -19.4,-15.2 -16.7,-16.2 -13.9,-17 -11,-17.5 -8,-17.9 -5,-18 -2,-17.9 1,-17.5 3.9,-17 6.7,-16.2 9.4,-15.2 11.8,-14.1 14.1,-12.7 16.1,-11.2 17.9,-9.6 19.3,-7.8 20.5,-5.9 21.3,-4 21.8,-2Z"/>
<path fill="#ff0032" d="M19,0 18.8,1.6 18.4,3.2 17.7,4.8 16.6,6.2 15.3,7.7 13.8,9 12,10.2 10,11.3 7.8,12.2 5.4,13 2.9,13.6 0.3,14 -2.3,14.3 -5,14.4 -7.7,14.3 -10.3,14 -12.9,13.6 -15.4,13 -17.8,12.2 -20,11.3 -22,10.2 -23.8,9 -25.3,7.7 -26.6,6.2 -27.7,4.8 -28.4,3.2 -28.8,1.6 -29,0 -28.8,-1.8 -28.4,-3.6 -27.7,-5.3 -26.6,-6.9 -25.3,-8.5 -23.8,-10 -22,-11.3 -20,-12.5 -17.8,-13.5 -15.4,-14.4 -12.9,-15.1 -10.3,-15.6 -7.7,-15.9 -5,-16 -2.3,-15.9 0.3,-15.6 2.9,-15.1 5.4,-14.4 7.8,-13.5 10,-12.5 12,-11.3 13.8,-10 15.3,-8.5 16.6,-6.9 17.7,-5.3 18.4,-3.6 18.8,-1.8Z"/>
<path fill="#ff0035" d="M16,0 15.9,1.4 15.5,2.8 14.8,4.2 13.9,5.5 12.8,6.7 11.4,7.9 9.8,8.9 8.1,9.9 6.2,10.7 4.1,11.4 1.9,11.9 -0.3,12.3 -2.6,12.5 -5,12.6 -7.4,12.5 -9.7,12.3 -11.9,11.9 -14.1,11.4 -16.2,10.7 -18.1,9.9 -19.8,8.9 -21.4,7.9 -22.8,6.7 -23.9,5.5 -24.8,4.2 -25.5,2.8 -25.9,1.4 -26,0 -25.9,-1.6 -25.5,-3.1 -24.8,-4.6 -23.9,-6.1 -22.8,-7.4 -21.4,-8.7 -19.8,-9.9 -18.1,-10.9 -16.2,-11.9 -14.1,-12.6 -11.9,-13.2 -9.7,-13.6 -7.4,-13.9 -5,-14 -2.6,-13.9 -0.3,-13.6 1.9,-13.2 4.1,-12.6 6.2,-11.9 8.1,-10.9 9.8,-9.9 11.4,-8.7 12.8,-7.4 13.9,-6.1 14.8,-4.6 15.5,-3.1 15.9,-1.6Z"/>
<path fill="#ff0039" d="M13,0 12.9,1.2 12.5,2.4 12,3.6 11.2,4.7 10.2,5.7 9.1,6.7 7.7,7.6 6.2,8.4 4.6,9.1 2.8,9.7 0.9,10.2 -1,10.5 -3,10.7 -5,10.8 -7,10.7 -9,10.5 -10.9,10.2 -12.8,9.7 -14.6,9.1 -16.2,8.4 -17.7,7.6 -19.1,6.7 -20.2,5.7 -21.2,4.7 -22,3.6 -22.5,2.4 -22.9,1.2 -23,0 -22.9,-1.3 -22.5,-2.7 -22,-4 -21.2,-5.2 -20.2,-6.4 -19.1,-7.5 -17.7,-8.5 -16.2,-9.4 -14.6,-10.2 -12.8,-10.8 -10.9,-11.3 -9,-11.7 -7,-11.9 -5,-12 -3,-11.9 -1,-11.7 0.9,-11.3 2.8,-10.8 4.6,-10.2 6.2,-9.4 7.7,-8.5 9.1,-7.5 10.2,-6.4 11.2,-5.2 12,-4 12.5,-2.7 12.9,-1.3Z"/>
<path fill="#ff003c" d="M10,0 9.9,1 9.6,2 9.2,3 8.5,3.9 7.7,4.8 6.7,5.6 5.6,6.4 4.4,7 3,7.6 1.5,8.1 0,8.5 -1.7,8.8 -3.3,8.9 -5,9 -6.7,8.9 -8.3,8.8 -10,8.5 -11.5,8.1 -13,7.6 -14.4,7 -15.6,6.4 -16.7,5.6 -17.7,4.8 -18.5,3.9 -19.2,3 -19.6,2 -19.9,1 -20,0 -19.9,-1.1 -19.6,-2.2 -19.2,-3.3 -18.5,-4.3 -17.7,-5.3 -16.7,-6.2 -15.6,-7.1 -14.4,-7.8 -13,-8.5 -11.5,-9 -10,-9.4 -8.3,-9.7 -6.7,-9.9 -5,-10 -3.3,-9.9 -1.7,-9.7 0,-9.4 1.5,-9 3,-8.5 4.4,-7.8 5.6,-7.1 6.7,-6.2 7.7,-5.3 8.5,-4.3 9.2,-3.3 9.6,-2.2 9.9,-1.1Z"/>
<path fill="#ff003f" d="M7,0 6.9,0.8 6.7,1.6 6.3,2.4 5.8,3.1 5.2,3.8 4.4,4.5 3.5,5.1 2.5,5.6 1.4,6.1 0.2,6.5 -1,6.8 -2.3,7 -3.7,7.2 -6.3,7.2 -7.7,7 -9,6.8 -10.2,6.5 -11.4,6.1 -12.5,5.6 -13.5,5.1 -14.4,4.5 -15.2,3.8 -15.8,3.1 -16.3,2.4 -16.7,1.6 -16.9,0.8 -17,0 -16.9,-0.9 -16.7,-1.8 -16.3,-2.6 -15.8,-3.5 -15.2,-4.3 -14.4,-5 -13.5,-5.7 -12.5,-6.3 -11.4,-6.8 -9,-7.6 -7.7,-7.8 -6.3,-7.9 -5,-8 -3.7,-7.9 -2.3,-7.8 -1,-7.6 1.4,-6.8 2.5,-6.3 3.5,-5.7 4.4,-5 5.2,-4.3 5.8,-3.5 6.3,-2.6 6.7,-1.8 6.9,-0.9Z"/>
<path fill="#ff0043" d="M4,0 3.8,1.2 3.5,1.8 3.1,2.3 2.6,2.9 2,3.4 1.4,3.8 -0.2,4.6 -1.1,4.9 -2,5.1 -3,5.3 -4,5.4 -6,5.4 -7,5.3 -8,5.1 -8.9,4.9 -9.8,4.6 -11.4,3.8 -12,3.4 -12.6,2.9 -13.1,2.3 -13.5,1.8 -13.8,1.2 -14,0 -13.9,-0.7 -13.8,-1.3 -13.5,-2 -13.1,-2.6 -12.6,-3.2 -11.4,-4.2 -10.6,-4.7 -9.8,-5.1 -8,-5.7 -7,-5.8 -6,-6 -4,-6 -3,-5.8 -2,-5.7 -0.2,-5.1 0.6,-4.7 1.4,-4.2 2.6,-3.2 3.1,-2.6 3.5,-2 3.8,-1.3 3.9,-0.7Z"/>
<path fill="#ff0046" d="M1,0.4 0.8,0.8 0.7,1.2 0.4,1.6 0.1,1.9 -0.3,2.2 -1.3,2.8 -1.8,3 -3,3.4 -3.7,3.5 -4.3,3.6 -5.7,3.6 -6.3,3.5 -7,3.4 -8.2,3 -8.7,2.8 -9.7,2.2 -10.1,1.9 -10.4,1.6 -10.7,1.2 -10.8,0.8 -11,0.4 -11,-0.4 -10.8,-0.9 -10.7,-1.3 -10.1,-2.1 -9.7,-2.5 -8.2,-3.4 -7,-3.8 -6.3,-3.9 -5.7,-4 -4.3,-4 -3.7,-3.9 -3,-3.8 -1.8,-3.4 -0.3,-2.5 0.1,-2.1 0.7,-1.3 0.8,-0.9 1,-0.4Z"/>
<path fill="#ff0049" d="M-2,0.2 -2.3,0.8 -2.5,1 -2.7,1.1 -2.9,1.3 -3.1,1.4 -4.3,1.8 -5.7,1.8 -6.9,1.4 -7.1,1.3 -7.3,1.1 -7.5,1 -7.7,0.8 -8,0.2 -8,-0.2 -7.9,-0.4 -7.8,-0.7 -7.7,-0.9 -7.5,-1.1 -7.3,-1.2 -6.9,-1.6 -6,-1.9 -5.7,-1.9 -5.3,-2 -4.7,-2 -4.3,-1.9 -4,-1.9 -3.1,-1.6 -2.7,-1.2 -2.5,-1.1 -2.3,-0.9 -2.2,-0.7 -2.1,-0.4 -2,-0.2Z"/>
</g></g>
<g stroke="#fff" fill="none">
<line x1="1053.5" y1="441" x2="1053.5" y2="710" stroke-width="2.6" stroke-opacity="0.15"/>
<line x1="1083.3" y1="441" x2="1083.3" y2="710" stroke-width="2.6" stroke-opacity="0.15"/>
<line x1="1113.1" y1="441" x2="1113.1" y2="710" stroke-width="2.6" stroke-opacity="0.15"/>
<line x1="1142.9" y1="441" x2="1142.9" y2="710" stroke-width="2.6" stroke-opacity="0.15"/>
<line x1="1172.7" y1="441" x2="1172.7" y2="710" stroke-width="2.6" stroke-opacity="0.15"/>
<line x1="1202.5" y1="441" x2="1202.5" y2="710" stroke-width="2.6" stroke-opacity="0.15"/>
<line x1="1232.3" y1="441" x2="1232.3" y2="710" stroke-width="2.6" stroke-opacity="0.15"/>
<line x1="1262.1" y1="441" x2="1262.1" y2="710" stroke-width="2.6" stroke-opacity="0.15"/>
<line x1="1291.9" y1="441" x2="1291.9" y2="710" stroke-width="2.6" stroke-opacity="0.15"/>
<line x1="1321.7" y1="441" x2="1321.7" y2="710" stroke-width="2.6" stroke-opacity="0.15"/>
<line x1="1351.5" y1="441" x2="1351.5" y2="710" stroke-width="2.6" stroke-opacity="0.15"/>
<line x1="1381.3" y1="441" x2="1381.3" y2="710" stroke-width="2.6" stroke-opacity="0.15"/>
<line x1="1411.1" y1="441" x2="1411.1" y2="710" stroke-width="2.6" stroke-opacity="0.15"/>
<line x1="1440.9" y1="441" x2="1440.9" y2="710" stroke-width="2.6" stroke-opacity="0.15"/>
<line x1="1470.7" y1="441" x2="1470.7" y2="710" stroke-width="2.6" stroke-opacity="0.15"/>
<line x1="1500.5" y1="441" x2="1500.5" y2="710" stroke-width="2.6" stroke-opacity="0.15"/>
<line x1="1530.3" y1="441" x2="1530.3" y2="710" stroke-width="2.6" stroke-opacity="0.15"/>
<line x1="1560.1" y1="441" x2="1560.1" y2="710" stroke-width="2.6" stroke-opacity="0.15"/>
<line x1="1589.9" y1="441" x2="1589.9" y2="710" stroke-width="2.6" stroke-opacity="0.15"/>
<line x1="1619.7" y1="441" x2="1619.7" y2="710" stroke-width="2.6" stroke-opacity="0.15"/>
<line x1="1649.5" y1="441" x2="1649.5" y2="710" stroke-width="2.6" stroke-opacity="0.15"/>
<line x1="1679.3" y1="441" x2="1679.3" y2="710" stroke-width="2.6" stroke-opacity="0.15"/>
<line x1="1709.1" y1="441" x2="1709.1" y2="710" stroke-width="2.6" stroke-opacity="0.15"/>
<line x1="1738.9" y1="441" x2="1738.9" y2="710" stroke-width="2.6" stroke-opacity="0.15"/>
<line x1="1768.7" y1="441" x2="1768.7" y2="710" stroke-width="2.6" stroke-opacity="0.15"/>
<line x1="1798.5" y1="441" x2="1798.5" y2="710" stroke-width="2.6" stroke-opacity="0.15"/>
<line x1="1828.3" y1="441" x2="1828.3" y2="710" stroke-width="2.6" stroke-opacity="0.15"/>
<line x1="1858.1" y1="441" x2="1858.1" y2="710" stroke-width="2.6" stroke-opacity="0.15"/>
<line x1="1887.9" y1="441" x2="1887.9" y2="710" stroke-width="2.6" stroke-opacity="0.15"/>
<line x1="1917.7" y1="441" x2="1917.7" y2="710" stroke-width="2.6" stroke-opacity="0.15"/>
<line x1="1947.5" y1="441" x2="1947.5" y2="710" stroke-width="2.6" stroke-opacity="0.15"/>
<line x1="1977.3" y1="441" x2="1977.3" y2="710" stroke-width="2.6" stroke-opacity="0.15"/>
<line x1="2007.1" y1="441" x2="2007.1" y2="710" stroke-width="2.6" stroke-opacity="0.15"/>
<line x1="2036.9" y1="441" x2="2036.9" y2="710" stroke-width="2.6" stroke-opacity="0.15"/>
<line x1="2066.7" y1="441" x2="2066.7" y2="710" stroke-width="2.6" stroke-opacity="0.15"/>
<line x1="2096.5" y1="441" x2="2096.5" y2="710" stroke-width="2.6" stroke-opacity="0.15"/>
<line x1="2126.3" y1="441" x2="2126.3" y2="710" stroke-width="2.6" stroke-opacity="0.15"/>
<line x1="2156.1" y1="441" x2="2156.1" y2="710" stroke-width="2.6" stroke-opacity="0.15"/>
<line x1="2185.9" y1="441" x2="2185.9" y2="710" stroke-width="2.6" stroke-opacity="0.15"/>
<line x1="2215.7" y1="441" x2="2215.7" y2="710" stroke-width="2.6" stroke-opacity="0.15"/>
<line x1="2245.5" y1="441" x2="2245.5" y2="710" stroke-width="2.6" stroke-opacity="0.15"/>
<line x1="2275.3" y1="441" x2="2275.3" y2="710" stroke-width="2.6" stroke-opacity="0.15"/>
<line x1="2305.1" y1="441" x2="2305.1" y2="710" stroke-width="2.6" stroke-opacity="0.15"/>
<line x1="2334.9" y1="441" x2="2334.9" y2="710" stroke-width="2.6" stroke-opacity="0.15"/>
<line x1="2364.7" y1="441" x2="2364.7" y2="710" stroke-width="2.6" stroke-opacity="0.15"/>
<line x1="2394.5" y1="441" x2="2394.5" y2="710" stroke-width="2.6" stroke-opacity="0.15"/>
<line x1="2424.3" y1="441" x2="2424.3" y2="710" stroke-width="2.6" stroke-opacity="0.15"/>
<line x1="1023" y1="507" x2="2452" y2="507" stroke-width="2.5" stroke-opacity="0.16"/>
<line x1="1023" y1="575" x2="2452" y2="575" stroke-width="2.5" stroke-opacity="0.16"/>
<line x1="1023" y1="648" x2="2452" y2="648" stroke-width="2.5" stroke-opacity="0.16"/>
<line x1="1498.5" y1="441" x2="1498.5" y2="710" stroke-width="3" stroke-opacity="0.75"/>
<line x1="1976" y1="441" x2="1976" y2="710" stroke-width="3" stroke-opacity="0.75"/>
<line x1="1023" y1="442" x2="2452" y2="442" stroke="#ccc" stroke-width="3" stroke-opacity="0.45"/>
</g>
<rect x="2453" y="441" width="11" height="269" fill="url(#cb)"/>
</g>
<text x="1037.5" y="430" font-family="'Liberation Sans',sans-serif" font-size="35" fill="#231815" textLength="232" lengthAdjust="spacingAndGlyphs">LWD=20mm</text>
<text x="1364" y="433" font-family="'Liberation Sans',sans-serif" font-size="37" fill="#231815" textLength="135" lengthAdjust="spacingAndGlyphs">10.0mn</text>
<text x="1520.5" y="431.5" font-family="'Liberation Sans',sans-serif" font-size="35" fill="#231815" textLength="233" lengthAdjust="spacingAndGlyphs">LWD=40mm</text>
<text x="1840" y="431.5" font-family="'Liberation Sans',sans-serif" font-size="37" fill="#231815" textLength="134" lengthAdjust="spacingAndGlyphs">10.0mn</text>
<text x="2003.5" y="431.5" font-family="'Liberation Sans',sans-serif" font-size="35" fill="#231815" textLength="232" lengthAdjust="spacingAndGlyphs">LWD=60mm</text>
<text x="2320" y="431.5" font-family="'Liberation Sans',sans-serif" font-size="37" fill="#231815" textLength="135" lengthAdjust="spacingAndGlyphs">10.0mn</text>
<text x="2468.5" y="461.5" font-family="'Liberation Sans',sans-serif" font-size="25" fill="#231815" letter-spacing="1.2">100</text>
<text x="2468.5" y="592.5" font-family="'Liberation Sans',sans-serif" font-size="25" fill="#231815" letter-spacing="1.2">50</text>
<text x="2468.5" y="702" font-family="'Liberation Sans',sans-serif" font-size="25" fill="#231815" letter-spacing="1.2">10</text>
<text transform="translate(2545,718) rotate(-90)" font-family="'Liberation Serif',serif" font-size="33" fill="#666" stroke="#666" stroke-width="0.5" textLength="269" lengthAdjust="spacing">Output level(%)</text>
</svg>
</body></html>
